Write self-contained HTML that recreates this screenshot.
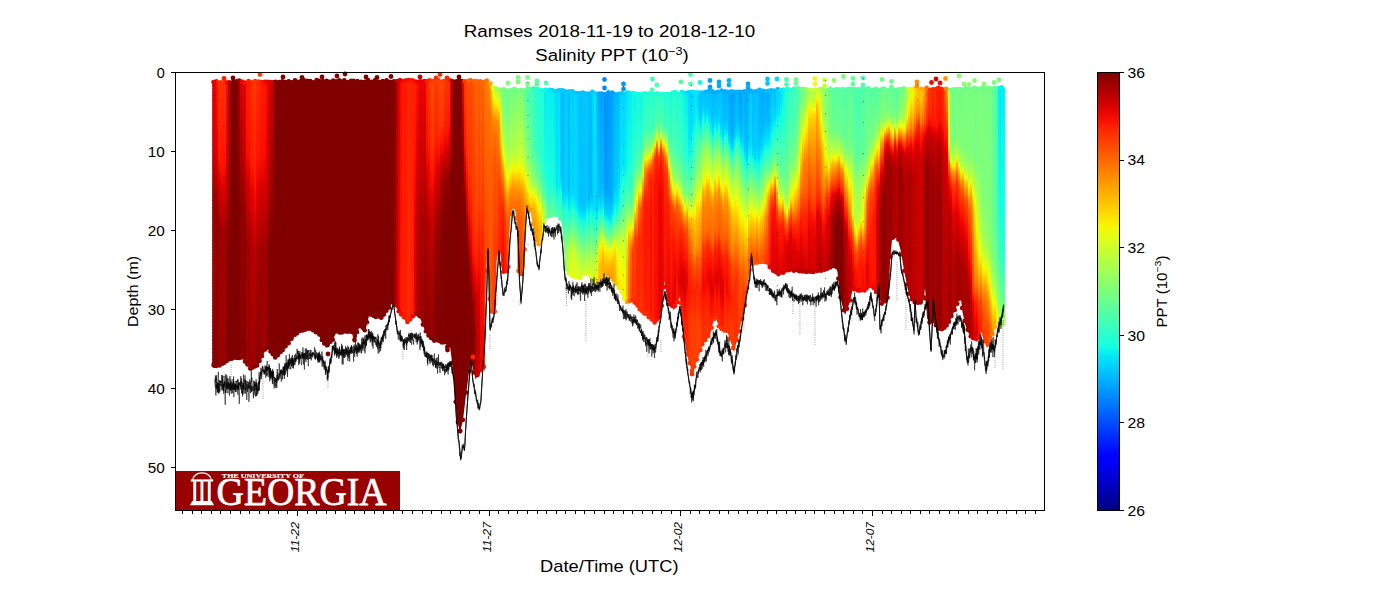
<!DOCTYPE html>
<html><head><meta charset="utf-8"><title>Ramses Salinity</title>
<style>html,body{margin:0;padding:0;background:#fff;overflow:hidden}svg{display:block}text{font-family:"Liberation Sans",sans-serif;fill:#000}</style></head>
<body>
<svg width="1400" height="600" viewBox="0 0 1400 600">
<rect width="1400" height="600" fill="#fff"/>
<defs>
<clipPath id="cp"><polygon points="212.5,81.0 300.0,80.5 400.0,80.0 486.0,80.0 490.0,82.0 494.0,88.0 500.0,89.0 530.0,88.5 560.0,90.0 580.0,91.5 600.0,92.5 660.0,93.0 700.0,91.0 760.0,90.0 800.0,88.5 900.0,88.5 1005.0,87.5 1005.0,325.0 1000.0,325.0 995.5,327.0 993.0,334.0 990.0,342.0 987.0,348.0 983.0,338.0 981.0,330.5 979.0,339.0 975.0,340.5 971.0,338.0 968.0,332.0 965.0,324.0 962.5,312.0 961.0,300.0 959.0,300.0 955.0,310.0 950.0,321.0 946.0,327.0 943.0,330.5 939.0,330.0 936.0,326.0 933.0,322.0 929.5,323.0 927.0,318.0 926.0,300.0 925.0,288.0 924.0,298.0 922.0,304.0 917.0,304.0 913.0,302.0 910.0,297.5 907.5,288.0 904.0,270.0 901.0,252.0 898.0,240.0 895.0,236.0 892.0,240.0 890.0,262.0 889.0,288.0 887.5,299.0 885.0,302.0 882.0,306.0 880.0,300.0 877.5,294.0 870.0,285.0 865.0,292.0 852.5,290.0 850.0,302.0 845.0,315.0 840.0,297.0 837.5,272.0 835.0,266.0 825.0,271.0 810.0,273.0 790.0,271.0 778.0,275.0 772.0,272.0 766.0,263.0 754.0,264.0 751.0,266.0 749.0,275.0 745.0,305.0 739.0,332.0 734.0,352.0 727.5,332.0 720.0,330.0 715.0,315.0 710.0,335.0 702.5,345.0 697.5,360.0 692.0,372.0 687.0,355.0 682.5,330.0 680.0,297.0 674.0,310.0 667.5,302.0 664.5,281.0 663.0,300.0 660.0,317.0 655.0,324.0 640.0,310.0 632.0,300.0 626.0,304.0 620.0,290.0 607.0,274.0 595.0,285.0 587.5,272.0 580.0,279.0 570.0,276.0 565.0,270.0 563.5,240.0 562.0,226.0 560.0,217.0 552.0,216.0 545.0,218.0 543.5,226.0 542.0,240.0 539.0,246.0 536.0,242.0 534.5,236.0 533.0,225.0 530.5,212.0 528.0,206.0 526.0,212.0 525.0,232.0 524.5,268.0 523.0,274.0 521.0,276.0 519.0,274.0 517.5,268.0 517.0,225.0 515.5,212.0 513.0,206.0 510.5,215.0 509.0,240.0 508.5,268.0 507.0,272.0 505.0,273.5 503.0,272.0 501.5,268.0 501.0,258.0 500.0,252.0 498.0,253.0 496.5,262.0 496.0,309.0 494.0,314.0 491.0,313.0 489.8,310.0 489.3,285.0 487.5,250.0 485.8,285.0 485.0,372.0 483.0,366.0 480.0,374.0 475.5,379.0 470.8,360.0 469.0,372.0 466.0,395.0 463.0,420.0 460.0,432.5 457.0,420.0 453.0,370.0 450.0,346.0 448.0,351.0 446.0,344.0 432.0,341.0 426.0,333.0 420.0,318.0 415.0,315.0 408.0,324.0 400.0,314.0 393.0,302.0 382.0,319.0 369.0,316.0 365.0,332.0 360.0,326.0 357.0,333.0 354.0,339.0 352.0,333.0 336.0,333.0 332.0,342.0 326.0,348.0 318.0,334.0 309.0,329.0 298.0,333.0 290.0,342.0 284.0,350.0 275.0,359.0 267.0,347.0 258.0,366.0 250.0,369.0 242.0,358.0 230.0,360.0 220.0,366.0 212.5,367.0"/></clipPath>
<clipPath id="ax"><rect x="176" y="73" width="868.5" height="437"/></clipPath>
<linearGradient id="g0" gradientUnits="userSpaceOnUse" x1="0" y1="74" x2="0" y2="440"><stop offset="0" stop-color="#d50000"/><stop offset="0.23" stop-color="#b50000"/><stop offset="0.361" stop-color="#900000"/><stop offset="0.557" stop-color="#960000"/><stop offset="0.885" stop-color="#830000"/><stop offset="0.995" stop-color="#830000"/></linearGradient>
<linearGradient id="g1" gradientUnits="userSpaceOnUse" x1="0" y1="74" x2="0" y2="440"><stop offset="0" stop-color="#f40a00"/><stop offset="0.23" stop-color="#d60000"/><stop offset="0.372" stop-color="#9b0000"/><stop offset="0.492" stop-color="#9b0000"/><stop offset="0.907" stop-color="#870000"/><stop offset="0.995" stop-color="#870000"/></linearGradient>
<linearGradient id="g2" gradientUnits="userSpaceOnUse" x1="0" y1="74" x2="0" y2="440"><stop offset="0" stop-color="#ff1600"/><stop offset="0.208" stop-color="#e50000"/><stop offset="0.383" stop-color="#890000"/><stop offset="0.601" stop-color="#8b0000"/><stop offset="0.842" stop-color="#800000"/><stop offset="0.995" stop-color="#800000"/></linearGradient>
<linearGradient id="g3" gradientUnits="userSpaceOnUse" x1="0" y1="74" x2="0" y2="440"><stop offset="0" stop-color="#ff3100"/><stop offset="0.23" stop-color="#ff1700"/><stop offset="0.284" stop-color="#e20000"/><stop offset="0.415" stop-color="#9a0000"/><stop offset="0.623" stop-color="#a00000"/><stop offset="0.863" stop-color="#8e0000"/><stop offset="0.995" stop-color="#8e0000"/></linearGradient>
<linearGradient id="g4" gradientUnits="userSpaceOnUse" x1="0" y1="74" x2="0" y2="440"><stop offset="0" stop-color="#ff3200"/><stop offset="0.24" stop-color="#ff1600"/><stop offset="0.306" stop-color="#de0000"/><stop offset="0.437" stop-color="#9b0000"/><stop offset="0.634" stop-color="#a20000"/><stop offset="0.863" stop-color="#8f0000"/><stop offset="0.995" stop-color="#8f0000"/></linearGradient>
<linearGradient id="g5" gradientUnits="userSpaceOnUse" x1="0" y1="74" x2="0" y2="440"><stop offset="0" stop-color="#ff3200"/><stop offset="0.251" stop-color="#fe1200"/><stop offset="0.317" stop-color="#dc0000"/><stop offset="0.448" stop-color="#9b0000"/><stop offset="0.656" stop-color="#a10000"/><stop offset="0.885" stop-color="#8e0000"/><stop offset="0.995" stop-color="#8e0000"/></linearGradient>
<linearGradient id="g6" gradientUnits="userSpaceOnUse" x1="0" y1="74" x2="0" y2="440"><stop offset="0" stop-color="#ff3700"/><stop offset="0.23" stop-color="#ff1500"/><stop offset="0.306" stop-color="#de0000"/><stop offset="0.426" stop-color="#a10000"/><stop offset="0.634" stop-color="#a80000"/><stop offset="0.852" stop-color="#950000"/><stop offset="0.995" stop-color="#950000"/></linearGradient>
<linearGradient id="g7" gradientUnits="userSpaceOnUse" x1="0" y1="74" x2="0" y2="440"><stop offset="0" stop-color="#f50b00"/><stop offset="0.23" stop-color="#d50000"/><stop offset="0.426" stop-color="#930000"/><stop offset="0.689" stop-color="#800000"/><stop offset="0.995" stop-color="#800000"/></linearGradient>
<linearGradient id="g8" gradientUnits="userSpaceOnUse" x1="0" y1="74" x2="0" y2="440"><stop offset="0" stop-color="#c40000"/><stop offset="0.273" stop-color="#ae0000"/><stop offset="0.525" stop-color="#800000"/><stop offset="0.995" stop-color="#800000"/></linearGradient>
<linearGradient id="g9" gradientUnits="userSpaceOnUse" x1="0" y1="74" x2="0" y2="440"><stop offset="0" stop-color="#a40000"/><stop offset="0.372" stop-color="#800000"/><stop offset="0.995" stop-color="#800000"/></linearGradient>
<linearGradient id="g10" gradientUnits="userSpaceOnUse" x1="0" y1="74" x2="0" y2="440"><stop offset="0" stop-color="#db0000"/><stop offset="0.208" stop-color="#af0000"/><stop offset="0.372" stop-color="#8b0000"/><stop offset="0.612" stop-color="#910000"/><stop offset="0.831" stop-color="#800000"/><stop offset="0.995" stop-color="#800000"/></linearGradient>
<linearGradient id="g11" gradientUnits="userSpaceOnUse" x1="0" y1="74" x2="0" y2="440"><stop offset="0" stop-color="#e40000"/><stop offset="0.23" stop-color="#b80000"/><stop offset="0.361" stop-color="#950000"/><stop offset="0.514" stop-color="#930000"/><stop offset="0.874" stop-color="#830000"/><stop offset="0.995" stop-color="#830000"/></linearGradient>
<linearGradient id="g12" gradientUnits="userSpaceOnUse" x1="0" y1="74" x2="0" y2="440"><stop offset="0" stop-color="#e70000"/><stop offset="0.208" stop-color="#cc0000"/><stop offset="0.383" stop-color="#900000"/><stop offset="0.459" stop-color="#870000"/><stop offset="0.601" stop-color="#8b0000"/><stop offset="0.929" stop-color="#810000"/><stop offset="0.995" stop-color="#810000"/></linearGradient>
<linearGradient id="g13" gradientUnits="userSpaceOnUse" x1="0" y1="74" x2="0" y2="440"><stop offset="0" stop-color="#ff1b00"/><stop offset="0.208" stop-color="#fa0f00"/><stop offset="0.273" stop-color="#df0000"/><stop offset="0.459" stop-color="#a10000"/><stop offset="0.634" stop-color="#a30000"/><stop offset="0.995" stop-color="#9b0000"/></linearGradient>
<linearGradient id="g14" gradientUnits="userSpaceOnUse" x1="0" y1="74" x2="0" y2="440"><stop offset="0" stop-color="#ff1f00"/><stop offset="0.208" stop-color="#fb1000"/><stop offset="0.284" stop-color="#dc0000"/><stop offset="0.459" stop-color="#a20000"/><stop offset="0.689" stop-color="#990000"/><stop offset="0.995" stop-color="#940000"/></linearGradient>
<linearGradient id="g15" gradientUnits="userSpaceOnUse" x1="0" y1="74" x2="0" y2="440"><stop offset="0" stop-color="#ff2e00"/><stop offset="0.24" stop-color="#ff1700"/><stop offset="0.339" stop-color="#de0000"/><stop offset="0.47" stop-color="#b20000"/><stop offset="0.885" stop-color="#9b0000"/><stop offset="0.995" stop-color="#9b0000"/></linearGradient>
<linearGradient id="g16" gradientUnits="userSpaceOnUse" x1="0" y1="74" x2="0" y2="440"><stop offset="0" stop-color="#ff3300"/><stop offset="0.24" stop-color="#ff1a00"/><stop offset="0.339" stop-color="#e40000"/><stop offset="0.481" stop-color="#b30000"/><stop offset="0.863" stop-color="#950000"/><stop offset="0.995" stop-color="#950000"/></linearGradient>
<linearGradient id="g17" gradientUnits="userSpaceOnUse" x1="0" y1="74" x2="0" y2="440"><stop offset="0" stop-color="#ff3e00"/><stop offset="0.251" stop-color="#ff2300"/><stop offset="0.328" stop-color="#f80d00"/><stop offset="0.404" stop-color="#da0000"/><stop offset="0.492" stop-color="#bd0000"/><stop offset="0.842" stop-color="#970000"/><stop offset="0.995" stop-color="#970000"/></linearGradient>
<linearGradient id="g18" gradientUnits="userSpaceOnUse" x1="0" y1="74" x2="0" y2="440"><stop offset="0" stop-color="#ff2c00"/><stop offset="0.24" stop-color="#ff1300"/><stop offset="0.339" stop-color="#dd0000"/><stop offset="0.492" stop-color="#a70000"/><stop offset="0.842" stop-color="#830000"/><stop offset="0.995" stop-color="#830000"/></linearGradient>
<linearGradient id="g19" gradientUnits="userSpaceOnUse" x1="0" y1="74" x2="0" y2="440"><stop offset="0" stop-color="#ff2a00"/><stop offset="0.23" stop-color="#ff1400"/><stop offset="0.317" stop-color="#e00000"/><stop offset="0.492" stop-color="#a80000"/><stop offset="0.863" stop-color="#8f0000"/><stop offset="0.995" stop-color="#8f0000"/></linearGradient>
<linearGradient id="g20" gradientUnits="userSpaceOnUse" x1="0" y1="74" x2="0" y2="440"><stop offset="0" stop-color="#ff1e00"/><stop offset="0.23" stop-color="#f80d00"/><stop offset="0.306" stop-color="#da0000"/><stop offset="0.503" stop-color="#9e0000"/><stop offset="0.743" stop-color="#920000"/><stop offset="0.995" stop-color="#8f0000"/></linearGradient>
<linearGradient id="g21" gradientUnits="userSpaceOnUse" x1="0" y1="74" x2="0" y2="440"><stop offset="0" stop-color="#ff1a00"/><stop offset="0.23" stop-color="#f80d00"/><stop offset="0.306" stop-color="#d90000"/><stop offset="0.492" stop-color="#9f0000"/><stop offset="0.689" stop-color="#9f0000"/><stop offset="0.995" stop-color="#980000"/></linearGradient>
<linearGradient id="g22" gradientUnits="userSpaceOnUse" x1="0" y1="74" x2="0" y2="440"><stop offset="0" stop-color="#ff1800"/><stop offset="0.219" stop-color="#f60c00"/><stop offset="0.295" stop-color="#d80000"/><stop offset="0.492" stop-color="#a00000"/><stop offset="0.689" stop-color="#a20000"/><stop offset="0.995" stop-color="#9d0000"/></linearGradient>
<linearGradient id="g23" gradientUnits="userSpaceOnUse" x1="0" y1="74" x2="0" y2="440"><stop offset="0" stop-color="#f80d00"/><stop offset="0.23" stop-color="#e10000"/><stop offset="0.503" stop-color="#960000"/><stop offset="0.995" stop-color="#900000"/></linearGradient>
<linearGradient id="g24" gradientUnits="userSpaceOnUse" x1="0" y1="74" x2="0" y2="440"><stop offset="0" stop-color="#df0000"/><stop offset="0.24" stop-color="#c00000"/><stop offset="0.503" stop-color="#800000"/><stop offset="0.995" stop-color="#800000"/></linearGradient>
<linearGradient id="g25" gradientUnits="userSpaceOnUse" x1="0" y1="74" x2="0" y2="440"><stop offset="0" stop-color="#d10000"/><stop offset="0.306" stop-color="#a30000"/><stop offset="0.47" stop-color="#800000"/><stop offset="0.995" stop-color="#800000"/></linearGradient>
<linearGradient id="g26" gradientUnits="userSpaceOnUse" x1="0" y1="74" x2="0" y2="440"><stop offset="0" stop-color="#c70000"/><stop offset="0.393" stop-color="#8b0000"/><stop offset="0.481" stop-color="#800000"/><stop offset="0.995" stop-color="#800000"/></linearGradient>
<linearGradient id="g27" gradientUnits="userSpaceOnUse" x1="0" y1="74" x2="0" y2="440"><stop offset="0" stop-color="#8d0000"/><stop offset="0.896" stop-color="#9f0000"/><stop offset="0.995" stop-color="#9f0000"/></linearGradient>
<linearGradient id="g28" gradientUnits="userSpaceOnUse" x1="0" y1="74" x2="0" y2="440"><stop offset="0" stop-color="#ae0000"/><stop offset="0.842" stop-color="#c30000"/><stop offset="0.995" stop-color="#c30000"/></linearGradient>
<linearGradient id="g29" gradientUnits="userSpaceOnUse" x1="0" y1="74" x2="0" y2="440"><stop offset="0" stop-color="#dc0000"/><stop offset="0.94" stop-color="#ee0500"/><stop offset="0.995" stop-color="#ee0500"/></linearGradient>
<linearGradient id="g30" gradientUnits="userSpaceOnUse" x1="0" y1="74" x2="0" y2="440"><stop offset="0" stop-color="#f40a00"/><stop offset="0.689" stop-color="#ff1500"/><stop offset="0.995" stop-color="#ff1500"/></linearGradient>
<linearGradient id="g31" gradientUnits="userSpaceOnUse" x1="0" y1="74" x2="0" y2="440"><stop offset="0" stop-color="#ff1900"/><stop offset="0.995" stop-color="#ff2200"/></linearGradient>
<linearGradient id="g32" gradientUnits="userSpaceOnUse" x1="0" y1="74" x2="0" y2="440"><stop offset="0" stop-color="#ff1400"/><stop offset="0.995" stop-color="#ff1d00"/></linearGradient>
<linearGradient id="g33" gradientUnits="userSpaceOnUse" x1="0" y1="74" x2="0" y2="440"><stop offset="0" stop-color="#ff1f00"/><stop offset="0.995" stop-color="#ff2800"/></linearGradient>
<linearGradient id="g34" gradientUnits="userSpaceOnUse" x1="0" y1="74" x2="0" y2="440"><stop offset="0" stop-color="#ff2600"/><stop offset="0.995" stop-color="#ff2f00"/></linearGradient>
<linearGradient id="g35" gradientUnits="userSpaceOnUse" x1="0" y1="74" x2="0" y2="440"><stop offset="0" stop-color="#ff1e00"/><stop offset="0.995" stop-color="#ff2800"/></linearGradient>
<linearGradient id="g36" gradientUnits="userSpaceOnUse" x1="0" y1="74" x2="0" y2="440"><stop offset="0" stop-color="#ff2400"/><stop offset="0.612" stop-color="#ff1900"/><stop offset="0.995" stop-color="#ff1a00"/></linearGradient>
<linearGradient id="g37" gradientUnits="userSpaceOnUse" x1="0" y1="74" x2="0" y2="440"><stop offset="0" stop-color="#ff2200"/><stop offset="0.24" stop-color="#fa0f00"/><stop offset="0.404" stop-color="#e30000"/><stop offset="0.798" stop-color="#d80000"/><stop offset="0.995" stop-color="#d80000"/></linearGradient>
<linearGradient id="g38" gradientUnits="userSpaceOnUse" x1="0" y1="74" x2="0" y2="440"><stop offset="0" stop-color="#ff1400"/><stop offset="0.262" stop-color="#df0000"/><stop offset="0.426" stop-color="#c10000"/><stop offset="0.743" stop-color="#af0000"/><stop offset="0.995" stop-color="#af0000"/></linearGradient>
<linearGradient id="g39" gradientUnits="userSpaceOnUse" x1="0" y1="74" x2="0" y2="440"><stop offset="0" stop-color="#f00600"/><stop offset="0.262" stop-color="#cc0000"/><stop offset="0.415" stop-color="#b00000"/><stop offset="0.721" stop-color="#9f0000"/><stop offset="0.995" stop-color="#9f0000"/></linearGradient>
<linearGradient id="g40" gradientUnits="userSpaceOnUse" x1="0" y1="74" x2="0" y2="440"><stop offset="0" stop-color="#ec0300"/><stop offset="0.251" stop-color="#c90000"/><stop offset="0.404" stop-color="#ad0000"/><stop offset="0.71" stop-color="#9b0000"/><stop offset="0.995" stop-color="#9b0000"/></linearGradient>
<linearGradient id="g41" gradientUnits="userSpaceOnUse" x1="0" y1="74" x2="0" y2="440"><stop offset="0" stop-color="#ef0600"/><stop offset="0.251" stop-color="#cc0000"/><stop offset="0.404" stop-color="#b00000"/><stop offset="0.721" stop-color="#9e0000"/><stop offset="0.995" stop-color="#9e0000"/></linearGradient>
<linearGradient id="g42" gradientUnits="userSpaceOnUse" x1="0" y1="74" x2="0" y2="440"><stop offset="0" stop-color="#eb0200"/><stop offset="0.23" stop-color="#c90000"/><stop offset="0.393" stop-color="#a10000"/><stop offset="0.689" stop-color="#880000"/><stop offset="0.995" stop-color="#880000"/></linearGradient>
<linearGradient id="g43" gradientUnits="userSpaceOnUse" x1="0" y1="74" x2="0" y2="440"><stop offset="0" stop-color="#ff2800"/><stop offset="0.197" stop-color="#fa0f00"/><stop offset="0.284" stop-color="#da0000"/><stop offset="0.393" stop-color="#b80000"/><stop offset="0.678" stop-color="#940000"/><stop offset="0.995" stop-color="#940000"/></linearGradient>
<linearGradient id="g44" gradientUnits="userSpaceOnUse" x1="0" y1="74" x2="0" y2="440"><stop offset="0" stop-color="#ff3600"/><stop offset="0.197" stop-color="#ff1a00"/><stop offset="0.251" stop-color="#f10700"/><stop offset="0.393" stop-color="#ba0000"/><stop offset="0.667" stop-color="#8f0000"/><stop offset="0.995" stop-color="#8f0000"/></linearGradient>
<linearGradient id="g45" gradientUnits="userSpaceOnUse" x1="0" y1="74" x2="0" y2="440"><stop offset="0" stop-color="#ff4700"/><stop offset="0.208" stop-color="#ff2b00"/><stop offset="0.295" stop-color="#f70c00"/><stop offset="0.361" stop-color="#d80000"/><stop offset="0.557" stop-color="#aa0000"/><stop offset="0.699" stop-color="#9b0000"/><stop offset="0.995" stop-color="#9b0000"/></linearGradient>
<linearGradient id="g46" gradientUnits="userSpaceOnUse" x1="0" y1="74" x2="0" y2="440"><stop offset="0" stop-color="#ff4d00"/><stop offset="0.186" stop-color="#ff3400"/><stop offset="0.295" stop-color="#f80d00"/><stop offset="0.35" stop-color="#dc0000"/><stop offset="0.492" stop-color="#b30000"/><stop offset="0.678" stop-color="#9a0000"/><stop offset="0.995" stop-color="#9a0000"/></linearGradient>
<linearGradient id="g47" gradientUnits="userSpaceOnUse" x1="0" y1="74" x2="0" y2="440"><stop offset="0" stop-color="#ff4000"/><stop offset="0.175" stop-color="#ff2500"/><stop offset="0.24" stop-color="#fa0f00"/><stop offset="0.306" stop-color="#d80000"/><stop offset="0.448" stop-color="#a00000"/><stop offset="0.656" stop-color="#810000"/><stop offset="0.995" stop-color="#810000"/></linearGradient>
<linearGradient id="g48" gradientUnits="userSpaceOnUse" x1="0" y1="74" x2="0" y2="440"><stop offset="0" stop-color="#ff3c00"/><stop offset="0.164" stop-color="#ff2000"/><stop offset="0.208" stop-color="#fa0f00"/><stop offset="0.262" stop-color="#dd0000"/><stop offset="0.415" stop-color="#960000"/><stop offset="0.59" stop-color="#800000"/><stop offset="0.995" stop-color="#800000"/></linearGradient>
<linearGradient id="g49" gradientUnits="userSpaceOnUse" x1="0" y1="74" x2="0" y2="440"><stop offset="0" stop-color="#ff4d00"/><stop offset="0.153" stop-color="#ff3200"/><stop offset="0.219" stop-color="#fb1000"/><stop offset="0.262" stop-color="#db0000"/><stop offset="0.404" stop-color="#9e0000"/><stop offset="0.689" stop-color="#820000"/><stop offset="0.995" stop-color="#810000"/></linearGradient>
<linearGradient id="g50" gradientUnits="userSpaceOnUse" x1="0" y1="74" x2="0" y2="440"><stop offset="0" stop-color="#ff4b00"/><stop offset="0.142" stop-color="#ff3200"/><stop offset="0.197" stop-color="#fb0f00"/><stop offset="0.23" stop-color="#df0000"/><stop offset="0.284" stop-color="#af0000"/><stop offset="0.437" stop-color="#860000"/><stop offset="0.995" stop-color="#800000"/></linearGradient>
<linearGradient id="g51" gradientUnits="userSpaceOnUse" x1="0" y1="74" x2="0" y2="440"><stop offset="0" stop-color="#ff4f00"/><stop offset="0.131" stop-color="#ff3600"/><stop offset="0.186" stop-color="#fe1200"/><stop offset="0.23" stop-color="#d50000"/><stop offset="0.284" stop-color="#a50000"/><stop offset="0.437" stop-color="#850000"/><stop offset="0.995" stop-color="#800000"/></linearGradient>
<linearGradient id="g52" gradientUnits="userSpaceOnUse" x1="0" y1="74" x2="0" y2="440"><stop offset="0" stop-color="#ff3800"/><stop offset="0.153" stop-color="#ff1a00"/><stop offset="0.186" stop-color="#ee0500"/><stop offset="0.295" stop-color="#8e0000"/><stop offset="0.404" stop-color="#800000"/><stop offset="0.995" stop-color="#800000"/></linearGradient>
<linearGradient id="g53" gradientUnits="userSpaceOnUse" x1="0" y1="74" x2="0" y2="440"><stop offset="0" stop-color="#ff3600"/><stop offset="0.153" stop-color="#ff1a00"/><stop offset="0.208" stop-color="#e10000"/><stop offset="0.295" stop-color="#900000"/><stop offset="0.415" stop-color="#800000"/><stop offset="0.995" stop-color="#800000"/></linearGradient>
<linearGradient id="g54" gradientUnits="userSpaceOnUse" x1="0" y1="74" x2="0" y2="440"><stop offset="0" stop-color="#ff3700"/><stop offset="0.142" stop-color="#ff1300"/><stop offset="0.186" stop-color="#e10000"/><stop offset="0.273" stop-color="#930000"/><stop offset="0.437" stop-color="#800000"/><stop offset="0.995" stop-color="#800000"/></linearGradient>
<linearGradient id="g55" gradientUnits="userSpaceOnUse" x1="0" y1="74" x2="0" y2="440"><stop offset="0" stop-color="#d90000"/><stop offset="0.131" stop-color="#bd0000"/><stop offset="0.295" stop-color="#800000"/><stop offset="0.995" stop-color="#800000"/></linearGradient>
<linearGradient id="g56" gradientUnits="userSpaceOnUse" x1="0" y1="74" x2="0" y2="440"><stop offset="0" stop-color="#910000"/><stop offset="0.131" stop-color="#800000"/><stop offset="0.995" stop-color="#800000"/></linearGradient>
<linearGradient id="g57" gradientUnits="userSpaceOnUse" x1="0" y1="74" x2="0" y2="440"><stop offset="0" stop-color="#f00600"/><stop offset="0.23" stop-color="#860000"/><stop offset="0.995" stop-color="#800000"/></linearGradient>
<linearGradient id="g58" gradientUnits="userSpaceOnUse" x1="0" y1="74" x2="0" y2="440"><stop offset="0" stop-color="#ff4000"/><stop offset="0.197" stop-color="#fc1100"/><stop offset="0.24" stop-color="#da0000"/><stop offset="0.361" stop-color="#800000"/><stop offset="0.995" stop-color="#800000"/></linearGradient>
<linearGradient id="g59" gradientUnits="userSpaceOnUse" x1="0" y1="74" x2="0" y2="440"><stop offset="0" stop-color="#ff4d00"/><stop offset="0.23" stop-color="#ff2b00"/><stop offset="0.295" stop-color="#f60b00"/><stop offset="0.35" stop-color="#d20000"/><stop offset="0.459" stop-color="#800000"/><stop offset="0.995" stop-color="#800000"/></linearGradient>
<linearGradient id="g60" gradientUnits="userSpaceOnUse" x1="0" y1="74" x2="0" y2="440"><stop offset="0" stop-color="#ff4e00"/><stop offset="0.273" stop-color="#ff3300"/><stop offset="0.372" stop-color="#fc1100"/><stop offset="0.415" stop-color="#dc0000"/><stop offset="0.536" stop-color="#830000"/><stop offset="0.995" stop-color="#800000"/></linearGradient>
<linearGradient id="g61" gradientUnits="userSpaceOnUse" x1="0" y1="74" x2="0" y2="440"><stop offset="0" stop-color="#ff4b00"/><stop offset="0.295" stop-color="#ff3200"/><stop offset="0.415" stop-color="#fa0f00"/><stop offset="0.481" stop-color="#d90000"/><stop offset="0.612" stop-color="#800000"/><stop offset="0.995" stop-color="#800000"/></linearGradient>
<linearGradient id="g62" gradientUnits="userSpaceOnUse" x1="0" y1="74" x2="0" y2="440"><stop offset="0" stop-color="#ff5600"/><stop offset="0.361" stop-color="#ff3500"/><stop offset="0.481" stop-color="#ff1400"/><stop offset="0.536" stop-color="#df0000"/><stop offset="0.634" stop-color="#900000"/><stop offset="0.699" stop-color="#800000"/><stop offset="0.798" stop-color="#860000"/><stop offset="0.874" stop-color="#950000"/><stop offset="0.995" stop-color="#950000"/></linearGradient>
<linearGradient id="g63" gradientUnits="userSpaceOnUse" x1="0" y1="74" x2="0" y2="440"><stop offset="0" stop-color="#ff5d00"/><stop offset="0.437" stop-color="#ff3500"/><stop offset="0.525" stop-color="#fc1000"/><stop offset="0.568" stop-color="#db0000"/><stop offset="0.634" stop-color="#ab0000"/><stop offset="0.721" stop-color="#8d0000"/><stop offset="0.852" stop-color="#b30000"/><stop offset="0.995" stop-color="#b30000"/></linearGradient>
<linearGradient id="g64" gradientUnits="userSpaceOnUse" x1="0" y1="74" x2="0" y2="440"><stop offset="0" stop-color="#ff6c00"/><stop offset="0.372" stop-color="#ff4800"/><stop offset="0.503" stop-color="#ff2300"/><stop offset="0.557" stop-color="#f50b00"/><stop offset="0.601" stop-color="#d70000"/><stop offset="0.721" stop-color="#ba0000"/><stop offset="0.852" stop-color="#d50000"/><stop offset="0.995" stop-color="#d50000"/></linearGradient>
<linearGradient id="g65" gradientUnits="userSpaceOnUse" x1="0" y1="74" x2="0" y2="440"><stop offset="0" stop-color="#ff5e00"/><stop offset="0.35" stop-color="#ff3b00"/><stop offset="0.525" stop-color="#f90e00"/><stop offset="0.601" stop-color="#d70000"/><stop offset="0.732" stop-color="#c20000"/><stop offset="0.885" stop-color="#d20000"/><stop offset="0.995" stop-color="#d20000"/></linearGradient>
<linearGradient id="g66" gradientUnits="userSpaceOnUse" x1="0" y1="74" x2="0" y2="440"><stop offset="0" stop-color="#ff6c00"/><stop offset="0.328" stop-color="#ff4800"/><stop offset="0.568" stop-color="#f90e00"/><stop offset="0.743" stop-color="#ee0500"/><stop offset="0.995" stop-color="#f10800"/></linearGradient>
<linearGradient id="g67" gradientUnits="userSpaceOnUse" x1="0" y1="74" x2="0" y2="440"><stop offset="0" stop-color="#ff6200"/><stop offset="0.361" stop-color="#ff3800"/><stop offset="0.546" stop-color="#fe1200"/><stop offset="0.71" stop-color="#f30900"/><stop offset="0.995" stop-color="#f30900"/></linearGradient>
<linearGradient id="g68" gradientUnits="userSpaceOnUse" x1="0" y1="74" x2="0" y2="440"><stop offset="0" stop-color="#ff7a00"/><stop offset="0.634" stop-color="#ff2e00"/><stop offset="0.995" stop-color="#ff2e00"/></linearGradient>
<linearGradient id="g69" gradientUnits="userSpaceOnUse" x1="0" y1="74" x2="0" y2="440"><stop offset="0" stop-color="#ff7f00"/><stop offset="0.426" stop-color="#ff4a00"/><stop offset="0.863" stop-color="#ff4000"/><stop offset="0.995" stop-color="#ff4000"/></linearGradient>
<linearGradient id="g70" gradientUnits="userSpaceOnUse" x1="0" y1="74" x2="0" y2="440"><stop offset="0" stop-color="#ff8d00"/><stop offset="0.12" stop-color="#ff6c00"/><stop offset="0.415" stop-color="#ff5100"/><stop offset="0.995" stop-color="#ff4b00"/></linearGradient>
<linearGradient id="g71" gradientUnits="userSpaceOnUse" x1="0" y1="74" x2="0" y2="440"><stop offset="0" stop-color="#ffd600"/><stop offset="0.0437" stop-color="#ffb500"/><stop offset="0.109" stop-color="#ff7c00"/><stop offset="0.262" stop-color="#ff6100"/><stop offset="0.831" stop-color="#ff5000"/><stop offset="0.995" stop-color="#ff5000"/></linearGradient>
<linearGradient id="g72" gradientUnits="userSpaceOnUse" x1="0" y1="74" x2="0" y2="440"><stop offset="0" stop-color="#baff3c"/><stop offset="0.0219" stop-color="#beff38"/><stop offset="0.0546" stop-color="#eeff09"/><stop offset="0.0656" stop-color="#ffec00"/><stop offset="0.12" stop-color="#ff9000"/><stop offset="0.164" stop-color="#ff7200"/><stop offset="0.24" stop-color="#ff5900"/><stop offset="0.481" stop-color="#ff4700"/><stop offset="0.995" stop-color="#ff4200"/></linearGradient>
<linearGradient id="g73" gradientUnits="userSpaceOnUse" x1="0" y1="74" x2="0" y2="440"><stop offset="0" stop-color="#8bff6b"/><stop offset="0.0219" stop-color="#9cff5b"/><stop offset="0.0656" stop-color="#e7ff0f"/><stop offset="0.0765" stop-color="#fcef00"/><stop offset="0.12" stop-color="#ff9600"/><stop offset="0.164" stop-color="#ff6f00"/><stop offset="0.23" stop-color="#ff5600"/><stop offset="0.47" stop-color="#ff3b00"/><stop offset="0.995" stop-color="#ff3700"/></linearGradient>
<linearGradient id="g74" gradientUnits="userSpaceOnUse" x1="0" y1="74" x2="0" y2="440"><stop offset="0" stop-color="#83ff74"/><stop offset="0.0546" stop-color="#c7ff30"/><stop offset="0.0765" stop-color="#f2fb05"/><stop offset="0.0874" stop-color="#ffe200"/><stop offset="0.131" stop-color="#ff8600"/><stop offset="0.24" stop-color="#ff5e00"/><stop offset="0.481" stop-color="#ff3800"/><stop offset="0.995" stop-color="#ff3700"/></linearGradient>
<linearGradient id="g75" gradientUnits="userSpaceOnUse" x1="0" y1="74" x2="0" y2="440"><stop offset="0" stop-color="#8bff6b"/><stop offset="0.0546" stop-color="#c1ff35"/><stop offset="0.0765" stop-color="#e7ff10"/><stop offset="0.0874" stop-color="#fbf000"/><stop offset="0.131" stop-color="#ff9a00"/><stop offset="0.306" stop-color="#ff3f00"/><stop offset="0.503" stop-color="#ff1d00"/><stop offset="0.995" stop-color="#ff1d00"/></linearGradient>
<linearGradient id="g76" gradientUnits="userSpaceOnUse" x1="0" y1="74" x2="0" y2="440"><stop offset="0" stop-color="#77ff7f"/><stop offset="0.0656" stop-color="#9dff5a"/><stop offset="0.131" stop-color="#e8ff0f"/><stop offset="0.142" stop-color="#f7f600"/><stop offset="0.186" stop-color="#ffd200"/><stop offset="0.24" stop-color="#ff8600"/><stop offset="0.317" stop-color="#ff4400"/><stop offset="0.372" stop-color="#ff2b00"/><stop offset="0.557" stop-color="#fd1100"/><stop offset="0.995" stop-color="#fd1100"/></linearGradient>
<linearGradient id="g77" gradientUnits="userSpaceOnUse" x1="0" y1="74" x2="0" y2="440"><stop offset="0" stop-color="#71ff86"/><stop offset="0.12" stop-color="#8eff69"/><stop offset="0.197" stop-color="#cdff2a"/><stop offset="0.219" stop-color="#f2fb05"/><stop offset="0.23" stop-color="#ffe100"/><stop offset="0.262" stop-color="#ffa100"/><stop offset="0.306" stop-color="#ff6400"/><stop offset="0.372" stop-color="#ff2300"/><stop offset="0.47" stop-color="#f90e00"/><stop offset="0.579" stop-color="#e50000"/><stop offset="0.995" stop-color="#e50000"/></linearGradient>
<linearGradient id="g78" gradientUnits="userSpaceOnUse" x1="0" y1="74" x2="0" y2="440"><stop offset="0" stop-color="#6dff8a"/><stop offset="0.0874" stop-color="#7dff7a"/><stop offset="0.164" stop-color="#9fff58"/><stop offset="0.219" stop-color="#ccff2b"/><stop offset="0.24" stop-color="#ecff0b"/><stop offset="0.251" stop-color="#feee00"/><stop offset="0.35" stop-color="#ff5b00"/><stop offset="0.404" stop-color="#ff3400"/><stop offset="0.579" stop-color="#f90e00"/><stop offset="0.995" stop-color="#f90e00"/></linearGradient>
<linearGradient id="g79" gradientUnits="userSpaceOnUse" x1="0" y1="74" x2="0" y2="440"><stop offset="0" stop-color="#5fff98"/><stop offset="0.0874" stop-color="#6dff8a"/><stop offset="0.197" stop-color="#9cff5b"/><stop offset="0.251" stop-color="#c6ff31"/><stop offset="0.284" stop-color="#eeff09"/><stop offset="0.306" stop-color="#ffda00"/><stop offset="0.35" stop-color="#ff8900"/><stop offset="0.415" stop-color="#ff5400"/><stop offset="0.579" stop-color="#ff2a00"/><stop offset="0.995" stop-color="#ff2a00"/></linearGradient>
<linearGradient id="g80" gradientUnits="userSpaceOnUse" x1="0" y1="74" x2="0" y2="440"><stop offset="0" stop-color="#62ff94"/><stop offset="0.131" stop-color="#87ff70"/><stop offset="0.23" stop-color="#b3ff44"/><stop offset="0.273" stop-color="#e6ff11"/><stop offset="0.284" stop-color="#f7f500"/><stop offset="0.328" stop-color="#ff9800"/><stop offset="0.393" stop-color="#ff5d00"/><stop offset="0.568" stop-color="#ff3400"/><stop offset="0.995" stop-color="#ff3400"/></linearGradient>
<linearGradient id="g81" gradientUnits="userSpaceOnUse" x1="0" y1="74" x2="0" y2="440"><stop offset="0" stop-color="#6cff8a"/><stop offset="0.208" stop-color="#b5ff42"/><stop offset="0.24" stop-color="#d1ff26"/><stop offset="0.262" stop-color="#eeff09"/><stop offset="0.273" stop-color="#ffec00"/><stop offset="0.317" stop-color="#ff9100"/><stop offset="0.372" stop-color="#ff5c00"/><stop offset="0.557" stop-color="#ff3c00"/><stop offset="0.995" stop-color="#ff3c00"/></linearGradient>
<linearGradient id="g82" gradientUnits="userSpaceOnUse" x1="0" y1="74" x2="0" y2="440"><stop offset="0" stop-color="#61ff96"/><stop offset="0.208" stop-color="#aeff48"/><stop offset="0.251" stop-color="#e9ff0e"/><stop offset="0.262" stop-color="#fbf000"/><stop offset="0.306" stop-color="#ff9900"/><stop offset="0.361" stop-color="#ff6d00"/><stop offset="0.612" stop-color="#ff5e00"/><stop offset="0.995" stop-color="#ff5e00"/></linearGradient>
<linearGradient id="g83" gradientUnits="userSpaceOnUse" x1="0" y1="74" x2="0" y2="440"><stop offset="0" stop-color="#66ff91"/><stop offset="0.219" stop-color="#b5ff42"/><stop offset="0.262" stop-color="#f5f701"/><stop offset="0.284" stop-color="#ffcb00"/><stop offset="0.317" stop-color="#ff9000"/><stop offset="0.361" stop-color="#ff6a00"/><stop offset="0.995" stop-color="#ff6a00"/></linearGradient>
<linearGradient id="g84" gradientUnits="userSpaceOnUse" x1="0" y1="74" x2="0" y2="440"><stop offset="0" stop-color="#67ff8f"/><stop offset="0.219" stop-color="#bbff3c"/><stop offset="0.251" stop-color="#e7ff10"/><stop offset="0.262" stop-color="#f7f500"/><stop offset="0.306" stop-color="#ffa200"/><stop offset="0.35" stop-color="#ff7200"/><stop offset="0.448" stop-color="#ff5f00"/><stop offset="0.995" stop-color="#ff5a00"/></linearGradient>
<linearGradient id="g85" gradientUnits="userSpaceOnUse" x1="0" y1="74" x2="0" y2="440"><stop offset="0" stop-color="#71ff86"/><stop offset="0.219" stop-color="#c8ff2f"/><stop offset="0.251" stop-color="#eeff09"/><stop offset="0.262" stop-color="#fdee00"/><stop offset="0.328" stop-color="#ff7f00"/><stop offset="0.383" stop-color="#ff5c00"/><stop offset="0.546" stop-color="#ff4200"/><stop offset="0.995" stop-color="#ff4200"/></linearGradient>
<linearGradient id="g86" gradientUnits="userSpaceOnUse" x1="0" y1="74" x2="0" y2="440"><stop offset="0" stop-color="#6dff8a"/><stop offset="0.12" stop-color="#99ff5e"/><stop offset="0.24" stop-color="#d7ff20"/><stop offset="0.262" stop-color="#f4f903"/><stop offset="0.284" stop-color="#ffd600"/><stop offset="0.328" stop-color="#ff8a00"/><stop offset="0.393" stop-color="#ff5e00"/><stop offset="0.514" stop-color="#ff3e00"/><stop offset="0.995" stop-color="#ff3900"/></linearGradient>
<linearGradient id="g87" gradientUnits="userSpaceOnUse" x1="0" y1="74" x2="0" y2="440"><stop offset="0" stop-color="#5cff9b"/><stop offset="0.197" stop-color="#aeff48"/><stop offset="0.24" stop-color="#d1ff26"/><stop offset="0.262" stop-color="#eeff09"/><stop offset="0.284" stop-color="#ffda00"/><stop offset="0.328" stop-color="#ff9600"/><stop offset="0.393" stop-color="#ff6d00"/><stop offset="0.546" stop-color="#ff4b00"/><stop offset="0.995" stop-color="#ff4b00"/></linearGradient>
<linearGradient id="g88" gradientUnits="userSpaceOnUse" x1="0" y1="74" x2="0" y2="440"><stop offset="0" stop-color="#50ffa7"/><stop offset="0.208" stop-color="#9eff59"/><stop offset="0.24" stop-color="#b9ff3e"/><stop offset="0.284" stop-color="#f3f903"/><stop offset="0.306" stop-color="#ffce00"/><stop offset="0.339" stop-color="#ffa000"/><stop offset="0.393" stop-color="#ff7b00"/><stop offset="0.59" stop-color="#ff6600"/><stop offset="0.995" stop-color="#ff6600"/></linearGradient>
<linearGradient id="g89" gradientUnits="userSpaceOnUse" x1="0" y1="74" x2="0" y2="440"><stop offset="0" stop-color="#45ffb2"/><stop offset="0.0656" stop-color="#52ffa5"/><stop offset="0.24" stop-color="#98ff5f"/><stop offset="0.306" stop-color="#f2fb05"/><stop offset="0.317" stop-color="#ffe400"/><stop offset="0.35" stop-color="#ffb100"/><stop offset="0.404" stop-color="#ff8700"/><stop offset="0.995" stop-color="#ff7f00"/></linearGradient>
<linearGradient id="g90" gradientUnits="userSpaceOnUse" x1="0" y1="74" x2="0" y2="440"><stop offset="0" stop-color="#3effb9"/><stop offset="0.0765" stop-color="#4cffab"/><stop offset="0.24" stop-color="#82ff75"/><stop offset="0.317" stop-color="#e6ff11"/><stop offset="0.328" stop-color="#f9f300"/><stop offset="0.361" stop-color="#ffbc00"/><stop offset="0.404" stop-color="#ff9100"/><stop offset="0.71" stop-color="#ff8a00"/><stop offset="0.995" stop-color="#ff8a00"/></linearGradient>
<linearGradient id="g91" gradientUnits="userSpaceOnUse" x1="0" y1="74" x2="0" y2="440"><stop offset="0" stop-color="#3bffbc"/><stop offset="0.23" stop-color="#6eff89"/><stop offset="0.306" stop-color="#c0ff37"/><stop offset="0.328" stop-color="#eaff0d"/><stop offset="0.339" stop-color="#ffea00"/><stop offset="0.383" stop-color="#ffa200"/><stop offset="0.437" stop-color="#ff8700"/><stop offset="0.995" stop-color="#ff8700"/></linearGradient>
<linearGradient id="g92" gradientUnits="userSpaceOnUse" x1="0" y1="74" x2="0" y2="440"><stop offset="0" stop-color="#30ffc7"/><stop offset="0.208" stop-color="#50ffa7"/><stop offset="0.295" stop-color="#9bff5c"/><stop offset="0.328" stop-color="#effe08"/><stop offset="0.339" stop-color="#ffe400"/><stop offset="0.372" stop-color="#ffab00"/><stop offset="0.426" stop-color="#ff8d00"/><stop offset="0.995" stop-color="#ff8d00"/></linearGradient>
<linearGradient id="g93" gradientUnits="userSpaceOnUse" x1="0" y1="74" x2="0" y2="440"><stop offset="0" stop-color="#26ffd1"/><stop offset="0.197" stop-color="#3bffbb"/><stop offset="0.284" stop-color="#7aff7d"/><stop offset="0.328" stop-color="#e7ff10"/><stop offset="0.339" stop-color="#fdee00"/><stop offset="0.361" stop-color="#ffc300"/><stop offset="0.415" stop-color="#ff9900"/><stop offset="0.995" stop-color="#ff9800"/></linearGradient>
<linearGradient id="g94" gradientUnits="userSpaceOnUse" x1="0" y1="74" x2="0" y2="440"><stop offset="0" stop-color="#24ffd2"/><stop offset="0.208" stop-color="#3affbc"/><stop offset="0.284" stop-color="#6eff89"/><stop offset="0.317" stop-color="#acff4b"/><stop offset="0.339" stop-color="#e1ff16"/><stop offset="0.35" stop-color="#faf200"/><stop offset="0.383" stop-color="#ffbf00"/><stop offset="0.426" stop-color="#ff9d00"/><stop offset="0.995" stop-color="#ff9d00"/></linearGradient>
<linearGradient id="g95" gradientUnits="userSpaceOnUse" x1="0" y1="74" x2="0" y2="440"><stop offset="0" stop-color="#19ffde"/><stop offset="0.23" stop-color="#2effc9"/><stop offset="0.306" stop-color="#6cff8b"/><stop offset="0.328" stop-color="#93ff64"/><stop offset="0.361" stop-color="#e7ff10"/><stop offset="0.372" stop-color="#faf200"/><stop offset="0.426" stop-color="#ffaf00"/><stop offset="0.995" stop-color="#ffad00"/></linearGradient>
<linearGradient id="g96" gradientUnits="userSpaceOnUse" x1="0" y1="74" x2="0" y2="440"><stop offset="0" stop-color="#1effd9"/><stop offset="0.23" stop-color="#31ffc6"/><stop offset="0.306" stop-color="#6cff8a"/><stop offset="0.361" stop-color="#e9ff0e"/><stop offset="0.372" stop-color="#f8f400"/><stop offset="0.415" stop-color="#ffc200"/><stop offset="0.995" stop-color="#ffbf00"/></linearGradient>
<linearGradient id="g97" gradientUnits="userSpaceOnUse" x1="0" y1="74" x2="0" y2="440"><stop offset="0" stop-color="#15ffe2"/><stop offset="0.262" stop-color="#2affcd"/><stop offset="0.339" stop-color="#62ff95"/><stop offset="0.393" stop-color="#d0ff27"/><stop offset="0.448" stop-color="#f7f500"/><stop offset="0.995" stop-color="#f8f400"/></linearGradient>
<linearGradient id="g98" gradientUnits="userSpaceOnUse" x1="0" y1="74" x2="0" y2="440"><stop offset="0" stop-color="#01e6f6"/><stop offset="0.251" stop-color="#17ffe0"/><stop offset="0.317" stop-color="#43ffb4"/><stop offset="0.35" stop-color="#7bff7c"/><stop offset="0.372" stop-color="#a4ff53"/><stop offset="0.426" stop-color="#beff39"/><stop offset="0.995" stop-color="#beff39"/></linearGradient>
<linearGradient id="g99" gradientUnits="userSpaceOnUse" x1="0" y1="74" x2="0" y2="440"><stop offset="0" stop-color="#05ebf2"/><stop offset="0.284" stop-color="#19ffde"/><stop offset="0.35" stop-color="#4affad"/><stop offset="0.393" stop-color="#96ff61"/><stop offset="0.776" stop-color="#9cff5a"/><stop offset="0.995" stop-color="#9cff5a"/></linearGradient>
<linearGradient id="g100" gradientUnits="userSpaceOnUse" x1="0" y1="74" x2="0" y2="440"><stop offset="0" stop-color="#05ecf2"/><stop offset="0.317" stop-color="#1cffdb"/><stop offset="0.383" stop-color="#53ffa4"/><stop offset="0.415" stop-color="#86ff71"/><stop offset="0.995" stop-color="#86ff71"/></linearGradient>
<linearGradient id="g101" gradientUnits="userSpaceOnUse" x1="0" y1="74" x2="0" y2="440"><stop offset="0" stop-color="#03eaf3"/><stop offset="0.295" stop-color="#16ffe1"/><stop offset="0.372" stop-color="#56ffa1"/><stop offset="0.393" stop-color="#76ff81"/><stop offset="0.995" stop-color="#7cff7b"/></linearGradient>
<linearGradient id="g102" gradientUnits="userSpaceOnUse" x1="0" y1="74" x2="0" y2="440"><stop offset="0" stop-color="#06edf1"/><stop offset="0.295" stop-color="#1bffdc"/><stop offset="0.372" stop-color="#5fff98"/><stop offset="0.393" stop-color="#75ff81"/><stop offset="0.995" stop-color="#76ff81"/></linearGradient>
<linearGradient id="g103" gradientUnits="userSpaceOnUse" x1="0" y1="74" x2="0" y2="440"><stop offset="0" stop-color="#00e0fb"/><stop offset="0.295" stop-color="#0ef7e9"/><stop offset="0.339" stop-color="#30ffc7"/><stop offset="0.404" stop-color="#63ff94"/><stop offset="0.995" stop-color="#63ff94"/></linearGradient>
<linearGradient id="g104" gradientUnits="userSpaceOnUse" x1="0" y1="74" x2="0" y2="440"><stop offset="0" stop-color="#00d7ff"/><stop offset="0.306" stop-color="#02e8f4"/><stop offset="0.339" stop-color="#1bffdc"/><stop offset="0.415" stop-color="#57ff9f"/><stop offset="0.995" stop-color="#5dff9a"/></linearGradient>
<linearGradient id="g105" gradientUnits="userSpaceOnUse" x1="0" y1="74" x2="0" y2="440"><stop offset="0" stop-color="#00e0fb"/><stop offset="0.306" stop-color="#08efef"/><stop offset="0.339" stop-color="#24ffd2"/><stop offset="0.415" stop-color="#63ff94"/><stop offset="0.459" stop-color="#6fff88"/><stop offset="0.995" stop-color="#6fff88"/></linearGradient>
<linearGradient id="g106" gradientUnits="userSpaceOnUse" x1="0" y1="74" x2="0" y2="440"><stop offset="0" stop-color="#00c7ff"/><stop offset="0.273" stop-color="#00cbff"/><stop offset="0.306" stop-color="#05ebf2"/><stop offset="0.328" stop-color="#19ffde"/><stop offset="0.415" stop-color="#65ff91"/><stop offset="0.995" stop-color="#65ff91"/></linearGradient>
<linearGradient id="g107" gradientUnits="userSpaceOnUse" x1="0" y1="74" x2="0" y2="440"><stop offset="0" stop-color="#00baff"/><stop offset="0.306" stop-color="#00bfff"/><stop offset="0.339" stop-color="#00e0fb"/><stop offset="0.372" stop-color="#1affdc"/><stop offset="0.437" stop-color="#5dff9a"/><stop offset="0.546" stop-color="#6fff88"/><stop offset="0.995" stop-color="#70ff87"/></linearGradient>
<linearGradient id="g108" gradientUnits="userSpaceOnUse" x1="0" y1="74" x2="0" y2="440"><stop offset="0" stop-color="#00caff"/><stop offset="0.317" stop-color="#00d0ff"/><stop offset="0.35" stop-color="#07eef0"/><stop offset="0.372" stop-color="#1affdc"/><stop offset="0.459" stop-color="#71ff86"/><stop offset="0.514" stop-color="#91ff65"/><stop offset="0.678" stop-color="#9bff5b"/><stop offset="0.995" stop-color="#9bff5b"/></linearGradient>
<linearGradient id="g109" gradientUnits="userSpaceOnUse" x1="0" y1="74" x2="0" y2="440"><stop offset="0" stop-color="#00ccff"/><stop offset="0.306" stop-color="#00d0ff"/><stop offset="0.328" stop-color="#00dcfe"/><stop offset="0.361" stop-color="#16ffe1"/><stop offset="0.415" stop-color="#50ffa7"/><stop offset="0.492" stop-color="#a9ff4e"/><stop offset="0.612" stop-color="#bcff3b"/><stop offset="0.995" stop-color="#bcff3b"/></linearGradient>
<linearGradient id="g110" gradientUnits="userSpaceOnUse" x1="0" y1="74" x2="0" y2="440"><stop offset="0" stop-color="#00bcff"/><stop offset="0.317" stop-color="#00bfff"/><stop offset="0.35" stop-color="#00defd"/><stop offset="0.383" stop-color="#16ffe1"/><stop offset="0.47" stop-color="#96ff61"/><stop offset="0.492" stop-color="#b4ff42"/><stop offset="0.59" stop-color="#ceff29"/><stop offset="0.995" stop-color="#ceff29"/></linearGradient>
<linearGradient id="g111" gradientUnits="userSpaceOnUse" x1="0" y1="74" x2="0" y2="440"><stop offset="0" stop-color="#00d4ff"/><stop offset="0.328" stop-color="#00d8ff"/><stop offset="0.361" stop-color="#0ff8e8"/><stop offset="0.404" stop-color="#3dffba"/><stop offset="0.459" stop-color="#95ff62"/><stop offset="0.492" stop-color="#d0ff27"/><stop offset="0.579" stop-color="#f0fd06"/><stop offset="0.995" stop-color="#f0fd06"/></linearGradient>
<linearGradient id="g112" gradientUnits="userSpaceOnUse" x1="0" y1="74" x2="0" y2="440"><stop offset="0" stop-color="#00d0ff"/><stop offset="0.306" stop-color="#00d0ff"/><stop offset="0.339" stop-color="#03e9f4"/><stop offset="0.361" stop-color="#18ffdf"/><stop offset="0.426" stop-color="#73ff84"/><stop offset="0.47" stop-color="#c3ff34"/><stop offset="0.557" stop-color="#edff0a"/><stop offset="0.995" stop-color="#edff0a"/></linearGradient>
<linearGradient id="g113" gradientUnits="userSpaceOnUse" x1="0" y1="74" x2="0" y2="440"><stop offset="0" stop-color="#00d8ff"/><stop offset="0.328" stop-color="#00daff"/><stop offset="0.361" stop-color="#09f1ed"/><stop offset="0.372" stop-color="#15ffe2"/><stop offset="0.426" stop-color="#5cff9b"/><stop offset="0.492" stop-color="#c7ff30"/><stop offset="0.568" stop-color="#f2fb05"/><stop offset="0.995" stop-color="#f3fa04"/></linearGradient>
<linearGradient id="g114" gradientUnits="userSpaceOnUse" x1="0" y1="74" x2="0" y2="440"><stop offset="0" stop-color="#00d1ff"/><stop offset="0.339" stop-color="#00d6ff"/><stop offset="0.361" stop-color="#01e7f5"/><stop offset="0.383" stop-color="#1affdd"/><stop offset="0.448" stop-color="#7aff7d"/><stop offset="0.492" stop-color="#bdff39"/><stop offset="0.568" stop-color="#edff0a"/><stop offset="0.995" stop-color="#edff0a"/></linearGradient>
<linearGradient id="g115" gradientUnits="userSpaceOnUse" x1="0" y1="74" x2="0" y2="440"><stop offset="0" stop-color="#00c3ff"/><stop offset="0.35" stop-color="#00c5ff"/><stop offset="0.372" stop-color="#00d8ff"/><stop offset="0.393" stop-color="#0ff9e7"/><stop offset="0.459" stop-color="#71ff85"/><stop offset="0.514" stop-color="#bbff3c"/><stop offset="0.568" stop-color="#e0ff17"/><stop offset="0.995" stop-color="#e1ff15"/></linearGradient>
<linearGradient id="g116" gradientUnits="userSpaceOnUse" x1="0" y1="74" x2="0" y2="440"><stop offset="0" stop-color="#00bfff"/><stop offset="0.35" stop-color="#00bfff"/><stop offset="0.383" stop-color="#00e5f7"/><stop offset="0.404" stop-color="#1affdc"/><stop offset="0.503" stop-color="#abff4c"/><stop offset="0.568" stop-color="#ddff1a"/><stop offset="0.995" stop-color="#deff18"/></linearGradient>
<linearGradient id="g117" gradientUnits="userSpaceOnUse" x1="0" y1="74" x2="0" y2="440"><stop offset="0" stop-color="#00c5ff"/><stop offset="0.361" stop-color="#00c5ff"/><stop offset="0.383" stop-color="#00dbff"/><stop offset="0.404" stop-color="#11fbe6"/><stop offset="0.514" stop-color="#acff4a"/><stop offset="0.579" stop-color="#e2ff15"/><stop offset="0.995" stop-color="#e6ff11"/></linearGradient>
<linearGradient id="g118" gradientUnits="userSpaceOnUse" x1="0" y1="74" x2="0" y2="440"><stop offset="0" stop-color="#00c7ff"/><stop offset="0.361" stop-color="#00c6ff"/><stop offset="0.383" stop-color="#00defd"/><stop offset="0.404" stop-color="#13fde3"/><stop offset="0.525" stop-color="#b8ff3f"/><stop offset="0.579" stop-color="#e3ff14"/><stop offset="0.809" stop-color="#e9ff0d"/><stop offset="0.995" stop-color="#e9ff0d"/></linearGradient>
<linearGradient id="g119" gradientUnits="userSpaceOnUse" x1="0" y1="74" x2="0" y2="440"><stop offset="0" stop-color="#00cbff"/><stop offset="0.339" stop-color="#00c7ff"/><stop offset="0.361" stop-color="#00dffc"/><stop offset="0.383" stop-color="#13fde4"/><stop offset="0.503" stop-color="#b6ff41"/><stop offset="0.557" stop-color="#e5ff12"/><stop offset="0.634" stop-color="#efff08"/><stop offset="0.995" stop-color="#efff08"/></linearGradient>
<linearGradient id="g120" gradientUnits="userSpaceOnUse" x1="0" y1="74" x2="0" y2="440"><stop offset="0" stop-color="#00c0ff"/><stop offset="0.339" stop-color="#00b6ff"/><stop offset="0.372" stop-color="#00ddfe"/><stop offset="0.393" stop-color="#11fae6"/><stop offset="0.514" stop-color="#b1ff45"/><stop offset="0.557" stop-color="#d9ff1e"/><stop offset="0.612" stop-color="#e8ff0f"/><stop offset="0.995" stop-color="#e8ff0f"/></linearGradient>
<linearGradient id="g121" gradientUnits="userSpaceOnUse" x1="0" y1="74" x2="0" y2="440"><stop offset="0" stop-color="#00c1ff"/><stop offset="0.317" stop-color="#00b6ff"/><stop offset="0.35" stop-color="#00d4ff"/><stop offset="0.372" stop-color="#0af1ed"/><stop offset="0.383" stop-color="#15ffe1"/><stop offset="0.503" stop-color="#b4ff43"/><stop offset="0.557" stop-color="#deff18"/><stop offset="0.71" stop-color="#e5ff12"/><stop offset="0.995" stop-color="#e5ff12"/></linearGradient>
<linearGradient id="g122" gradientUnits="userSpaceOnUse" x1="0" y1="74" x2="0" y2="440"><stop offset="0" stop-color="#00d9ff"/><stop offset="0.339" stop-color="#00cdff"/><stop offset="0.361" stop-color="#00dcfe"/><stop offset="0.393" stop-color="#1cffdb"/><stop offset="0.514" stop-color="#b9ff3e"/><stop offset="0.579" stop-color="#ebff0b"/><stop offset="0.995" stop-color="#eeff09"/></linearGradient>
<linearGradient id="g123" gradientUnits="userSpaceOnUse" x1="0" y1="74" x2="0" y2="440"><stop offset="0" stop-color="#03e9f4"/><stop offset="0.361" stop-color="#00dcff"/><stop offset="0.383" stop-color="#08efef"/><stop offset="0.393" stop-color="#14fee3"/><stop offset="0.459" stop-color="#65ff92"/><stop offset="0.525" stop-color="#bbff3c"/><stop offset="0.59" stop-color="#eeff09"/><stop offset="0.995" stop-color="#f0fd07"/></linearGradient>
<linearGradient id="g124" gradientUnits="userSpaceOnUse" x1="0" y1="74" x2="0" y2="440"><stop offset="0" stop-color="#00c4ff"/><stop offset="0.361" stop-color="#00cdff"/><stop offset="0.383" stop-color="#00e6f6"/><stop offset="0.404" stop-color="#19ffdd"/><stop offset="0.437" stop-color="#43ffb4"/><stop offset="0.503" stop-color="#c9ff2e"/><stop offset="0.536" stop-color="#ebff0c"/><stop offset="0.579" stop-color="#ffe800"/><stop offset="0.995" stop-color="#ffe600"/></linearGradient>
<linearGradient id="g125" gradientUnits="userSpaceOnUse" x1="0" y1="74" x2="0" y2="440"><stop offset="0" stop-color="#00a2ff"/><stop offset="0.328" stop-color="#00c0ff"/><stop offset="0.361" stop-color="#01e6f6"/><stop offset="0.383" stop-color="#1bffdc"/><stop offset="0.404" stop-color="#3bffbc"/><stop offset="0.437" stop-color="#8fff68"/><stop offset="0.47" stop-color="#ebff0c"/><stop offset="0.481" stop-color="#ffe700"/><stop offset="0.536" stop-color="#ffc300"/><stop offset="0.995" stop-color="#ffc200"/></linearGradient>
<linearGradient id="g126" gradientUnits="userSpaceOnUse" x1="0" y1="74" x2="0" y2="440"><stop offset="0" stop-color="#009cff"/><stop offset="0.317" stop-color="#00b6ff"/><stop offset="0.361" stop-color="#00defd"/><stop offset="0.383" stop-color="#16ffe1"/><stop offset="0.415" stop-color="#56ffa1"/><stop offset="0.47" stop-color="#f2fb05"/><stop offset="0.481" stop-color="#ffe500"/><stop offset="0.525" stop-color="#ffbf00"/><stop offset="0.995" stop-color="#ffbd00"/></linearGradient>
<linearGradient id="g127" gradientUnits="userSpaceOnUse" x1="0" y1="74" x2="0" y2="440"><stop offset="0" stop-color="#00a2ff"/><stop offset="0.306" stop-color="#00b8ff"/><stop offset="0.35" stop-color="#00dcff"/><stop offset="0.361" stop-color="#02e8f5"/><stop offset="0.372" stop-color="#13fde4"/><stop offset="0.415" stop-color="#6eff89"/><stop offset="0.448" stop-color="#d7ff20"/><stop offset="0.459" stop-color="#f9f300"/><stop offset="0.503" stop-color="#ffb800"/><stop offset="0.525" stop-color="#ffad00"/><stop offset="0.995" stop-color="#ffad00"/></linearGradient>
<linearGradient id="g128" gradientUnits="userSpaceOnUse" x1="0" y1="74" x2="0" y2="440"><stop offset="0" stop-color="#008eff"/><stop offset="0.306" stop-color="#0099ff"/><stop offset="0.372" stop-color="#00c9ff"/><stop offset="0.383" stop-color="#00defd"/><stop offset="0.393" stop-color="#11fae6"/><stop offset="0.437" stop-color="#72ff85"/><stop offset="0.47" stop-color="#e8ff0f"/><stop offset="0.481" stop-color="#faf200"/><stop offset="0.525" stop-color="#ffb500"/><stop offset="0.995" stop-color="#ffb400"/></linearGradient>
<linearGradient id="g129" gradientUnits="userSpaceOnUse" x1="0" y1="74" x2="0" y2="440"><stop offset="0" stop-color="#0093ff"/><stop offset="0.317" stop-color="#009fff"/><stop offset="0.383" stop-color="#00d3ff"/><stop offset="0.393" stop-color="#04eaf3"/><stop offset="0.404" stop-color="#1bffdc"/><stop offset="0.448" stop-color="#84ff73"/><stop offset="0.481" stop-color="#f4f903"/><stop offset="0.503" stop-color="#ffd300"/><stop offset="0.536" stop-color="#ffab00"/><stop offset="0.995" stop-color="#ffaa00"/></linearGradient>
<linearGradient id="g130" gradientUnits="userSpaceOnUse" x1="0" y1="74" x2="0" y2="440"><stop offset="0" stop-color="#0097ff"/><stop offset="0.328" stop-color="#00a6ff"/><stop offset="0.393" stop-color="#00e1fa"/><stop offset="0.404" stop-color="#12fce5"/><stop offset="0.448" stop-color="#7aff7c"/><stop offset="0.481" stop-color="#e9ff0e"/><stop offset="0.492" stop-color="#ffe600"/><stop offset="0.536" stop-color="#ffa600"/><stop offset="0.995" stop-color="#ffa100"/></linearGradient>
<linearGradient id="g131" gradientUnits="userSpaceOnUse" x1="0" y1="74" x2="0" y2="440"><stop offset="0" stop-color="#0098ff"/><stop offset="0.339" stop-color="#00acff"/><stop offset="0.393" stop-color="#00dffc"/><stop offset="0.404" stop-color="#0af2ed"/><stop offset="0.415" stop-color="#22ffd5"/><stop offset="0.448" stop-color="#72ff85"/><stop offset="0.481" stop-color="#e2ff15"/><stop offset="0.492" stop-color="#feed00"/><stop offset="0.536" stop-color="#ffa300"/><stop offset="0.623" stop-color="#ff9b00"/><stop offset="0.995" stop-color="#ff9b00"/></linearGradient>
<linearGradient id="g132" gradientUnits="userSpaceOnUse" x1="0" y1="74" x2="0" y2="440"><stop offset="0" stop-color="#00a3ff"/><stop offset="0.328" stop-color="#00b9ff"/><stop offset="0.372" stop-color="#00e1fa"/><stop offset="0.393" stop-color="#14ffe2"/><stop offset="0.437" stop-color="#7aff7c"/><stop offset="0.47" stop-color="#e4ff13"/><stop offset="0.481" stop-color="#feed00"/><stop offset="0.525" stop-color="#ffa800"/><stop offset="0.634" stop-color="#ff9e00"/><stop offset="0.995" stop-color="#ff9e00"/></linearGradient>
<linearGradient id="g133" gradientUnits="userSpaceOnUse" x1="0" y1="74" x2="0" y2="440"><stop offset="0" stop-color="#00b2ff"/><stop offset="0.306" stop-color="#00c8ff"/><stop offset="0.35" stop-color="#02e8f4"/><stop offset="0.372" stop-color="#14ffe3"/><stop offset="0.426" stop-color="#86ff70"/><stop offset="0.459" stop-color="#e0ff16"/><stop offset="0.47" stop-color="#f6f601"/><stop offset="0.503" stop-color="#ffc900"/><stop offset="0.546" stop-color="#ffb400"/><stop offset="0.995" stop-color="#ffb200"/></linearGradient>
<linearGradient id="g134" gradientUnits="userSpaceOnUse" x1="0" y1="74" x2="0" y2="440"><stop offset="0" stop-color="#00b6ff"/><stop offset="0.306" stop-color="#00ceff"/><stop offset="0.35" stop-color="#01e7f5"/><stop offset="0.383" stop-color="#1dffda"/><stop offset="0.481" stop-color="#e6ff10"/><stop offset="0.514" stop-color="#ffe700"/><stop offset="0.579" stop-color="#ffd000"/><stop offset="0.995" stop-color="#ffd000"/></linearGradient>
<linearGradient id="g135" gradientUnits="userSpaceOnUse" x1="0" y1="74" x2="0" y2="440"><stop offset="0" stop-color="#00baff"/><stop offset="0.284" stop-color="#00d2ff"/><stop offset="0.35" stop-color="#0cf5eb"/><stop offset="0.372" stop-color="#2affcd"/><stop offset="0.47" stop-color="#d4ff23"/><stop offset="0.525" stop-color="#f3fa04"/><stop offset="0.59" stop-color="#fdee00"/><stop offset="0.995" stop-color="#fdee00"/></linearGradient>
<linearGradient id="g136" gradientUnits="userSpaceOnUse" x1="0" y1="74" x2="0" y2="440"><stop offset="0" stop-color="#00d3ff"/><stop offset="0.262" stop-color="#03e9f4"/><stop offset="0.317" stop-color="#19ffdd"/><stop offset="0.361" stop-color="#36ffc1"/><stop offset="0.459" stop-color="#ceff28"/><stop offset="0.525" stop-color="#f3fa03"/><stop offset="0.59" stop-color="#ffeb00"/><stop offset="0.995" stop-color="#ffea00"/></linearGradient>
<linearGradient id="g137" gradientUnits="userSpaceOnUse" x1="0" y1="74" x2="0" y2="440"><stop offset="0" stop-color="#00d2ff"/><stop offset="0.24" stop-color="#01e6f6"/><stop offset="0.295" stop-color="#1dffda"/><stop offset="0.35" stop-color="#43ffb3"/><stop offset="0.459" stop-color="#d3ff24"/><stop offset="0.557" stop-color="#f6f701"/><stop offset="0.732" stop-color="#fcef00"/><stop offset="0.995" stop-color="#fcef00"/></linearGradient>
<linearGradient id="g138" gradientUnits="userSpaceOnUse" x1="0" y1="74" x2="0" y2="440"><stop offset="0" stop-color="#00d4ff"/><stop offset="0.262" stop-color="#05ecf2"/><stop offset="0.284" stop-color="#14ffe2"/><stop offset="0.372" stop-color="#5aff9d"/><stop offset="0.459" stop-color="#baff3d"/><stop offset="0.492" stop-color="#d6ff21"/><stop offset="0.59" stop-color="#f4f802"/><stop offset="0.721" stop-color="#fcf000"/><stop offset="0.995" stop-color="#fcf000"/></linearGradient>
<linearGradient id="g139" gradientUnits="userSpaceOnUse" x1="0" y1="74" x2="0" y2="440"><stop offset="0" stop-color="#00ddfe"/><stop offset="0.24" stop-color="#0df6e9"/><stop offset="0.306" stop-color="#31ffc6"/><stop offset="0.35" stop-color="#5fff98"/><stop offset="0.437" stop-color="#efff08"/><stop offset="0.47" stop-color="#ffda00"/><stop offset="0.546" stop-color="#ffbb00"/><stop offset="0.656" stop-color="#ffab00"/><stop offset="0.995" stop-color="#ffab00"/></linearGradient>
<linearGradient id="g140" gradientUnits="userSpaceOnUse" x1="0" y1="74" x2="0" y2="440"><stop offset="0" stop-color="#00e4f8"/><stop offset="0.251" stop-color="#18ffdf"/><stop offset="0.328" stop-color="#3effb8"/><stop offset="0.383" stop-color="#98ff5e"/><stop offset="0.415" stop-color="#eaff0d"/><stop offset="0.426" stop-color="#ffe500"/><stop offset="0.448" stop-color="#ffb400"/><stop offset="0.514" stop-color="#ff8100"/><stop offset="0.667" stop-color="#ff6e00"/><stop offset="0.995" stop-color="#ff6e00"/></linearGradient>
<linearGradient id="g141" gradientUnits="userSpaceOnUse" x1="0" y1="74" x2="0" y2="440"><stop offset="0" stop-color="#03e9f4"/><stop offset="0.251" stop-color="#1bffdc"/><stop offset="0.35" stop-color="#48ffaf"/><stop offset="0.393" stop-color="#94ff63"/><stop offset="0.415" stop-color="#d3ff24"/><stop offset="0.426" stop-color="#f8f400"/><stop offset="0.459" stop-color="#ff9200"/><stop offset="0.481" stop-color="#ff6800"/><stop offset="0.634" stop-color="#ff4500"/><stop offset="0.995" stop-color="#ff4400"/></linearGradient>
<linearGradient id="g142" gradientUnits="userSpaceOnUse" x1="0" y1="74" x2="0" y2="440"><stop offset="0" stop-color="#0ef7e9"/><stop offset="0.23" stop-color="#24ffd3"/><stop offset="0.317" stop-color="#56ffa0"/><stop offset="0.361" stop-color="#7fff77"/><stop offset="0.404" stop-color="#cdff29"/><stop offset="0.415" stop-color="#eeff09"/><stop offset="0.426" stop-color="#ffd400"/><stop offset="0.448" stop-color="#ff8c00"/><stop offset="0.481" stop-color="#ff3e00"/><stop offset="0.678" stop-color="#ff2500"/><stop offset="0.995" stop-color="#ff2500"/></linearGradient>
<linearGradient id="g143" gradientUnits="userSpaceOnUse" x1="0" y1="74" x2="0" y2="440"><stop offset="0" stop-color="#04ebf3"/><stop offset="0.175" stop-color="#1effd8"/><stop offset="0.24" stop-color="#3cffbb"/><stop offset="0.328" stop-color="#b9ff3e"/><stop offset="0.361" stop-color="#eeff09"/><stop offset="0.372" stop-color="#feed00"/><stop offset="0.415" stop-color="#ff7a00"/><stop offset="0.448" stop-color="#ff4200"/><stop offset="0.678" stop-color="#ff3300"/><stop offset="0.995" stop-color="#ff3300"/></linearGradient>
<linearGradient id="g144" gradientUnits="userSpaceOnUse" x1="0" y1="74" x2="0" y2="440"><stop offset="0" stop-color="#0ff8e8"/><stop offset="0.175" stop-color="#25ffd1"/><stop offset="0.262" stop-color="#54ffa3"/><stop offset="0.306" stop-color="#a4ff53"/><stop offset="0.339" stop-color="#edff09"/><stop offset="0.35" stop-color="#ffe600"/><stop offset="0.372" stop-color="#ffb700"/><stop offset="0.415" stop-color="#ff7700"/><stop offset="0.448" stop-color="#ff4300"/><stop offset="0.481" stop-color="#ff2900"/><stop offset="0.995" stop-color="#ff2900"/></linearGradient>
<linearGradient id="g145" gradientUnits="userSpaceOnUse" x1="0" y1="74" x2="0" y2="440"><stop offset="0" stop-color="#0ef6e9"/><stop offset="0.175" stop-color="#2affcd"/><stop offset="0.262" stop-color="#65ff92"/><stop offset="0.306" stop-color="#d1ff26"/><stop offset="0.317" stop-color="#f5f701"/><stop offset="0.339" stop-color="#ffb100"/><stop offset="0.361" stop-color="#ff7100"/><stop offset="0.448" stop-color="#ff2800"/><stop offset="0.59" stop-color="#ff2800"/><stop offset="0.995" stop-color="#ff2d00"/></linearGradient>
<linearGradient id="g146" gradientUnits="userSpaceOnUse" x1="0" y1="74" x2="0" y2="440"><stop offset="0" stop-color="#06ecf1"/><stop offset="0.153" stop-color="#1bffdc"/><stop offset="0.197" stop-color="#2fffc8"/><stop offset="0.251" stop-color="#62ff94"/><stop offset="0.273" stop-color="#7fff77"/><stop offset="0.317" stop-color="#f4f903"/><stop offset="0.339" stop-color="#ffaa00"/><stop offset="0.372" stop-color="#ff4d00"/><stop offset="0.459" stop-color="#ff2700"/><stop offset="0.776" stop-color="#ff3800"/><stop offset="0.995" stop-color="#ff3800"/></linearGradient>
<linearGradient id="g147" gradientUnits="userSpaceOnUse" x1="0" y1="74" x2="0" y2="440"><stop offset="0" stop-color="#0ef7e8"/><stop offset="0.153" stop-color="#29ffcd"/><stop offset="0.208" stop-color="#5eff98"/><stop offset="0.262" stop-color="#d9ff1d"/><stop offset="0.273" stop-color="#f8f400"/><stop offset="0.328" stop-color="#ff6a00"/><stop offset="0.35" stop-color="#ff3d00"/><stop offset="0.426" stop-color="#ff2000"/><stop offset="0.798" stop-color="#ff3100"/><stop offset="0.995" stop-color="#ff3100"/></linearGradient>
<linearGradient id="g148" gradientUnits="userSpaceOnUse" x1="0" y1="74" x2="0" y2="440"><stop offset="0" stop-color="#1dffd9"/><stop offset="0.142" stop-color="#3effb9"/><stop offset="0.197" stop-color="#85ff71"/><stop offset="0.23" stop-color="#f0fe07"/><stop offset="0.24" stop-color="#ffd800"/><stop offset="0.262" stop-color="#ff9400"/><stop offset="0.328" stop-color="#ff2d00"/><stop offset="0.35" stop-color="#ff1c00"/><stop offset="0.448" stop-color="#ff1400"/><stop offset="0.765" stop-color="#ff2200"/><stop offset="0.995" stop-color="#ff2200"/></linearGradient>
<linearGradient id="g149" gradientUnits="userSpaceOnUse" x1="0" y1="74" x2="0" y2="440"><stop offset="0" stop-color="#1dffda"/><stop offset="0.153" stop-color="#3dffba"/><stop offset="0.208" stop-color="#8cff6b"/><stop offset="0.23" stop-color="#e8ff0f"/><stop offset="0.24" stop-color="#ffcf00"/><stop offset="0.262" stop-color="#ff7900"/><stop offset="0.273" stop-color="#ff5800"/><stop offset="0.35" stop-color="#ff1c00"/><stop offset="0.448" stop-color="#ff1700"/><stop offset="0.787" stop-color="#ff2500"/><stop offset="0.995" stop-color="#ff2500"/></linearGradient>
<linearGradient id="g150" gradientUnits="userSpaceOnUse" x1="0" y1="74" x2="0" y2="440"><stop offset="0" stop-color="#19ffde"/><stop offset="0.153" stop-color="#3bffbc"/><stop offset="0.197" stop-color="#81ff76"/><stop offset="0.208" stop-color="#9bff5c"/><stop offset="0.219" stop-color="#ccff2b"/><stop offset="0.23" stop-color="#ffed00"/><stop offset="0.251" stop-color="#ff8000"/><stop offset="0.273" stop-color="#ff3e00"/><stop offset="0.295" stop-color="#ff2c00"/><stop offset="0.393" stop-color="#ff1800"/><stop offset="0.809" stop-color="#ff2700"/><stop offset="0.995" stop-color="#ff2700"/></linearGradient>
<linearGradient id="g151" gradientUnits="userSpaceOnUse" x1="0" y1="74" x2="0" y2="440"><stop offset="0" stop-color="#23ffd3"/><stop offset="0.153" stop-color="#46ffb1"/><stop offset="0.175" stop-color="#65ff91"/><stop offset="0.197" stop-color="#94ff63"/><stop offset="0.208" stop-color="#b8ff3f"/><stop offset="0.219" stop-color="#ecff0b"/><stop offset="0.23" stop-color="#ffc600"/><stop offset="0.251" stop-color="#ff6300"/><stop offset="0.273" stop-color="#ff3100"/><stop offset="0.295" stop-color="#ff1c00"/><stop offset="0.404" stop-color="#f70c00"/><stop offset="0.995" stop-color="#ff1600"/></linearGradient>
<linearGradient id="g152" gradientUnits="userSpaceOnUse" x1="0" y1="74" x2="0" y2="440"><stop offset="0" stop-color="#13fde4"/><stop offset="0.153" stop-color="#3effb9"/><stop offset="0.186" stop-color="#8aff6d"/><stop offset="0.197" stop-color="#b1ff46"/><stop offset="0.208" stop-color="#effe07"/><stop offset="0.219" stop-color="#ffbb00"/><stop offset="0.24" stop-color="#ff5d00"/><stop offset="0.273" stop-color="#ff3200"/><stop offset="0.339" stop-color="#ff2100"/><stop offset="0.995" stop-color="#ff2400"/></linearGradient>
<linearGradient id="g153" gradientUnits="userSpaceOnUse" x1="0" y1="74" x2="0" y2="440"><stop offset="0" stop-color="#20ffd7"/><stop offset="0.142" stop-color="#48ffaf"/><stop offset="0.164" stop-color="#77ff80"/><stop offset="0.186" stop-color="#bbff3c"/><stop offset="0.197" stop-color="#ffe600"/><stop offset="0.208" stop-color="#ff9600"/><stop offset="0.23" stop-color="#ff3300"/><stop offset="0.306" stop-color="#fb0f00"/><stop offset="0.995" stop-color="#fb0f00"/></linearGradient>
<linearGradient id="g154" gradientUnits="userSpaceOnUse" x1="0" y1="74" x2="0" y2="440"><stop offset="0" stop-color="#1dffd9"/><stop offset="0.12" stop-color="#45ffb2"/><stop offset="0.142" stop-color="#6fff88"/><stop offset="0.164" stop-color="#bfff38"/><stop offset="0.175" stop-color="#eeff08"/><stop offset="0.186" stop-color="#ffb400"/><stop offset="0.197" stop-color="#ff6f00"/><stop offset="0.219" stop-color="#ff2d00"/><stop offset="0.284" stop-color="#fc1000"/><stop offset="0.995" stop-color="#f30900"/></linearGradient>
<linearGradient id="g155" gradientUnits="userSpaceOnUse" x1="0" y1="74" x2="0" y2="440"><stop offset="0" stop-color="#20ffd7"/><stop offset="0.0656" stop-color="#2fffc8"/><stop offset="0.153" stop-color="#50ffa7"/><stop offset="0.175" stop-color="#91ff66"/><stop offset="0.186" stop-color="#bcff3b"/><stop offset="0.197" stop-color="#f8f400"/><stop offset="0.23" stop-color="#ff3600"/><stop offset="0.262" stop-color="#ff1600"/><stop offset="0.328" stop-color="#ef0600"/><stop offset="0.896" stop-color="#de0000"/><stop offset="0.995" stop-color="#de0000"/></linearGradient>
<linearGradient id="g156" gradientUnits="userSpaceOnUse" x1="0" y1="74" x2="0" y2="440"><stop offset="0" stop-color="#21ffd6"/><stop offset="0.131" stop-color="#56ffa1"/><stop offset="0.153" stop-color="#99ff5e"/><stop offset="0.164" stop-color="#c9ff2e"/><stop offset="0.175" stop-color="#ffe200"/><stop offset="0.197" stop-color="#ff6000"/><stop offset="0.208" stop-color="#ff3000"/><stop offset="0.251" stop-color="#fb1000"/><stop offset="0.339" stop-color="#ea0200"/><stop offset="0.809" stop-color="#d70000"/><stop offset="0.995" stop-color="#d70000"/></linearGradient>
<linearGradient id="g157" gradientUnits="userSpaceOnUse" x1="0" y1="74" x2="0" y2="440"><stop offset="0" stop-color="#17ffdf"/><stop offset="0.142" stop-color="#48ffaf"/><stop offset="0.153" stop-color="#59ff9d"/><stop offset="0.175" stop-color="#a9ff4e"/><stop offset="0.186" stop-color="#e1ff16"/><stop offset="0.197" stop-color="#ffca00"/><stop offset="0.208" stop-color="#ff8900"/><stop offset="0.219" stop-color="#ff5700"/><stop offset="0.23" stop-color="#ff3700"/><stop offset="0.306" stop-color="#fa0f00"/><stop offset="0.787" stop-color="#e40000"/><stop offset="0.995" stop-color="#e40000"/></linearGradient>
<linearGradient id="g158" gradientUnits="userSpaceOnUse" x1="0" y1="74" x2="0" y2="440"><stop offset="0" stop-color="#0cf4eb"/><stop offset="0.0656" stop-color="#20ffd7"/><stop offset="0.142" stop-color="#3affbd"/><stop offset="0.164" stop-color="#73ff84"/><stop offset="0.186" stop-color="#d0ff27"/><stop offset="0.197" stop-color="#ffe600"/><stop offset="0.219" stop-color="#ff8500"/><stop offset="0.24" stop-color="#ff5700"/><stop offset="0.273" stop-color="#ff3000"/><stop offset="0.393" stop-color="#ff1a00"/><stop offset="0.809" stop-color="#f40a00"/><stop offset="0.995" stop-color="#f40a00"/></linearGradient>
<linearGradient id="g159" gradientUnits="userSpaceOnUse" x1="0" y1="74" x2="0" y2="440"><stop offset="0" stop-color="#11fae6"/><stop offset="0.142" stop-color="#3dffba"/><stop offset="0.164" stop-color="#64ff93"/><stop offset="0.208" stop-color="#e9ff0e"/><stop offset="0.219" stop-color="#ffd300"/><stop offset="0.24" stop-color="#ff7d00"/><stop offset="0.262" stop-color="#ff4100"/><stop offset="0.361" stop-color="#ff1d00"/><stop offset="0.601" stop-color="#f30900"/><stop offset="0.995" stop-color="#ee0500"/></linearGradient>
<linearGradient id="g160" gradientUnits="userSpaceOnUse" x1="0" y1="74" x2="0" y2="440"><stop offset="0" stop-color="#1bffdc"/><stop offset="0.175" stop-color="#44ffb2"/><stop offset="0.208" stop-color="#74ff83"/><stop offset="0.23" stop-color="#a1ff55"/><stop offset="0.251" stop-color="#f0fd06"/><stop offset="0.262" stop-color="#ffd000"/><stop offset="0.284" stop-color="#ff7f00"/><stop offset="0.361" stop-color="#ff2300"/><stop offset="0.525" stop-color="#f10700"/><stop offset="0.732" stop-color="#df0000"/><stop offset="0.995" stop-color="#df0000"/></linearGradient>
<linearGradient id="g161" gradientUnits="userSpaceOnUse" x1="0" y1="74" x2="0" y2="440"><stop offset="0" stop-color="#0df6e9"/><stop offset="0.164" stop-color="#36ffc1"/><stop offset="0.197" stop-color="#4bffac"/><stop offset="0.24" stop-color="#8bff6c"/><stop offset="0.273" stop-color="#cfff28"/><stop offset="0.284" stop-color="#eeff09"/><stop offset="0.295" stop-color="#ffe200"/><stop offset="0.35" stop-color="#ff5500"/><stop offset="0.372" stop-color="#ff4000"/><stop offset="0.459" stop-color="#ff2000"/><stop offset="0.623" stop-color="#f70c00"/><stop offset="0.995" stop-color="#f20800"/></linearGradient>
<linearGradient id="g162" gradientUnits="userSpaceOnUse" x1="0" y1="74" x2="0" y2="440"><stop offset="0" stop-color="#1affdc"/><stop offset="0.0984" stop-color="#2dffca"/><stop offset="0.208" stop-color="#52ffa5"/><stop offset="0.273" stop-color="#95ff61"/><stop offset="0.295" stop-color="#c3ff34"/><stop offset="0.306" stop-color="#dfff18"/><stop offset="0.317" stop-color="#feee00"/><stop offset="0.361" stop-color="#ff5a00"/><stop offset="0.383" stop-color="#ff3d00"/><stop offset="0.459" stop-color="#ff1700"/><stop offset="0.645" stop-color="#e80000"/><stop offset="0.995" stop-color="#eb0300"/></linearGradient>
<linearGradient id="g163" gradientUnits="userSpaceOnUse" x1="0" y1="74" x2="0" y2="440"><stop offset="0" stop-color="#1fffd8"/><stop offset="0.131" stop-color="#37ffc0"/><stop offset="0.219" stop-color="#54ffa3"/><stop offset="0.284" stop-color="#93ff64"/><stop offset="0.317" stop-color="#d9ff1e"/><stop offset="0.328" stop-color="#fcf000"/><stop offset="0.361" stop-color="#ff7700"/><stop offset="0.383" stop-color="#ff4400"/><stop offset="0.47" stop-color="#ff1500"/><stop offset="0.59" stop-color="#e10000"/><stop offset="0.732" stop-color="#f80d00"/><stop offset="0.995" stop-color="#fc1000"/></linearGradient>
<linearGradient id="g164" gradientUnits="userSpaceOnUse" x1="0" y1="74" x2="0" y2="440"><stop offset="0" stop-color="#0ff8e8"/><stop offset="0.208" stop-color="#41ffb6"/><stop offset="0.273" stop-color="#82ff74"/><stop offset="0.284" stop-color="#94ff63"/><stop offset="0.306" stop-color="#d8ff1e"/><stop offset="0.317" stop-color="#ffec00"/><stop offset="0.35" stop-color="#ff7800"/><stop offset="0.361" stop-color="#ff5d00"/><stop offset="0.47" stop-color="#ff2400"/><stop offset="0.546" stop-color="#f70c00"/><stop offset="0.623" stop-color="#ff2100"/><stop offset="0.71" stop-color="#ff3100"/><stop offset="0.995" stop-color="#ff3600"/></linearGradient>
<linearGradient id="g165" gradientUnits="userSpaceOnUse" x1="0" y1="74" x2="0" y2="440"><stop offset="0" stop-color="#15ffe2"/><stop offset="0.208" stop-color="#3dffba"/><stop offset="0.284" stop-color="#7fff78"/><stop offset="0.306" stop-color="#b5ff41"/><stop offset="0.317" stop-color="#d8ff1f"/><stop offset="0.328" stop-color="#feed00"/><stop offset="0.361" stop-color="#ff7500"/><stop offset="0.383" stop-color="#ff5500"/><stop offset="0.448" stop-color="#ff2500"/><stop offset="0.514" stop-color="#f60c00"/><stop offset="0.568" stop-color="#e30000"/><stop offset="0.623" stop-color="#ff1700"/><stop offset="0.678" stop-color="#ff2b00"/><stop offset="0.995" stop-color="#ff3300"/></linearGradient>
<linearGradient id="g166" gradientUnits="userSpaceOnUse" x1="0" y1="74" x2="0" y2="440"><stop offset="0" stop-color="#14ffe3"/><stop offset="0.219" stop-color="#41ffb6"/><stop offset="0.284" stop-color="#75ff81"/><stop offset="0.317" stop-color="#b4ff43"/><stop offset="0.328" stop-color="#d7ff1f"/><stop offset="0.339" stop-color="#fdef00"/><stop offset="0.361" stop-color="#ff9b00"/><stop offset="0.383" stop-color="#ff6800"/><stop offset="0.426" stop-color="#ff2a00"/><stop offset="0.492" stop-color="#f60b00"/><stop offset="0.557" stop-color="#d40000"/><stop offset="0.612" stop-color="#f10800"/><stop offset="0.645" stop-color="#ff1900"/><stop offset="0.732" stop-color="#ff2600"/><stop offset="0.995" stop-color="#ff2b00"/></linearGradient>
<linearGradient id="g167" gradientUnits="userSpaceOnUse" x1="0" y1="74" x2="0" y2="440"><stop offset="0" stop-color="#09f1ed"/><stop offset="0.153" stop-color="#21ffd6"/><stop offset="0.219" stop-color="#30ffc7"/><stop offset="0.306" stop-color="#74ff83"/><stop offset="0.328" stop-color="#98ff5f"/><stop offset="0.35" stop-color="#e4ff13"/><stop offset="0.361" stop-color="#ffde00"/><stop offset="0.383" stop-color="#ff9300"/><stop offset="0.415" stop-color="#ff4a00"/><stop offset="0.437" stop-color="#ff2a00"/><stop offset="0.503" stop-color="#f60c00"/><stop offset="0.546" stop-color="#dd0000"/><stop offset="0.568" stop-color="#d40000"/><stop offset="0.612" stop-color="#f00700"/><stop offset="0.645" stop-color="#ff1900"/><stop offset="0.699" stop-color="#ff2700"/><stop offset="0.995" stop-color="#ff2e00"/></linearGradient>
<linearGradient id="g168" gradientUnits="userSpaceOnUse" x1="0" y1="74" x2="0" y2="440"><stop offset="0" stop-color="#07eef0"/><stop offset="0.186" stop-color="#20ffd6"/><stop offset="0.23" stop-color="#2cffcb"/><stop offset="0.328" stop-color="#72ff85"/><stop offset="0.339" stop-color="#88ff6e"/><stop offset="0.372" stop-color="#f6f600"/><stop offset="0.404" stop-color="#ff8400"/><stop offset="0.437" stop-color="#ff3d00"/><stop offset="0.514" stop-color="#f80d00"/><stop offset="0.557" stop-color="#dc0000"/><stop offset="0.59" stop-color="#d80000"/><stop offset="0.634" stop-color="#f40a00"/><stop offset="0.678" stop-color="#ff1f00"/><stop offset="0.995" stop-color="#ff2900"/></linearGradient>
<linearGradient id="g169" gradientUnits="userSpaceOnUse" x1="0" y1="74" x2="0" y2="440"><stop offset="0" stop-color="#00e1fb"/><stop offset="0.208" stop-color="#1fffd8"/><stop offset="0.306" stop-color="#6bff8c"/><stop offset="0.328" stop-color="#97ff60"/><stop offset="0.35" stop-color="#d9ff1d"/><stop offset="0.361" stop-color="#faf100"/><stop offset="0.393" stop-color="#ff8600"/><stop offset="0.426" stop-color="#ff5200"/><stop offset="0.525" stop-color="#f90e00"/><stop offset="0.568" stop-color="#ea0200"/><stop offset="0.634" stop-color="#ff1d00"/><stop offset="0.831" stop-color="#ff2f00"/><stop offset="0.995" stop-color="#ff2f00"/></linearGradient>
<linearGradient id="g170" gradientUnits="userSpaceOnUse" x1="0" y1="74" x2="0" y2="440"><stop offset="0" stop-color="#00d0ff"/><stop offset="0.175" stop-color="#04eaf3"/><stop offset="0.219" stop-color="#0ef7e8"/><stop offset="0.262" stop-color="#33ffc4"/><stop offset="0.328" stop-color="#6dff8a"/><stop offset="0.35" stop-color="#9bff5c"/><stop offset="0.383" stop-color="#f5f702"/><stop offset="0.404" stop-color="#ffaa00"/><stop offset="0.448" stop-color="#ff6900"/><stop offset="0.536" stop-color="#ff2500"/><stop offset="0.601" stop-color="#ff1400"/><stop offset="0.678" stop-color="#ff3000"/><stop offset="0.995" stop-color="#ff3800"/></linearGradient>
<linearGradient id="g171" gradientUnits="userSpaceOnUse" x1="0" y1="74" x2="0" y2="440"><stop offset="0" stop-color="#00c5ff"/><stop offset="0.164" stop-color="#00e3f9"/><stop offset="0.219" stop-color="#13fde4"/><stop offset="0.328" stop-color="#76ff81"/><stop offset="0.372" stop-color="#d7ff1f"/><stop offset="0.383" stop-color="#f6f701"/><stop offset="0.404" stop-color="#ffb500"/><stop offset="0.47" stop-color="#ff6f00"/><stop offset="0.536" stop-color="#ff3800"/><stop offset="0.59" stop-color="#ff1f00"/><stop offset="0.678" stop-color="#ff3c00"/><stop offset="0.995" stop-color="#ff4400"/></linearGradient>
<linearGradient id="g172" gradientUnits="userSpaceOnUse" x1="0" y1="74" x2="0" y2="440"><stop offset="0" stop-color="#00cfff"/><stop offset="0.131" stop-color="#00e6f7"/><stop offset="0.186" stop-color="#1affdd"/><stop offset="0.273" stop-color="#5aff9d"/><stop offset="0.339" stop-color="#a4ff53"/><stop offset="0.372" stop-color="#e7ff10"/><stop offset="0.383" stop-color="#fdee00"/><stop offset="0.404" stop-color="#ffbd00"/><stop offset="0.481" stop-color="#ff7e00"/><stop offset="0.525" stop-color="#ff4800"/><stop offset="0.59" stop-color="#ff1f00"/><stop offset="0.678" stop-color="#ff3c00"/><stop offset="0.995" stop-color="#ff4400"/></linearGradient>
<linearGradient id="g173" gradientUnits="userSpaceOnUse" x1="0" y1="74" x2="0" y2="440"><stop offset="0" stop-color="#00d9ff"/><stop offset="0.131" stop-color="#08efef"/><stop offset="0.164" stop-color="#1dffda"/><stop offset="0.284" stop-color="#77ff80"/><stop offset="0.35" stop-color="#c7ff2f"/><stop offset="0.372" stop-color="#edff0a"/><stop offset="0.383" stop-color="#feed00"/><stop offset="0.415" stop-color="#ffbf00"/><stop offset="0.492" stop-color="#ff8d00"/><stop offset="0.525" stop-color="#ff5700"/><stop offset="0.601" stop-color="#ff2000"/><stop offset="0.689" stop-color="#ff3c00"/><stop offset="0.995" stop-color="#ff4400"/></linearGradient>
<linearGradient id="g174" gradientUnits="userSpaceOnUse" x1="0" y1="74" x2="0" y2="440"><stop offset="0" stop-color="#00d2ff"/><stop offset="0.0984" stop-color="#01e7f5"/><stop offset="0.142" stop-color="#21ffd6"/><stop offset="0.273" stop-color="#92ff64"/><stop offset="0.339" stop-color="#ebff0c"/><stop offset="0.361" stop-color="#ffe000"/><stop offset="0.415" stop-color="#ffb400"/><stop offset="0.47" stop-color="#ff9700"/><stop offset="0.503" stop-color="#ff5d00"/><stop offset="0.579" stop-color="#ff2200"/><stop offset="0.667" stop-color="#ff4000"/><stop offset="0.995" stop-color="#ff4800"/></linearGradient>
<linearGradient id="g175" gradientUnits="userSpaceOnUse" x1="0" y1="74" x2="0" y2="440"><stop offset="0" stop-color="#00c0ff"/><stop offset="0.0984" stop-color="#00cfff"/><stop offset="0.131" stop-color="#06edf1"/><stop offset="0.153" stop-color="#1fffd8"/><stop offset="0.23" stop-color="#71ff86"/><stop offset="0.284" stop-color="#a1ff56"/><stop offset="0.339" stop-color="#f1fc06"/><stop offset="0.35" stop-color="#ffeb00"/><stop offset="0.393" stop-color="#ffb900"/><stop offset="0.47" stop-color="#ff8900"/><stop offset="0.536" stop-color="#ff4600"/><stop offset="0.59" stop-color="#ff2400"/><stop offset="0.689" stop-color="#ff4200"/><stop offset="0.995" stop-color="#ff4b00"/></linearGradient>
<linearGradient id="g176" gradientUnits="userSpaceOnUse" x1="0" y1="74" x2="0" y2="440"><stop offset="0" stop-color="#00b8ff"/><stop offset="0.109" stop-color="#00c2ff"/><stop offset="0.131" stop-color="#00daff"/><stop offset="0.153" stop-color="#12fbe5"/><stop offset="0.23" stop-color="#80ff77"/><stop offset="0.284" stop-color="#a8ff4f"/><stop offset="0.328" stop-color="#e8ff0e"/><stop offset="0.339" stop-color="#feed00"/><stop offset="0.383" stop-color="#ffaa00"/><stop offset="0.47" stop-color="#ff7c00"/><stop offset="0.514" stop-color="#ff4c00"/><stop offset="0.601" stop-color="#ff1900"/><stop offset="0.699" stop-color="#ff3b00"/><stop offset="0.995" stop-color="#ff4400"/></linearGradient>
<linearGradient id="g177" gradientUnits="userSpaceOnUse" x1="0" y1="74" x2="0" y2="440"><stop offset="0" stop-color="#00c1ff"/><stop offset="0.0874" stop-color="#00cfff"/><stop offset="0.0984" stop-color="#00dbff"/><stop offset="0.12" stop-color="#14ffe2"/><stop offset="0.208" stop-color="#9aff5c"/><stop offset="0.262" stop-color="#c8ff2e"/><stop offset="0.284" stop-color="#e8ff0f"/><stop offset="0.295" stop-color="#faf200"/><stop offset="0.328" stop-color="#ffa900"/><stop offset="0.361" stop-color="#ff8400"/><stop offset="0.437" stop-color="#ff6700"/><stop offset="0.481" stop-color="#ff2f00"/><stop offset="0.546" stop-color="#f90e00"/><stop offset="0.579" stop-color="#ef0600"/><stop offset="0.623" stop-color="#ff1a00"/><stop offset="0.689" stop-color="#ff2b00"/><stop offset="0.995" stop-color="#ff3200"/></linearGradient>
<linearGradient id="g178" gradientUnits="userSpaceOnUse" x1="0" y1="74" x2="0" y2="440"><stop offset="0" stop-color="#00b6ff"/><stop offset="0.0984" stop-color="#00cbff"/><stop offset="0.12" stop-color="#03eaf3"/><stop offset="0.142" stop-color="#21ffd6"/><stop offset="0.219" stop-color="#99ff5e"/><stop offset="0.273" stop-color="#d1ff26"/><stop offset="0.295" stop-color="#f2fb05"/><stop offset="0.306" stop-color="#ffde00"/><stop offset="0.339" stop-color="#ff9e00"/><stop offset="0.372" stop-color="#ff8600"/><stop offset="0.437" stop-color="#ff7000"/><stop offset="0.481" stop-color="#ff3200"/><stop offset="0.546" stop-color="#fd1100"/><stop offset="0.579" stop-color="#f30900"/><stop offset="0.623" stop-color="#ff1e00"/><stop offset="0.689" stop-color="#ff3000"/><stop offset="0.995" stop-color="#ff3800"/></linearGradient>
<linearGradient id="g179" gradientUnits="userSpaceOnUse" x1="0" y1="74" x2="0" y2="440"><stop offset="0" stop-color="#00b2ff"/><stop offset="0.0874" stop-color="#00caff"/><stop offset="0.109" stop-color="#00e4f8"/><stop offset="0.131" stop-color="#1cffdb"/><stop offset="0.208" stop-color="#9aff5d"/><stop offset="0.251" stop-color="#c7ff30"/><stop offset="0.273" stop-color="#e9ff0e"/><stop offset="0.284" stop-color="#feed00"/><stop offset="0.317" stop-color="#ffa300"/><stop offset="0.35" stop-color="#ff8700"/><stop offset="0.426" stop-color="#ff6b00"/><stop offset="0.47" stop-color="#ff2d00"/><stop offset="0.525" stop-color="#fc1100"/><stop offset="0.557" stop-color="#f00600"/><stop offset="0.612" stop-color="#ff1f00"/><stop offset="0.678" stop-color="#ff3000"/><stop offset="0.995" stop-color="#ff3700"/></linearGradient>
<linearGradient id="g180" gradientUnits="userSpaceOnUse" x1="0" y1="74" x2="0" y2="440"><stop offset="0" stop-color="#00b0ff"/><stop offset="0.0984" stop-color="#00caff"/><stop offset="0.12" stop-color="#00e2fa"/><stop offset="0.142" stop-color="#1dffda"/><stop offset="0.208" stop-color="#92ff65"/><stop offset="0.262" stop-color="#d2ff25"/><stop offset="0.284" stop-color="#f5f701"/><stop offset="0.306" stop-color="#ffba00"/><stop offset="0.339" stop-color="#ff8a00"/><stop offset="0.426" stop-color="#ff6e00"/><stop offset="0.47" stop-color="#ff2b00"/><stop offset="0.525" stop-color="#f70c00"/><stop offset="0.557" stop-color="#e70000"/><stop offset="0.612" stop-color="#ff1800"/><stop offset="0.678" stop-color="#ff2c00"/><stop offset="0.995" stop-color="#ff3300"/></linearGradient>
<linearGradient id="g181" gradientUnits="userSpaceOnUse" x1="0" y1="74" x2="0" y2="440"><stop offset="0" stop-color="#00b6ff"/><stop offset="0.12" stop-color="#00ceff"/><stop offset="0.153" stop-color="#09f0ee"/><stop offset="0.164" stop-color="#1cffdb"/><stop offset="0.24" stop-color="#a5ff52"/><stop offset="0.284" stop-color="#d8ff1e"/><stop offset="0.295" stop-color="#eaff0c"/><stop offset="0.306" stop-color="#fdef00"/><stop offset="0.339" stop-color="#ff9a00"/><stop offset="0.372" stop-color="#ff7c00"/><stop offset="0.448" stop-color="#ff6500"/><stop offset="0.492" stop-color="#ff2100"/><stop offset="0.525" stop-color="#f90e00"/><stop offset="0.579" stop-color="#db0000"/><stop offset="0.623" stop-color="#f50a00"/><stop offset="0.678" stop-color="#ff2300"/><stop offset="0.995" stop-color="#ff2c00"/></linearGradient>
<linearGradient id="g182" gradientUnits="userSpaceOnUse" x1="0" y1="74" x2="0" y2="440"><stop offset="0" stop-color="#00b0ff"/><stop offset="0.12" stop-color="#00c2ff"/><stop offset="0.153" stop-color="#00dbff"/><stop offset="0.164" stop-color="#03e9f4"/><stop offset="0.175" stop-color="#15ffe2"/><stop offset="0.251" stop-color="#a1ff56"/><stop offset="0.295" stop-color="#d5ff21"/><stop offset="0.306" stop-color="#e8ff0e"/><stop offset="0.317" stop-color="#fbf100"/><stop offset="0.35" stop-color="#ff9b00"/><stop offset="0.383" stop-color="#ff7f00"/><stop offset="0.459" stop-color="#ff6800"/><stop offset="0.503" stop-color="#ff2200"/><stop offset="0.546" stop-color="#f70c00"/><stop offset="0.59" stop-color="#e20000"/><stop offset="0.645" stop-color="#ff1600"/><stop offset="0.71" stop-color="#ff2a00"/><stop offset="0.995" stop-color="#ff3100"/></linearGradient>
<linearGradient id="g183" gradientUnits="userSpaceOnUse" x1="0" y1="74" x2="0" y2="440"><stop offset="0" stop-color="#00aeff"/><stop offset="0.109" stop-color="#00c8ff"/><stop offset="0.131" stop-color="#00dffc"/><stop offset="0.153" stop-color="#1effd9"/><stop offset="0.219" stop-color="#98ff5f"/><stop offset="0.262" stop-color="#cdff2a"/><stop offset="0.284" stop-color="#f4f903"/><stop offset="0.306" stop-color="#ffbd00"/><stop offset="0.328" stop-color="#ff9300"/><stop offset="0.372" stop-color="#ff7a00"/><stop offset="0.426" stop-color="#ff6900"/><stop offset="0.47" stop-color="#ff2700"/><stop offset="0.514" stop-color="#fa0f00"/><stop offset="0.557" stop-color="#e50000"/><stop offset="0.612" stop-color="#ff1700"/><stop offset="0.678" stop-color="#ff2c00"/><stop offset="0.995" stop-color="#ff3400"/></linearGradient>
<linearGradient id="g184" gradientUnits="userSpaceOnUse" x1="0" y1="74" x2="0" y2="440"><stop offset="0" stop-color="#00b2ff"/><stop offset="0.12" stop-color="#00caff"/><stop offset="0.142" stop-color="#00e1fb"/><stop offset="0.164" stop-color="#1dffda"/><stop offset="0.23" stop-color="#9aff5d"/><stop offset="0.273" stop-color="#d0ff27"/><stop offset="0.295" stop-color="#f8f500"/><stop offset="0.328" stop-color="#ff9f00"/><stop offset="0.361" stop-color="#ff7b00"/><stop offset="0.437" stop-color="#ff6300"/><stop offset="0.481" stop-color="#ff2000"/><stop offset="0.525" stop-color="#f40a00"/><stop offset="0.568" stop-color="#df0000"/><stop offset="0.634" stop-color="#ff1800"/><stop offset="0.699" stop-color="#ff2800"/><stop offset="0.995" stop-color="#ff2f00"/></linearGradient>
<linearGradient id="g185" gradientUnits="userSpaceOnUse" x1="0" y1="74" x2="0" y2="440"><stop offset="0" stop-color="#00b2ff"/><stop offset="0.109" stop-color="#00ccff"/><stop offset="0.131" stop-color="#00e4f8"/><stop offset="0.142" stop-color="#0ff8e8"/><stop offset="0.219" stop-color="#a1ff55"/><stop offset="0.262" stop-color="#daff1d"/><stop offset="0.273" stop-color="#effe08"/><stop offset="0.284" stop-color="#ffe400"/><stop offset="0.317" stop-color="#ff9300"/><stop offset="0.35" stop-color="#ff7800"/><stop offset="0.426" stop-color="#ff5b00"/><stop offset="0.459" stop-color="#ff2400"/><stop offset="0.514" stop-color="#f00700"/><stop offset="0.557" stop-color="#e40000"/><stop offset="0.612" stop-color="#ff1700"/><stop offset="0.678" stop-color="#ff2900"/><stop offset="0.995" stop-color="#ff3000"/></linearGradient>
<linearGradient id="g186" gradientUnits="userSpaceOnUse" x1="0" y1="74" x2="0" y2="440"><stop offset="0" stop-color="#00b9ff"/><stop offset="0.131" stop-color="#00cdff"/><stop offset="0.164" stop-color="#07efef"/><stop offset="0.175" stop-color="#1dffda"/><stop offset="0.24" stop-color="#9fff58"/><stop offset="0.295" stop-color="#eaff0d"/><stop offset="0.306" stop-color="#ffec00"/><stop offset="0.339" stop-color="#ff9700"/><stop offset="0.361" stop-color="#ff7900"/><stop offset="0.448" stop-color="#ff5a00"/><stop offset="0.492" stop-color="#ff1800"/><stop offset="0.557" stop-color="#e00000"/><stop offset="0.59" stop-color="#df0000"/><stop offset="0.656" stop-color="#ff1900"/><stop offset="0.918" stop-color="#ff2900"/><stop offset="0.995" stop-color="#ff2900"/></linearGradient>
<linearGradient id="g187" gradientUnits="userSpaceOnUse" x1="0" y1="74" x2="0" y2="440"><stop offset="0" stop-color="#00b7ff"/><stop offset="0.142" stop-color="#00c9ff"/><stop offset="0.175" stop-color="#00e5f7"/><stop offset="0.186" stop-color="#10fae7"/><stop offset="0.262" stop-color="#a4ff52"/><stop offset="0.306" stop-color="#e0ff17"/><stop offset="0.317" stop-color="#f4f903"/><stop offset="0.339" stop-color="#ffc400"/><stop offset="0.361" stop-color="#ff9600"/><stop offset="0.393" stop-color="#ff7700"/><stop offset="0.47" stop-color="#ff5400"/><stop offset="0.514" stop-color="#ff1a00"/><stop offset="0.579" stop-color="#e30000"/><stop offset="0.623" stop-color="#ec0300"/><stop offset="0.667" stop-color="#ff1a00"/><stop offset="0.852" stop-color="#ff2b00"/><stop offset="0.995" stop-color="#ff2b00"/></linearGradient>
<linearGradient id="g188" gradientUnits="userSpaceOnUse" x1="0" y1="74" x2="0" y2="440"><stop offset="0" stop-color="#00a4ff"/><stop offset="0.12" stop-color="#00baff"/><stop offset="0.153" stop-color="#00dcff"/><stop offset="0.175" stop-color="#1fffd7"/><stop offset="0.24" stop-color="#9eff59"/><stop offset="0.284" stop-color="#dbff1c"/><stop offset="0.295" stop-color="#f0fd07"/><stop offset="0.306" stop-color="#ffe400"/><stop offset="0.339" stop-color="#ffa200"/><stop offset="0.372" stop-color="#ff8900"/><stop offset="0.437" stop-color="#ff6b00"/><stop offset="0.492" stop-color="#ff2900"/><stop offset="0.568" stop-color="#f90e00"/><stop offset="0.667" stop-color="#ff3400"/><stop offset="0.995" stop-color="#ff3c00"/></linearGradient>
<linearGradient id="g189" gradientUnits="userSpaceOnUse" x1="0" y1="74" x2="0" y2="440"><stop offset="0" stop-color="#00adff"/><stop offset="0.131" stop-color="#00c6ff"/><stop offset="0.153" stop-color="#00dcfe"/><stop offset="0.164" stop-color="#07eef0"/><stop offset="0.175" stop-color="#1bffdc"/><stop offset="0.24" stop-color="#a0ff56"/><stop offset="0.295" stop-color="#eeff08"/><stop offset="0.306" stop-color="#ffe800"/><stop offset="0.35" stop-color="#ff9400"/><stop offset="0.448" stop-color="#ff5d00"/><stop offset="0.503" stop-color="#ff1d00"/><stop offset="0.59" stop-color="#f20800"/><stop offset="0.623" stop-color="#ff1a00"/><stop offset="0.678" stop-color="#ff2c00"/><stop offset="0.995" stop-color="#ff3400"/></linearGradient>
<linearGradient id="g190" gradientUnits="userSpaceOnUse" x1="0" y1="74" x2="0" y2="440"><stop offset="0" stop-color="#00a2ff"/><stop offset="0.153" stop-color="#00bbff"/><stop offset="0.186" stop-color="#01e6f6"/><stop offset="0.197" stop-color="#1affdc"/><stop offset="0.251" stop-color="#8fff67"/><stop offset="0.306" stop-color="#d9ff1e"/><stop offset="0.317" stop-color="#ecff0b"/><stop offset="0.328" stop-color="#ffec00"/><stop offset="0.372" stop-color="#ff9a00"/><stop offset="0.47" stop-color="#ff6400"/><stop offset="0.514" stop-color="#ff2b00"/><stop offset="0.601" stop-color="#fb1000"/><stop offset="0.678" stop-color="#ff3500"/><stop offset="0.995" stop-color="#ff3e00"/></linearGradient>
<linearGradient id="g191" gradientUnits="userSpaceOnUse" x1="0" y1="74" x2="0" y2="440"><stop offset="0" stop-color="#009aff"/><stop offset="0.164" stop-color="#00b1ff"/><stop offset="0.197" stop-color="#00d7ff"/><stop offset="0.208" stop-color="#0df5ea"/><stop offset="0.23" stop-color="#3fffb8"/><stop offset="0.273" stop-color="#8fff68"/><stop offset="0.339" stop-color="#ebff0c"/><stop offset="0.35" stop-color="#feed00"/><stop offset="0.383" stop-color="#ffb300"/><stop offset="0.481" stop-color="#ff7600"/><stop offset="0.525" stop-color="#ff3e00"/><stop offset="0.612" stop-color="#ff1c00"/><stop offset="0.699" stop-color="#ff3d00"/><stop offset="0.995" stop-color="#ff4600"/></linearGradient>
<linearGradient id="g192" gradientUnits="userSpaceOnUse" x1="0" y1="74" x2="0" y2="440"><stop offset="0" stop-color="#009aff"/><stop offset="0.164" stop-color="#00b0ff"/><stop offset="0.197" stop-color="#00d0ff"/><stop offset="0.208" stop-color="#01e7f5"/><stop offset="0.219" stop-color="#19ffdd"/><stop offset="0.273" stop-color="#7fff78"/><stop offset="0.35" stop-color="#e4ff13"/><stop offset="0.361" stop-color="#f5f701"/><stop offset="0.383" stop-color="#ffd400"/><stop offset="0.492" stop-color="#ff7b00"/><stop offset="0.536" stop-color="#ff4c00"/><stop offset="0.612" stop-color="#ff2800"/><stop offset="0.732" stop-color="#ff3f00"/><stop offset="0.995" stop-color="#ff4600"/></linearGradient>
<linearGradient id="g193" gradientUnits="userSpaceOnUse" x1="0" y1="74" x2="0" y2="440"><stop offset="0" stop-color="#00a8ff"/><stop offset="0.142" stop-color="#00beff"/><stop offset="0.175" stop-color="#00defd"/><stop offset="0.186" stop-color="#0cf5ea"/><stop offset="0.208" stop-color="#3affbc"/><stop offset="0.262" stop-color="#8fff68"/><stop offset="0.339" stop-color="#edff0a"/><stop offset="0.361" stop-color="#ffe100"/><stop offset="0.525" stop-color="#ff4800"/><stop offset="0.579" stop-color="#ff2800"/><stop offset="0.951" stop-color="#ff3900"/><stop offset="0.995" stop-color="#ff3900"/></linearGradient>
<linearGradient id="g194" gradientUnits="userSpaceOnUse" x1="0" y1="74" x2="0" y2="440"><stop offset="0" stop-color="#00adff"/><stop offset="0.131" stop-color="#00c4ff"/><stop offset="0.164" stop-color="#00e1fa"/><stop offset="0.186" stop-color="#23ffd4"/><stop offset="0.23" stop-color="#6bff8b"/><stop offset="0.339" stop-color="#e8ff0f"/><stop offset="0.361" stop-color="#ffeb00"/><stop offset="0.426" stop-color="#ffa300"/><stop offset="0.557" stop-color="#ff2f00"/><stop offset="0.995" stop-color="#ff3400"/></linearGradient>
<linearGradient id="g195" gradientUnits="userSpaceOnUse" x1="0" y1="74" x2="0" y2="440"><stop offset="0" stop-color="#00a0ff"/><stop offset="0.131" stop-color="#00baff"/><stop offset="0.164" stop-color="#00d8ff"/><stop offset="0.175" stop-color="#06ecf1"/><stop offset="0.186" stop-color="#19ffde"/><stop offset="0.262" stop-color="#80ff77"/><stop offset="0.361" stop-color="#ecff0b"/><stop offset="0.383" stop-color="#ffe500"/><stop offset="0.546" stop-color="#ff4700"/><stop offset="0.689" stop-color="#ff3a00"/><stop offset="0.995" stop-color="#ff4100"/></linearGradient>
<linearGradient id="g196" gradientUnits="userSpaceOnUse" x1="0" y1="74" x2="0" y2="440"><stop offset="0" stop-color="#0094ff"/><stop offset="0.142" stop-color="#00afff"/><stop offset="0.175" stop-color="#00c9ff"/><stop offset="0.186" stop-color="#00dbff"/><stop offset="0.208" stop-color="#16ffe0"/><stop offset="0.383" stop-color="#ebff0c"/><stop offset="0.404" stop-color="#ffe800"/><stop offset="0.546" stop-color="#ff5d00"/><stop offset="0.634" stop-color="#ff4400"/><stop offset="0.995" stop-color="#ff4b00"/></linearGradient>
<linearGradient id="g197" gradientUnits="userSpaceOnUse" x1="0" y1="74" x2="0" y2="440"><stop offset="0" stop-color="#00a9ff"/><stop offset="0.153" stop-color="#00c3ff"/><stop offset="0.186" stop-color="#00d9ff"/><stop offset="0.208" stop-color="#0df5ea"/><stop offset="0.23" stop-color="#29ffce"/><stop offset="0.383" stop-color="#edff0a"/><stop offset="0.404" stop-color="#ffe600"/><stop offset="0.525" stop-color="#ff6800"/><stop offset="0.59" stop-color="#ff3c00"/><stop offset="0.689" stop-color="#ff3000"/><stop offset="0.995" stop-color="#ff3800"/></linearGradient>
<linearGradient id="g198" gradientUnits="userSpaceOnUse" x1="0" y1="74" x2="0" y2="440"><stop offset="0" stop-color="#00a2ff"/><stop offset="0.175" stop-color="#00beff"/><stop offset="0.208" stop-color="#00d2ff"/><stop offset="0.23" stop-color="#0bf4eb"/><stop offset="0.251" stop-color="#27ffd0"/><stop offset="0.393" stop-color="#e6ff11"/><stop offset="0.415" stop-color="#fdef00"/><stop offset="0.514" stop-color="#ff8100"/><stop offset="0.601" stop-color="#ff4300"/><stop offset="0.689" stop-color="#ff3700"/><stop offset="0.995" stop-color="#ff3e00"/></linearGradient>
<linearGradient id="g199" gradientUnits="userSpaceOnUse" x1="0" y1="74" x2="0" y2="440"><stop offset="0" stop-color="#00a3ff"/><stop offset="0.197" stop-color="#00bdff"/><stop offset="0.219" stop-color="#00c7ff"/><stop offset="0.24" stop-color="#00e6f7"/><stop offset="0.262" stop-color="#1cffdb"/><stop offset="0.404" stop-color="#e4ff13"/><stop offset="0.415" stop-color="#f0fe07"/><stop offset="0.437" stop-color="#ffe300"/><stop offset="0.514" stop-color="#ff8700"/><stop offset="0.612" stop-color="#ff4600"/><stop offset="0.699" stop-color="#ff3a00"/><stop offset="0.995" stop-color="#ff4100"/></linearGradient>
<linearGradient id="g200" gradientUnits="userSpaceOnUse" x1="0" y1="74" x2="0" y2="440"><stop offset="0" stop-color="#00b8ff"/><stop offset="0.186" stop-color="#00d2ff"/><stop offset="0.219" stop-color="#09f1ed"/><stop offset="0.23" stop-color="#16ffe1"/><stop offset="0.372" stop-color="#e6ff11"/><stop offset="0.383" stop-color="#f5f802"/><stop offset="0.404" stop-color="#ffd800"/><stop offset="0.503" stop-color="#ff6300"/><stop offset="0.59" stop-color="#ff3700"/><stop offset="0.699" stop-color="#ff2f00"/><stop offset="0.995" stop-color="#ff3300"/></linearGradient>
<linearGradient id="g201" gradientUnits="userSpaceOnUse" x1="0" y1="74" x2="0" y2="440"><stop offset="0" stop-color="#00c4ff"/><stop offset="0.186" stop-color="#00dbff"/><stop offset="0.219" stop-color="#0ff8e8"/><stop offset="0.295" stop-color="#7bff7c"/><stop offset="0.372" stop-color="#f2fb05"/><stop offset="0.383" stop-color="#ffe700"/><stop offset="0.481" stop-color="#ff6400"/><stop offset="0.525" stop-color="#ff4600"/><stop offset="0.634" stop-color="#ff2a00"/><stop offset="0.995" stop-color="#ff2e00"/></linearGradient>
<linearGradient id="g202" gradientUnits="userSpaceOnUse" x1="0" y1="74" x2="0" y2="440"><stop offset="0" stop-color="#00b4ff"/><stop offset="0.186" stop-color="#00c7ff"/><stop offset="0.219" stop-color="#00e1fb"/><stop offset="0.24" stop-color="#19ffde"/><stop offset="0.35" stop-color="#c0ff37"/><stop offset="0.372" stop-color="#e7ff0f"/><stop offset="0.383" stop-color="#fbf100"/><stop offset="0.426" stop-color="#ffb000"/><stop offset="0.492" stop-color="#ff5c00"/><stop offset="0.612" stop-color="#ff4200"/><stop offset="0.995" stop-color="#ff4200"/></linearGradient>
<linearGradient id="g203" gradientUnits="userSpaceOnUse" x1="0" y1="74" x2="0" y2="440"><stop offset="0" stop-color="#00bbff"/><stop offset="0.208" stop-color="#00cfff"/><stop offset="0.23" stop-color="#00ddfe"/><stop offset="0.251" stop-color="#15ffe2"/><stop offset="0.35" stop-color="#abff4c"/><stop offset="0.383" stop-color="#e9ff0e"/><stop offset="0.393" stop-color="#ffec00"/><stop offset="0.426" stop-color="#ffb400"/><stop offset="0.514" stop-color="#ff4800"/><stop offset="0.973" stop-color="#ff4100"/><stop offset="0.995" stop-color="#ff4100"/></linearGradient>
<linearGradient id="g204" gradientUnits="userSpaceOnUse" x1="0" y1="74" x2="0" y2="440"><stop offset="0" stop-color="#00bdff"/><stop offset="0.197" stop-color="#00d0ff"/><stop offset="0.23" stop-color="#01e6f6"/><stop offset="0.24" stop-color="#10f9e7"/><stop offset="0.339" stop-color="#a2ff55"/><stop offset="0.372" stop-color="#e0ff17"/><stop offset="0.383" stop-color="#f7f500"/><stop offset="0.404" stop-color="#ffc200"/><stop offset="0.503" stop-color="#ff4300"/><stop offset="0.995" stop-color="#ff4000"/></linearGradient>
<linearGradient id="g205" gradientUnits="userSpaceOnUse" x1="0" y1="74" x2="0" y2="440"><stop offset="0" stop-color="#00acff"/><stop offset="0.186" stop-color="#00c0ff"/><stop offset="0.23" stop-color="#00daff"/><stop offset="0.251" stop-color="#11fbe5"/><stop offset="0.35" stop-color="#a0ff57"/><stop offset="0.393" stop-color="#f5f702"/><stop offset="0.415" stop-color="#ffc800"/><stop offset="0.514" stop-color="#ff5200"/><stop offset="0.645" stop-color="#ff4a00"/><stop offset="0.995" stop-color="#ff4a00"/></linearGradient>
<linearGradient id="g206" gradientUnits="userSpaceOnUse" x1="0" y1="74" x2="0" y2="440"><stop offset="0" stop-color="#00a7ff"/><stop offset="0.164" stop-color="#00beff"/><stop offset="0.208" stop-color="#00d9ff"/><stop offset="0.219" stop-color="#01e7f6"/><stop offset="0.24" stop-color="#1dffda"/><stop offset="0.328" stop-color="#96ff61"/><stop offset="0.372" stop-color="#e6ff10"/><stop offset="0.383" stop-color="#ffec00"/><stop offset="0.404" stop-color="#ffc100"/><stop offset="0.492" stop-color="#ff5b00"/><stop offset="0.546" stop-color="#ff4b00"/><stop offset="0.995" stop-color="#ff4b00"/></linearGradient>
<linearGradient id="g207" gradientUnits="userSpaceOnUse" x1="0" y1="74" x2="0" y2="440"><stop offset="0" stop-color="#00a2ff"/><stop offset="0.142" stop-color="#00b6ff"/><stop offset="0.197" stop-color="#00daff"/><stop offset="0.219" stop-color="#10fae7"/><stop offset="0.317" stop-color="#91ff66"/><stop offset="0.361" stop-color="#ddff1a"/><stop offset="0.372" stop-color="#f7f500"/><stop offset="0.393" stop-color="#ffc600"/><stop offset="0.448" stop-color="#ff8200"/><stop offset="0.514" stop-color="#ff4e00"/><stop offset="0.995" stop-color="#ff4c00"/></linearGradient>
<linearGradient id="g208" gradientUnits="userSpaceOnUse" x1="0" y1="74" x2="0" y2="440"><stop offset="0" stop-color="#00a9ff"/><stop offset="0.131" stop-color="#00beff"/><stop offset="0.186" stop-color="#00e5f7"/><stop offset="0.208" stop-color="#18ffdf"/><stop offset="0.273" stop-color="#74ff82"/><stop offset="0.35" stop-color="#f3fa04"/><stop offset="0.372" stop-color="#ffc500"/><stop offset="0.393" stop-color="#ffa000"/><stop offset="0.448" stop-color="#ff6700"/><stop offset="0.514" stop-color="#ff3a00"/><stop offset="0.995" stop-color="#ff3a00"/></linearGradient>
<linearGradient id="g209" gradientUnits="userSpaceOnUse" x1="0" y1="74" x2="0" y2="440"><stop offset="0" stop-color="#00a2ff"/><stop offset="0.131" stop-color="#00bbff"/><stop offset="0.186" stop-color="#02e8f5"/><stop offset="0.208" stop-color="#18ffdf"/><stop offset="0.262" stop-color="#6dff8a"/><stop offset="0.317" stop-color="#f4f903"/><stop offset="0.339" stop-color="#ffce00"/><stop offset="0.393" stop-color="#ff7a00"/><stop offset="0.492" stop-color="#ff3b00"/><stop offset="0.546" stop-color="#ff2d00"/><stop offset="0.995" stop-color="#ff2d00"/></linearGradient>
<linearGradient id="g210" gradientUnits="userSpaceOnUse" x1="0" y1="74" x2="0" y2="440"><stop offset="0" stop-color="#00a7ff"/><stop offset="0.131" stop-color="#00b9ff"/><stop offset="0.175" stop-color="#00ddfe"/><stop offset="0.208" stop-color="#17ffe0"/><stop offset="0.251" stop-color="#4fffa8"/><stop offset="0.284" stop-color="#95ff62"/><stop offset="0.306" stop-color="#ecff0b"/><stop offset="0.317" stop-color="#ffda00"/><stop offset="0.35" stop-color="#ff8200"/><stop offset="0.393" stop-color="#ff4c00"/><stop offset="0.546" stop-color="#ff1400"/><stop offset="0.995" stop-color="#ff1400"/></linearGradient>
<linearGradient id="g211" gradientUnits="userSpaceOnUse" x1="0" y1="74" x2="0" y2="440"><stop offset="0" stop-color="#00b7ff"/><stop offset="0.131" stop-color="#00d1ff"/><stop offset="0.164" stop-color="#09f1ee"/><stop offset="0.197" stop-color="#26ffd0"/><stop offset="0.24" stop-color="#5aff9c"/><stop offset="0.273" stop-color="#a4ff53"/><stop offset="0.284" stop-color="#c7ff30"/><stop offset="0.295" stop-color="#f8f400"/><stop offset="0.306" stop-color="#ffbe00"/><stop offset="0.339" stop-color="#ff5500"/><stop offset="0.372" stop-color="#ff2600"/><stop offset="0.426" stop-color="#fe1200"/><stop offset="0.557" stop-color="#df0000"/><stop offset="0.995" stop-color="#df0000"/></linearGradient>
<linearGradient id="g212" gradientUnits="userSpaceOnUse" x1="0" y1="74" x2="0" y2="440"><stop offset="0" stop-color="#00beff"/><stop offset="0.131" stop-color="#00ddfd"/><stop offset="0.164" stop-color="#14fee3"/><stop offset="0.24" stop-color="#61ff96"/><stop offset="0.273" stop-color="#a9ff4e"/><stop offset="0.295" stop-color="#f5f701"/><stop offset="0.317" stop-color="#ff9500"/><stop offset="0.339" stop-color="#ff5000"/><stop offset="0.372" stop-color="#ff1a00"/><stop offset="0.415" stop-color="#f00700"/><stop offset="0.59" stop-color="#d00000"/><stop offset="0.995" stop-color="#d00000"/></linearGradient>
<linearGradient id="g213" gradientUnits="userSpaceOnUse" x1="0" y1="74" x2="0" y2="440"><stop offset="0" stop-color="#00aeff"/><stop offset="0.109" stop-color="#00d1ff"/><stop offset="0.142" stop-color="#0df6ea"/><stop offset="0.175" stop-color="#2bffcc"/><stop offset="0.219" stop-color="#58ff9f"/><stop offset="0.262" stop-color="#c0ff36"/><stop offset="0.273" stop-color="#f1fc05"/><stop offset="0.284" stop-color="#ffc600"/><stop offset="0.306" stop-color="#ff7700"/><stop offset="0.328" stop-color="#ff3d00"/><stop offset="0.361" stop-color="#ff1400"/><stop offset="0.525" stop-color="#df0000"/><stop offset="0.995" stop-color="#dd0000"/></linearGradient>
<linearGradient id="g214" gradientUnits="userSpaceOnUse" x1="0" y1="74" x2="0" y2="440"><stop offset="0" stop-color="#00c4ff"/><stop offset="0.109" stop-color="#00e5f7"/><stop offset="0.142" stop-color="#17ffdf"/><stop offset="0.23" stop-color="#5eff99"/><stop offset="0.273" stop-color="#a8ff4f"/><stop offset="0.295" stop-color="#e9ff0e"/><stop offset="0.306" stop-color="#ffe600"/><stop offset="0.372" stop-color="#ff4900"/><stop offset="0.404" stop-color="#ff1a00"/><stop offset="0.437" stop-color="#ee0500"/><stop offset="0.579" stop-color="#d00000"/><stop offset="0.995" stop-color="#d00000"/></linearGradient>
<linearGradient id="g215" gradientUnits="userSpaceOnUse" x1="0" y1="74" x2="0" y2="440"><stop offset="0" stop-color="#00c8ff"/><stop offset="0.0984" stop-color="#00e5f7"/><stop offset="0.142" stop-color="#1affdd"/><stop offset="0.251" stop-color="#62ff95"/><stop offset="0.284" stop-color="#89ff6e"/><stop offset="0.328" stop-color="#ccff2b"/><stop offset="0.339" stop-color="#e5ff11"/><stop offset="0.35" stop-color="#ffe300"/><stop offset="0.393" stop-color="#ff4c00"/><stop offset="0.426" stop-color="#ff1600"/><stop offset="0.546" stop-color="#dc0000"/><stop offset="0.995" stop-color="#d90000"/></linearGradient>
<linearGradient id="g216" gradientUnits="userSpaceOnUse" x1="0" y1="74" x2="0" y2="440"><stop offset="0" stop-color="#00d1ff"/><stop offset="0.0874" stop-color="#05ecf2"/><stop offset="0.131" stop-color="#1cffda"/><stop offset="0.273" stop-color="#68ff8f"/><stop offset="0.317" stop-color="#98ff5e"/><stop offset="0.328" stop-color="#afff47"/><stop offset="0.339" stop-color="#d6ff21"/><stop offset="0.35" stop-color="#ffed00"/><stop offset="0.383" stop-color="#ff6700"/><stop offset="0.415" stop-color="#ff2200"/><stop offset="0.492" stop-color="#f20800"/><stop offset="0.568" stop-color="#de0000"/><stop offset="0.995" stop-color="#de0000"/></linearGradient>
<linearGradient id="g217" gradientUnits="userSpaceOnUse" x1="0" y1="74" x2="0" y2="440"><stop offset="0" stop-color="#00e1fb"/><stop offset="0.12" stop-color="#21ffd6"/><stop offset="0.262" stop-color="#64ff93"/><stop offset="0.317" stop-color="#a2ff55"/><stop offset="0.328" stop-color="#bbff3c"/><stop offset="0.339" stop-color="#e6ff10"/><stop offset="0.35" stop-color="#ffd700"/><stop offset="0.383" stop-color="#ff5900"/><stop offset="0.415" stop-color="#ff1a00"/><stop offset="0.525" stop-color="#df0000"/><stop offset="0.995" stop-color="#d90000"/></linearGradient>
<linearGradient id="g218" gradientUnits="userSpaceOnUse" x1="0" y1="74" x2="0" y2="440"><stop offset="0" stop-color="#0ef7e9"/><stop offset="0.153" stop-color="#33ffc4"/><stop offset="0.284" stop-color="#6aff8d"/><stop offset="0.35" stop-color="#b7ff40"/><stop offset="0.361" stop-color="#dbff1c"/><stop offset="0.372" stop-color="#ffe000"/><stop offset="0.404" stop-color="#ff5e00"/><stop offset="0.437" stop-color="#ff1800"/><stop offset="0.459" stop-color="#ec0300"/><stop offset="0.59" stop-color="#c90000"/><stop offset="0.995" stop-color="#c90000"/></linearGradient>
<linearGradient id="g219" gradientUnits="userSpaceOnUse" x1="0" y1="74" x2="0" y2="440"><stop offset="0" stop-color="#1bffdc"/><stop offset="0.142" stop-color="#34ffc3"/><stop offset="0.295" stop-color="#6aff8d"/><stop offset="0.361" stop-color="#b5ff42"/><stop offset="0.372" stop-color="#cdff2a"/><stop offset="0.383" stop-color="#ffec00"/><stop offset="0.404" stop-color="#ff8d00"/><stop offset="0.426" stop-color="#ff4400"/><stop offset="0.448" stop-color="#ff1b00"/><stop offset="0.47" stop-color="#e40000"/><stop offset="0.612" stop-color="#c20000"/><stop offset="0.995" stop-color="#c20000"/></linearGradient>
<linearGradient id="g220" gradientUnits="userSpaceOnUse" x1="0" y1="74" x2="0" y2="440"><stop offset="0" stop-color="#29ffce"/><stop offset="0.186" stop-color="#54ffa3"/><stop offset="0.273" stop-color="#7aff7d"/><stop offset="0.35" stop-color="#d5ff21"/><stop offset="0.361" stop-color="#f7f500"/><stop offset="0.383" stop-color="#ff9200"/><stop offset="0.404" stop-color="#ff4a00"/><stop offset="0.437" stop-color="#f60b00"/><stop offset="0.459" stop-color="#d90000"/><stop offset="0.59" stop-color="#b80000"/><stop offset="0.995" stop-color="#b80000"/></linearGradient>
<linearGradient id="g221" gradientUnits="userSpaceOnUse" x1="0" y1="74" x2="0" y2="440"><stop offset="0" stop-color="#29ffce"/><stop offset="0.153" stop-color="#50ffa6"/><stop offset="0.23" stop-color="#76ff81"/><stop offset="0.295" stop-color="#c3ff34"/><stop offset="0.328" stop-color="#f0fe07"/><stop offset="0.339" stop-color="#ffec00"/><stop offset="0.372" stop-color="#ff7200"/><stop offset="0.393" stop-color="#ff3800"/><stop offset="0.415" stop-color="#ff1900"/><stop offset="0.437" stop-color="#e40000"/><stop offset="0.568" stop-color="#c10000"/><stop offset="0.995" stop-color="#c10000"/></linearGradient>
<linearGradient id="g222" gradientUnits="userSpaceOnUse" x1="0" y1="74" x2="0" y2="440"><stop offset="0" stop-color="#2bffcc"/><stop offset="0.142" stop-color="#46ffb1"/><stop offset="0.24" stop-color="#77ff80"/><stop offset="0.317" stop-color="#e8ff0f"/><stop offset="0.328" stop-color="#f7f500"/><stop offset="0.361" stop-color="#ffbe00"/><stop offset="0.393" stop-color="#ff5d00"/><stop offset="0.415" stop-color="#ff3000"/><stop offset="0.448" stop-color="#f60c00"/><stop offset="0.47" stop-color="#e60000"/><stop offset="0.59" stop-color="#c70000"/><stop offset="0.995" stop-color="#c70000"/></linearGradient>
<linearGradient id="g223" gradientUnits="userSpaceOnUse" x1="0" y1="74" x2="0" y2="440"><stop offset="0" stop-color="#3bffbc"/><stop offset="0.131" stop-color="#4fffa8"/><stop offset="0.251" stop-color="#8cff6b"/><stop offset="0.306" stop-color="#edff0a"/><stop offset="0.317" stop-color="#ffe900"/><stop offset="0.383" stop-color="#ff7200"/><stop offset="0.415" stop-color="#ff2c00"/><stop offset="0.437" stop-color="#ff1400"/><stop offset="0.47" stop-color="#df0000"/><stop offset="0.601" stop-color="#b90000"/><stop offset="0.995" stop-color="#b90000"/></linearGradient>
<linearGradient id="g224" gradientUnits="userSpaceOnUse" x1="0" y1="74" x2="0" y2="440"><stop offset="0" stop-color="#3dffba"/><stop offset="0.0984" stop-color="#4bffab"/><stop offset="0.186" stop-color="#74ff83"/><stop offset="0.262" stop-color="#b1ff46"/><stop offset="0.295" stop-color="#ecff0a"/><stop offset="0.306" stop-color="#ffeb00"/><stop offset="0.404" stop-color="#ff4000"/><stop offset="0.437" stop-color="#ff1900"/><stop offset="0.492" stop-color="#e20000"/><stop offset="0.601" stop-color="#c40000"/><stop offset="0.995" stop-color="#c40000"/></linearGradient>
<linearGradient id="g225" gradientUnits="userSpaceOnUse" x1="0" y1="74" x2="0" y2="440"><stop offset="0" stop-color="#4cffab"/><stop offset="0.0765" stop-color="#58ff9f"/><stop offset="0.175" stop-color="#96ff61"/><stop offset="0.262" stop-color="#eeff09"/><stop offset="0.273" stop-color="#fdef00"/><stop offset="0.415" stop-color="#ff2200"/><stop offset="0.448" stop-color="#f80e00"/><stop offset="0.492" stop-color="#e00000"/><stop offset="0.59" stop-color="#c20000"/><stop offset="0.995" stop-color="#c20000"/></linearGradient>
<linearGradient id="g226" gradientUnits="userSpaceOnUse" x1="0" y1="74" x2="0" y2="440"><stop offset="0" stop-color="#5bff9c"/><stop offset="0.0656" stop-color="#6dff8a"/><stop offset="0.164" stop-color="#c9ff2e"/><stop offset="0.197" stop-color="#efff08"/><stop offset="0.219" stop-color="#ffe300"/><stop offset="0.393" stop-color="#ff1e00"/><stop offset="0.426" stop-color="#f70c00"/><stop offset="0.47" stop-color="#e00000"/><stop offset="0.557" stop-color="#c00000"/><stop offset="0.995" stop-color="#c00000"/></linearGradient>
<linearGradient id="g227" gradientUnits="userSpaceOnUse" x1="0" y1="74" x2="0" y2="440"><stop offset="0" stop-color="#60ff97"/><stop offset="0.0656" stop-color="#76ff80"/><stop offset="0.164" stop-color="#ebff0c"/><stop offset="0.175" stop-color="#fcef00"/><stop offset="0.24" stop-color="#ff9400"/><stop offset="0.317" stop-color="#ff6700"/><stop offset="0.372" stop-color="#ff3000"/><stop offset="0.437" stop-color="#fc1000"/><stop offset="0.503" stop-color="#dc0000"/><stop offset="0.557" stop-color="#cc0000"/><stop offset="0.995" stop-color="#cc0000"/></linearGradient>
<linearGradient id="g228" gradientUnits="userSpaceOnUse" x1="0" y1="74" x2="0" y2="440"><stop offset="0" stop-color="#6dff8a"/><stop offset="0.0546" stop-color="#7cff7b"/><stop offset="0.0874" stop-color="#97ff60"/><stop offset="0.153" stop-color="#edff0a"/><stop offset="0.175" stop-color="#ffdc00"/><stop offset="0.24" stop-color="#ff7e00"/><stop offset="0.317" stop-color="#ff6200"/><stop offset="0.383" stop-color="#ff2900"/><stop offset="0.448" stop-color="#f90e00"/><stop offset="0.525" stop-color="#d60000"/><stop offset="0.612" stop-color="#ce0000"/><stop offset="0.995" stop-color="#ce0000"/></linearGradient>
<linearGradient id="g229" gradientUnits="userSpaceOnUse" x1="0" y1="74" x2="0" y2="440"><stop offset="0" stop-color="#76ff81"/><stop offset="0.0656" stop-color="#98ff5e"/><stop offset="0.109" stop-color="#dbff1c"/><stop offset="0.131" stop-color="#f2fb04"/><stop offset="0.153" stop-color="#ffde00"/><stop offset="0.23" stop-color="#ff8400"/><stop offset="0.306" stop-color="#ff6300"/><stop offset="0.393" stop-color="#ff1e00"/><stop offset="0.448" stop-color="#f70c00"/><stop offset="0.536" stop-color="#d80000"/><stop offset="0.995" stop-color="#d80000"/></linearGradient>
<linearGradient id="g230" gradientUnits="userSpaceOnUse" x1="0" y1="74" x2="0" y2="440"><stop offset="0" stop-color="#94ff63"/><stop offset="0.0546" stop-color="#aeff49"/><stop offset="0.0765" stop-color="#cfff28"/><stop offset="0.0984" stop-color="#f8f400"/><stop offset="0.175" stop-color="#ffa300"/><stop offset="0.24" stop-color="#ff6e00"/><stop offset="0.317" stop-color="#ff4700"/><stop offset="0.383" stop-color="#f80d00"/><stop offset="0.437" stop-color="#e00000"/><stop offset="0.546" stop-color="#c40000"/><stop offset="0.995" stop-color="#c40000"/></linearGradient>
<linearGradient id="g231" gradientUnits="userSpaceOnUse" x1="0" y1="74" x2="0" y2="440"><stop offset="0" stop-color="#9aff5d"/><stop offset="0.0546" stop-color="#b2ff45"/><stop offset="0.0765" stop-color="#d0ff27"/><stop offset="0.0874" stop-color="#eaff0c"/><stop offset="0.0984" stop-color="#ffe900"/><stop offset="0.164" stop-color="#ffad00"/><stop offset="0.35" stop-color="#ff3a00"/><stop offset="0.393" stop-color="#f90e00"/><stop offset="0.481" stop-color="#df0000"/><stop offset="0.59" stop-color="#d30000"/><stop offset="0.995" stop-color="#d30000"/></linearGradient>
<linearGradient id="g232" gradientUnits="userSpaceOnUse" x1="0" y1="74" x2="0" y2="440"><stop offset="0" stop-color="#a4ff53"/><stop offset="0.0437" stop-color="#afff48"/><stop offset="0.0765" stop-color="#c4ff32"/><stop offset="0.0984" stop-color="#f5f802"/><stop offset="0.109" stop-color="#ffda00"/><stop offset="0.153" stop-color="#ffb200"/><stop offset="0.35" stop-color="#ff4500"/><stop offset="0.393" stop-color="#ff1600"/><stop offset="0.426" stop-color="#ec0300"/><stop offset="0.579" stop-color="#d30000"/><stop offset="0.995" stop-color="#d30000"/></linearGradient>
<linearGradient id="g233" gradientUnits="userSpaceOnUse" x1="0" y1="74" x2="0" y2="440"><stop offset="0" stop-color="#a9ff4e"/><stop offset="0.0437" stop-color="#b1ff46"/><stop offset="0.0765" stop-color="#c4ff33"/><stop offset="0.0984" stop-color="#edff0a"/><stop offset="0.109" stop-color="#ffe000"/><stop offset="0.131" stop-color="#ffc200"/><stop offset="0.361" stop-color="#ff3f00"/><stop offset="0.404" stop-color="#fa0f00"/><stop offset="0.459" stop-color="#e50000"/><stop offset="0.579" stop-color="#d20000"/><stop offset="0.995" stop-color="#d20000"/></linearGradient>
<linearGradient id="g234" gradientUnits="userSpaceOnUse" x1="0" y1="74" x2="0" y2="440"><stop offset="0" stop-color="#bcff3b"/><stop offset="0.0546" stop-color="#dcff1b"/><stop offset="0.0656" stop-color="#f0fd07"/><stop offset="0.0765" stop-color="#ffdd00"/><stop offset="0.0874" stop-color="#ffc000"/><stop offset="0.131" stop-color="#ffa000"/><stop offset="0.339" stop-color="#ff2a00"/><stop offset="0.361" stop-color="#fd1100"/><stop offset="0.383" stop-color="#e00000"/><stop offset="0.546" stop-color="#be0000"/><stop offset="0.995" stop-color="#be0000"/></linearGradient>
<linearGradient id="g235" gradientUnits="userSpaceOnUse" x1="0" y1="74" x2="0" y2="440"><stop offset="0" stop-color="#b5ff42"/><stop offset="0.0437" stop-color="#caff2c"/><stop offset="0.0656" stop-color="#ebff0b"/><stop offset="0.0765" stop-color="#ffec00"/><stop offset="0.208" stop-color="#ff8400"/><stop offset="0.317" stop-color="#ff4000"/><stop offset="0.361" stop-color="#fa0f00"/><stop offset="0.383" stop-color="#df0000"/><stop offset="0.536" stop-color="#b70000"/><stop offset="0.995" stop-color="#b70000"/></linearGradient>
<linearGradient id="g236" gradientUnits="userSpaceOnUse" x1="0" y1="74" x2="0" y2="440"><stop offset="0" stop-color="#acff4a"/><stop offset="0.0656" stop-color="#c2ff34"/><stop offset="0.12" stop-color="#ecff0b"/><stop offset="0.142" stop-color="#ffea00"/><stop offset="0.208" stop-color="#ff9c00"/><stop offset="0.317" stop-color="#ff5600"/><stop offset="0.383" stop-color="#f90e00"/><stop offset="0.404" stop-color="#dc0000"/><stop offset="0.546" stop-color="#ab0000"/><stop offset="0.995" stop-color="#ab0000"/></linearGradient>
<linearGradient id="g237" gradientUnits="userSpaceOnUse" x1="0" y1="74" x2="0" y2="440"><stop offset="0" stop-color="#8fff68"/><stop offset="0.12" stop-color="#aeff49"/><stop offset="0.175" stop-color="#f3f903"/><stop offset="0.197" stop-color="#ffd700"/><stop offset="0.219" stop-color="#ffc100"/><stop offset="0.306" stop-color="#ff8800"/><stop offset="0.383" stop-color="#ff3100"/><stop offset="0.404" stop-color="#ff1400"/><stop offset="0.448" stop-color="#e50000"/><stop offset="0.546" stop-color="#c10000"/><stop offset="0.995" stop-color="#c10000"/></linearGradient>
<linearGradient id="g238" gradientUnits="userSpaceOnUse" x1="0" y1="74" x2="0" y2="440"><stop offset="0" stop-color="#7cff7b"/><stop offset="0.12" stop-color="#98ff5e"/><stop offset="0.208" stop-color="#f0fd07"/><stop offset="0.24" stop-color="#ffdc00"/><stop offset="0.383" stop-color="#ff2000"/><stop offset="0.437" stop-color="#eb0200"/><stop offset="0.536" stop-color="#c70000"/><stop offset="0.995" stop-color="#c70000"/></linearGradient>
<linearGradient id="g239" gradientUnits="userSpaceOnUse" x1="0" y1="74" x2="0" y2="440"><stop offset="0" stop-color="#79ff7e"/><stop offset="0.131" stop-color="#92ff65"/><stop offset="0.219" stop-color="#ddff19"/><stop offset="0.23" stop-color="#effe08"/><stop offset="0.24" stop-color="#ffe700"/><stop offset="0.328" stop-color="#ff3e00"/><stop offset="0.361" stop-color="#ff1500"/><stop offset="0.404" stop-color="#e30000"/><stop offset="0.536" stop-color="#b60000"/><stop offset="0.995" stop-color="#b60000"/></linearGradient>
<linearGradient id="g240" gradientUnits="userSpaceOnUse" x1="0" y1="74" x2="0" y2="440"><stop offset="0" stop-color="#6aff8d"/><stop offset="0.153" stop-color="#7cff7b"/><stop offset="0.23" stop-color="#c6ff31"/><stop offset="0.251" stop-color="#f2fb05"/><stop offset="0.262" stop-color="#ffe000"/><stop offset="0.339" stop-color="#ff3600"/><stop offset="0.372" stop-color="#f70c00"/><stop offset="0.393" stop-color="#e00000"/><stop offset="0.546" stop-color="#b00000"/><stop offset="0.995" stop-color="#af0000"/></linearGradient>
<linearGradient id="g241" gradientUnits="userSpaceOnUse" x1="0" y1="74" x2="0" y2="440"><stop offset="0" stop-color="#63ff94"/><stop offset="0.142" stop-color="#77ff7f"/><stop offset="0.208" stop-color="#c4ff33"/><stop offset="0.23" stop-color="#f6f701"/><stop offset="0.262" stop-color="#ffa400"/><stop offset="0.306" stop-color="#ff4600"/><stop offset="0.328" stop-color="#ff1500"/><stop offset="0.35" stop-color="#e10000"/><stop offset="0.393" stop-color="#b60000"/><stop offset="0.568" stop-color="#970000"/><stop offset="0.995" stop-color="#960000"/></linearGradient>
<linearGradient id="g242" gradientUnits="userSpaceOnUse" x1="0" y1="74" x2="0" y2="440"><stop offset="0" stop-color="#4effa8"/><stop offset="0.153" stop-color="#6bff8b"/><stop offset="0.208" stop-color="#bbff3c"/><stop offset="0.219" stop-color="#d9ff1e"/><stop offset="0.23" stop-color="#fcf000"/><stop offset="0.251" stop-color="#ffad00"/><stop offset="0.306" stop-color="#ff3a00"/><stop offset="0.317" stop-color="#ff1c00"/><stop offset="0.328" stop-color="#ee0500"/><stop offset="0.393" stop-color="#a50000"/><stop offset="0.645" stop-color="#910000"/><stop offset="0.995" stop-color="#910000"/></linearGradient>
<linearGradient id="g243" gradientUnits="userSpaceOnUse" x1="0" y1="74" x2="0" y2="440"><stop offset="0" stop-color="#51ffa6"/><stop offset="0.153" stop-color="#68ff8e"/><stop offset="0.197" stop-color="#a0ff57"/><stop offset="0.219" stop-color="#c9ff2d"/><stop offset="0.23" stop-color="#edff0a"/><stop offset="0.24" stop-color="#ffd300"/><stop offset="0.262" stop-color="#ff8c00"/><stop offset="0.317" stop-color="#ff1b00"/><stop offset="0.328" stop-color="#e40000"/><stop offset="0.35" stop-color="#bc0000"/><stop offset="0.404" stop-color="#880000"/><stop offset="0.842" stop-color="#800000"/><stop offset="0.995" stop-color="#800000"/></linearGradient>
<linearGradient id="g244" gradientUnits="userSpaceOnUse" x1="0" y1="74" x2="0" y2="440"><stop offset="0" stop-color="#55ffa2"/><stop offset="0.153" stop-color="#6dff8a"/><stop offset="0.197" stop-color="#a6ff51"/><stop offset="0.219" stop-color="#d1ff26"/><stop offset="0.23" stop-color="#f8f500"/><stop offset="0.251" stop-color="#ff9c00"/><stop offset="0.284" stop-color="#ff5400"/><stop offset="0.317" stop-color="#fa0f00"/><stop offset="0.328" stop-color="#d50000"/><stop offset="0.35" stop-color="#b00000"/><stop offset="0.404" stop-color="#800000"/><stop offset="0.995" stop-color="#800000"/></linearGradient>
<linearGradient id="g245" gradientUnits="userSpaceOnUse" x1="0" y1="74" x2="0" y2="440"><stop offset="0" stop-color="#4effa9"/><stop offset="0.153" stop-color="#6eff89"/><stop offset="0.197" stop-color="#aeff48"/><stop offset="0.208" stop-color="#c7ff30"/><stop offset="0.219" stop-color="#eeff09"/><stop offset="0.23" stop-color="#ffce00"/><stop offset="0.251" stop-color="#ff8300"/><stop offset="0.306" stop-color="#ff1600"/><stop offset="0.317" stop-color="#dd0000"/><stop offset="0.328" stop-color="#c30000"/><stop offset="0.393" stop-color="#860000"/><stop offset="0.995" stop-color="#800000"/></linearGradient>
<linearGradient id="g246" gradientUnits="userSpaceOnUse" x1="0" y1="74" x2="0" y2="440"><stop offset="0" stop-color="#53ffa4"/><stop offset="0.164" stop-color="#6bff8c"/><stop offset="0.208" stop-color="#a5ff51"/><stop offset="0.23" stop-color="#d3ff23"/><stop offset="0.24" stop-color="#ffec00"/><stop offset="0.262" stop-color="#ff8f00"/><stop offset="0.284" stop-color="#ff5d00"/><stop offset="0.317" stop-color="#ff2100"/><stop offset="0.328" stop-color="#ee0500"/><stop offset="0.339" stop-color="#c90000"/><stop offset="0.361" stop-color="#a80000"/><stop offset="0.415" stop-color="#800000"/><stop offset="0.995" stop-color="#800000"/></linearGradient>
<linearGradient id="g247" gradientUnits="userSpaceOnUse" x1="0" y1="74" x2="0" y2="440"><stop offset="0" stop-color="#52ffa5"/><stop offset="0.164" stop-color="#6aff8d"/><stop offset="0.208" stop-color="#a0ff56"/><stop offset="0.23" stop-color="#cfff28"/><stop offset="0.24" stop-color="#f8f400"/><stop offset="0.262" stop-color="#ff9f00"/><stop offset="0.328" stop-color="#ff1b00"/><stop offset="0.339" stop-color="#e50000"/><stop offset="0.383" stop-color="#ac0000"/><stop offset="0.426" stop-color="#8a0000"/><stop offset="0.667" stop-color="#800000"/><stop offset="0.995" stop-color="#800000"/></linearGradient>
<linearGradient id="g248" gradientUnits="userSpaceOnUse" x1="0" y1="74" x2="0" y2="440"><stop offset="0" stop-color="#47ffb0"/><stop offset="0.175" stop-color="#5eff99"/><stop offset="0.208" stop-color="#7bff7c"/><stop offset="0.23" stop-color="#9cff5b"/><stop offset="0.262" stop-color="#f4f802"/><stop offset="0.284" stop-color="#ffc400"/><stop offset="0.339" stop-color="#ff5b00"/><stop offset="0.361" stop-color="#ff3000"/><stop offset="0.383" stop-color="#fd1100"/><stop offset="0.404" stop-color="#dd0000"/><stop offset="0.448" stop-color="#b20000"/><stop offset="0.71" stop-color="#9b0000"/><stop offset="0.995" stop-color="#9b0000"/></linearGradient>
<linearGradient id="g249" gradientUnits="userSpaceOnUse" x1="0" y1="74" x2="0" y2="440"><stop offset="0" stop-color="#4fffa8"/><stop offset="0.186" stop-color="#6bff8c"/><stop offset="0.219" stop-color="#91ff66"/><stop offset="0.262" stop-color="#e5ff12"/><stop offset="0.273" stop-color="#f7f500"/><stop offset="0.317" stop-color="#ffa200"/><stop offset="0.393" stop-color="#ff1700"/><stop offset="0.415" stop-color="#e30000"/><stop offset="0.437" stop-color="#c40000"/><stop offset="0.667" stop-color="#a30000"/><stop offset="0.995" stop-color="#a30000"/></linearGradient>
<linearGradient id="g250" gradientUnits="userSpaceOnUse" x1="0" y1="74" x2="0" y2="440"><stop offset="0" stop-color="#56ffa1"/><stop offset="0.208" stop-color="#73ff84"/><stop offset="0.295" stop-color="#ecff0b"/><stop offset="0.306" stop-color="#fdee00"/><stop offset="0.404" stop-color="#ff4f00"/><stop offset="0.437" stop-color="#ff1a00"/><stop offset="0.459" stop-color="#ea0100"/><stop offset="0.536" stop-color="#c00000"/><stop offset="0.667" stop-color="#ab0000"/><stop offset="0.995" stop-color="#ab0000"/></linearGradient>
<linearGradient id="g251" gradientUnits="userSpaceOnUse" x1="0" y1="74" x2="0" y2="440"><stop offset="0" stop-color="#57ffa0"/><stop offset="0.186" stop-color="#71ff86"/><stop offset="0.273" stop-color="#d0ff27"/><stop offset="0.295" stop-color="#ecff0b"/><stop offset="0.317" stop-color="#ffe700"/><stop offset="0.383" stop-color="#ffa300"/><stop offset="0.437" stop-color="#ff3700"/><stop offset="0.459" stop-color="#ff1600"/><stop offset="0.492" stop-color="#e30000"/><stop offset="0.536" stop-color="#c90000"/><stop offset="0.645" stop-color="#b90000"/><stop offset="0.995" stop-color="#b90000"/></linearGradient>
<linearGradient id="g252" gradientUnits="userSpaceOnUse" x1="0" y1="74" x2="0" y2="440"><stop offset="0" stop-color="#4cffab"/><stop offset="0.197" stop-color="#64ff92"/><stop offset="0.306" stop-color="#c9ff2e"/><stop offset="0.372" stop-color="#deff19"/><stop offset="0.383" stop-color="#f2fb04"/><stop offset="0.393" stop-color="#ffdd00"/><stop offset="0.448" stop-color="#ff4f00"/><stop offset="0.47" stop-color="#ff2e00"/><stop offset="0.503" stop-color="#f70d00"/><stop offset="0.546" stop-color="#e30000"/><stop offset="0.634" stop-color="#d80000"/><stop offset="0.995" stop-color="#d80000"/></linearGradient>
<linearGradient id="g253" gradientUnits="userSpaceOnUse" x1="0" y1="74" x2="0" y2="440"><stop offset="0" stop-color="#48ffae"/><stop offset="0.23" stop-color="#60ff97"/><stop offset="0.328" stop-color="#aeff49"/><stop offset="0.393" stop-color="#b1ff45"/><stop offset="0.415" stop-color="#e0ff17"/><stop offset="0.426" stop-color="#fcef00"/><stop offset="0.481" stop-color="#ff4f00"/><stop offset="0.536" stop-color="#fc1100"/><stop offset="0.623" stop-color="#e70000"/><stop offset="0.995" stop-color="#e70000"/></linearGradient>
<linearGradient id="g254" gradientUnits="userSpaceOnUse" x1="0" y1="74" x2="0" y2="440"><stop offset="0" stop-color="#49ffae"/><stop offset="0.23" stop-color="#5bff9c"/><stop offset="0.35" stop-color="#afff47"/><stop offset="0.404" stop-color="#b8ff3f"/><stop offset="0.426" stop-color="#e1ff16"/><stop offset="0.437" stop-color="#fdee00"/><stop offset="0.492" stop-color="#ff4c00"/><stop offset="0.546" stop-color="#fe1200"/><stop offset="0.645" stop-color="#ec0400"/><stop offset="0.995" stop-color="#ec0400"/></linearGradient>
<linearGradient id="g255" gradientUnits="userSpaceOnUse" x1="0" y1="74" x2="0" y2="440"><stop offset="0" stop-color="#46ffb1"/><stop offset="0.208" stop-color="#57ff9f"/><stop offset="0.328" stop-color="#acff4b"/><stop offset="0.383" stop-color="#b8ff3e"/><stop offset="0.404" stop-color="#daff1d"/><stop offset="0.415" stop-color="#f6f600"/><stop offset="0.448" stop-color="#ff8f00"/><stop offset="0.47" stop-color="#ff5000"/><stop offset="0.525" stop-color="#ff1800"/><stop offset="0.656" stop-color="#f60c00"/><stop offset="0.995" stop-color="#f60c00"/></linearGradient>
<linearGradient id="g256" gradientUnits="userSpaceOnUse" x1="0" y1="74" x2="0" y2="440"><stop offset="0" stop-color="#49ffae"/><stop offset="0.197" stop-color="#5cff9b"/><stop offset="0.328" stop-color="#b3ff44"/><stop offset="0.372" stop-color="#c0ff37"/><stop offset="0.393" stop-color="#e0ff16"/><stop offset="0.404" stop-color="#fdee00"/><stop offset="0.448" stop-color="#ff6100"/><stop offset="0.47" stop-color="#ff3f00"/><stop offset="0.514" stop-color="#ff1700"/><stop offset="0.678" stop-color="#f80d00"/><stop offset="0.995" stop-color="#f80d00"/></linearGradient>
<linearGradient id="g257" gradientUnits="userSpaceOnUse" x1="0" y1="74" x2="0" y2="440"><stop offset="0" stop-color="#4fffa8"/><stop offset="0.219" stop-color="#65ff92"/><stop offset="0.295" stop-color="#a3ff53"/><stop offset="0.35" stop-color="#daff1c"/><stop offset="0.404" stop-color="#f1fc06"/><stop offset="0.415" stop-color="#ffe800"/><stop offset="0.47" stop-color="#ff5100"/><stop offset="0.492" stop-color="#ff3200"/><stop offset="0.536" stop-color="#fb0f00"/><stop offset="0.732" stop-color="#f20800"/><stop offset="0.995" stop-color="#f20800"/></linearGradient>
<linearGradient id="g258" gradientUnits="userSpaceOnUse" x1="0" y1="74" x2="0" y2="440"><stop offset="0" stop-color="#4affad"/><stop offset="0.219" stop-color="#67ff90"/><stop offset="0.284" stop-color="#a8ff4e"/><stop offset="0.317" stop-color="#ecff0b"/><stop offset="0.328" stop-color="#fdee00"/><stop offset="0.361" stop-color="#ffc900"/><stop offset="0.404" stop-color="#ffb300"/><stop offset="0.481" stop-color="#ff3200"/><stop offset="0.536" stop-color="#fe1200"/><stop offset="0.995" stop-color="#f90e00"/></linearGradient>
<linearGradient id="g259" gradientUnits="userSpaceOnUse" x1="0" y1="74" x2="0" y2="440"><stop offset="0" stop-color="#59ff9e"/><stop offset="0.208" stop-color="#77ff80"/><stop offset="0.273" stop-color="#bcff3a"/><stop offset="0.295" stop-color="#f8f400"/><stop offset="0.317" stop-color="#ffae00"/><stop offset="0.35" stop-color="#ff6f00"/><stop offset="0.426" stop-color="#ff4000"/><stop offset="0.481" stop-color="#fd1100"/><stop offset="0.525" stop-color="#e60000"/><stop offset="0.995" stop-color="#e40000"/></linearGradient>
<linearGradient id="g260" gradientUnits="userSpaceOnUse" x1="0" y1="74" x2="0" y2="440"><stop offset="0" stop-color="#4effa9"/><stop offset="0.197" stop-color="#79ff7e"/><stop offset="0.251" stop-color="#c4ff33"/><stop offset="0.262" stop-color="#d4ff22"/><stop offset="0.273" stop-color="#f1fc06"/><stop offset="0.284" stop-color="#ffd400"/><stop offset="0.306" stop-color="#ff8d00"/><stop offset="0.328" stop-color="#ff5c00"/><stop offset="0.361" stop-color="#ff4100"/><stop offset="0.481" stop-color="#fc1000"/><stop offset="0.579" stop-color="#f30900"/><stop offset="0.995" stop-color="#f30900"/></linearGradient>
<linearGradient id="g261" gradientUnits="userSpaceOnUse" x1="0" y1="74" x2="0" y2="440"><stop offset="0" stop-color="#47ffb0"/><stop offset="0.164" stop-color="#72ff85"/><stop offset="0.208" stop-color="#a5ff51"/><stop offset="0.24" stop-color="#ecff0a"/><stop offset="0.251" stop-color="#ffe800"/><stop offset="0.295" stop-color="#ff7600"/><stop offset="0.328" stop-color="#ff4500"/><stop offset="0.426" stop-color="#ff2100"/><stop offset="0.536" stop-color="#ff1300"/><stop offset="0.995" stop-color="#ff1300"/></linearGradient>
<linearGradient id="g262" gradientUnits="userSpaceOnUse" x1="0" y1="74" x2="0" y2="440"><stop offset="0" stop-color="#47ffb0"/><stop offset="0.175" stop-color="#78ff7e"/><stop offset="0.219" stop-color="#b9ff3e"/><stop offset="0.24" stop-color="#f0fe07"/><stop offset="0.251" stop-color="#ffd900"/><stop offset="0.284" stop-color="#ff8800"/><stop offset="0.328" stop-color="#ff4200"/><stop offset="0.404" stop-color="#ff1a00"/><stop offset="0.798" stop-color="#fe1200"/><stop offset="0.995" stop-color="#fe1200"/></linearGradient>
<linearGradient id="g263" gradientUnits="userSpaceOnUse" x1="0" y1="74" x2="0" y2="440"><stop offset="0" stop-color="#41ffb6"/><stop offset="0.131" stop-color="#6eff89"/><stop offset="0.164" stop-color="#89ff6d"/><stop offset="0.208" stop-color="#deff19"/><stop offset="0.219" stop-color="#fbf100"/><stop offset="0.251" stop-color="#ff8400"/><stop offset="0.306" stop-color="#ff3800"/><stop offset="0.383" stop-color="#ff1300"/><stop offset="0.995" stop-color="#ff1400"/></linearGradient>
<linearGradient id="g264" gradientUnits="userSpaceOnUse" x1="0" y1="74" x2="0" y2="440"><stop offset="0" stop-color="#4bffac"/><stop offset="0.109" stop-color="#69ff8e"/><stop offset="0.164" stop-color="#a6ff51"/><stop offset="0.197" stop-color="#efff08"/><stop offset="0.208" stop-color="#ffe500"/><stop offset="0.251" stop-color="#ff6700"/><stop offset="0.284" stop-color="#ff2d00"/><stop offset="0.328" stop-color="#f30900"/><stop offset="0.393" stop-color="#da0000"/><stop offset="0.995" stop-color="#df0000"/></linearGradient>
<linearGradient id="g265" gradientUnits="userSpaceOnUse" x1="0" y1="74" x2="0" y2="440"><stop offset="0" stop-color="#55ffa2"/><stop offset="0.131" stop-color="#71ff86"/><stop offset="0.175" stop-color="#b2ff45"/><stop offset="0.197" stop-color="#e2ff14"/><stop offset="0.208" stop-color="#ffe900"/><stop offset="0.273" stop-color="#ff3b00"/><stop offset="0.295" stop-color="#ff1400"/><stop offset="0.306" stop-color="#eb0300"/><stop offset="0.361" stop-color="#c20000"/><stop offset="0.415" stop-color="#b60000"/><stop offset="0.995" stop-color="#bf0000"/></linearGradient>
<linearGradient id="g266" gradientUnits="userSpaceOnUse" x1="0" y1="74" x2="0" y2="440"><stop offset="0" stop-color="#5dff9a"/><stop offset="0.109" stop-color="#7cff7b"/><stop offset="0.131" stop-color="#a2ff55"/><stop offset="0.164" stop-color="#f6f600"/><stop offset="0.197" stop-color="#ff9400"/><stop offset="0.251" stop-color="#ff1800"/><stop offset="0.273" stop-color="#de0000"/><stop offset="0.295" stop-color="#ba0000"/><stop offset="0.372" stop-color="#9d0000"/><stop offset="0.995" stop-color="#a60000"/></linearGradient>
<linearGradient id="g267" gradientUnits="userSpaceOnUse" x1="0" y1="74" x2="0" y2="440"><stop offset="0" stop-color="#62ff95"/><stop offset="0.0765" stop-color="#71ff86"/><stop offset="0.12" stop-color="#7fff77"/><stop offset="0.142" stop-color="#a7ff50"/><stop offset="0.164" stop-color="#f9f300"/><stop offset="0.186" stop-color="#ff9900"/><stop offset="0.208" stop-color="#ff5c00"/><stop offset="0.24" stop-color="#ff1c00"/><stop offset="0.262" stop-color="#e40000"/><stop offset="0.317" stop-color="#a50000"/><stop offset="0.415" stop-color="#930000"/><stop offset="0.995" stop-color="#980000"/></linearGradient>
<linearGradient id="g268" gradientUnits="userSpaceOnUse" x1="0" y1="74" x2="0" y2="440"><stop offset="0" stop-color="#65ff92"/><stop offset="0.0656" stop-color="#74ff83"/><stop offset="0.12" stop-color="#8aff6d"/><stop offset="0.142" stop-color="#c7ff30"/><stop offset="0.153" stop-color="#f7f600"/><stop offset="0.175" stop-color="#ff6a00"/><stop offset="0.186" stop-color="#ff3600"/><stop offset="0.197" stop-color="#ff1300"/><stop offset="0.208" stop-color="#e90100"/><stop offset="0.251" stop-color="#aa0000"/><stop offset="0.339" stop-color="#8d0000"/><stop offset="0.995" stop-color="#8b0000"/></linearGradient>
<linearGradient id="g269" gradientUnits="userSpaceOnUse" x1="0" y1="74" x2="0" y2="440"><stop offset="0" stop-color="#53ffa4"/><stop offset="0.0874" stop-color="#6fff87"/><stop offset="0.109" stop-color="#79ff7e"/><stop offset="0.12" stop-color="#8fff68"/><stop offset="0.131" stop-color="#b3ff44"/><stop offset="0.142" stop-color="#e3ff13"/><stop offset="0.153" stop-color="#ffc000"/><stop offset="0.175" stop-color="#ff4100"/><stop offset="0.186" stop-color="#ff1700"/><stop offset="0.197" stop-color="#e80000"/><stop offset="0.23" stop-color="#b10000"/><stop offset="0.273" stop-color="#a20000"/><stop offset="0.995" stop-color="#a20000"/></linearGradient>
<linearGradient id="g270" gradientUnits="userSpaceOnUse" x1="0" y1="74" x2="0" y2="440"><stop offset="0" stop-color="#56ffa1"/><stop offset="0.0984" stop-color="#7bff7c"/><stop offset="0.109" stop-color="#8bff6c"/><stop offset="0.12" stop-color="#a8ff4f"/><stop offset="0.131" stop-color="#d3ff24"/><stop offset="0.142" stop-color="#ffe000"/><stop offset="0.164" stop-color="#ff6e00"/><stop offset="0.175" stop-color="#ff4000"/><stop offset="0.186" stop-color="#ff1f00"/><stop offset="0.197" stop-color="#ec0300"/><stop offset="0.219" stop-color="#b60000"/><stop offset="0.262" stop-color="#9d0000"/><stop offset="0.995" stop-color="#9d0000"/></linearGradient>
<linearGradient id="g271" gradientUnits="userSpaceOnUse" x1="0" y1="74" x2="0" y2="440"><stop offset="0" stop-color="#5aff9d"/><stop offset="0.109" stop-color="#7fff77"/><stop offset="0.12" stop-color="#8bff6c"/><stop offset="0.131" stop-color="#a6ff51"/><stop offset="0.142" stop-color="#cfff28"/><stop offset="0.153" stop-color="#faf200"/><stop offset="0.186" stop-color="#ff5a00"/><stop offset="0.208" stop-color="#f30900"/><stop offset="0.219" stop-color="#c90000"/><stop offset="0.24" stop-color="#aa0000"/><stop offset="0.262" stop-color="#970000"/><stop offset="0.995" stop-color="#970000"/></linearGradient>
<linearGradient id="g272" gradientUnits="userSpaceOnUse" x1="0" y1="74" x2="0" y2="440"><stop offset="0" stop-color="#4cffab"/><stop offset="0.12" stop-color="#73ff84"/><stop offset="0.131" stop-color="#85ff71"/><stop offset="0.153" stop-color="#cfff28"/><stop offset="0.164" stop-color="#f8f400"/><stop offset="0.197" stop-color="#ff5300"/><stop offset="0.208" stop-color="#ff2700"/><stop offset="0.219" stop-color="#e90100"/><stop offset="0.24" stop-color="#c40000"/><stop offset="0.262" stop-color="#ad0000"/><stop offset="0.995" stop-color="#ad0000"/></linearGradient>
<linearGradient id="g273" gradientUnits="userSpaceOnUse" x1="0" y1="74" x2="0" y2="440"><stop offset="0" stop-color="#4dffaa"/><stop offset="0.0984" stop-color="#71ff86"/><stop offset="0.109" stop-color="#7dff79"/><stop offset="0.131" stop-color="#c4ff33"/><stop offset="0.142" stop-color="#f1fd06"/><stop offset="0.153" stop-color="#ffc400"/><stop offset="0.186" stop-color="#ff2400"/><stop offset="0.197" stop-color="#ed0400"/><stop offset="0.219" stop-color="#c70000"/><stop offset="0.251" stop-color="#ac0000"/><stop offset="0.995" stop-color="#b10000"/></linearGradient>
<linearGradient id="g274" gradientUnits="userSpaceOnUse" x1="0" y1="74" x2="0" y2="440"><stop offset="0" stop-color="#45ffb2"/><stop offset="0.12" stop-color="#6cff8b"/><stop offset="0.131" stop-color="#80ff77"/><stop offset="0.153" stop-color="#d0ff27"/><stop offset="0.164" stop-color="#ffe300"/><stop offset="0.197" stop-color="#ff3300"/><stop offset="0.208" stop-color="#f60c00"/><stop offset="0.23" stop-color="#d50000"/><stop offset="0.262" stop-color="#b60000"/><stop offset="0.995" stop-color="#be0000"/></linearGradient>
<linearGradient id="g275" gradientUnits="userSpaceOnUse" x1="0" y1="74" x2="0" y2="440"><stop offset="0" stop-color="#5bff9c"/><stop offset="0.109" stop-color="#87ff6f"/><stop offset="0.12" stop-color="#9cff5b"/><stop offset="0.142" stop-color="#ecff0b"/><stop offset="0.153" stop-color="#ffc300"/><stop offset="0.186" stop-color="#ff1800"/><stop offset="0.197" stop-color="#d40000"/><stop offset="0.219" stop-color="#ba0000"/><stop offset="0.262" stop-color="#9d0000"/><stop offset="0.995" stop-color="#a70000"/></linearGradient>
<linearGradient id="g276" gradientUnits="userSpaceOnUse" x1="0" y1="74" x2="0" y2="440"><stop offset="0" stop-color="#68ff8f"/><stop offset="0.0984" stop-color="#90ff66"/><stop offset="0.12" stop-color="#aaff4d"/><stop offset="0.142" stop-color="#efff08"/><stop offset="0.153" stop-color="#ffca00"/><stop offset="0.175" stop-color="#ff5900"/><stop offset="0.186" stop-color="#ff2900"/><stop offset="0.197" stop-color="#e10000"/><stop offset="0.208" stop-color="#bd0000"/><stop offset="0.273" stop-color="#980000"/><stop offset="0.995" stop-color="#a10000"/></linearGradient>
<linearGradient id="g277" gradientUnits="userSpaceOnUse" x1="0" y1="74" x2="0" y2="440"><stop offset="0" stop-color="#66ff91"/><stop offset="0.0656" stop-color="#7bff7c"/><stop offset="0.12" stop-color="#a3ff53"/><stop offset="0.142" stop-color="#dfff18"/><stop offset="0.153" stop-color="#ffe400"/><stop offset="0.186" stop-color="#ff4900"/><stop offset="0.197" stop-color="#ff2100"/><stop offset="0.208" stop-color="#e10000"/><stop offset="0.219" stop-color="#c60000"/><stop offset="0.306" stop-color="#a40000"/><stop offset="0.995" stop-color="#af0000"/></linearGradient>
<linearGradient id="g278" gradientUnits="userSpaceOnUse" x1="0" y1="74" x2="0" y2="440"><stop offset="0" stop-color="#72ff85"/><stop offset="0.0437" stop-color="#7cff7a"/><stop offset="0.12" stop-color="#b4ff43"/><stop offset="0.142" stop-color="#eaff0c"/><stop offset="0.153" stop-color="#ffe100"/><stop offset="0.186" stop-color="#ff4f00"/><stop offset="0.208" stop-color="#f90e00"/><stop offset="0.219" stop-color="#d20000"/><stop offset="0.306" stop-color="#af0000"/><stop offset="0.995" stop-color="#ba0000"/></linearGradient>
<linearGradient id="g279" gradientUnits="userSpaceOnUse" x1="0" y1="74" x2="0" y2="440"><stop offset="0" stop-color="#8fff68"/><stop offset="0.0328" stop-color="#9cff5b"/><stop offset="0.109" stop-color="#e4ff13"/><stop offset="0.12" stop-color="#f8f400"/><stop offset="0.153" stop-color="#ff9400"/><stop offset="0.175" stop-color="#ff3f00"/><stop offset="0.197" stop-color="#f40a00"/><stop offset="0.208" stop-color="#db0000"/><stop offset="0.273" stop-color="#b60000"/><stop offset="0.995" stop-color="#bd0000"/></linearGradient>
<linearGradient id="g280" gradientUnits="userSpaceOnUse" x1="0" y1="74" x2="0" y2="440"><stop offset="0" stop-color="#b7ff40"/><stop offset="0.0437" stop-color="#c1ff36"/><stop offset="0.0874" stop-color="#f4f903"/><stop offset="0.109" stop-color="#ffdc00"/><stop offset="0.142" stop-color="#ffa500"/><stop offset="0.175" stop-color="#ff4e00"/><stop offset="0.197" stop-color="#f60c00"/><stop offset="0.219" stop-color="#d20000"/><stop offset="0.284" stop-color="#a80000"/><stop offset="0.995" stop-color="#b10000"/></linearGradient>
<linearGradient id="g281" gradientUnits="userSpaceOnUse" x1="0" y1="74" x2="0" y2="440"><stop offset="0" stop-color="#ceff29"/><stop offset="0.0328" stop-color="#d1ff26"/><stop offset="0.0656" stop-color="#f5f702"/><stop offset="0.0874" stop-color="#ffd900"/><stop offset="0.142" stop-color="#ff8600"/><stop offset="0.186" stop-color="#ff1700"/><stop offset="0.197" stop-color="#e70000"/><stop offset="0.273" stop-color="#af0000"/><stop offset="0.995" stop-color="#b50000"/></linearGradient>
<linearGradient id="g282" gradientUnits="userSpaceOnUse" x1="0" y1="74" x2="0" y2="440"><stop offset="0" stop-color="#d8ff1f"/><stop offset="0.0437" stop-color="#dfff17"/><stop offset="0.0656" stop-color="#f5f702"/><stop offset="0.0874" stop-color="#ffdf00"/><stop offset="0.142" stop-color="#ff9400"/><stop offset="0.175" stop-color="#ff4700"/><stop offset="0.197" stop-color="#fe1200"/><stop offset="0.219" stop-color="#e50000"/><stop offset="0.284" stop-color="#be0000"/><stop offset="0.995" stop-color="#c10000"/></linearGradient>
<linearGradient id="g283" gradientUnits="userSpaceOnUse" x1="0" y1="74" x2="0" y2="440"><stop offset="0" stop-color="#f2fb05"/><stop offset="0.0328" stop-color="#fdee00"/><stop offset="0.109" stop-color="#ff9f00"/><stop offset="0.142" stop-color="#ff6500"/><stop offset="0.175" stop-color="#ff1300"/><stop offset="0.197" stop-color="#e30000"/><stop offset="0.251" stop-color="#be0000"/><stop offset="0.995" stop-color="#b80000"/></linearGradient>
<linearGradient id="g284" gradientUnits="userSpaceOnUse" x1="0" y1="74" x2="0" y2="440"><stop offset="0" stop-color="#ffea00"/><stop offset="0.0656" stop-color="#ffbc00"/><stop offset="0.109" stop-color="#ff8700"/><stop offset="0.153" stop-color="#ff1f00"/><stop offset="0.186" stop-color="#ea0100"/><stop offset="0.23" stop-color="#cb0000"/><stop offset="0.995" stop-color="#c10000"/></linearGradient>
<linearGradient id="g285" gradientUnits="userSpaceOnUse" x1="0" y1="74" x2="0" y2="440"><stop offset="0" stop-color="#ffde00"/><stop offset="0.0656" stop-color="#ffb400"/><stop offset="0.0984" stop-color="#ff9100"/><stop offset="0.142" stop-color="#ff2900"/><stop offset="0.175" stop-color="#f30900"/><stop offset="0.219" stop-color="#d00000"/><stop offset="0.94" stop-color="#c40000"/><stop offset="0.995" stop-color="#c40000"/></linearGradient>
<linearGradient id="g286" gradientUnits="userSpaceOnUse" x1="0" y1="74" x2="0" y2="440"><stop offset="0" stop-color="#ffdd00"/><stop offset="0.0656" stop-color="#ffc500"/><stop offset="0.131" stop-color="#ff7c00"/><stop offset="0.164" stop-color="#ff2c00"/><stop offset="0.186" stop-color="#fc1000"/><stop offset="0.219" stop-color="#e00000"/><stop offset="0.251" stop-color="#ce0000"/><stop offset="0.995" stop-color="#c30000"/></linearGradient>
<linearGradient id="g287" gradientUnits="userSpaceOnUse" x1="0" y1="74" x2="0" y2="440"><stop offset="0" stop-color="#ffcd00"/><stop offset="0.0546" stop-color="#ffba00"/><stop offset="0.0984" stop-color="#ff9200"/><stop offset="0.131" stop-color="#ff6500"/><stop offset="0.164" stop-color="#ff1600"/><stop offset="0.186" stop-color="#e80000"/><stop offset="0.24" stop-color="#c00000"/><stop offset="0.995" stop-color="#b40000"/></linearGradient>
<linearGradient id="g288" gradientUnits="userSpaceOnUse" x1="0" y1="74" x2="0" y2="440"><stop offset="0" stop-color="#ff9d00"/><stop offset="0.0656" stop-color="#ff8a00"/><stop offset="0.131" stop-color="#ff4c00"/><stop offset="0.153" stop-color="#ff2000"/><stop offset="0.164" stop-color="#f20800"/><stop offset="0.175" stop-color="#d80000"/><stop offset="0.251" stop-color="#a10000"/><stop offset="0.995" stop-color="#960000"/></linearGradient>
<linearGradient id="g289" gradientUnits="userSpaceOnUse" x1="0" y1="74" x2="0" y2="440"><stop offset="0" stop-color="#ff6600"/><stop offset="0.0765" stop-color="#ff5000"/><stop offset="0.131" stop-color="#ff2500"/><stop offset="0.142" stop-color="#fd1200"/><stop offset="0.153" stop-color="#e60000"/><stop offset="0.175" stop-color="#bf0000"/><stop offset="0.251" stop-color="#920000"/><stop offset="0.995" stop-color="#890000"/></linearGradient>
<linearGradient id="g290" gradientUnits="userSpaceOnUse" x1="0" y1="74" x2="0" y2="440"><stop offset="0" stop-color="#ff4600"/><stop offset="0.109" stop-color="#ff2500"/><stop offset="0.131" stop-color="#f50b00"/><stop offset="0.153" stop-color="#d30000"/><stop offset="0.208" stop-color="#ac0000"/><stop offset="0.262" stop-color="#9b0000"/><stop offset="0.995" stop-color="#990000"/></linearGradient>
<linearGradient id="g291" gradientUnits="userSpaceOnUse" x1="0" y1="74" x2="0" y2="440"><stop offset="0" stop-color="#ff3900"/><stop offset="0.109" stop-color="#ff2700"/><stop offset="0.131" stop-color="#fe1200"/><stop offset="0.164" stop-color="#d20000"/><stop offset="0.262" stop-color="#a60000"/><stop offset="0.995" stop-color="#a60000"/></linearGradient>
<linearGradient id="g292" gradientUnits="userSpaceOnUse" x1="0" y1="74" x2="0" y2="440"><stop offset="0" stop-color="#ff2b00"/><stop offset="0.131" stop-color="#ff1500"/><stop offset="0.153" stop-color="#e40000"/><stop offset="0.186" stop-color="#bc0000"/><stop offset="0.284" stop-color="#9b0000"/><stop offset="0.995" stop-color="#9a0000"/></linearGradient>
<linearGradient id="g293" gradientUnits="userSpaceOnUse" x1="0" y1="74" x2="0" y2="440"><stop offset="0" stop-color="#ff3400"/><stop offset="0.12" stop-color="#ff2600"/><stop offset="0.142" stop-color="#fd1100"/><stop offset="0.164" stop-color="#df0000"/><stop offset="0.197" stop-color="#c50000"/><stop offset="0.295" stop-color="#ab0000"/><stop offset="0.995" stop-color="#ab0000"/></linearGradient>
<linearGradient id="g294" gradientUnits="userSpaceOnUse" x1="0" y1="74" x2="0" y2="440"><stop offset="0" stop-color="#ff2100"/><stop offset="0.142" stop-color="#ff1300"/><stop offset="0.164" stop-color="#e50000"/><stop offset="0.197" stop-color="#bb0000"/><stop offset="0.317" stop-color="#9a0000"/><stop offset="0.995" stop-color="#9a0000"/></linearGradient>
<linearGradient id="g295" gradientUnits="userSpaceOnUse" x1="0" y1="74" x2="0" y2="440"><stop offset="0" stop-color="#ff1e00"/><stop offset="0.12" stop-color="#ff1300"/><stop offset="0.142" stop-color="#e80000"/><stop offset="0.186" stop-color="#b60000"/><stop offset="0.317" stop-color="#9a0000"/><stop offset="0.995" stop-color="#980000"/></linearGradient>
<linearGradient id="g296" gradientUnits="userSpaceOnUse" x1="0" y1="74" x2="0" y2="440"><stop offset="0" stop-color="#ff1d00"/><stop offset="0.131" stop-color="#fb0f00"/><stop offset="0.164" stop-color="#db0000"/><stop offset="0.219" stop-color="#ae0000"/><stop offset="0.372" stop-color="#9c0000"/><stop offset="0.995" stop-color="#970000"/></linearGradient>
<linearGradient id="g297" gradientUnits="userSpaceOnUse" x1="0" y1="74" x2="0" y2="440"><stop offset="0" stop-color="#ff3200"/><stop offset="0.131" stop-color="#ff1d00"/><stop offset="0.164" stop-color="#ee0500"/><stop offset="0.219" stop-color="#c70000"/><stop offset="0.459" stop-color="#b70000"/><stop offset="0.995" stop-color="#b10000"/></linearGradient>
<linearGradient id="g298" gradientUnits="userSpaceOnUse" x1="0" y1="74" x2="0" y2="440"><stop offset="0" stop-color="#ff6000"/><stop offset="0.0656" stop-color="#ff5200"/><stop offset="0.153" stop-color="#ff2400"/><stop offset="0.175" stop-color="#ff1300"/><stop offset="0.208" stop-color="#e10000"/><stop offset="0.262" stop-color="#c80000"/><stop offset="0.557" stop-color="#b30000"/><stop offset="0.995" stop-color="#ac0000"/></linearGradient>
<linearGradient id="g299" gradientUnits="userSpaceOnUse" x1="0" y1="74" x2="0" y2="440"><stop offset="0" stop-color="#ffc200"/><stop offset="0.0874" stop-color="#ff7200"/><stop offset="0.164" stop-color="#ff2200"/><stop offset="0.186" stop-color="#fc1000"/><stop offset="0.219" stop-color="#dc0000"/><stop offset="0.383" stop-color="#be0000"/><stop offset="0.82" stop-color="#aa0000"/><stop offset="0.995" stop-color="#aa0000"/></linearGradient>
<linearGradient id="g300" gradientUnits="userSpaceOnUse" x1="0" y1="74" x2="0" y2="440"><stop offset="0" stop-color="#b1ff46"/><stop offset="0.12" stop-color="#d5ff22"/><stop offset="0.186" stop-color="#f1fc05"/><stop offset="0.197" stop-color="#ffeb00"/><stop offset="0.23" stop-color="#ffae00"/><stop offset="0.251" stop-color="#ff5800"/><stop offset="0.284" stop-color="#ff1300"/><stop offset="0.306" stop-color="#e40000"/><stop offset="0.383" stop-color="#b90000"/><stop offset="0.634" stop-color="#9f0000"/><stop offset="0.995" stop-color="#9c0000"/></linearGradient>
<linearGradient id="g301" gradientUnits="userSpaceOnUse" x1="0" y1="74" x2="0" y2="440"><stop offset="0" stop-color="#76ff80"/><stop offset="0.186" stop-color="#85ff72"/><stop offset="0.208" stop-color="#9eff59"/><stop offset="0.24" stop-color="#e0ff17"/><stop offset="0.251" stop-color="#ffd600"/><stop offset="0.262" stop-color="#ff9b00"/><stop offset="0.284" stop-color="#ff5000"/><stop offset="0.306" stop-color="#ff1d00"/><stop offset="0.339" stop-color="#e80000"/><stop offset="0.393" stop-color="#be0000"/><stop offset="0.546" stop-color="#a00000"/><stop offset="0.995" stop-color="#980000"/></linearGradient>
<linearGradient id="g302" gradientUnits="userSpaceOnUse" x1="0" y1="74" x2="0" y2="440"><stop offset="0" stop-color="#66ff90"/><stop offset="0.186" stop-color="#74ff82"/><stop offset="0.219" stop-color="#a1ff55"/><stop offset="0.24" stop-color="#cfff28"/><stop offset="0.251" stop-color="#fcef00"/><stop offset="0.262" stop-color="#ffb800"/><stop offset="0.284" stop-color="#ff6c00"/><stop offset="0.306" stop-color="#ff3a00"/><stop offset="0.35" stop-color="#fe1200"/><stop offset="0.393" stop-color="#df0000"/><stop offset="0.525" stop-color="#b80000"/><stop offset="0.951" stop-color="#af0000"/><stop offset="0.995" stop-color="#af0000"/></linearGradient>
<linearGradient id="g303" gradientUnits="userSpaceOnUse" x1="0" y1="74" x2="0" y2="440"><stop offset="0" stop-color="#6bff8c"/><stop offset="0.186" stop-color="#7bff7c"/><stop offset="0.23" stop-color="#baff3c"/><stop offset="0.24" stop-color="#d7ff20"/><stop offset="0.251" stop-color="#ffe800"/><stop offset="0.273" stop-color="#ff8b00"/><stop offset="0.306" stop-color="#ff3a00"/><stop offset="0.35" stop-color="#ff1300"/><stop offset="0.383" stop-color="#e50000"/><stop offset="0.514" stop-color="#b20000"/><stop offset="0.896" stop-color="#a80000"/><stop offset="0.995" stop-color="#a80000"/></linearGradient>
<linearGradient id="g304" gradientUnits="userSpaceOnUse" x1="0" y1="74" x2="0" y2="440"><stop offset="0" stop-color="#73ff84"/><stop offset="0.164" stop-color="#7eff79"/><stop offset="0.219" stop-color="#c4ff33"/><stop offset="0.23" stop-color="#e3ff13"/><stop offset="0.24" stop-color="#ffd400"/><stop offset="0.262" stop-color="#ff7e00"/><stop offset="0.295" stop-color="#ff3100"/><stop offset="0.339" stop-color="#f90e00"/><stop offset="0.372" stop-color="#e20000"/><stop offset="0.492" stop-color="#a80000"/><stop offset="0.82" stop-color="#9d0000"/><stop offset="0.995" stop-color="#9d0000"/></linearGradient>
<linearGradient id="g305" gradientUnits="userSpaceOnUse" x1="0" y1="74" x2="0" y2="440"><stop offset="0" stop-color="#75ff82"/><stop offset="0.186" stop-color="#80ff77"/><stop offset="0.24" stop-color="#beff38"/><stop offset="0.251" stop-color="#e8ff0f"/><stop offset="0.262" stop-color="#ffd100"/><stop offset="0.284" stop-color="#ff8300"/><stop offset="0.306" stop-color="#ff4800"/><stop offset="0.361" stop-color="#fe1200"/><stop offset="0.404" stop-color="#e00000"/><stop offset="0.503" stop-color="#a90000"/><stop offset="0.765" stop-color="#9c0000"/><stop offset="0.995" stop-color="#9c0000"/></linearGradient>
<linearGradient id="g306" gradientUnits="userSpaceOnUse" x1="0" y1="74" x2="0" y2="440"><stop offset="0" stop-color="#76ff81"/><stop offset="0.197" stop-color="#7eff78"/><stop offset="0.251" stop-color="#b6ff40"/><stop offset="0.262" stop-color="#d9ff1d"/><stop offset="0.273" stop-color="#ffe600"/><stop offset="0.295" stop-color="#ff9600"/><stop offset="0.317" stop-color="#ff5a00"/><stop offset="0.361" stop-color="#ff2300"/><stop offset="0.393" stop-color="#f60b00"/><stop offset="0.437" stop-color="#da0000"/><stop offset="0.525" stop-color="#aa0000"/><stop offset="0.787" stop-color="#9d0000"/><stop offset="0.995" stop-color="#9d0000"/></linearGradient>
<linearGradient id="g307" gradientUnits="userSpaceOnUse" x1="0" y1="74" x2="0" y2="440"><stop offset="0" stop-color="#75ff81"/><stop offset="0.186" stop-color="#7aff7c"/><stop offset="0.24" stop-color="#aaff4d"/><stop offset="0.251" stop-color="#c2ff35"/><stop offset="0.262" stop-color="#e7ff0f"/><stop offset="0.273" stop-color="#ffda00"/><stop offset="0.295" stop-color="#ff8e00"/><stop offset="0.339" stop-color="#ff3a00"/><stop offset="0.393" stop-color="#f90e00"/><stop offset="0.437" stop-color="#dd0000"/><stop offset="0.525" stop-color="#ab0000"/><stop offset="0.852" stop-color="#a00000"/><stop offset="0.995" stop-color="#a00000"/></linearGradient>
<linearGradient id="g308" gradientUnits="userSpaceOnUse" x1="0" y1="74" x2="0" y2="440"><stop offset="0" stop-color="#78ff7f"/><stop offset="0.208" stop-color="#7cff7b"/><stop offset="0.262" stop-color="#acff4b"/><stop offset="0.284" stop-color="#efff08"/><stop offset="0.295" stop-color="#ffd200"/><stop offset="0.317" stop-color="#ff8d00"/><stop offset="0.35" stop-color="#ff4800"/><stop offset="0.415" stop-color="#f90e00"/><stop offset="0.459" stop-color="#db0000"/><stop offset="0.546" stop-color="#ab0000"/><stop offset="0.852" stop-color="#a00000"/><stop offset="0.995" stop-color="#a00000"/></linearGradient>
<linearGradient id="g309" gradientUnits="userSpaceOnUse" x1="0" y1="74" x2="0" y2="440"><stop offset="0" stop-color="#7aff7d"/><stop offset="0.208" stop-color="#7eff78"/><stop offset="0.251" stop-color="#a1ff56"/><stop offset="0.273" stop-color="#d2ff24"/><stop offset="0.284" stop-color="#f5f802"/><stop offset="0.306" stop-color="#ffae00"/><stop offset="0.35" stop-color="#ff4e00"/><stop offset="0.426" stop-color="#fc1100"/><stop offset="0.47" stop-color="#de0000"/><stop offset="0.557" stop-color="#af0000"/><stop offset="0.732" stop-color="#9f0000"/><stop offset="0.995" stop-color="#9f0000"/></linearGradient>
<linearGradient id="g310" gradientUnits="userSpaceOnUse" x1="0" y1="74" x2="0" y2="440"><stop offset="0" stop-color="#7bff7c"/><stop offset="0.23" stop-color="#7eff79"/><stop offset="0.284" stop-color="#b3ff44"/><stop offset="0.306" stop-color="#e3ff14"/><stop offset="0.317" stop-color="#ffe700"/><stop offset="0.35" stop-color="#ff8c00"/><stop offset="0.372" stop-color="#ff5e00"/><stop offset="0.481" stop-color="#ff1300"/><stop offset="0.525" stop-color="#e10000"/><stop offset="0.601" stop-color="#a80000"/><stop offset="0.951" stop-color="#9e0000"/><stop offset="0.995" stop-color="#9e0000"/></linearGradient>
<linearGradient id="g311" gradientUnits="userSpaceOnUse" x1="0" y1="74" x2="0" y2="440"><stop offset="0" stop-color="#77ff80"/><stop offset="0.208" stop-color="#7cff7b"/><stop offset="0.262" stop-color="#aaff4c"/><stop offset="0.295" stop-color="#f2fb04"/><stop offset="0.306" stop-color="#ffda00"/><stop offset="0.339" stop-color="#ff8e00"/><stop offset="0.372" stop-color="#ff7000"/><stop offset="0.536" stop-color="#fb1000"/><stop offset="0.568" stop-color="#dc0000"/><stop offset="0.623" stop-color="#bd0000"/><stop offset="0.765" stop-color="#ab0000"/><stop offset="0.995" stop-color="#ab0000"/></linearGradient>
<linearGradient id="g312" gradientUnits="userSpaceOnUse" x1="0" y1="74" x2="0" y2="440"><stop offset="0" stop-color="#7eff79"/><stop offset="0.23" stop-color="#80ff76"/><stop offset="0.295" stop-color="#bbff3c"/><stop offset="0.328" stop-color="#f1fc05"/><stop offset="0.339" stop-color="#ffe500"/><stop offset="0.372" stop-color="#ffa600"/><stop offset="0.579" stop-color="#ff3f00"/><stop offset="0.612" stop-color="#ff1300"/><stop offset="0.623" stop-color="#ea0200"/><stop offset="0.678" stop-color="#cc0000"/><stop offset="0.754" stop-color="#b30000"/><stop offset="0.995" stop-color="#b30000"/></linearGradient>
<linearGradient id="g313" gradientUnits="userSpaceOnUse" x1="0" y1="74" x2="0" y2="440"><stop offset="0" stop-color="#71ff86"/><stop offset="0.23" stop-color="#74ff83"/><stop offset="0.306" stop-color="#aeff49"/><stop offset="0.35" stop-color="#ecff0b"/><stop offset="0.372" stop-color="#ffea00"/><stop offset="0.568" stop-color="#ff7e00"/><stop offset="0.59" stop-color="#ff5f00"/><stop offset="0.623" stop-color="#ff2400"/><stop offset="0.667" stop-color="#f50b00"/><stop offset="0.721" stop-color="#d90000"/><stop offset="0.995" stop-color="#d40000"/></linearGradient>
<linearGradient id="g314" gradientUnits="userSpaceOnUse" x1="0" y1="74" x2="0" y2="440"><stop offset="0" stop-color="#79ff7d"/><stop offset="0.23" stop-color="#7cff7b"/><stop offset="0.328" stop-color="#b7ff40"/><stop offset="0.426" stop-color="#f4f903"/><stop offset="0.47" stop-color="#ffd600"/><stop offset="0.568" stop-color="#ff7d00"/><stop offset="0.623" stop-color="#ff2600"/><stop offset="0.656" stop-color="#f80d00"/><stop offset="0.699" stop-color="#e00000"/><stop offset="0.776" stop-color="#d30000"/><stop offset="0.995" stop-color="#d30000"/></linearGradient>
<linearGradient id="g315" gradientUnits="userSpaceOnUse" x1="0" y1="74" x2="0" y2="440"><stop offset="0" stop-color="#76ff81"/><stop offset="0.262" stop-color="#7aff7d"/><stop offset="0.437" stop-color="#c9ff2e"/><stop offset="0.492" stop-color="#f4f903"/><stop offset="0.514" stop-color="#ffde00"/><stop offset="0.59" stop-color="#ff8500"/><stop offset="0.634" stop-color="#ff4000"/><stop offset="0.699" stop-color="#fe1200"/><stop offset="0.776" stop-color="#ea0200"/><stop offset="0.995" stop-color="#ea0200"/></linearGradient>
<linearGradient id="g316" gradientUnits="userSpaceOnUse" x1="0" y1="74" x2="0" y2="440"><stop offset="0" stop-color="#7eff79"/><stop offset="0.273" stop-color="#85ff72"/><stop offset="0.437" stop-color="#c2ff34"/><stop offset="0.492" stop-color="#f1fd06"/><stop offset="0.514" stop-color="#ffdd00"/><stop offset="0.623" stop-color="#ff4200"/><stop offset="0.71" stop-color="#ff1600"/><stop offset="0.787" stop-color="#f60c00"/><stop offset="0.995" stop-color="#f60c00"/></linearGradient>
<linearGradient id="g317" gradientUnits="userSpaceOnUse" x1="0" y1="74" x2="0" y2="440"><stop offset="0" stop-color="#77ff80"/><stop offset="0.317" stop-color="#7cff7b"/><stop offset="0.448" stop-color="#9fff58"/><stop offset="0.525" stop-color="#e4ff13"/><stop offset="0.536" stop-color="#f4f903"/><stop offset="0.557" stop-color="#ffd400"/><stop offset="0.612" stop-color="#ff7800"/><stop offset="0.656" stop-color="#ff5000"/><stop offset="0.776" stop-color="#ff2700"/><stop offset="0.995" stop-color="#ff2700"/></linearGradient>
<linearGradient id="g318" gradientUnits="userSpaceOnUse" x1="0" y1="74" x2="0" y2="440"><stop offset="0" stop-color="#77ff80"/><stop offset="0.328" stop-color="#7dff7a"/><stop offset="0.437" stop-color="#97ff60"/><stop offset="0.503" stop-color="#ccff2b"/><stop offset="0.525" stop-color="#ecff0b"/><stop offset="0.536" stop-color="#fcf000"/><stop offset="0.579" stop-color="#ff9e00"/><stop offset="0.623" stop-color="#ff6b00"/><stop offset="0.743" stop-color="#ff3400"/><stop offset="0.995" stop-color="#ff3400"/></linearGradient>
<linearGradient id="g319" gradientUnits="userSpaceOnUse" x1="0" y1="74" x2="0" y2="440"><stop offset="0" stop-color="#77ff80"/><stop offset="0.339" stop-color="#7eff79"/><stop offset="0.437" stop-color="#95ff61"/><stop offset="0.481" stop-color="#b0ff47"/><stop offset="0.525" stop-color="#e7ff10"/><stop offset="0.536" stop-color="#f8f500"/><stop offset="0.612" stop-color="#ff8500"/><stop offset="0.699" stop-color="#ff4700"/><stop offset="0.798" stop-color="#ff3e00"/><stop offset="0.995" stop-color="#ff3e00"/></linearGradient>
<linearGradient id="g320" gradientUnits="userSpaceOnUse" x1="0" y1="74" x2="0" y2="440"><stop offset="0" stop-color="#76ff81"/><stop offset="0.372" stop-color="#7dff7a"/><stop offset="0.47" stop-color="#90ff66"/><stop offset="0.546" stop-color="#e2ff15"/><stop offset="0.557" stop-color="#f0fd07"/><stop offset="0.568" stop-color="#feee00"/><stop offset="0.623" stop-color="#ff9a00"/><stop offset="0.689" stop-color="#ff5a00"/><stop offset="0.732" stop-color="#ff4800"/><stop offset="0.995" stop-color="#ff4800"/></linearGradient>
<linearGradient id="g321" gradientUnits="userSpaceOnUse" x1="0" y1="74" x2="0" y2="440"><stop offset="0" stop-color="#78ff7f"/><stop offset="0.415" stop-color="#80ff77"/><stop offset="0.492" stop-color="#8bff6b"/><stop offset="0.568" stop-color="#ceff29"/><stop offset="0.601" stop-color="#f6f601"/><stop offset="0.634" stop-color="#ffbe00"/><stop offset="0.699" stop-color="#ff6b00"/><stop offset="0.743" stop-color="#ff5400"/><stop offset="0.995" stop-color="#ff5400"/></linearGradient>
<linearGradient id="g322" gradientUnits="userSpaceOnUse" x1="0" y1="74" x2="0" y2="440"><stop offset="0" stop-color="#5dff9a"/><stop offset="0.415" stop-color="#66ff91"/><stop offset="0.503" stop-color="#7aff7c"/><stop offset="0.568" stop-color="#a9ff4e"/><stop offset="0.623" stop-color="#edff0a"/><stop offset="0.645" stop-color="#ffde00"/><stop offset="0.699" stop-color="#ff9300"/><stop offset="0.765" stop-color="#ff8700"/><stop offset="0.995" stop-color="#ff8700"/></linearGradient>
<linearGradient id="g323" gradientUnits="userSpaceOnUse" x1="0" y1="74" x2="0" y2="440"><stop offset="0" stop-color="#5cff9a"/><stop offset="0.426" stop-color="#6bff8c"/><stop offset="0.536" stop-color="#8bff6c"/><stop offset="0.601" stop-color="#caff2c"/><stop offset="0.623" stop-color="#edff0a"/><stop offset="0.634" stop-color="#fdee00"/><stop offset="0.689" stop-color="#ff9d00"/><stop offset="0.995" stop-color="#ff9a00"/></linearGradient>
<linearGradient id="g324" gradientUnits="userSpaceOnUse" x1="0" y1="74" x2="0" y2="440"><stop offset="0" stop-color="#33ffc4"/><stop offset="0.404" stop-color="#46ffb1"/><stop offset="0.536" stop-color="#68ff8f"/><stop offset="0.601" stop-color="#9aff5d"/><stop offset="0.656" stop-color="#e7ff10"/><stop offset="0.667" stop-color="#f6f701"/><stop offset="0.689" stop-color="#ffe100"/><stop offset="0.995" stop-color="#ffe100"/></linearGradient>
<linearGradient id="g325" gradientUnits="userSpaceOnUse" x1="0" y1="74" x2="0" y2="440"><stop offset="0" stop-color="#03e9f4"/><stop offset="0.35" stop-color="#18ffdf"/><stop offset="0.514" stop-color="#46ffb0"/><stop offset="0.612" stop-color="#7fff78"/><stop offset="0.678" stop-color="#c1ff36"/><stop offset="0.995" stop-color="#c1ff36"/></linearGradient>
<linearGradient id="g326" gradientUnits="userSpaceOnUse" x1="0" y1="74" x2="0" y2="440"><stop offset="0" stop-color="#00e1fa"/><stop offset="0.35" stop-color="#12fce5"/><stop offset="0.503" stop-color="#38ffbf"/><stop offset="0.612" stop-color="#76ff81"/><stop offset="0.667" stop-color="#aeff49"/><stop offset="0.995" stop-color="#b0ff47"/></linearGradient>
<linearGradient id="g327" gradientUnits="userSpaceOnUse" x1="0" y1="74" x2="0" y2="440"><stop offset="0" stop-color="#00d9ff"/><stop offset="0.35" stop-color="#08f0ef"/><stop offset="0.459" stop-color="#1dffda"/><stop offset="0.546" stop-color="#3affbd"/><stop offset="0.623" stop-color="#62ff95"/><stop offset="0.689" stop-color="#a1ff56"/><stop offset="0.995" stop-color="#a1ff56"/></linearGradient>
<linearGradient id="g328" gradientUnits="userSpaceOnUse" x1="0" y1="74" x2="0" y2="440"><stop offset="0" stop-color="#00dcff"/><stop offset="0.372" stop-color="#0af2ed"/><stop offset="0.492" stop-color="#1effd9"/><stop offset="0.568" stop-color="#36ffc0"/><stop offset="0.656" stop-color="#67ff90"/><stop offset="0.71" stop-color="#98ff5e"/><stop offset="0.995" stop-color="#98ff5e"/></linearGradient>
<linearGradient id="cb" x1="0" y1="0" x2="0" y2="1"><stop offset="0.000" stop-color="#800000"/><stop offset="0.025" stop-color="#9c0000"/><stop offset="0.050" stop-color="#b90000"/><stop offset="0.075" stop-color="#d60000"/><stop offset="0.100" stop-color="#f30900"/><stop offset="0.125" stop-color="#ff2100"/><stop offset="0.150" stop-color="#ff3900"/><stop offset="0.175" stop-color="#ff5000"/><stop offset="0.200" stop-color="#ff6800"/><stop offset="0.225" stop-color="#ff8000"/><stop offset="0.250" stop-color="#ff9700"/><stop offset="0.275" stop-color="#ffaf00"/><stop offset="0.300" stop-color="#ffc600"/><stop offset="0.325" stop-color="#ffde00"/><stop offset="0.350" stop-color="#f7f600"/><stop offset="0.375" stop-color="#e2ff15"/><stop offset="0.400" stop-color="#ceff29"/><stop offset="0.425" stop-color="#b9ff3e"/><stop offset="0.450" stop-color="#a5ff52"/><stop offset="0.475" stop-color="#90ff67"/><stop offset="0.500" stop-color="#7bff7b"/><stop offset="0.525" stop-color="#67ff90"/><stop offset="0.550" stop-color="#52ffa5"/><stop offset="0.575" stop-color="#3effb9"/><stop offset="0.600" stop-color="#29ffce"/><stop offset="0.625" stop-color="#15ffe2"/><stop offset="0.650" stop-color="#00e5f7"/><stop offset="0.675" stop-color="#00ccff"/><stop offset="0.700" stop-color="#00b3ff"/><stop offset="0.725" stop-color="#0099ff"/><stop offset="0.750" stop-color="#0080ff"/><stop offset="0.775" stop-color="#0066ff"/><stop offset="0.800" stop-color="#004cff"/><stop offset="0.825" stop-color="#0033ff"/><stop offset="0.850" stop-color="#001aff"/><stop offset="0.875" stop-color="#0000ff"/><stop offset="0.900" stop-color="#0000f3"/><stop offset="0.925" stop-color="#0000d6"/><stop offset="0.950" stop-color="#0000b9"/><stop offset="0.975" stop-color="#00009c"/><stop offset="1.000" stop-color="#000080"/></linearGradient>
</defs>
<g clip-path="url(#cp)" shape-rendering="crispEdges">
<rect x="212" y="73" width="2" height="300" fill="url(#g0)"/><rect x="214" y="73" width="2" height="300" fill="url(#g1)"/><rect x="216" y="73" width="2" height="300" fill="url(#g2)"/><rect x="218" y="73" width="2" height="299" fill="url(#g3)"/><rect x="220" y="73" width="2" height="299" fill="url(#g4)"/><rect x="222" y="73" width="2" height="298" fill="url(#g5)"/><rect x="224" y="73" width="2" height="297" fill="url(#g6)"/><rect x="226" y="73" width="2" height="296" fill="url(#g7)"/><rect x="228" y="73" width="2" height="295" fill="url(#g8)"/><rect x="230" y="73" width="2" height="294" fill="#800000"/><rect x="232" y="73" width="2" height="293" fill="#800000"/><rect x="234" y="73" width="2" height="293" fill="#800000"/><rect x="236" y="73" width="2" height="292" fill="#800000"/><rect x="238" y="73" width="2" height="292" fill="url(#g9)"/><rect x="240" y="73" width="2" height="293" fill="url(#g10)"/><rect x="242" y="73" width="2" height="295" fill="url(#g11)"/><rect x="244" y="73" width="2" height="298" fill="url(#g12)"/><rect x="246" y="73" width="2" height="301" fill="url(#g13)"/><rect x="248" y="73" width="2" height="302" fill="url(#g14)"/><rect x="250" y="73" width="2" height="302" fill="url(#g15)"/><rect x="252" y="73" width="2" height="302" fill="url(#g16)"/><rect x="254" y="73" width="2" height="301" fill="url(#g17)"/><rect x="256" y="73" width="2" height="300" fill="url(#g18)"/><rect x="258" y="73" width="2" height="300" fill="url(#g19)"/><rect x="260" y="73" width="2" height="297" fill="url(#g20)"/><rect x="262" y="73" width="2" height="293" fill="url(#g21)"/><rect x="264" y="73" width="2" height="289" fill="url(#g22)"/><rect x="266" y="73" width="2" height="285" fill="url(#g23)"/><rect x="268" y="73" width="2" height="286" fill="url(#g24)"/><rect x="270" y="73" width="2" height="289" fill="url(#g25)"/><rect x="272" y="73" width="2" height="292" fill="url(#g26)"/><rect x="274" y="73" width="2" height="292" fill="#800000"/><rect x="276" y="73" width="2" height="292" fill="#800000"/><rect x="278" y="73" width="2" height="290" fill="#800000"/><rect x="280" y="73" width="2" height="288" fill="#800000"/><rect x="282" y="73" width="2" height="286" fill="#800000"/><rect x="284" y="73" width="2" height="284" fill="#800000"/><rect x="286" y="73" width="2" height="282" fill="#800000"/><rect x="288" y="73" width="2" height="279" fill="#800000"/><rect x="290" y="73" width="2" height="277" fill="#800000"/><rect x="292" y="73" width="2" height="274" fill="#800000"/><rect x="294" y="73" width="2" height="272" fill="#800000"/><rect x="296" y="73" width="2" height="270" fill="#800000"/><rect x="298" y="73" width="2" height="268" fill="#800000"/><rect x="300" y="72" width="2" height="266" fill="#800000"/><rect x="302" y="72" width="2" height="265" fill="#800000"/><rect x="304" y="72" width="2" height="265" fill="#800000"/><rect x="306" y="72" width="2" height="264" fill="#800000"/><rect x="308" y="72" width="2" height="264" fill="#800000"/><rect x="310" y="72" width="2" height="265" fill="#800000"/><rect x="312" y="72" width="2" height="266" fill="#800000"/><rect x="314" y="72" width="2" height="267" fill="#800000"/><rect x="316" y="72" width="2" height="269" fill="#800000"/><rect x="318" y="72" width="2" height="273" fill="#800000"/><rect x="320" y="72" width="2" height="276" fill="#800000"/><rect x="322" y="72" width="2" height="280" fill="#800000"/><rect x="324" y="72" width="2" height="281" fill="#800000"/><rect x="326" y="72" width="2" height="281" fill="#800000"/><rect x="328" y="72" width="2" height="281" fill="#800000"/><rect x="330" y="72" width="2" height="279" fill="#800000"/><rect x="332" y="72" width="2" height="277" fill="#800000"/><rect x="334" y="72" width="2" height="273" fill="#800000"/><rect x="336" y="72" width="2" height="269" fill="#800000"/><rect x="338" y="72" width="2" height="267" fill="#800000"/><rect x="340" y="72" width="2" height="267" fill="#800000"/><rect x="342" y="72" width="2" height="267" fill="#800000"/><rect x="344" y="72" width="2" height="267" fill="#800000"/><rect x="346" y="72" width="2" height="267" fill="#800000"/><rect x="348" y="72" width="2" height="267" fill="#800000"/><rect x="350" y="72" width="2" height="270" fill="#800000"/><rect x="352" y="72" width="2" height="271" fill="#800000"/><rect x="354" y="72" width="2" height="271" fill="#800000"/><rect x="356" y="72" width="2" height="271" fill="#800000"/><rect x="358" y="72" width="2" height="267" fill="#800000"/><rect x="360" y="72" width="2" height="263" fill="#800000"/><rect x="362" y="72" width="2" height="266" fill="#800000"/><rect x="364" y="72" width="2" height="266" fill="#800000"/><rect x="366" y="72" width="2" height="266" fill="#800000"/><rect x="368" y="72" width="2" height="258" fill="#800000"/><rect x="370" y="72" width="2" height="251" fill="#800000"/><rect x="372" y="72" width="2" height="251" fill="#800000"/><rect x="374" y="72" width="2" height="252" fill="#800000"/><rect x="376" y="72" width="2" height="252" fill="#800000"/><rect x="378" y="72" width="2" height="253" fill="#800000"/><rect x="380" y="72" width="2" height="253" fill="#800000"/><rect x="382" y="72" width="2" height="253" fill="#800000"/><rect x="384" y="72" width="2" height="251" fill="#800000"/><rect x="386" y="72" width="2" height="248" fill="#800000"/><rect x="388" y="72" width="2" height="245" fill="#800000"/><rect x="390" y="72" width="2" height="242" fill="#800000"/><rect x="392" y="72" width="2" height="239" fill="#800000"/><rect x="394" y="72" width="2" height="243" fill="url(#g27)"/><rect x="396" y="72" width="2" height="246" fill="url(#g28)"/><rect x="398" y="72" width="2" height="249" fill="url(#g29)"/><rect x="400" y="72" width="2" height="252" fill="url(#g30)"/><rect x="402" y="72" width="2" height="254" fill="url(#g31)"/><rect x="404" y="72" width="2" height="257" fill="url(#g32)"/><rect x="406" y="72" width="2" height="257" fill="url(#g33)"/><rect x="408" y="72" width="2" height="257" fill="url(#g34)"/><rect x="410" y="72" width="2" height="257" fill="url(#g35)"/><rect x="412" y="72" width="2" height="254" fill="url(#g36)"/><rect x="414" y="72" width="2" height="252" fill="url(#g37)"/><rect x="416" y="72" width="2" height="251" fill="url(#g38)"/><rect x="418" y="72" width="2" height="254" fill="url(#g39)"/><rect x="420" y="72" width="2" height="260" fill="url(#g40)"/><rect x="422" y="72" width="2" height="264" fill="url(#g41)"/><rect x="424" y="72" width="2" height="268" fill="url(#g42)"/><rect x="426" y="72" width="2" height="271" fill="url(#g43)"/><rect x="428" y="72" width="2" height="274" fill="url(#g44)"/><rect x="430" y="72" width="2" height="275" fill="url(#g45)"/><rect x="432" y="72" width="2" height="276" fill="url(#g46)"/><rect x="434" y="72" width="2" height="276" fill="url(#g47)"/><rect x="436" y="72" width="2" height="276" fill="url(#g48)"/><rect x="438" y="72" width="2" height="277" fill="url(#g49)"/><rect x="440" y="72" width="2" height="277" fill="url(#g50)"/><rect x="442" y="72" width="2" height="278" fill="url(#g51)"/><rect x="444" y="72" width="2" height="282" fill="url(#g52)"/><rect x="446" y="72" width="2" height="282" fill="url(#g53)"/><rect x="448" y="72" width="2" height="288" fill="url(#g54)"/><rect x="450" y="72" width="2" height="304" fill="url(#g55)"/><rect x="452" y="72" width="2" height="329" fill="url(#g56)"/><rect x="454" y="72" width="2" height="354" fill="#800000"/><rect x="456" y="72" width="2" height="362" fill="#800000"/><rect x="458" y="72" width="2" height="362" fill="#800000"/><rect x="460" y="72" width="2" height="362" fill="#800000"/><rect x="462" y="72" width="2" height="362" fill="url(#g57)"/><rect x="464" y="72" width="2" height="354" fill="url(#g58)"/><rect x="466" y="72" width="2" height="337" fill="url(#g59)"/><rect x="468" y="72" width="2" height="321" fill="url(#g60)"/><rect x="470" y="72" width="2" height="306" fill="url(#g61)"/><rect x="472" y="72" width="2" height="311" fill="url(#g62)"/><rect x="474" y="72" width="2" height="311" fill="url(#g63)"/><rect x="476" y="72" width="2" height="311" fill="url(#g64)"/><rect x="478" y="72" width="2" height="311" fill="url(#g65)"/><rect x="480" y="72" width="2" height="309" fill="url(#g66)"/><rect x="482" y="72" width="2" height="306" fill="url(#g67)"/><rect x="484" y="72" width="2" height="306" fill="url(#g68)"/><rect x="486" y="72" width="2" height="306" fill="url(#g69)"/><rect x="488" y="74" width="2" height="246" fill="url(#g70)"/><rect x="490" y="76" width="2" height="244" fill="url(#g71)"/><rect x="492" y="78" width="2" height="241" fill="url(#g72)"/><rect x="494" y="80" width="2" height="240" fill="url(#g73)"/><rect x="496" y="80" width="2" height="237" fill="url(#g74)"/><rect x="498" y="81" width="2" height="184" fill="url(#g75)"/><rect x="500" y="81" width="2" height="197" fill="url(#g76)"/><rect x="502" y="81" width="2" height="199" fill="url(#g77)"/><rect x="504" y="81" width="2" height="199" fill="url(#g78)"/><rect x="506" y="81" width="2" height="199" fill="url(#g79)"/><rect x="508" y="81" width="2" height="197" fill="url(#g80)"/><rect x="510" y="81" width="2" height="165" fill="url(#g81)"/><rect x="512" y="81" width="2" height="138" fill="url(#g82)"/><rect x="514" y="81" width="2" height="150" fill="url(#g83)"/><rect x="516" y="81" width="2" height="199" fill="url(#g84)"/><rect x="518" y="81" width="2" height="201" fill="url(#g85)"/><rect x="520" y="81" width="2" height="201" fill="url(#g86)"/><rect x="522" y="81" width="2" height="201" fill="url(#g87)"/><rect x="524" y="81" width="2" height="199" fill="url(#g88)"/><rect x="526" y="81" width="2" height="157" fill="url(#g89)"/><rect x="528" y="81" width="2" height="140" fill="url(#g90)"/><rect x="530" y="81" width="2" height="150" fill="url(#g91)"/><rect x="532" y="81" width="2" height="163" fill="url(#g92)"/><rect x="534" y="81" width="2" height="169" fill="url(#g93)"/><rect x="536" y="81" width="2" height="171" fill="url(#g94)"/><rect x="538" y="81" width="2" height="171" fill="url(#g95)"/><rect x="540" y="81" width="2" height="171" fill="url(#g96)"/><rect x="542" y="81" width="2" height="167" fill="url(#g97)"/><rect x="544" y="81" width="2" height="155" fill="url(#g98)"/><rect x="546" y="81" width="2" height="143" fill="url(#g99)"/><rect x="548" y="81" width="2" height="142" fill="url(#g100)"/><rect x="550" y="82" width="2" height="141" fill="url(#g101)"/><rect x="552" y="82" width="2" height="141" fill="url(#g102)"/><rect x="554" y="82" width="2" height="141" fill="url(#g103)"/><rect x="556" y="82" width="2" height="141" fill="url(#g104)"/><rect x="558" y="82" width="2" height="146" fill="url(#g105)"/><rect x="560" y="82" width="2" height="159" fill="url(#g106)"/><rect x="562" y="82" width="2" height="194" fill="url(#g107)"/><rect x="564" y="82" width="2" height="196" fill="url(#g108)"/><rect x="566" y="83" width="2" height="198" fill="url(#g109)"/><rect x="568" y="83" width="2" height="200" fill="url(#g110)"/><rect x="570" y="83" width="2" height="200" fill="url(#g111)"/><rect x="572" y="83" width="2" height="201" fill="url(#g112)"/><rect x="574" y="83" width="2" height="201" fill="url(#g113)"/><rect x="576" y="83" width="2" height="201" fill="url(#g114)"/><rect x="578" y="83" width="2" height="201" fill="url(#g115)"/><rect x="580" y="84" width="2" height="201" fill="url(#g116)"/><rect x="582" y="84" width="2" height="200" fill="url(#g117)"/><rect x="584" y="84" width="2" height="198" fill="url(#g118)"/><rect x="586" y="84" width="2" height="197" fill="url(#g119)"/><rect x="588" y="84" width="2" height="200" fill="url(#g120)"/><rect x="590" y="84" width="2" height="203" fill="url(#g121)"/><rect x="592" y="84" width="2" height="207" fill="url(#g122)"/><rect x="594" y="84" width="2" height="207" fill="url(#g123)"/><rect x="596" y="84" width="2" height="207" fill="url(#g124)"/><rect x="598" y="84" width="2" height="205" fill="url(#g125)"/><rect x="600" y="85" width="2" height="203" fill="url(#g126)"/><rect x="602" y="85" width="2" height="201" fill="url(#g127)"/><rect x="604" y="85" width="2" height="199" fill="url(#g128)"/><rect x="606" y="85" width="2" height="198" fill="url(#g129)"/><rect x="608" y="85" width="2" height="200" fill="url(#g130)"/><rect x="610" y="85" width="2" height="203" fill="url(#g131)"/><rect x="612" y="85" width="2" height="205" fill="url(#g132)"/><rect x="614" y="85" width="2" height="208" fill="url(#g133)"/><rect x="616" y="85" width="2" height="210" fill="url(#g134)"/><rect x="618" y="85" width="2" height="214" fill="url(#g135)"/><rect x="620" y="85" width="2" height="218" fill="url(#g136)"/><rect x="622" y="85" width="2" height="223" fill="url(#g137)"/><rect x="624" y="85" width="2" height="225" fill="url(#g138)"/><rect x="626" y="85" width="2" height="225" fill="url(#g139)"/><rect x="628" y="85" width="2" height="225" fill="url(#g140)"/><rect x="630" y="85" width="2" height="223" fill="url(#g141)"/><rect x="632" y="85" width="2" height="225" fill="url(#g142)"/><rect x="634" y="85" width="2" height="227" fill="url(#g143)"/><rect x="636" y="85" width="2" height="230" fill="url(#g144)"/><rect x="638" y="85" width="2" height="232" fill="url(#g145)"/><rect x="640" y="85" width="2" height="234" fill="url(#g146)"/><rect x="642" y="85" width="2" height="236" fill="url(#g147)"/><rect x="644" y="85" width="2" height="238" fill="url(#g148)"/><rect x="646" y="85" width="2" height="240" fill="url(#g149)"/><rect x="648" y="85" width="2" height="241" fill="url(#g150)"/><rect x="650" y="85" width="2" height="243" fill="url(#g151)"/><rect x="652" y="85" width="2" height="245" fill="url(#g152)"/><rect x="654" y="85" width="2" height="245" fill="url(#g153)"/><rect x="656" y="85" width="2" height="245" fill="url(#g154)"/><rect x="658" y="85" width="2" height="242" fill="url(#g155)"/><rect x="660" y="85" width="2" height="239" fill="url(#g156)"/><rect x="662" y="85" width="2" height="232" fill="url(#g157)"/><rect x="664" y="85" width="2" height="221" fill="url(#g158)"/><rect x="666" y="85" width="2" height="225" fill="url(#g159)"/><rect x="668" y="85" width="2" height="228" fill="url(#g160)"/><rect x="670" y="84" width="2" height="230" fill="url(#g161)"/><rect x="672" y="84" width="2" height="230" fill="url(#g162)"/><rect x="674" y="84" width="2" height="231" fill="url(#g163)"/><rect x="676" y="84" width="2" height="230" fill="url(#g164)"/><rect x="678" y="84" width="2" height="232" fill="url(#g165)"/><rect x="680" y="84" width="2" height="255" fill="url(#g166)"/><rect x="682" y="84" width="2" height="266" fill="url(#g167)"/><rect x="684" y="84" width="2" height="277" fill="url(#g168)"/><rect x="686" y="84" width="2" height="284" fill="url(#g169)"/><rect x="688" y="84" width="2" height="291" fill="url(#g170)"/><rect x="690" y="83" width="2" height="292" fill="url(#g171)"/><rect x="692" y="83" width="2" height="292" fill="url(#g172)"/><rect x="694" y="83" width="2" height="293" fill="url(#g173)"/><rect x="696" y="83" width="2" height="288" fill="url(#g174)"/><rect x="698" y="83" width="2" height="284" fill="url(#g175)"/><rect x="700" y="83" width="2" height="279" fill="url(#g176)"/><rect x="702" y="83" width="2" height="273" fill="url(#g177)"/><rect x="704" y="83" width="2" height="267" fill="url(#g178)"/><rect x="706" y="83" width="2" height="265" fill="url(#g179)"/><rect x="708" y="83" width="2" height="262" fill="url(#g180)"/><rect x="710" y="83" width="2" height="260" fill="url(#g181)"/><rect x="712" y="83" width="2" height="254" fill="url(#g182)"/><rect x="714" y="83" width="2" height="246" fill="url(#g183)"/><rect x="716" y="83" width="2" height="250" fill="url(#g184)"/><rect x="718" y="83" width="2" height="254" fill="url(#g185)"/><rect x="720" y="83" width="2" height="254" fill="url(#g186)"/><rect x="722" y="83" width="2" height="255" fill="url(#g187)"/><rect x="724" y="83" width="2" height="255" fill="url(#g188)"/><rect x="726" y="83" width="2" height="260" fill="url(#g189)"/><rect x="728" y="83" width="2" height="266" fill="url(#g190)"/><rect x="730" y="82" width="2" height="272" fill="url(#g191)"/><rect x="732" y="82" width="2" height="272" fill="url(#g192)"/><rect x="734" y="82" width="2" height="273" fill="url(#g193)"/><rect x="736" y="82" width="2" height="272" fill="url(#g194)"/><rect x="738" y="82" width="2" height="264" fill="url(#g195)"/><rect x="740" y="82" width="2" height="256" fill="url(#g196)"/><rect x="742" y="82" width="2" height="247" fill="url(#g197)"/><rect x="744" y="82" width="2" height="238" fill="url(#g198)"/><rect x="746" y="82" width="2" height="229" fill="url(#g199)"/><rect x="748" y="82" width="2" height="214" fill="url(#g200)"/><rect x="750" y="82" width="2" height="199" fill="url(#g201)"/><rect x="752" y="82" width="2" height="190" fill="url(#g202)"/><rect x="754" y="82" width="2" height="189" fill="url(#g203)"/><rect x="756" y="82" width="2" height="188" fill="url(#g204)"/><rect x="758" y="82" width="2" height="188" fill="url(#g205)"/><rect x="760" y="82" width="2" height="188" fill="url(#g206)"/><rect x="762" y="82" width="2" height="188" fill="url(#g207)"/><rect x="764" y="82" width="2" height="189" fill="url(#g208)"/><rect x="766" y="82" width="2" height="192" fill="url(#g209)"/><rect x="768" y="82" width="2" height="195" fill="url(#g210)"/><rect x="770" y="82" width="2" height="197" fill="url(#g211)"/><rect x="772" y="82" width="2" height="198" fill="url(#g212)"/><rect x="774" y="81" width="2" height="199" fill="url(#g213)"/><rect x="776" y="81" width="2" height="199" fill="url(#g214)"/><rect x="778" y="81" width="2" height="199" fill="url(#g215)"/><rect x="780" y="81" width="2" height="199" fill="url(#g216)"/><rect x="782" y="81" width="2" height="199" fill="url(#g217)"/><rect x="784" y="81" width="2" height="198" fill="url(#g218)"/><rect x="786" y="81" width="2" height="198" fill="url(#g219)"/><rect x="788" y="81" width="2" height="197" fill="url(#g220)"/><rect x="790" y="81" width="2" height="196" fill="url(#g221)"/><rect x="792" y="81" width="2" height="197" fill="url(#g222)"/><rect x="794" y="81" width="2" height="197" fill="url(#g223)"/><rect x="796" y="81" width="2" height="197" fill="url(#g224)"/><rect x="798" y="81" width="2" height="198" fill="url(#g225)"/><rect x="800" y="80" width="2" height="198" fill="url(#g226)"/><rect x="802" y="80" width="2" height="198" fill="url(#g227)"/><rect x="804" y="80" width="2" height="198" fill="url(#g228)"/><rect x="806" y="80" width="2" height="198" fill="url(#g229)"/><rect x="808" y="80" width="2" height="198" fill="url(#g230)"/><rect x="810" y="80" width="2" height="198" fill="url(#g231)"/><rect x="812" y="80" width="2" height="198" fill="url(#g232)"/><rect x="814" y="80" width="2" height="198" fill="url(#g233)"/><rect x="816" y="80" width="2" height="198" fill="url(#g234)"/><rect x="818" y="80" width="2" height="198" fill="url(#g235)"/><rect x="820" y="80" width="2" height="197" fill="url(#g236)"/><rect x="822" y="80" width="2" height="197" fill="url(#g237)"/><rect x="824" y="80" width="2" height="197" fill="url(#g238)"/><rect x="826" y="80" width="2" height="196" fill="url(#g239)"/><rect x="828" y="80" width="2" height="196" fill="url(#g240)"/><rect x="830" y="80" width="2" height="194" fill="url(#g241)"/><rect x="832" y="80" width="2" height="194" fill="url(#g242)"/><rect x="834" y="80" width="2" height="196" fill="url(#g243)"/><rect x="836" y="80" width="2" height="212" fill="url(#g244)"/><rect x="838" y="80" width="2" height="226" fill="url(#g245)"/><rect x="840" y="80" width="2" height="233" fill="url(#g246)"/><rect x="842" y="80" width="2" height="240" fill="url(#g247)"/><rect x="844" y="80" width="2" height="240" fill="url(#g248)"/><rect x="846" y="80" width="2" height="240" fill="url(#g249)"/><rect x="848" y="80" width="2" height="235" fill="url(#g250)"/><rect x="850" y="80" width="2" height="230" fill="url(#g251)"/><rect x="852" y="80" width="2" height="223" fill="url(#g252)"/><rect x="854" y="80" width="2" height="216" fill="url(#g253)"/><rect x="856" y="80" width="2" height="217" fill="url(#g254)"/><rect x="858" y="80" width="2" height="217" fill="url(#g255)"/><rect x="860" y="80" width="2" height="217" fill="url(#g256)"/><rect x="862" y="80" width="2" height="218" fill="url(#g257)"/><rect x="864" y="80" width="2" height="218" fill="url(#g258)"/><rect x="866" y="80" width="2" height="218" fill="url(#g259)"/><rect x="868" y="80" width="2" height="215" fill="url(#g260)"/><rect x="870" y="80" width="2" height="214" fill="url(#g261)"/><rect x="872" y="80" width="2" height="216" fill="url(#g262)"/><rect x="874" y="80" width="2" height="219" fill="url(#g263)"/><rect x="876" y="80" width="2" height="223" fill="url(#g264)"/><rect x="878" y="80" width="2" height="228" fill="url(#g265)"/><rect x="880" y="80" width="2" height="230" fill="url(#g266)"/><rect x="882" y="80" width="2" height="230" fill="url(#g267)"/><rect x="884" y="80" width="2" height="230" fill="url(#g268)"/><rect x="886" y="80" width="2" height="228" fill="url(#g269)"/><rect x="888" y="80" width="2" height="225" fill="url(#g270)"/><rect x="890" y="80" width="2" height="214" fill="url(#g271)"/><rect x="892" y="80" width="2" height="176" fill="url(#g272)"/><rect x="894" y="80" width="2" height="164" fill="url(#g273)"/><rect x="896" y="80" width="2" height="170" fill="url(#g274)"/><rect x="898" y="80" width="2" height="178" fill="url(#g275)"/><rect x="900" y="80" width="2" height="190" fill="url(#g276)"/><rect x="902" y="80" width="2" height="201" fill="url(#g277)"/><rect x="904" y="80" width="2" height="211" fill="url(#g278)"/><rect x="906" y="80" width="2" height="219" fill="url(#g279)"/><rect x="908" y="80" width="2" height="225" fill="url(#g280)"/><rect x="910" y="80" width="2" height="228" fill="url(#g281)"/><rect x="912" y="80" width="2" height="229" fill="url(#g282)"/><rect x="914" y="80" width="2" height="230" fill="url(#g283)"/><rect x="916" y="80" width="2" height="230" fill="url(#g284)"/><rect x="918" y="80" width="2" height="230" fill="url(#g285)"/><rect x="920" y="80" width="2" height="230" fill="url(#g286)"/><rect x="922" y="80" width="2" height="230" fill="url(#g287)"/><rect x="924" y="80" width="2" height="244" fill="url(#g288)"/><rect x="926" y="80" width="2" height="248" fill="url(#g289)"/><rect x="928" y="80" width="2" height="248" fill="url(#g290)"/><rect x="930" y="80" width="2" height="248" fill="url(#g291)"/><rect x="932" y="80" width="2" height="250" fill="url(#g292)"/><rect x="934" y="80" width="2" height="253" fill="url(#g293)"/><rect x="936" y="80" width="2" height="256" fill="url(#g294)"/><rect x="938" y="80" width="2" height="256" fill="url(#g295)"/><rect x="940" y="80" width="2" height="256" fill="url(#g296)"/><rect x="942" y="80" width="2" height="256" fill="url(#g297)"/><rect x="944" y="80" width="2" height="256" fill="url(#g298)"/><rect x="946" y="80" width="2" height="254" fill="url(#g299)"/><rect x="948" y="80" width="2" height="251" fill="url(#g300)"/><rect x="950" y="80" width="2" height="248" fill="url(#g301)"/><rect x="952" y="80" width="2" height="245" fill="url(#g302)"/><rect x="954" y="80" width="2" height="240" fill="url(#g303)"/><rect x="956" y="80" width="2" height="236" fill="url(#g304)"/><rect x="958" y="80" width="2" height="231" fill="url(#g305)"/><rect x="960" y="80" width="2" height="240" fill="url(#g306)"/><rect x="962" y="80" width="2" height="250" fill="url(#g307)"/><rect x="964" y="80" width="2" height="255" fill="url(#g308)"/><rect x="966" y="80" width="2" height="260" fill="url(#g309)"/><rect x="968" y="80" width="2" height="264" fill="url(#g310)"/><rect x="970" y="80" width="2" height="265" fill="url(#g311)"/><rect x="972" y="80" width="2" height="267" fill="url(#g312)"/><rect x="974" y="80" width="2" height="267" fill="url(#g313)"/><rect x="976" y="80" width="2" height="267" fill="url(#g314)"/><rect x="978" y="80" width="2" height="266" fill="url(#g315)"/><rect x="980" y="80" width="2" height="265" fill="url(#g316)"/><rect x="982" y="80" width="2" height="269" fill="url(#g317)"/><rect x="984" y="80" width="2" height="274" fill="url(#g318)"/><rect x="986" y="80" width="2" height="274" fill="url(#g319)"/><rect x="988" y="80" width="2" height="274" fill="url(#g320)"/><rect x="990" y="80" width="2" height="270" fill="url(#g321)"/><rect x="992" y="80" width="2" height="266" fill="url(#g322)"/><rect x="994" y="80" width="2" height="260" fill="url(#g323)"/><rect x="996" y="80" width="2" height="255" fill="url(#g324)"/><rect x="998" y="80" width="2" height="253" fill="url(#g325)"/><rect x="1000" y="80" width="2" height="252" fill="url(#g326)"/><rect x="1002" y="80" width="2" height="251" fill="url(#g327)"/><rect x="1004" y="80" width="2" height="252" fill="url(#g328)"/>
</g>
<g>
<circle cx="213.5" cy="82.1" r="2.3" fill="#e20000"/><circle cx="216.5" cy="81.2" r="2.3" fill="#ff1d00"/><circle cx="220.3" cy="82.2" r="2.3" fill="#ff2e00"/><circle cx="224.3" cy="81.2" r="2.3" fill="#ff2e00"/><circle cx="226.8" cy="82.6" r="2.3" fill="#f60b00"/><circle cx="229.2" cy="82.2" r="2.3" fill="#bd0000"/><circle cx="233.1" cy="82.1" r="2.3" fill="#800000"/><circle cx="236.3" cy="81.3" r="2.3" fill="#800000"/><circle cx="239.1" cy="80.6" r="2.3" fill="#9d0000"/><circle cx="241.9" cy="81.5" r="2.3" fill="#ea0200"/><circle cx="244.6" cy="82.5" r="2.3" fill="#f70d00"/><circle cx="248.6" cy="81.0" r="2.3" fill="#ff1c00"/><circle cx="251.9" cy="82.3" r="2.3" fill="#ff2800"/><circle cx="255.1" cy="81.1" r="2.3" fill="#ff3400"/><circle cx="258.8" cy="81.5" r="2.3" fill="#ff2700"/><circle cx="262.1" cy="82.0" r="2.3" fill="#ff1400"/><circle cx="264.9" cy="81.8" r="2.3" fill="#ef0600"/><circle cx="267.5" cy="81.7" r="2.3" fill="#e50000"/><circle cx="270.2" cy="82.0" r="2.3" fill="#da0000"/><circle cx="273.0" cy="82.4" r="2.3" fill="#ce0000"/><circle cx="275.5" cy="81.8" r="2.3" fill="#800000"/><circle cx="279.3" cy="82.1" r="2.3" fill="#800000"/><circle cx="282.4" cy="81.4" r="2.3" fill="#800000"/><circle cx="285.2" cy="82.1" r="2.3" fill="#800000"/><circle cx="288.7" cy="81.3" r="2.3" fill="#800000"/><circle cx="291.8" cy="82.2" r="2.3" fill="#800000"/><circle cx="295.0" cy="80.3" r="2.3" fill="#800000"/><circle cx="297.4" cy="81.8" r="2.3" fill="#800000"/><circle cx="300.6" cy="81.3" r="2.3" fill="#800000"/><circle cx="303.6" cy="80.1" r="2.3" fill="#800000"/><circle cx="307.2" cy="80.9" r="2.3" fill="#800000"/><circle cx="310.2" cy="81.0" r="2.3" fill="#800000"/><circle cx="312.7" cy="82.2" r="2.3" fill="#800000"/><circle cx="316.6" cy="80.0" r="2.3" fill="#800000"/><circle cx="318.9" cy="80.9" r="2.3" fill="#800000"/><circle cx="322.9" cy="81.0" r="2.3" fill="#800000"/><circle cx="326.7" cy="80.7" r="2.3" fill="#800000"/><circle cx="329.8" cy="81.8" r="2.3" fill="#800000"/><circle cx="333.2" cy="80.6" r="2.3" fill="#800000"/><circle cx="336.2" cy="81.3" r="2.3" fill="#800000"/><circle cx="339.2" cy="80.3" r="2.3" fill="#800000"/><circle cx="341.8" cy="81.5" r="2.3" fill="#800000"/><circle cx="344.3" cy="80.3" r="2.3" fill="#800000"/><circle cx="347.1" cy="82.0" r="2.3" fill="#800000"/><circle cx="351.0" cy="80.9" r="2.3" fill="#800000"/><circle cx="353.6" cy="80.8" r="2.3" fill="#800000"/><circle cx="357.4" cy="81.1" r="2.3" fill="#800000"/><circle cx="361.2" cy="81.7" r="2.3" fill="#800000"/><circle cx="364.9" cy="81.7" r="2.3" fill="#800000"/><circle cx="368.0" cy="80.1" r="2.3" fill="#800000"/><circle cx="371.6" cy="81.9" r="2.3" fill="#800000"/><circle cx="375.0" cy="80.3" r="2.3" fill="#800000"/><circle cx="378.9" cy="81.7" r="2.3" fill="#800000"/><circle cx="382.8" cy="81.1" r="2.3" fill="#800000"/><circle cx="386.6" cy="80.2" r="2.3" fill="#800000"/><circle cx="389.9" cy="81.8" r="2.3" fill="#800000"/><circle cx="393.9" cy="81.4" r="2.3" fill="#820000"/><circle cx="397.1" cy="81.0" r="2.3" fill="#c50000"/><circle cx="400.0" cy="80.1" r="2.3" fill="#e10000"/><circle cx="403.9" cy="80.9" r="2.3" fill="#f60b00"/><circle cx="406.7" cy="80.3" r="2.3" fill="#f90e00"/><circle cx="409.2" cy="80.0" r="2.3" fill="#fc1000"/><circle cx="412.6" cy="80.2" r="2.3" fill="#fd1100"/><circle cx="415.4" cy="81.5" r="2.3" fill="#f40a00"/><circle cx="417.7" cy="81.7" r="2.3" fill="#ed0500"/><circle cx="420.7" cy="81.4" r="2.3" fill="#e50000"/><circle cx="424.4" cy="81.1" r="2.3" fill="#e20000"/><circle cx="426.7" cy="81.0" r="2.3" fill="#ff1b00"/><circle cx="429.7" cy="80.3" r="2.3" fill="#ff3200"/><circle cx="432.8" cy="81.1" r="2.3" fill="#ff3900"/><circle cx="435.7" cy="80.5" r="2.3" fill="#ff4000"/><circle cx="438.3" cy="80.0" r="2.3" fill="#ff4100"/><circle cx="441.6" cy="81.7" r="2.3" fill="#ff4100"/><circle cx="444.0" cy="81.0" r="2.3" fill="#ff3b00"/><circle cx="447.3" cy="81.2" r="2.3" fill="#ff3200"/><circle cx="450.1" cy="80.2" r="2.3" fill="#fb1000"/><circle cx="452.8" cy="81.4" r="2.3" fill="#9d0000"/><circle cx="456.5" cy="81.4" r="2.3" fill="#800000"/><circle cx="459.2" cy="80.4" r="2.3" fill="#800000"/><circle cx="461.9" cy="81.1" r="2.3" fill="#9a0000"/><circle cx="464.5" cy="81.2" r="2.3" fill="#ff3600"/><circle cx="468.2" cy="80.8" r="2.3" fill="#ff5e00"/><circle cx="470.7" cy="80.2" r="2.3" fill="#ff5e00"/><circle cx="473.9" cy="81.2" r="2.3" fill="#ff5e00"/><circle cx="476.5" cy="81.0" r="2.3" fill="#ff6100"/><circle cx="480.3" cy="81.2" r="2.3" fill="#ff6500"/><circle cx="484.1" cy="81.7" r="2.3" fill="#ff6e00"/><circle cx="486.8" cy="80.5" r="2.3" fill="#ff7600"/><circle cx="490.6" cy="83.4" r="2.3" fill="#ffad00"/><circle cx="493.0" cy="87.5" r="2.3" fill="#dbff1c"/><circle cx="496.1" cy="88.4" r="2.3" fill="#acff4a"/><circle cx="499.9" cy="89.6" r="2.3" fill="#8eff69"/><circle cx="503.9" cy="89.2" r="2.3" fill="#71ff86"/><circle cx="506.2" cy="90.5" r="2.3" fill="#71ff86"/><circle cx="508.9" cy="90.5" r="2.3" fill="#71ff86"/><circle cx="512.0" cy="89.9" r="2.3" fill="#72ff85"/><circle cx="514.4" cy="88.9" r="2.3" fill="#73ff84"/><circle cx="517.9" cy="90.4" r="2.3" fill="#73ff84"/><circle cx="521.5" cy="90.2" r="2.3" fill="#73ff84"/><circle cx="525.1" cy="90.3" r="2.3" fill="#6aff8d"/><circle cx="527.7" cy="88.4" r="2.3" fill="#63ff94"/><circle cx="530.4" cy="89.4" r="2.3" fill="#4effa9"/><circle cx="533.3" cy="88.3" r="2.3" fill="#36ffc0"/><circle cx="535.7" cy="89.0" r="2.3" fill="#2bffcb"/><circle cx="538.5" cy="89.2" r="2.3" fill="#23ffd3"/><circle cx="541.7" cy="90.1" r="2.3" fill="#19ffde"/><circle cx="545.4" cy="89.7" r="2.3" fill="#0bf4eb"/><circle cx="549.3" cy="89.9" r="2.3" fill="#00e5f7"/><circle cx="552.3" cy="90.1" r="2.3" fill="#00ddfd"/><circle cx="555.8" cy="91.0" r="2.3" fill="#00d4ff"/><circle cx="558.8" cy="90.3" r="2.3" fill="#00ceff"/><circle cx="561.2" cy="90.2" r="2.3" fill="#00c9ff"/><circle cx="563.5" cy="90.6" r="2.3" fill="#00c8ff"/><circle cx="566.0" cy="91.5" r="2.3" fill="#00c9ff"/><circle cx="569.6" cy="91.4" r="2.3" fill="#00ccff"/><circle cx="572.6" cy="91.3" r="2.3" fill="#00c9ff"/><circle cx="576.6" cy="93.0" r="2.3" fill="#00c5ff"/><circle cx="579.9" cy="93.0" r="2.3" fill="#00c2ff"/><circle cx="582.8" cy="92.5" r="2.3" fill="#00c1ff"/><circle cx="585.7" cy="93.5" r="2.3" fill="#00c0ff"/><circle cx="589.0" cy="93.5" r="2.3" fill="#00bfff"/><circle cx="592.3" cy="91.9" r="2.3" fill="#00c8ff"/><circle cx="595.0" cy="93.2" r="2.3" fill="#00d4ff"/><circle cx="598.9" cy="93.5" r="2.3" fill="#00a6ff"/><circle cx="601.7" cy="93.6" r="2.3" fill="#00a0ff"/><circle cx="605.1" cy="94.3" r="2.3" fill="#009aff"/><circle cx="608.3" cy="92.2" r="2.3" fill="#009bff"/><circle cx="612.3" cy="92.5" r="2.3" fill="#009dff"/><circle cx="615.2" cy="94.3" r="2.3" fill="#00acff"/><circle cx="618.6" cy="93.8" r="2.3" fill="#00beff"/><circle cx="621.6" cy="93.2" r="2.3" fill="#00c8ff"/><circle cx="624.3" cy="94.0" r="2.3" fill="#00ceff"/><circle cx="627.2" cy="92.6" r="2.3" fill="#00dcfe"/><circle cx="629.7" cy="92.7" r="2.3" fill="#05ecf2"/><circle cx="633.5" cy="93.0" r="2.3" fill="#11fae6"/><circle cx="636.2" cy="93.8" r="2.3" fill="#12fce5"/><circle cx="638.9" cy="94.2" r="2.3" fill="#14fee3"/><circle cx="642.3" cy="93.7" r="2.3" fill="#17ffdf"/><circle cx="645.4" cy="93.3" r="2.3" fill="#1bffdb"/><circle cx="648.4" cy="94.1" r="2.3" fill="#1fffd8"/><circle cx="650.7" cy="93.0" r="2.3" fill="#20ffd7"/><circle cx="654.2" cy="94.1" r="2.3" fill="#21ffd6"/><circle cx="657.4" cy="93.2" r="2.3" fill="#23ffd3"/><circle cx="660.0" cy="93.8" r="2.3" fill="#26ffd1"/><circle cx="662.7" cy="94.1" r="2.3" fill="#24ffd2"/><circle cx="666.2" cy="93.9" r="2.3" fill="#22ffd5"/><circle cx="669.6" cy="94.1" r="2.3" fill="#21ffd6"/><circle cx="672.8" cy="92.6" r="2.3" fill="#21ffd6"/><circle cx="675.4" cy="92.1" r="2.3" fill="#1fffd8"/><circle cx="678.7" cy="93.3" r="2.3" fill="#1affdd"/><circle cx="682.0" cy="91.8" r="2.3" fill="#0cf4eb"/><circle cx="685.5" cy="93.0" r="2.3" fill="#00e3f8"/><circle cx="688.3" cy="92.4" r="2.3" fill="#00d9ff"/><circle cx="690.7" cy="92.4" r="2.3" fill="#00d6ff"/><circle cx="692.9" cy="91.7" r="2.3" fill="#00e2fa"/><circle cx="696.6" cy="92.2" r="2.3" fill="#06edf0"/><circle cx="699.4" cy="92.6" r="2.3" fill="#00d6ff"/><circle cx="702.8" cy="92.6" r="2.3" fill="#00c0ff"/><circle cx="705.9" cy="91.9" r="2.3" fill="#00baff"/><circle cx="709.2" cy="90.6" r="2.3" fill="#00b3ff"/><circle cx="711.7" cy="90.7" r="2.3" fill="#00b1ff"/><circle cx="714.2" cy="92.5" r="2.3" fill="#00b0ff"/><circle cx="717.6" cy="91.9" r="2.3" fill="#00b0ff"/><circle cx="721.5" cy="90.6" r="2.3" fill="#00afff"/><circle cx="725.1" cy="91.3" r="2.3" fill="#00afff"/><circle cx="727.9" cy="91.8" r="2.3" fill="#00afff"/><circle cx="731.6" cy="91.4" r="2.3" fill="#00aeff"/><circle cx="735.0" cy="91.9" r="2.3" fill="#00aeff"/><circle cx="737.9" cy="91.8" r="2.3" fill="#00aeff"/><circle cx="740.9" cy="91.9" r="2.3" fill="#00aeff"/><circle cx="744.4" cy="91.2" r="2.3" fill="#00adff"/><circle cx="748.4" cy="90.9" r="2.3" fill="#00afff"/><circle cx="751.0" cy="90.9" r="2.3" fill="#00b1ff"/><circle cx="753.8" cy="91.8" r="2.3" fill="#00b3ff"/><circle cx="756.4" cy="91.0" r="2.3" fill="#00b5ff"/><circle cx="759.6" cy="89.9" r="2.3" fill="#00b6ff"/><circle cx="763.0" cy="90.8" r="2.3" fill="#00b7ff"/><circle cx="766.0" cy="91.5" r="2.3" fill="#00bbff"/><circle cx="768.4" cy="90.7" r="2.3" fill="#00beff"/><circle cx="771.1" cy="90.3" r="2.3" fill="#00c1ff"/><circle cx="774.0" cy="90.6" r="2.3" fill="#00c1ff"/><circle cx="777.8" cy="89.1" r="2.3" fill="#00d3ff"/><circle cx="780.9" cy="90.4" r="2.3" fill="#00e5f7"/><circle cx="783.6" cy="89.5" r="2.3" fill="#0af2ec"/><circle cx="787.5" cy="88.8" r="2.3" fill="#1affdd"/><circle cx="790.7" cy="90.0" r="2.3" fill="#2affcd"/><circle cx="794.1" cy="88.5" r="2.3" fill="#3bffbc"/><circle cx="798.0" cy="88.2" r="2.3" fill="#54ffa2"/><circle cx="800.3" cy="89.3" r="2.3" fill="#66ff91"/><circle cx="802.6" cy="88.8" r="2.3" fill="#78ff7f"/><circle cx="806.3" cy="89.3" r="2.3" fill="#94ff63"/><circle cx="809.5" cy="90.1" r="2.3" fill="#aeff49"/><circle cx="811.9" cy="90.3" r="2.3" fill="#c1ff36"/><circle cx="815.3" cy="89.6" r="2.3" fill="#c9ff2e"/><circle cx="817.5" cy="90.0" r="2.3" fill="#c9ff2e"/><circle cx="820.4" cy="89.0" r="2.3" fill="#afff47"/><circle cx="823.7" cy="89.0" r="2.3" fill="#93ff64"/><circle cx="827.6" cy="90.1" r="2.3" fill="#76ff81"/><circle cx="830.5" cy="88.6" r="2.3" fill="#66ff91"/><circle cx="833.4" cy="90.3" r="2.3" fill="#57ffa0"/><circle cx="836.2" cy="89.2" r="2.3" fill="#54ffa3"/><circle cx="838.7" cy="89.2" r="2.3" fill="#54ffa3"/><circle cx="842.7" cy="89.0" r="2.3" fill="#54ffa3"/><circle cx="844.9" cy="89.5" r="2.3" fill="#53ffa3"/><circle cx="848.5" cy="88.9" r="2.3" fill="#53ffa4"/><circle cx="850.9" cy="88.9" r="2.3" fill="#52ffa5"/><circle cx="854.5" cy="89.1" r="2.3" fill="#51ffa6"/><circle cx="856.7" cy="89.6" r="2.3" fill="#51ffa6"/><circle cx="859.4" cy="89.3" r="2.3" fill="#51ffa6"/><circle cx="862.4" cy="88.5" r="2.3" fill="#51ffa6"/><circle cx="865.3" cy="88.7" r="2.3" fill="#52ffa4"/><circle cx="868.5" cy="88.4" r="2.3" fill="#54ffa3"/><circle cx="872.5" cy="89.9" r="2.3" fill="#57ffa0"/><circle cx="876.0" cy="88.7" r="2.3" fill="#5aff9d"/><circle cx="879.9" cy="90.2" r="2.3" fill="#5dff99"/><circle cx="882.3" cy="88.7" r="2.3" fill="#60ff97"/><circle cx="884.7" cy="88.7" r="2.3" fill="#63ff94"/><circle cx="888.4" cy="90.3" r="2.3" fill="#63ff94"/><circle cx="891.5" cy="89.0" r="2.3" fill="#62ff94"/><circle cx="895.0" cy="90.0" r="2.3" fill="#62ff95"/><circle cx="898.2" cy="89.2" r="2.3" fill="#63ff94"/><circle cx="901.1" cy="89.1" r="2.3" fill="#6dff8a"/><circle cx="904.1" cy="88.3" r="2.3" fill="#79ff7e"/><circle cx="908.0" cy="89.2" r="2.3" fill="#c5ff31"/><circle cx="911.4" cy="89.0" r="2.3" fill="#f8f400"/><circle cx="915.0" cy="88.4" r="2.3" fill="#ffd500"/><circle cx="918.7" cy="90.0" r="2.3" fill="#ffb900"/><circle cx="921.2" cy="88.9" r="2.3" fill="#ffb100"/><circle cx="923.4" cy="89.6" r="2.3" fill="#ffaa00"/><circle cx="926.6" cy="87.9" r="2.3" fill="#ff7400"/><circle cx="930.4" cy="89.8" r="2.3" fill="#ff2e00"/><circle cx="933.1" cy="89.4" r="2.3" fill="#ff2800"/><circle cx="935.5" cy="89.2" r="2.3" fill="#ff2400"/><circle cx="938.2" cy="87.8" r="2.3" fill="#ff1f00"/><circle cx="941.0" cy="88.9" r="2.3" fill="#ff2400"/><circle cx="943.2" cy="89.6" r="2.3" fill="#ff2900"/><circle cx="946.2" cy="88.8" r="2.3" fill="#ff8900"/><circle cx="950.1" cy="89.7" r="2.3" fill="#72ff85"/><circle cx="953.6" cy="89.2" r="2.3" fill="#71ff85"/><circle cx="957.3" cy="89.0" r="2.3" fill="#71ff86"/><circle cx="960.6" cy="89.4" r="2.3" fill="#70ff87"/><circle cx="963.0" cy="89.7" r="2.3" fill="#70ff87"/><circle cx="965.7" cy="88.0" r="2.3" fill="#6fff88"/><circle cx="969.0" cy="88.7" r="2.3" fill="#6fff88"/><circle cx="972.2" cy="89.3" r="2.3" fill="#6fff88"/><circle cx="974.4" cy="87.7" r="2.3" fill="#6fff88"/><circle cx="977.0" cy="88.6" r="2.3" fill="#6fff88"/><circle cx="979.8" cy="88.8" r="2.3" fill="#6fff88"/><circle cx="982.8" cy="87.4" r="2.3" fill="#6fff88"/><circle cx="986.4" cy="88.4" r="2.3" fill="#6fff88"/><circle cx="989.3" cy="87.9" r="2.3" fill="#6fff88"/><circle cx="993.1" cy="88.6" r="2.3" fill="#63ff94"/><circle cx="995.4" cy="88.1" r="2.3" fill="#59ff9e"/><circle cx="999.4" cy="87.7" r="2.3" fill="#0df6e9"/><circle cx="1001.8" cy="87.3" r="2.3" fill="#0af2ec"/><circle cx="213.5" cy="364.9" r="2.3" fill="#8b0000"/><circle cx="216.2" cy="366.0" r="2.3" fill="#8b0000"/><circle cx="219.6" cy="365.5" r="2.3" fill="#8b0000"/><circle cx="222.2" cy="363.8" r="2.3" fill="#8b0000"/><circle cx="224.3" cy="362.7" r="2.3" fill="#8b0000"/><circle cx="226.7" cy="361.0" r="2.3" fill="#800000"/><circle cx="229.1" cy="359.3" r="2.3" fill="#800000"/><circle cx="231.8" cy="358.7" r="2.3" fill="#800000"/><circle cx="234.3" cy="357.6" r="2.3" fill="#800000"/><circle cx="237.2" cy="358.0" r="2.3" fill="#800000"/><circle cx="239.7" cy="357.9" r="2.3" fill="#800000"/><circle cx="242.4" cy="357.2" r="2.3" fill="#8e0000"/><circle cx="245.0" cy="361.6" r="2.3" fill="#940000"/><circle cx="247.4" cy="364.5" r="2.3" fill="#950000"/><circle cx="250.2" cy="368.5" r="2.3" fill="#920000"/><circle cx="252.3" cy="367.7" r="2.3" fill="#8f0000"/><circle cx="254.8" cy="366.5" r="2.3" fill="#8c0000"/><circle cx="257.1" cy="365.5" r="2.3" fill="#8b0000"/><circle cx="259.6" cy="360.9" r="2.3" fill="#8b0000"/><circle cx="261.9" cy="356.1" r="2.3" fill="#8c0000"/><circle cx="265.2" cy="349.4" r="2.3" fill="#870000"/><circle cx="267.7" cy="347.4" r="2.3" fill="#800000"/><circle cx="270.5" cy="351.4" r="2.3" fill="#800000"/><circle cx="272.9" cy="354.2" r="2.3" fill="#800000"/><circle cx="275.2" cy="357.4" r="2.3" fill="#800000"/><circle cx="277.8" cy="355.3" r="2.3" fill="#800000"/><circle cx="280.4" cy="352.3" r="2.3" fill="#800000"/><circle cx="282.7" cy="350.0" r="2.3" fill="#800000"/><circle cx="285.5" cy="346.2" r="2.3" fill="#800000"/><circle cx="288.6" cy="343.3" r="2.3" fill="#800000"/><circle cx="291.5" cy="338.8" r="2.3" fill="#800000"/><circle cx="294.9" cy="334.7" r="2.3" fill="#800000"/><circle cx="297.2" cy="333.1" r="2.3" fill="#800000"/><circle cx="300.4" cy="330.7" r="2.3" fill="#800000"/><circle cx="302.6" cy="330.4" r="2.3" fill="#800000"/><circle cx="305.1" cy="329.8" r="2.3" fill="#800000"/><circle cx="307.2" cy="328.5" r="2.3" fill="#800000"/><circle cx="309.4" cy="328.8" r="2.3" fill="#800000"/><circle cx="312.9" cy="330.1" r="2.3" fill="#800000"/><circle cx="315.9" cy="332.3" r="2.3" fill="#800000"/><circle cx="319.3" cy="334.4" r="2.3" fill="#800000"/><circle cx="321.8" cy="339.9" r="2.3" fill="#800000"/><circle cx="324.2" cy="343.5" r="2.3" fill="#800000"/><circle cx="327.7" cy="345.1" r="2.3" fill="#800000"/><circle cx="330.5" cy="341.8" r="2.3" fill="#800000"/><circle cx="332.8" cy="339.7" r="2.3" fill="#800000"/><circle cx="335.9" cy="331.4" r="2.3" fill="#800000"/><circle cx="339.3" cy="332.4" r="2.3" fill="#800000"/><circle cx="341.8" cy="332.4" r="2.3" fill="#800000"/><circle cx="344.0" cy="331.4" r="2.3" fill="#800000"/><circle cx="347.3" cy="331.8" r="2.3" fill="#800000"/><circle cx="349.9" cy="331.5" r="2.3" fill="#800000"/><circle cx="352.3" cy="332.1" r="2.3" fill="#800000"/><circle cx="354.9" cy="335.9" r="2.3" fill="#800000"/><circle cx="357.1" cy="332.0" r="2.3" fill="#800000"/><circle cx="359.2" cy="326.1" r="2.3" fill="#800000"/><circle cx="362.5" cy="327.6" r="2.3" fill="#800000"/><circle cx="364.7" cy="330.3" r="2.3" fill="#800000"/><circle cx="367.0" cy="322.2" r="2.3" fill="#800000"/><circle cx="370.5" cy="314.5" r="2.3" fill="#800000"/><circle cx="373.6" cy="315.8" r="2.3" fill="#800000"/><circle cx="375.9" cy="317.0" r="2.3" fill="#800000"/><circle cx="378.7" cy="316.3" r="2.3" fill="#800000"/><circle cx="381.3" cy="317.8" r="2.3" fill="#800000"/><circle cx="383.9" cy="314.5" r="2.3" fill="#800000"/><circle cx="386.4" cy="310.7" r="2.3" fill="#800000"/><circle cx="389.1" cy="307.6" r="2.3" fill="#800000"/><circle cx="392.5" cy="301.6" r="2.3" fill="#800000"/><circle cx="395.8" cy="305.1" r="2.3" fill="#cb0000"/><circle cx="398.8" cy="311.2" r="2.3" fill="#e60000"/><circle cx="401.2" cy="314.4" r="2.3" fill="#f90e00"/><circle cx="404.0" cy="317.1" r="2.3" fill="#ff1500"/><circle cx="407.4" cy="321.9" r="2.3" fill="#ff1800"/><circle cx="410.3" cy="319.1" r="2.3" fill="#ff1b00"/><circle cx="413.0" cy="316.2" r="2.3" fill="#ef0600"/><circle cx="416.4" cy="313.9" r="2.3" fill="#a10000"/><circle cx="419.7" cy="316.1" r="2.3" fill="#980000"/><circle cx="422.9" cy="324.6" r="2.3" fill="#8e0000"/><circle cx="425.9" cy="331.2" r="2.3" fill="#8b0000"/><circle cx="428.5" cy="335.5" r="2.3" fill="#8a0000"/><circle cx="431.1" cy="337.9" r="2.3" fill="#870000"/><circle cx="434.2" cy="340.6" r="2.3" fill="#820000"/><circle cx="436.6" cy="340.3" r="2.3" fill="#800000"/><circle cx="439.9" cy="341.3" r="2.3" fill="#800000"/><circle cx="442.0" cy="342.5" r="2.3" fill="#800000"/><circle cx="444.4" cy="342.3" r="2.3" fill="#800000"/><circle cx="447.2" cy="347.1" r="2.3" fill="#800000"/><circle cx="449.6" cy="345.4" r="2.3" fill="#800000"/><circle cx="452.3" cy="362.9" r="2.3" fill="#800000"/><circle cx="455.7" cy="401.9" r="2.3" fill="#800000"/><circle cx="457.9" cy="422.1" r="2.3" fill="#800000"/><circle cx="460.2" cy="431.1" r="2.3" fill="#800000"/><circle cx="462.8" cy="419.9" r="2.3" fill="#800000"/><circle cx="466.1" cy="392.5" r="2.3" fill="#800000"/><circle cx="469.0" cy="371.3" r="2.3" fill="#800000"/><circle cx="471.4" cy="361.7" r="2.3" fill="#800000"/><circle cx="474.2" cy="372.4" r="2.3" fill="#a40000"/><circle cx="477.6" cy="374.9" r="2.3" fill="#ca0000"/><circle cx="481.0" cy="369.6" r="2.3" fill="#e90100"/><circle cx="483.9" cy="366.8" r="2.3" fill="#ff1b00"/><circle cx="486.4" cy="270.6" r="2.3" fill="#ff3800"/><circle cx="489.6" cy="298.9" r="2.3" fill="#ff4b00"/><circle cx="491.8" cy="311.4" r="2.3" fill="#ff4c00"/><circle cx="494.8" cy="311.6" r="2.3" fill="#ff4600"/><circle cx="498.3" cy="252.3" r="2.3" fill="#ff2e00"/><circle cx="501.3" cy="263.8" r="2.3" fill="#ff1900"/><circle cx="503.4" cy="271.8" r="2.3" fill="#f70c00"/><circle cx="506.2" cy="271.3" r="2.3" fill="#ff1c00"/><circle cx="508.3" cy="266.9" r="2.3" fill="#ff2c00"/><circle cx="510.8" cy="213.6" r="2.3" fill="#ff6200"/><circle cx="513.7" cy="206.9" r="2.3" fill="#ff7400"/><circle cx="516.3" cy="218.1" r="2.3" fill="#ff6800"/><circle cx="518.6" cy="270.9" r="2.3" fill="#ff5100"/><circle cx="521.4" cy="273.9" r="2.3" fill="#ff3e00"/><circle cx="524.7" cy="249.4" r="2.3" fill="#ff5a00"/><circle cx="527.5" cy="207.1" r="2.3" fill="#ff8900"/><circle cx="530.0" cy="209.8" r="2.3" fill="#ff9b00"/><circle cx="533.0" cy="224.0" r="2.3" fill="#ff9500"/><circle cx="535.4" cy="238.6" r="2.3" fill="#ff9500"/><circle cx="538.6" cy="244.2" r="2.3" fill="#ffa400"/><circle cx="541.7" cy="239.1" r="2.3" fill="#ffd500"/><circle cx="544.2" cy="221.5" r="2.3" fill="#c1ff36"/><circle cx="546.3" cy="217.1" r="2.3" fill="#90ff67"/><circle cx="548.4" cy="216.3" r="2.3" fill="#71ff85"/><circle cx="551.0" cy="215.4" r="2.3" fill="#63ff94"/><circle cx="553.3" cy="214.5" r="2.3" fill="#59ff9e"/><circle cx="555.5" cy="214.4" r="2.3" fill="#51ffa6"/><circle cx="558.0" cy="214.8" r="2.3" fill="#4affad"/><circle cx="560.5" cy="218.5" r="2.3" fill="#48ffaf"/><circle cx="563.5" cy="238.8" r="2.3" fill="#6fff87"/><circle cx="565.5" cy="268.7" r="2.3" fill="#9eff59"/><circle cx="569.0" cy="273.5" r="2.3" fill="#d3ff23"/><circle cx="571.9" cy="275.8" r="2.3" fill="#e2ff15"/><circle cx="574.8" cy="276.7" r="2.3" fill="#e1ff15"/><circle cx="577.7" cy="277.1" r="2.3" fill="#e0ff17"/><circle cx="580.4" cy="278.1" r="2.3" fill="#deff18"/><circle cx="583.8" cy="274.0" r="2.3" fill="#daff1d"/><circle cx="586.1" cy="272.7" r="2.3" fill="#d5ff21"/><circle cx="588.6" cy="273.0" r="2.3" fill="#d6ff20"/><circle cx="590.9" cy="276.9" r="2.3" fill="#dbff1c"/><circle cx="593.4" cy="280.3" r="2.3" fill="#dfff18"/><circle cx="595.4" cy="283.1" r="2.3" fill="#e0ff17"/><circle cx="598.1" cy="280.8" r="2.3" fill="#ffc600"/><circle cx="600.8" cy="278.5" r="2.3" fill="#ffbb00"/><circle cx="603.0" cy="276.7" r="2.3" fill="#ffb200"/><circle cx="606.1" cy="273.5" r="2.3" fill="#ffa700"/><circle cx="608.8" cy="274.5" r="2.3" fill="#ffa000"/><circle cx="610.9" cy="277.2" r="2.3" fill="#ff9a00"/><circle cx="613.5" cy="280.2" r="2.3" fill="#ffaa00"/><circle cx="616.1" cy="283.9" r="2.3" fill="#ffc800"/><circle cx="618.9" cy="287.8" r="2.3" fill="#ffea00"/><circle cx="621.7" cy="292.2" r="2.3" fill="#f3fa04"/><circle cx="624.1" cy="298.3" r="2.3" fill="#f3fa04"/><circle cx="626.9" cy="302.0" r="2.3" fill="#ffb300"/><circle cx="629.5" cy="301.1" r="2.3" fill="#ff6200"/><circle cx="632.5" cy="300.2" r="2.3" fill="#ff2700"/><circle cx="634.8" cy="302.6" r="2.3" fill="#ff2800"/><circle cx="637.5" cy="305.4" r="2.3" fill="#ff2b00"/><circle cx="639.6" cy="308.9" r="2.3" fill="#ff2e00"/><circle cx="641.6" cy="310.8" r="2.3" fill="#ff2e00"/><circle cx="644.2" cy="313.2" r="2.3" fill="#ff2f00"/><circle cx="646.2" cy="313.9" r="2.3" fill="#ff2f00"/><circle cx="648.8" cy="317.2" r="2.3" fill="#ff2d00"/><circle cx="651.8" cy="319.5" r="2.3" fill="#ff2500"/><circle cx="654.7" cy="322.4" r="2.3" fill="#ff1d00"/><circle cx="657.0" cy="319.4" r="2.3" fill="#fd1100"/><circle cx="659.4" cy="317.3" r="2.3" fill="#ee0500"/><circle cx="661.8" cy="305.8" r="2.3" fill="#eb0200"/><circle cx="664.0" cy="287.0" r="2.3" fill="#ed0500"/><circle cx="667.3" cy="299.1" r="2.3" fill="#ed0400"/><circle cx="669.7" cy="304.1" r="2.3" fill="#ec0300"/><circle cx="672.1" cy="305.8" r="2.3" fill="#eb0200"/><circle cx="675.0" cy="306.1" r="2.3" fill="#fe1200"/><circle cx="677.1" cy="302.3" r="2.3" fill="#ff1800"/><circle cx="680.6" cy="302.8" r="2.3" fill="#ff1b00"/><circle cx="683.9" cy="336.5" r="2.3" fill="#ff3200"/><circle cx="687.1" cy="354.0" r="2.3" fill="#ff3500"/><circle cx="689.7" cy="363.0" r="2.3" fill="#ff3600"/><circle cx="692.0" cy="370.5" r="2.3" fill="#ff3800"/><circle cx="694.2" cy="366.6" r="2.3" fill="#ff3700"/><circle cx="696.9" cy="359.5" r="2.3" fill="#ff3600"/><circle cx="700.3" cy="350.0" r="2.3" fill="#ff3500"/><circle cx="702.3" cy="344.3" r="2.3" fill="#ff3400"/><circle cx="705.3" cy="340.1" r="2.3" fill="#ff3300"/><circle cx="708.3" cy="335.9" r="2.3" fill="#ff3200"/><circle cx="711.6" cy="327.7" r="2.3" fill="#ff3100"/><circle cx="713.9" cy="319.0" r="2.3" fill="#ff2f00"/><circle cx="716.0" cy="316.5" r="2.3" fill="#ff2e00"/><circle cx="718.9" cy="326.3" r="2.3" fill="#ff3100"/><circle cx="721.4" cy="328.7" r="2.3" fill="#ff3100"/><circle cx="724.4" cy="330.5" r="2.3" fill="#ff3100"/><circle cx="726.9" cy="330.7" r="2.3" fill="#ff3100"/><circle cx="730.0" cy="338.5" r="2.3" fill="#ff3300"/><circle cx="733.3" cy="348.1" r="2.3" fill="#ff3400"/><circle cx="736.6" cy="339.9" r="2.3" fill="#ff3300"/><circle cx="739.0" cy="331.2" r="2.3" fill="#ff3100"/><circle cx="741.8" cy="318.7" r="2.3" fill="#ff3000"/><circle cx="744.8" cy="305.3" r="2.3" fill="#ff3700"/><circle cx="747.1" cy="287.8" r="2.3" fill="#ff4b00"/><circle cx="749.8" cy="269.7" r="2.3" fill="#ff6300"/><circle cx="752.5" cy="264.0" r="2.3" fill="#ff5d00"/><circle cx="755.9" cy="262.7" r="2.3" fill="#ff5000"/><circle cx="758.1" cy="262.3" r="2.3" fill="#ff5200"/><circle cx="760.5" cy="261.9" r="2.3" fill="#ff5300"/><circle cx="763.2" cy="261.7" r="2.3" fill="#ff5500"/><circle cx="766.4" cy="262.3" r="2.3" fill="#ff3300"/><circle cx="769.7" cy="267.0" r="2.3" fill="#ea0200"/><circle cx="773.2" cy="270.8" r="2.3" fill="#da0000"/><circle cx="776.1" cy="272.3" r="2.3" fill="#d60000"/><circle cx="778.4" cy="274.1" r="2.3" fill="#d80000"/><circle cx="781.3" cy="272.5" r="2.3" fill="#db0000"/><circle cx="783.4" cy="272.6" r="2.3" fill="#db0000"/><circle cx="786.3" cy="270.3" r="2.3" fill="#db0000"/><circle cx="788.9" cy="270.2" r="2.3" fill="#d80000"/><circle cx="791.0" cy="269.2" r="2.3" fill="#d20000"/><circle cx="793.9" cy="270.8" r="2.3" fill="#c80000"/><circle cx="796.4" cy="269.7" r="2.3" fill="#c10000"/><circle cx="799.2" cy="271.2" r="2.3" fill="#bf0000"/><circle cx="802.3" cy="271.5" r="2.3" fill="#bc0000"/><circle cx="805.5" cy="271.7" r="2.3" fill="#bb0000"/><circle cx="807.6" cy="271.8" r="2.3" fill="#bc0000"/><circle cx="811.0" cy="271.7" r="2.3" fill="#bf0000"/><circle cx="813.4" cy="271.9" r="2.3" fill="#c00000"/><circle cx="816.6" cy="271.0" r="2.3" fill="#c00000"/><circle cx="818.6" cy="270.5" r="2.3" fill="#c00000"/><circle cx="821.2" cy="270.7" r="2.3" fill="#c10000"/><circle cx="824.6" cy="269.8" r="2.3" fill="#c00000"/><circle cx="827.3" cy="268.8" r="2.3" fill="#be0000"/><circle cx="830.2" cy="267.5" r="2.3" fill="#a90000"/><circle cx="832.5" cy="265.9" r="2.3" fill="#930000"/><circle cx="835.7" cy="266.6" r="2.3" fill="#820000"/><circle cx="838.3" cy="278.6" r="2.3" fill="#800000"/><circle cx="840.6" cy="297.3" r="2.3" fill="#800000"/><circle cx="844.0" cy="310.2" r="2.3" fill="#870000"/><circle cx="847.1" cy="308.8" r="2.3" fill="#a50000"/><circle cx="850.0" cy="300.3" r="2.3" fill="#bd0000"/><circle cx="852.6" cy="288.5" r="2.3" fill="#d50000"/><circle cx="854.6" cy="289.2" r="2.3" fill="#e00000"/><circle cx="858.0" cy="290.4" r="2.3" fill="#e90100"/><circle cx="860.2" cy="290.5" r="2.3" fill="#ef0600"/><circle cx="862.2" cy="289.8" r="2.3" fill="#f40a00"/><circle cx="864.4" cy="290.4" r="2.3" fill="#f40a00"/><circle cx="866.5" cy="288.3" r="2.3" fill="#f40a00"/><circle cx="868.6" cy="286.1" r="2.3" fill="#f30900"/><circle cx="871.9" cy="286.1" r="2.3" fill="#f30900"/><circle cx="874.0" cy="288.2" r="2.3" fill="#f30900"/><circle cx="876.1" cy="291.9" r="2.3" fill="#dc0000"/><circle cx="878.9" cy="295.6" r="2.3" fill="#be0000"/><circle cx="881.7" cy="303.6" r="2.3" fill="#ac0000"/><circle cx="884.6" cy="301.2" r="2.3" fill="#a10000"/><circle cx="887.6" cy="297.8" r="2.3" fill="#9c0000"/><circle cx="890.3" cy="256.8" r="2.3" fill="#9c0000"/><circle cx="893.0" cy="237.6" r="2.3" fill="#9e0000"/><circle cx="895.3" cy="235.8" r="2.3" fill="#a10000"/><circle cx="898.3" cy="239.5" r="2.3" fill="#a60000"/><circle cx="901.5" cy="254.2" r="2.3" fill="#ab0000"/><circle cx="904.4" cy="270.8" r="2.3" fill="#b00000"/><circle cx="907.1" cy="284.2" r="2.3" fill="#b20000"/><circle cx="909.2" cy="293.7" r="2.3" fill="#b30000"/><circle cx="911.8" cy="299.1" r="2.3" fill="#b10000"/><circle cx="914.8" cy="302.3" r="2.3" fill="#ad0000"/><circle cx="917.8" cy="302.7" r="2.3" fill="#a80000"/><circle cx="920.6" cy="302.4" r="2.3" fill="#a30000"/><circle cx="923.9" cy="297.4" r="2.3" fill="#9d0000"/><circle cx="926.0" cy="298.8" r="2.3" fill="#9d0000"/><circle cx="929.5" cy="322.4" r="2.3" fill="#9c0000"/><circle cx="932.5" cy="321.2" r="2.3" fill="#9c0000"/><circle cx="936.0" cy="325.2" r="2.3" fill="#9c0000"/><circle cx="938.5" cy="328.7" r="2.3" fill="#9e0000"/><circle cx="941.9" cy="329.1" r="2.3" fill="#a80000"/><circle cx="944.5" cy="327.6" r="2.3" fill="#ae0000"/><circle cx="946.7" cy="325.3" r="2.3" fill="#af0000"/><circle cx="949.0" cy="321.7" r="2.3" fill="#a70000"/><circle cx="951.5" cy="316.0" r="2.3" fill="#a30000"/><circle cx="954.8" cy="310.0" r="2.3" fill="#a30000"/><circle cx="957.3" cy="303.7" r="2.3" fill="#a40000"/><circle cx="959.6" cy="298.6" r="2.3" fill="#a80000"/><circle cx="962.1" cy="308.1" r="2.3" fill="#aa0000"/><circle cx="964.7" cy="320.8" r="2.3" fill="#ac0000"/><circle cx="967.6" cy="329.8" r="2.3" fill="#af0000"/><circle cx="970.7" cy="336.3" r="2.3" fill="#b60000"/><circle cx="973.3" cy="338.2" r="2.3" fill="#cf0000"/><circle cx="976.5" cy="339.1" r="2.3" fill="#e60000"/><circle cx="979.0" cy="337.6" r="2.3" fill="#fd1100"/><circle cx="981.1" cy="330.3" r="2.3" fill="#ff2d00"/><circle cx="984.5" cy="341.1" r="2.3" fill="#ff4100"/><circle cx="987.9" cy="344.5" r="2.3" fill="#ff4c00"/><circle cx="990.4" cy="339.1" r="2.3" fill="#ff5f00"/><circle cx="992.5" cy="334.0" r="2.3" fill="#ff8100"/><circle cx="995.3" cy="326.8" r="2.3" fill="#ffb500"/><circle cx="998.6" cy="324.0" r="2.3" fill="#cfff28"/><circle cx="1001.9" cy="324.4" r="2.3" fill="#b0ff47"/><circle cx="214.2" cy="82.0" r="2.2" fill="#e90100"/><circle cx="214.2" cy="85.3" r="2.2" fill="#e80000"/><circle cx="214.2" cy="88.6" r="2.2" fill="#e70000"/><circle cx="214.2" cy="91.9" r="2.2" fill="#e60000"/><circle cx="214.2" cy="95.2" r="2.2" fill="#e50000"/><circle cx="214.2" cy="98.5" r="2.2" fill="#e40000"/><circle cx="214.2" cy="101.8" r="2.2" fill="#e30000"/><circle cx="214.2" cy="105.1" r="2.2" fill="#e20000"/><circle cx="214.2" cy="108.4" r="2.2" fill="#e10000"/><circle cx="214.2" cy="111.7" r="2.2" fill="#e00000"/><circle cx="214.2" cy="115.0" r="2.2" fill="#df0000"/><circle cx="214.2" cy="118.3" r="2.2" fill="#dd0000"/><circle cx="214.2" cy="121.6" r="2.2" fill="#dc0000"/><circle cx="214.2" cy="124.9" r="2.2" fill="#db0000"/><circle cx="214.2" cy="128.2" r="2.2" fill="#da0000"/><circle cx="214.2" cy="131.5" r="2.2" fill="#d90000"/><circle cx="214.2" cy="134.8" r="2.2" fill="#d80000"/><circle cx="214.2" cy="138.1" r="2.2" fill="#d70000"/><circle cx="214.2" cy="141.4" r="2.2" fill="#d60000"/><circle cx="214.2" cy="144.7" r="2.2" fill="#d50000"/><circle cx="214.2" cy="148.0" r="2.2" fill="#d40000"/><circle cx="214.2" cy="151.3" r="2.2" fill="#d20000"/><circle cx="214.2" cy="154.6" r="2.2" fill="#ce0000"/><circle cx="214.2" cy="157.9" r="2.2" fill="#ca0000"/><circle cx="214.2" cy="161.2" r="2.2" fill="#c70000"/><circle cx="214.2" cy="164.5" r="2.2" fill="#c30000"/><circle cx="214.2" cy="167.8" r="2.2" fill="#c00000"/><circle cx="214.2" cy="171.1" r="2.2" fill="#bc0000"/><circle cx="214.2" cy="174.4" r="2.2" fill="#b80000"/><circle cx="214.2" cy="177.7" r="2.2" fill="#b50000"/><circle cx="214.2" cy="181.0" r="2.2" fill="#b10000"/><circle cx="214.2" cy="184.3" r="2.2" fill="#ae0000"/><circle cx="214.2" cy="187.6" r="2.2" fill="#aa0000"/><circle cx="214.2" cy="190.9" r="2.2" fill="#a60000"/><circle cx="214.2" cy="194.2" r="2.2" fill="#a30000"/><circle cx="214.2" cy="197.5" r="2.2" fill="#9f0000"/><circle cx="214.2" cy="200.8" r="2.2" fill="#9d0000"/><circle cx="214.2" cy="204.1" r="2.2" fill="#9c0000"/><circle cx="214.2" cy="207.4" r="2.2" fill="#9c0000"/><circle cx="214.2" cy="210.7" r="2.2" fill="#9b0000"/><circle cx="214.2" cy="214.0" r="2.2" fill="#9b0000"/><circle cx="214.2" cy="217.3" r="2.2" fill="#9a0000"/><circle cx="214.2" cy="220.6" r="2.2" fill="#9a0000"/><circle cx="214.2" cy="223.9" r="2.2" fill="#9b0000"/><circle cx="214.2" cy="227.2" r="2.2" fill="#9b0000"/><circle cx="214.2" cy="230.5" r="2.2" fill="#9c0000"/><circle cx="214.2" cy="233.8" r="2.2" fill="#9c0000"/><circle cx="214.2" cy="237.1" r="2.2" fill="#9d0000"/><circle cx="214.2" cy="240.4" r="2.2" fill="#9e0000"/><circle cx="214.2" cy="243.7" r="2.2" fill="#9e0000"/><circle cx="214.2" cy="247.0" r="2.2" fill="#9f0000"/><circle cx="214.2" cy="250.3" r="2.2" fill="#a00000"/><circle cx="214.2" cy="253.6" r="2.2" fill="#a00000"/><circle cx="214.2" cy="256.9" r="2.2" fill="#a10000"/><circle cx="214.2" cy="260.2" r="2.2" fill="#a10000"/><circle cx="214.2" cy="263.5" r="2.2" fill="#a10000"/><circle cx="214.2" cy="266.8" r="2.2" fill="#a10000"/><circle cx="214.2" cy="270.1" r="2.2" fill="#a00000"/><circle cx="214.2" cy="273.4" r="2.2" fill="#a00000"/><circle cx="214.2" cy="276.7" r="2.2" fill="#9f0000"/><circle cx="214.2" cy="280.0" r="2.2" fill="#9e0000"/><circle cx="214.2" cy="283.3" r="2.2" fill="#9e0000"/><circle cx="214.2" cy="286.6" r="2.2" fill="#9d0000"/><circle cx="214.2" cy="289.9" r="2.2" fill="#9c0000"/><circle cx="214.2" cy="293.2" r="2.2" fill="#9b0000"/><circle cx="214.2" cy="296.5" r="2.2" fill="#9b0000"/><circle cx="214.2" cy="299.8" r="2.2" fill="#9a0000"/><circle cx="214.2" cy="303.1" r="2.2" fill="#990000"/><circle cx="214.2" cy="306.4" r="2.2" fill="#980000"/><circle cx="214.2" cy="309.7" r="2.2" fill="#970000"/><circle cx="214.2" cy="313.0" r="2.2" fill="#970000"/><circle cx="214.2" cy="316.3" r="2.2" fill="#960000"/><circle cx="214.2" cy="319.6" r="2.2" fill="#950000"/><circle cx="214.2" cy="322.9" r="2.2" fill="#940000"/><circle cx="214.2" cy="326.2" r="2.2" fill="#930000"/><circle cx="214.2" cy="329.5" r="2.2" fill="#930000"/><circle cx="214.2" cy="332.8" r="2.2" fill="#920000"/><circle cx="214.2" cy="336.1" r="2.2" fill="#910000"/><circle cx="214.2" cy="339.4" r="2.2" fill="#900000"/><circle cx="214.2" cy="342.7" r="2.2" fill="#8f0000"/><circle cx="214.2" cy="346.0" r="2.2" fill="#8e0000"/><circle cx="214.2" cy="349.3" r="2.2" fill="#8e0000"/><circle cx="214.2" cy="352.6" r="2.2" fill="#8d0000"/><circle cx="214.2" cy="355.9" r="2.2" fill="#8c0000"/><circle cx="214.2" cy="359.2" r="2.2" fill="#8b0000"/><circle cx="214.2" cy="362.5" r="2.2" fill="#8b0000"/><circle cx="214.2" cy="365.8" r="2.2" fill="#8b0000"/><circle cx="1003.2" cy="90.0" r="2.3" fill="#08efef"/><circle cx="1003.2" cy="93.3" r="2.3" fill="#08f0ee"/><circle cx="1003.2" cy="96.6" r="2.3" fill="#09f0ee"/><circle cx="1003.2" cy="99.9" r="2.3" fill="#09f1ee"/><circle cx="1003.2" cy="103.2" r="2.3" fill="#0af1ed"/><circle cx="1003.2" cy="106.5" r="2.3" fill="#0af2ed"/><circle cx="1003.2" cy="109.8" r="2.3" fill="#0bf3ec"/><circle cx="1003.2" cy="113.1" r="2.3" fill="#0bf3ec"/><circle cx="1003.2" cy="116.4" r="2.3" fill="#0bf4eb"/><circle cx="1003.2" cy="119.7" r="2.3" fill="#0cf4eb"/><circle cx="1003.2" cy="123.0" r="2.3" fill="#0cf5ea"/><circle cx="1003.2" cy="126.3" r="2.3" fill="#0df5ea"/><circle cx="1003.2" cy="129.6" r="2.3" fill="#0df6ea"/><circle cx="1003.2" cy="132.9" r="2.3" fill="#0ef7e9"/><circle cx="1003.2" cy="136.2" r="2.3" fill="#0ef7e9"/><circle cx="1003.2" cy="139.5" r="2.3" fill="#0ff8e8"/><circle cx="1003.2" cy="142.8" r="2.3" fill="#0ff8e8"/><circle cx="1003.2" cy="146.1" r="2.3" fill="#10f9e7"/><circle cx="1003.2" cy="149.4" r="2.3" fill="#10f9e7"/><circle cx="1003.2" cy="152.7" r="2.3" fill="#10fae6"/><circle cx="1003.2" cy="156.0" r="2.3" fill="#11fae6"/><circle cx="1003.2" cy="159.3" r="2.3" fill="#11fbe5"/><circle cx="1003.2" cy="162.6" r="2.3" fill="#12fce5"/><circle cx="1003.2" cy="165.9" r="2.3" fill="#12fce5"/><circle cx="1003.2" cy="169.2" r="2.3" fill="#13fde4"/><circle cx="1003.2" cy="172.5" r="2.3" fill="#13fde4"/><circle cx="1003.2" cy="175.8" r="2.3" fill="#14fee3"/><circle cx="1003.2" cy="179.1" r="2.3" fill="#14fee3"/><circle cx="1003.2" cy="182.4" r="2.3" fill="#15ffe2"/><circle cx="1003.2" cy="185.7" r="2.3" fill="#15ffe2"/><circle cx="1003.2" cy="189.0" r="2.3" fill="#15ffe1"/><circle cx="1003.2" cy="192.3" r="2.3" fill="#16ffe1"/><circle cx="1003.2" cy="195.6" r="2.3" fill="#16ffe0"/><circle cx="1003.2" cy="198.9" r="2.3" fill="#17ffe0"/><circle cx="1003.2" cy="202.2" r="2.3" fill="#18ffdf"/><circle cx="1003.2" cy="205.5" r="2.3" fill="#1affdd"/><circle cx="1003.2" cy="208.8" r="2.3" fill="#1bffdc"/><circle cx="1003.2" cy="212.1" r="2.3" fill="#1dffda"/><circle cx="1003.2" cy="215.4" r="2.3" fill="#1effd8"/><circle cx="1003.2" cy="218.7" r="2.3" fill="#20ffd7"/><circle cx="1003.2" cy="222.0" r="2.3" fill="#22ffd5"/><circle cx="1003.2" cy="225.3" r="2.3" fill="#23ffd3"/><circle cx="1003.2" cy="228.6" r="2.3" fill="#25ffd2"/><circle cx="1003.2" cy="231.9" r="2.3" fill="#27ffd0"/><circle cx="1003.2" cy="235.2" r="2.3" fill="#28ffcf"/><circle cx="1003.2" cy="238.5" r="2.3" fill="#2affcd"/><circle cx="1003.2" cy="241.8" r="2.3" fill="#2bffcb"/><circle cx="1003.2" cy="245.1" r="2.3" fill="#2dffca"/><circle cx="1003.2" cy="248.4" r="2.3" fill="#2fffc8"/><circle cx="1003.2" cy="251.7" r="2.3" fill="#30ffc7"/><circle cx="1003.2" cy="255.0" r="2.3" fill="#32ffc5"/><circle cx="1003.2" cy="258.3" r="2.3" fill="#34ffc3"/><circle cx="1003.2" cy="261.6" r="2.3" fill="#37ffc0"/><circle cx="1003.2" cy="264.9" r="2.3" fill="#3bffbc"/><circle cx="1003.2" cy="268.2" r="2.3" fill="#3fffb8"/><circle cx="1003.2" cy="271.5" r="2.3" fill="#43ffb4"/><circle cx="1003.2" cy="274.8" r="2.3" fill="#47ffaf"/><circle cx="1003.2" cy="278.1" r="2.3" fill="#4cffab"/><circle cx="1003.2" cy="281.4" r="2.3" fill="#50ffa7"/><circle cx="1003.2" cy="284.7" r="2.3" fill="#54ffa3"/><circle cx="1003.2" cy="288.0" r="2.3" fill="#58ff9e"/><circle cx="1003.2" cy="291.3" r="2.3" fill="#5dff9a"/><circle cx="1003.2" cy="294.6" r="2.3" fill="#61ff96"/><circle cx="1003.2" cy="297.9" r="2.3" fill="#65ff91"/><circle cx="1003.2" cy="301.2" r="2.3" fill="#6bff8b"/><circle cx="1003.2" cy="304.5" r="2.3" fill="#73ff84"/><circle cx="1003.2" cy="307.8" r="2.3" fill="#7cff7b"/><circle cx="1003.2" cy="311.1" r="2.3" fill="#84ff73"/><circle cx="1003.2" cy="314.4" r="2.3" fill="#8cff6b"/><circle cx="1003.2" cy="317.7" r="2.3" fill="#96ff61"/><circle cx="1003.2" cy="321.0" r="2.3" fill="#a0ff57"/><circle cx="260.0" cy="74.5" r="2.4" fill="#ff4200"/><circle cx="233.0" cy="78.0" r="2.4" fill="#800000"/><circle cx="345.0" cy="74.0" r="2.4" fill="#800000"/><circle cx="337.0" cy="76.0" r="2.4" fill="#800000"/><circle cx="283.0" cy="77.0" r="2.4" fill="#800000"/><circle cx="391.0" cy="76.5" r="2.4" fill="#800000"/><circle cx="420.0" cy="77.0" r="2.4" fill="#c50000"/><circle cx="440.0" cy="74.5" r="2.4" fill="#ff2f00"/><circle cx="436.0" cy="78.0" r="2.4" fill="#ff2f00"/><circle cx="447.0" cy="78.0" r="2.4" fill="#ff2600"/><circle cx="322.0" cy="77.0" r="2.4" fill="#800000"/><circle cx="366.0" cy="77.0" r="2.4" fill="#800000"/><circle cx="459.0" cy="77.0" r="2.4" fill="#800000"/><circle cx="224.0" cy="78.5" r="2.4" fill="#ff1c00"/><circle cx="377.0" cy="77.5" r="2.4" fill="#800000"/><circle cx="302.0" cy="77.5" r="2.4" fill="#800000"/><circle cx="508.0" cy="83.0" r="2.4" fill="#7bff7b"/><circle cx="518.0" cy="77.5" r="2.4" fill="#7bff7b"/><circle cx="518.0" cy="82.0" r="2.4" fill="#7bff7b"/><circle cx="527.5" cy="77.5" r="2.4" fill="#7bff7b"/><circle cx="527.5" cy="84.0" r="2.4" fill="#7bff7b"/><circle cx="537.0" cy="81.0" r="2.4" fill="#5aff9c"/><circle cx="537.0" cy="84.5" r="2.4" fill="#5aff9c"/><circle cx="546.0" cy="83.0" r="2.4" fill="#4affad"/><circle cx="604.5" cy="79.5" r="2.4" fill="#008aff"/><circle cx="604.5" cy="88.0" r="2.4" fill="#008aff"/><circle cx="623.5" cy="84.0" r="2.4" fill="#0094ff"/><circle cx="623.5" cy="89.0" r="2.4" fill="#0094ff"/><circle cx="652.5" cy="79.0" r="2.4" fill="#42ffb5"/><circle cx="657.0" cy="85.0" r="2.4" fill="#4affad"/><circle cx="652.0" cy="90.0" r="2.4" fill="#52ffa5"/><circle cx="681.0" cy="82.0" r="2.4" fill="#52ffa5"/><circle cx="690.5" cy="74.5" r="2.4" fill="#4affad"/><circle cx="690.5" cy="84.0" r="2.4" fill="#4affad"/><circle cx="700.0" cy="82.5" r="2.4" fill="#10fae6"/><circle cx="710.0" cy="80.5" r="2.4" fill="#009eff"/><circle cx="710.0" cy="87.0" r="2.4" fill="#009eff"/><circle cx="719.0" cy="82.0" r="2.4" fill="#00a8ff"/><circle cx="719.0" cy="86.0" r="2.4" fill="#00a8ff"/><circle cx="729.0" cy="80.5" r="2.4" fill="#00b2ff"/><circle cx="729.0" cy="85.0" r="2.4" fill="#00b2ff"/><circle cx="748.0" cy="84.0" r="2.4" fill="#00a8ff"/><circle cx="748.0" cy="88.0" r="2.4" fill="#00a8ff"/><circle cx="767.5" cy="79.0" r="2.4" fill="#00c7ff"/><circle cx="767.5" cy="83.5" r="2.4" fill="#00c7ff"/><circle cx="777.0" cy="79.0" r="2.4" fill="#00dbff"/><circle cx="786.5" cy="79.5" r="2.4" fill="#4affad"/><circle cx="786.5" cy="84.5" r="2.4" fill="#4affad"/><circle cx="796.0" cy="79.5" r="2.4" fill="#6bff8c"/><circle cx="796.0" cy="83.5" r="2.4" fill="#6bff8c"/><circle cx="815.0" cy="78.5" r="2.4" fill="#efff08"/><circle cx="815.0" cy="84.0" r="2.4" fill="#efff08"/><circle cx="824.5" cy="80.0" r="2.4" fill="#ceff29"/><circle cx="824.5" cy="86.0" r="2.4" fill="#ceff29"/><circle cx="834.0" cy="80.5" r="2.4" fill="#8cff6b"/><circle cx="843.5" cy="76.5" r="2.4" fill="#7bff7b"/><circle cx="853.0" cy="78.5" r="2.4" fill="#63ff94"/><circle cx="853.0" cy="84.0" r="2.4" fill="#63ff94"/><circle cx="863.0" cy="78.0" r="2.4" fill="#4affad"/><circle cx="863.0" cy="85.0" r="2.4" fill="#4affad"/><circle cx="882.0" cy="79.5" r="2.4" fill="#6bff8c"/><circle cx="891.5" cy="81.5" r="2.4" fill="#6bff8c"/><circle cx="891.5" cy="87.0" r="2.4" fill="#6bff8c"/><circle cx="917.0" cy="82.0" r="2.4" fill="#ff8e00"/><circle cx="917.0" cy="86.0" r="2.4" fill="#ff8e00"/><circle cx="936.0" cy="79.0" r="2.4" fill="#dc0000"/><circle cx="931.5" cy="82.5" r="2.4" fill="#f30900"/><circle cx="940.0" cy="83.0" r="2.4" fill="#f30900"/><circle cx="945.5" cy="78.5" r="2.4" fill="#ff9700"/><circle cx="959.0" cy="76.0" r="2.4" fill="#8cff6b"/><circle cx="974.5" cy="80.5" r="2.4" fill="#8cff6b"/><circle cx="964.0" cy="84.0" r="2.4" fill="#8cff6b"/><circle cx="984.0" cy="84.0" r="2.4" fill="#8cff6b"/><circle cx="994.0" cy="82.5" r="2.4" fill="#7bff7b"/><circle cx="999.0" cy="80.0" r="2.4" fill="#7bff7b"/><circle cx="969.0" cy="84.5" r="2.4" fill="#8cff6b"/><circle cx="354.5" cy="340.0" r="2.4" fill="#800000"/><circle cx="328.0" cy="354.0" r="2.4" fill="#800000"/><circle cx="447.5" cy="350.0" r="2.4" fill="#800000"/><circle cx="460.0" cy="431.0" r="2.4" fill="#800000"/><circle cx="473.0" cy="357.0" r="2.4" fill="#ff2600"/><circle cx="692.0" cy="374.0" r="2.4" fill="#ff2f00"/>
</g>
<g fill="#000" opacity="0.75">
<rect x="223.6" y="100.0" width="0.8" height="0.8"/><rect x="223.6" y="125.8" width="0.8" height="0.8"/><rect x="223.6" y="153.8" width="0.8" height="0.8"/><rect x="223.6" y="176.1" width="0.8" height="0.8"/><rect x="223.6" y="193.0" width="0.8" height="0.8"/><rect x="223.6" y="210.9" width="0.8" height="0.8"/><rect x="223.6" y="234.2" width="0.8" height="0.8"/><rect x="223.6" y="258.6" width="0.8" height="0.8"/><rect x="223.6" y="279.2" width="0.8" height="0.8"/><rect x="223.6" y="298.6" width="0.8" height="0.8"/><rect x="223.6" y="324.2" width="0.8" height="0.8"/><rect x="223.6" y="348.9" width="0.8" height="0.8"/><rect x="223.6" y="375.8" width="0.8" height="0.8"/><rect x="268.6" y="100.0" width="0.8" height="0.8"/><rect x="268.6" y="115.4" width="0.8" height="0.8"/><rect x="268.6" y="129.3" width="0.8" height="0.8"/><rect x="268.6" y="142.4" width="0.8" height="0.8"/><rect x="268.6" y="157.4" width="0.8" height="0.8"/><rect x="268.6" y="172.2" width="0.8" height="0.8"/><rect x="268.6" y="183.9" width="0.8" height="0.8"/><rect x="268.6" y="196.7" width="0.8" height="0.8"/><rect x="268.6" y="207.3" width="0.8" height="0.8"/><rect x="268.6" y="222.7" width="0.8" height="0.8"/><rect x="268.6" y="233.7" width="0.8" height="0.8"/><rect x="268.6" y="247.7" width="0.8" height="0.8"/><rect x="268.6" y="265.7" width="0.8" height="0.8"/><rect x="268.6" y="283.1" width="0.8" height="0.8"/><rect x="268.6" y="299.1" width="0.8" height="0.8"/><rect x="268.6" y="315.8" width="0.8" height="0.8"/><rect x="268.6" y="331.4" width="0.8" height="0.8"/><rect x="268.6" y="349.4" width="0.8" height="0.8"/><rect x="268.6" y="360.7" width="0.8" height="0.8"/><rect x="383.6" y="86.0" width="0.8" height="0.8"/><rect x="383.6" y="107.6" width="0.8" height="0.8"/><rect x="383.6" y="128.8" width="0.8" height="0.8"/><rect x="383.6" y="158.2" width="0.8" height="0.8"/><rect x="383.6" y="185.7" width="0.8" height="0.8"/><rect x="383.6" y="205.9" width="0.8" height="0.8"/><rect x="383.6" y="229.6" width="0.8" height="0.8"/><rect x="383.6" y="255.3" width="0.8" height="0.8"/><rect x="383.6" y="279.2" width="0.8" height="0.8"/><rect x="383.6" y="300.5" width="0.8" height="0.8"/><rect x="383.6" y="317.6" width="0.8" height="0.8"/><rect x="527.6" y="82.0" width="0.8" height="0.8"/><rect x="527.6" y="100.2" width="0.8" height="0.8"/><rect x="527.6" y="115.1" width="0.8" height="0.8"/><rect x="527.6" y="126.9" width="0.8" height="0.8"/><rect x="527.6" y="138.7" width="0.8" height="0.8"/><rect x="527.6" y="156.7" width="0.8" height="0.8"/><rect x="527.6" y="174.9" width="0.8" height="0.8"/><rect x="527.6" y="194.6" width="0.8" height="0.8"/><rect x="527.6" y="209.4" width="0.8" height="0.8"/><rect x="527.6" y="226.3" width="0.8" height="0.8"/><rect x="527.6" y="243.9" width="0.8" height="0.8"/><rect x="596.0" y="196.0" width="0.8" height="0.8"/><rect x="596.0" y="208.7" width="0.8" height="0.8"/><rect x="596.0" y="217.9" width="0.8" height="0.8"/><rect x="596.0" y="228.6" width="0.8" height="0.8"/><rect x="596.0" y="240.8" width="0.8" height="0.8"/><rect x="596.0" y="253.1" width="0.8" height="0.8"/><rect x="596.0" y="261.2" width="0.8" height="0.8"/><rect x="596.0" y="269.7" width="0.8" height="0.8"/><rect x="596.0" y="278.9" width="0.8" height="0.8"/><rect x="596.0" y="287.5" width="0.8" height="0.8"/><rect x="623.2" y="86.0" width="0.8" height="0.8"/><rect x="623.2" y="107.2" width="0.8" height="0.8"/><rect x="623.2" y="125.2" width="0.8" height="0.8"/><rect x="623.2" y="145.1" width="0.8" height="0.8"/><rect x="623.2" y="162.6" width="0.8" height="0.8"/><rect x="623.2" y="175.0" width="0.8" height="0.8"/><rect x="623.2" y="191.5" width="0.8" height="0.8"/><rect x="623.2" y="205.6" width="0.8" height="0.8"/><rect x="623.2" y="220.3" width="0.8" height="0.8"/><rect x="623.2" y="240.3" width="0.8" height="0.8"/><rect x="623.2" y="256.7" width="0.8" height="0.8"/><rect x="623.2" y="274.7" width="0.8" height="0.8"/><rect x="623.2" y="289.1" width="0.8" height="0.8"/><rect x="691.2" y="85.0" width="0.8" height="0.8"/><rect x="691.2" y="95.9" width="0.8" height="0.8"/><rect x="691.2" y="105.8" width="0.8" height="0.8"/><rect x="691.2" y="122.1" width="0.8" height="0.8"/><rect x="691.2" y="138.4" width="0.8" height="0.8"/><rect x="691.2" y="151.4" width="0.8" height="0.8"/><rect x="691.2" y="167.2" width="0.8" height="0.8"/><rect x="691.2" y="178.5" width="0.8" height="0.8"/><rect x="691.2" y="194.2" width="0.8" height="0.8"/><rect x="691.2" y="205.3" width="0.8" height="0.8"/><rect x="691.2" y="218.7" width="0.8" height="0.8"/><rect x="691.2" y="230.3" width="0.8" height="0.8"/><rect x="691.2" y="241.7" width="0.8" height="0.8"/><rect x="691.2" y="255.5" width="0.8" height="0.8"/><rect x="691.2" y="266.7" width="0.8" height="0.8"/><rect x="691.2" y="281.2" width="0.8" height="0.8"/><rect x="691.2" y="298.0" width="0.8" height="0.8"/><rect x="748.0" y="82.0" width="0.8" height="0.8"/><rect x="748.0" y="99.1" width="0.8" height="0.8"/><rect x="748.0" y="114.7" width="0.8" height="0.8"/><rect x="748.0" y="136.9" width="0.8" height="0.8"/><rect x="748.0" y="164.0" width="0.8" height="0.8"/><rect x="748.0" y="188.7" width="0.8" height="0.8"/><rect x="748.0" y="215.5" width="0.8" height="0.8"/><rect x="748.0" y="239.5" width="0.8" height="0.8"/><rect x="748.0" y="260.1" width="0.8" height="0.8"/><rect x="748.0" y="280.0" width="0.8" height="0.8"/><rect x="777.0" y="88.0" width="0.8" height="0.8"/><rect x="777.0" y="106.6" width="0.8" height="0.8"/><rect x="777.0" y="125.7" width="0.8" height="0.8"/><rect x="777.0" y="138.8" width="0.8" height="0.8"/><rect x="777.0" y="153.0" width="0.8" height="0.8"/><rect x="777.0" y="164.4" width="0.8" height="0.8"/><rect x="777.0" y="177.6" width="0.8" height="0.8"/><rect x="777.0" y="192.9" width="0.8" height="0.8"/><rect x="777.0" y="211.8" width="0.8" height="0.8"/><rect x="777.0" y="231.9" width="0.8" height="0.8"/><rect x="777.0" y="250.8" width="0.8" height="0.8"/><rect x="777.0" y="268.1" width="0.8" height="0.8"/><rect x="777.0" y="284.8" width="0.8" height="0.8"/><rect x="777.0" y="297.7" width="0.8" height="0.8"/><rect x="825.2" y="80.0" width="0.8" height="0.8"/><rect x="825.2" y="95.0" width="0.8" height="0.8"/><rect x="825.2" y="113.6" width="0.8" height="0.8"/><rect x="825.2" y="131.1" width="0.8" height="0.8"/><rect x="825.2" y="148.0" width="0.8" height="0.8"/><rect x="825.2" y="167.2" width="0.8" height="0.8"/><rect x="825.2" y="180.5" width="0.8" height="0.8"/><rect x="825.2" y="197.3" width="0.8" height="0.8"/><rect x="825.2" y="210.3" width="0.8" height="0.8"/><rect x="825.2" y="226.3" width="0.8" height="0.8"/><rect x="825.2" y="243.4" width="0.8" height="0.8"/><rect x="825.2" y="263.7" width="0.8" height="0.8"/><rect x="825.2" y="278.1" width="0.8" height="0.8"/><rect x="825.2" y="296.7" width="0.8" height="0.8"/><rect x="863.0" y="78.0" width="0.8" height="0.8"/><rect x="863.0" y="101.1" width="0.8" height="0.8"/><rect x="863.0" y="121.9" width="0.8" height="0.8"/><rect x="863.0" y="153.0" width="0.8" height="0.8"/><rect x="863.0" y="175.2" width="0.8" height="0.8"/><rect x="863.0" y="197.1" width="0.8" height="0.8"/><rect x="863.0" y="221.5" width="0.8" height="0.8"/><rect x="863.0" y="251.6" width="0.8" height="0.8"/><rect x="863.0" y="279.6" width="0.8" height="0.8"/><rect x="917.2" y="84.0" width="0.8" height="0.8"/><rect x="917.2" y="100.0" width="0.8" height="0.8"/><rect x="917.2" y="125.2" width="0.8" height="0.8"/><rect x="917.2" y="144.8" width="0.8" height="0.8"/><rect x="917.2" y="163.0" width="0.8" height="0.8"/><rect x="917.2" y="185.9" width="0.8" height="0.8"/><rect x="917.2" y="207.2" width="0.8" height="0.8"/><rect x="917.2" y="223.7" width="0.8" height="0.8"/><rect x="917.2" y="241.9" width="0.8" height="0.8"/><rect x="917.2" y="269.5" width="0.8" height="0.8"/><rect x="917.2" y="295.3" width="0.8" height="0.8"/><rect x="945.6" y="250.0" width="0.8" height="0.8"/><rect x="945.6" y="266.4" width="0.8" height="0.8"/><rect x="945.6" y="282.8" width="0.8" height="0.8"/><rect x="945.6" y="301.9" width="0.8" height="0.8"/><rect x="945.6" y="325.2" width="0.8" height="0.8"/><rect x="230.7" y="365.0" width="0.7" height="0.7"/><rect x="230.7" y="367.2" width="0.7" height="0.7"/><rect x="230.7" y="369.4" width="0.7" height="0.7"/><rect x="230.7" y="371.6" width="0.7" height="0.7"/><rect x="230.7" y="373.8" width="0.7" height="0.7"/><rect x="230.7" y="376.0" width="0.7" height="0.7"/><rect x="230.7" y="378.2" width="0.7" height="0.7"/><rect x="230.7" y="380.4" width="0.7" height="0.7"/><rect x="230.7" y="382.6" width="0.7" height="0.7"/><rect x="230.7" y="384.8" width="0.7" height="0.7"/><rect x="262.6" y="372.0" width="0.7" height="0.7"/><rect x="262.6" y="374.2" width="0.7" height="0.7"/><rect x="262.6" y="376.4" width="0.7" height="0.7"/><rect x="262.6" y="378.6" width="0.7" height="0.7"/><rect x="262.6" y="380.8" width="0.7" height="0.7"/><rect x="262.6" y="383.0" width="0.7" height="0.7"/><rect x="262.6" y="385.2" width="0.7" height="0.7"/><rect x="262.6" y="387.4" width="0.7" height="0.7"/><rect x="262.6" y="389.6" width="0.7" height="0.7"/><rect x="262.6" y="391.8" width="0.7" height="0.7"/><rect x="262.6" y="394.0" width="0.7" height="0.7"/><rect x="262.6" y="396.2" width="0.7" height="0.7"/><rect x="262.6" y="398.4" width="0.7" height="0.7"/><rect x="327.6" y="376.0" width="0.7" height="0.7"/><rect x="327.6" y="378.2" width="0.7" height="0.7"/><rect x="327.6" y="380.4" width="0.7" height="0.7"/><rect x="327.6" y="382.6" width="0.7" height="0.7"/><rect x="327.6" y="384.8" width="0.7" height="0.7"/><rect x="327.6" y="387.0" width="0.7" height="0.7"/><rect x="402.6" y="345.0" width="0.7" height="0.7"/><rect x="402.6" y="347.2" width="0.7" height="0.7"/><rect x="402.6" y="349.4" width="0.7" height="0.7"/><rect x="402.6" y="351.6" width="0.7" height="0.7"/><rect x="402.6" y="353.8" width="0.7" height="0.7"/><rect x="402.6" y="356.0" width="0.7" height="0.7"/><rect x="402.6" y="358.2" width="0.7" height="0.7"/><rect x="565.6" y="288.0" width="0.7" height="0.7"/><rect x="565.6" y="290.2" width="0.7" height="0.7"/><rect x="565.6" y="292.4" width="0.7" height="0.7"/><rect x="565.6" y="294.6" width="0.7" height="0.7"/><rect x="565.6" y="296.8" width="0.7" height="0.7"/><rect x="585.6" y="300.0" width="0.7" height="0.7"/><rect x="585.6" y="302.2" width="0.7" height="0.7"/><rect x="585.6" y="304.4" width="0.7" height="0.7"/><rect x="585.6" y="306.6" width="0.7" height="0.7"/><rect x="585.6" y="308.8" width="0.7" height="0.7"/><rect x="585.6" y="311.0" width="0.7" height="0.7"/><rect x="585.6" y="313.2" width="0.7" height="0.7"/><rect x="585.6" y="315.4" width="0.7" height="0.7"/><rect x="585.6" y="317.6" width="0.7" height="0.7"/><rect x="585.6" y="319.8" width="0.7" height="0.7"/><rect x="585.6" y="322.0" width="0.7" height="0.7"/><rect x="585.6" y="324.2" width="0.7" height="0.7"/><rect x="585.6" y="326.4" width="0.7" height="0.7"/><rect x="585.6" y="328.6" width="0.7" height="0.7"/><rect x="585.6" y="330.8" width="0.7" height="0.7"/><rect x="585.6" y="333.0" width="0.7" height="0.7"/><rect x="585.6" y="335.2" width="0.7" height="0.7"/><rect x="585.6" y="337.4" width="0.7" height="0.7"/><rect x="585.6" y="339.6" width="0.7" height="0.7"/><rect x="566.1" y="290.0" width="0.7" height="0.7"/><rect x="566.1" y="292.2" width="0.7" height="0.7"/><rect x="566.1" y="294.4" width="0.7" height="0.7"/><rect x="566.1" y="296.6" width="0.7" height="0.7"/><rect x="566.1" y="298.8" width="0.7" height="0.7"/><rect x="566.1" y="301.0" width="0.7" height="0.7"/><rect x="566.1" y="303.2" width="0.7" height="0.7"/><rect x="566.1" y="305.4" width="0.7" height="0.7"/><rect x="814.6" y="300.0" width="0.7" height="0.7"/><rect x="814.6" y="302.2" width="0.7" height="0.7"/><rect x="814.6" y="304.4" width="0.7" height="0.7"/><rect x="814.6" y="306.6" width="0.7" height="0.7"/><rect x="814.6" y="308.8" width="0.7" height="0.7"/><rect x="814.6" y="311.0" width="0.7" height="0.7"/><rect x="814.6" y="313.2" width="0.7" height="0.7"/><rect x="814.6" y="315.4" width="0.7" height="0.7"/><rect x="814.6" y="317.6" width="0.7" height="0.7"/><rect x="814.6" y="319.8" width="0.7" height="0.7"/><rect x="814.6" y="322.0" width="0.7" height="0.7"/><rect x="814.6" y="324.2" width="0.7" height="0.7"/><rect x="814.6" y="326.4" width="0.7" height="0.7"/><rect x="814.6" y="328.6" width="0.7" height="0.7"/><rect x="814.6" y="330.8" width="0.7" height="0.7"/><rect x="814.6" y="333.0" width="0.7" height="0.7"/><rect x="814.6" y="335.2" width="0.7" height="0.7"/><rect x="814.6" y="337.4" width="0.7" height="0.7"/><rect x="814.6" y="339.6" width="0.7" height="0.7"/><rect x="814.6" y="341.8" width="0.7" height="0.7"/><rect x="814.6" y="344.0" width="0.7" height="0.7"/><rect x="647.6" y="345.0" width="0.7" height="0.7"/><rect x="647.6" y="347.2" width="0.7" height="0.7"/><rect x="647.6" y="349.4" width="0.7" height="0.7"/><rect x="647.6" y="351.6" width="0.7" height="0.7"/><rect x="647.6" y="353.8" width="0.7" height="0.7"/><rect x="647.6" y="356.0" width="0.7" height="0.7"/><rect x="660.6" y="340.0" width="0.7" height="0.7"/><rect x="660.6" y="342.2" width="0.7" height="0.7"/><rect x="660.6" y="344.4" width="0.7" height="0.7"/><rect x="660.6" y="346.6" width="0.7" height="0.7"/><rect x="660.6" y="348.8" width="0.7" height="0.7"/><rect x="660.6" y="351.0" width="0.7" height="0.7"/><rect x="799.6" y="300.0" width="0.7" height="0.7"/><rect x="799.6" y="302.2" width="0.7" height="0.7"/><rect x="799.6" y="304.4" width="0.7" height="0.7"/><rect x="799.6" y="306.6" width="0.7" height="0.7"/><rect x="799.6" y="308.8" width="0.7" height="0.7"/><rect x="799.6" y="311.0" width="0.7" height="0.7"/><rect x="799.6" y="313.2" width="0.7" height="0.7"/><rect x="799.6" y="315.4" width="0.7" height="0.7"/><rect x="799.6" y="317.6" width="0.7" height="0.7"/><rect x="799.6" y="319.8" width="0.7" height="0.7"/><rect x="799.6" y="322.0" width="0.7" height="0.7"/><rect x="799.6" y="324.2" width="0.7" height="0.7"/><rect x="799.6" y="326.4" width="0.7" height="0.7"/><rect x="799.6" y="328.6" width="0.7" height="0.7"/><rect x="799.6" y="330.8" width="0.7" height="0.7"/><rect x="799.6" y="333.0" width="0.7" height="0.7"/><rect x="896.6" y="262.0" width="0.7" height="0.7"/><rect x="896.6" y="264.2" width="0.7" height="0.7"/><rect x="896.6" y="266.4" width="0.7" height="0.7"/><rect x="896.6" y="268.6" width="0.7" height="0.7"/><rect x="896.6" y="270.8" width="0.7" height="0.7"/><rect x="896.6" y="273.0" width="0.7" height="0.7"/><rect x="896.6" y="275.2" width="0.7" height="0.7"/><rect x="896.6" y="277.4" width="0.7" height="0.7"/><rect x="896.6" y="279.6" width="0.7" height="0.7"/><rect x="896.6" y="281.8" width="0.7" height="0.7"/><rect x="896.6" y="284.0" width="0.7" height="0.7"/><rect x="896.6" y="286.2" width="0.7" height="0.7"/><rect x="896.6" y="288.4" width="0.7" height="0.7"/><rect x="896.6" y="290.6" width="0.7" height="0.7"/><rect x="896.6" y="292.8" width="0.7" height="0.7"/><rect x="896.6" y="295.0" width="0.7" height="0.7"/><rect x="896.6" y="297.2" width="0.7" height="0.7"/><rect x="896.6" y="299.4" width="0.7" height="0.7"/><rect x="905.6" y="285.0" width="0.7" height="0.7"/><rect x="905.6" y="287.2" width="0.7" height="0.7"/><rect x="905.6" y="289.4" width="0.7" height="0.7"/><rect x="905.6" y="291.6" width="0.7" height="0.7"/><rect x="905.6" y="293.8" width="0.7" height="0.7"/><rect x="905.6" y="296.0" width="0.7" height="0.7"/><rect x="905.6" y="298.2" width="0.7" height="0.7"/><rect x="905.6" y="300.4" width="0.7" height="0.7"/><rect x="905.6" y="302.6" width="0.7" height="0.7"/><rect x="905.6" y="304.8" width="0.7" height="0.7"/><rect x="905.6" y="307.0" width="0.7" height="0.7"/><rect x="905.6" y="309.2" width="0.7" height="0.7"/><rect x="905.6" y="311.4" width="0.7" height="0.7"/><rect x="905.6" y="313.6" width="0.7" height="0.7"/><rect x="905.6" y="315.8" width="0.7" height="0.7"/><rect x="905.6" y="318.0" width="0.7" height="0.7"/><rect x="905.6" y="320.2" width="0.7" height="0.7"/><rect x="905.6" y="322.4" width="0.7" height="0.7"/><rect x="905.6" y="324.6" width="0.7" height="0.7"/><rect x="905.6" y="326.8" width="0.7" height="0.7"/><rect x="905.6" y="329.0" width="0.7" height="0.7"/><rect x="994.6" y="345.0" width="0.7" height="0.7"/><rect x="994.6" y="347.2" width="0.7" height="0.7"/><rect x="994.6" y="349.4" width="0.7" height="0.7"/><rect x="994.6" y="351.6" width="0.7" height="0.7"/><rect x="994.6" y="353.8" width="0.7" height="0.7"/><rect x="994.6" y="356.0" width="0.7" height="0.7"/><rect x="994.6" y="358.2" width="0.7" height="0.7"/><rect x="994.6" y="360.4" width="0.7" height="0.7"/><rect x="994.6" y="362.6" width="0.7" height="0.7"/><rect x="994.6" y="364.8" width="0.7" height="0.7"/><rect x="994.6" y="367.0" width="0.7" height="0.7"/><rect x="1002.6" y="320.0" width="0.7" height="0.7"/><rect x="1002.6" y="322.2" width="0.7" height="0.7"/><rect x="1002.6" y="324.4" width="0.7" height="0.7"/><rect x="1002.6" y="326.6" width="0.7" height="0.7"/><rect x="1002.6" y="328.8" width="0.7" height="0.7"/><rect x="1002.6" y="331.0" width="0.7" height="0.7"/><rect x="1002.6" y="333.2" width="0.7" height="0.7"/><rect x="1002.6" y="335.4" width="0.7" height="0.7"/><rect x="1002.6" y="337.6" width="0.7" height="0.7"/><rect x="1002.6" y="339.8" width="0.7" height="0.7"/><rect x="1002.6" y="342.0" width="0.7" height="0.7"/><rect x="1002.6" y="344.2" width="0.7" height="0.7"/><rect x="1002.6" y="346.4" width="0.7" height="0.7"/><rect x="1002.6" y="348.6" width="0.7" height="0.7"/><rect x="1002.6" y="350.8" width="0.7" height="0.7"/><rect x="1002.6" y="353.0" width="0.7" height="0.7"/><rect x="1002.6" y="355.2" width="0.7" height="0.7"/><rect x="1002.6" y="357.4" width="0.7" height="0.7"/><rect x="1002.6" y="359.6" width="0.7" height="0.7"/><rect x="1002.6" y="361.8" width="0.7" height="0.7"/><rect x="1002.6" y="364.0" width="0.7" height="0.7"/><rect x="1002.6" y="366.2" width="0.7" height="0.7"/><rect x="1002.6" y="368.4" width="0.7" height="0.7"/><rect x="489.6" y="335.0" width="0.7" height="0.7"/><rect x="489.6" y="337.2" width="0.7" height="0.7"/><rect x="489.6" y="339.4" width="0.7" height="0.7"/><rect x="489.6" y="341.6" width="0.7" height="0.7"/><rect x="489.6" y="343.8" width="0.7" height="0.7"/><rect x="489.6" y="346.0" width="0.7" height="0.7"/><rect x="489.6" y="348.2" width="0.7" height="0.7"/><rect x="496.6" y="295.0" width="0.7" height="0.7"/><rect x="496.6" y="297.2" width="0.7" height="0.7"/><rect x="496.6" y="299.4" width="0.7" height="0.7"/><rect x="496.6" y="301.6" width="0.7" height="0.7"/><rect x="496.6" y="303.8" width="0.7" height="0.7"/><rect x="519.6" y="300.0" width="0.7" height="0.7"/><rect x="519.6" y="302.2" width="0.7" height="0.7"/><rect x="519.6" y="304.4" width="0.7" height="0.7"/><rect x="743.6" y="310.0" width="0.7" height="0.7"/><rect x="743.6" y="312.2" width="0.7" height="0.7"/><rect x="743.6" y="314.4" width="0.7" height="0.7"/><rect x="743.6" y="316.6" width="0.7" height="0.7"/><rect x="743.6" y="318.8" width="0.7" height="0.7"/><rect x="743.6" y="321.0" width="0.7" height="0.7"/><rect x="743.6" y="323.2" width="0.7" height="0.7"/><rect x="743.6" y="325.4" width="0.7" height="0.7"/><rect x="743.6" y="327.6" width="0.7" height="0.7"/><rect x="743.6" y="329.8" width="0.7" height="0.7"/><rect x="851.6" y="300.0" width="0.7" height="0.7"/><rect x="851.6" y="302.2" width="0.7" height="0.7"/><rect x="851.6" y="304.4" width="0.7" height="0.7"/><rect x="851.6" y="306.6" width="0.7" height="0.7"/><rect x="851.6" y="308.8" width="0.7" height="0.7"/><rect x="851.6" y="311.0" width="0.7" height="0.7"/><rect x="851.6" y="313.2" width="0.7" height="0.7"/><rect x="851.6" y="315.4" width="0.7" height="0.7"/><rect x="851.6" y="317.6" width="0.7" height="0.7"/><rect x="851.6" y="319.8" width="0.7" height="0.7"/><rect x="792.6" y="300.0" width="0.7" height="0.7"/><rect x="792.6" y="302.2" width="0.7" height="0.7"/><rect x="792.6" y="304.4" width="0.7" height="0.7"/><rect x="792.6" y="306.6" width="0.7" height="0.7"/><rect x="792.6" y="308.8" width="0.7" height="0.7"/><rect x="792.6" y="311.0" width="0.7" height="0.7"/><rect x="792.6" y="313.2" width="0.7" height="0.7"/>
</g>
<polyline fill="none" stroke="#000" stroke-width="0.55" stroke-linejoin="bevel" points="215.0,384.2 215.3,379.3 215.6,392.7 215.9,395.5 216.2,389.4 216.5,375.3 216.8,381.5 217.1,386.2 217.4,383.7 217.7,392.2 218.0,378.7 218.3,371.7 218.6,383.0 218.9,393.8 219.2,385.5 219.5,390.2 219.8,391.7 220.1,391.0 220.4,386.3 220.7,380.7 221.0,383.0 221.3,380.5 221.6,375.0 221.9,385.2 222.2,390.6 222.5,375.3 222.8,386.0 223.1,387.9 223.4,383.7 223.7,393.9 224.0,375.9 224.3,380.1 224.6,387.0 224.9,387.5 225.2,404.8 225.5,376.9 225.8,374.0 226.1,382.8 226.4,387.2 226.7,389.6 227.0,377.8 227.3,381.1 227.6,384.2 227.9,393.3 228.2,378.6 228.5,388.5 228.8,383.3 229.1,388.7 229.4,395.7 229.7,389.0 230.0,383.0 230.3,382.6 230.6,388.1 230.9,379.4 231.2,386.2 231.5,389.0 231.8,385.0 232.1,386.8 232.4,383.6 232.7,393.3 233.0,379.0 233.3,383.5 233.6,376.4 233.9,397.1 234.2,384.1 234.5,383.2 234.8,383.6 235.1,389.4 235.4,391.9 235.7,390.1 236.0,380.8 236.3,386.8 236.6,381.6 236.9,380.7 237.2,382.0 237.5,379.4 237.8,394.7 238.1,379.4 238.4,382.7 238.7,390.2 239.0,396.8 239.3,403.8 239.6,391.5 239.9,386.4 240.2,384.6 240.5,385.4 240.8,376.1 241.1,387.1 241.4,378.3 241.7,383.2 242.0,381.5 242.3,388.8 242.6,396.5 242.9,390.4 243.2,382.9 243.5,374.6 243.8,391.4 244.1,393.5 244.4,384.8 244.7,383.3 245.0,375.3 245.3,380.7 245.6,380.4 245.9,386.1 246.2,381.5 246.5,391.6 246.8,399.9 247.1,387.7 247.4,389.5 247.7,381.0 248.0,382.7 248.3,390.3 248.6,396.4 248.9,401.9 249.2,398.6 249.5,381.9 249.8,379.2 250.1,384.3 250.4,383.1 250.7,383.6 251.0,390.3 251.3,369.8 251.6,382.4 251.9,377.6 252.2,385.2 252.5,386.4 252.8,386.9 253.1,385.8 253.4,383.4 253.7,380.7 254.0,395.1 254.3,393.7 254.6,388.1 254.9,383.2 255.2,385.7 255.5,385.5 255.8,390.1 256.1,379.2 256.4,396.1 256.7,382.6 257.0,395.4 257.3,392.9 257.6,387.9 257.9,393.7 258.2,383.7 258.5,389.3 258.8,391.1 259.1,372.2 259.4,390.3 259.7,376.8 260.0,377.7 260.3,373.1 260.6,373.1 260.9,367.8 261.2,375.9 261.5,374.9 261.8,374.2 262.1,367.9 262.4,365.7 262.7,368.9 263.0,369.0 263.3,371.3 263.6,370.3 263.9,371.7 264.2,371.6 264.5,374.2 264.8,365.9 265.1,365.4 265.4,372.9 265.7,377.7 266.0,369.4 266.3,366.3 266.6,375.8 266.9,365.3 267.2,361.0 267.5,375.1 267.8,373.3 268.1,377.1 268.4,373.3 268.7,367.0 269.0,373.2 269.3,365.6 269.6,367.6 269.9,369.2 270.2,378.0 270.5,368.1 270.8,379.3 271.1,378.3 271.4,378.4 271.7,370.9 272.0,374.4 272.3,379.2 272.6,378.6 272.9,384.2 273.2,372.2 273.5,371.5 273.8,375.6 274.1,388.5 274.4,381.3 274.7,380.5 275.0,386.4 275.3,378.3 275.6,381.6 275.9,380.1 276.2,381.6 276.5,379.3 276.8,388.1 277.1,380.5 277.4,378.2 277.7,377.8 278.0,373.1 278.3,375.6 278.6,379.1 278.9,374.4 279.2,363.4 279.5,370.5 279.8,375.2 280.1,378.5 280.4,374.6 280.7,370.1 281.0,372.7 281.3,381.7 281.6,376.8 281.9,370.7 282.2,372.5 282.5,379.3 282.8,367.3 283.1,368.6 283.4,368.0 283.7,373.5 284.0,366.1 284.3,378.9 284.6,363.4 284.9,370.3 285.2,375.0 285.5,368.9 285.8,373.3 286.1,355.3 286.4,363.2 286.7,368.7 287.0,369.8 287.3,366.3 287.6,366.3 287.9,366.6 288.2,368.2 288.5,359.5 288.8,361.2 289.1,365.9 289.4,354.0 289.7,360.9 290.0,361.8 290.3,368.4 290.6,367.8 290.9,369.2 291.2,359.5 291.5,366.4 291.8,356.6 292.1,359.7 292.4,354.8 292.7,368.0 293.0,366.6 293.3,365.9 293.6,360.2 293.9,364.8 294.2,365.3 294.5,355.0 294.8,359.9 295.1,358.1 295.4,361.2 295.7,362.1 296.0,357.8 296.3,358.7 296.6,358.6 296.9,355.5 297.2,354.8 297.5,359.0 297.8,356.6 298.1,355.7 298.4,351.0 298.7,365.0 299.0,358.5 299.3,355.9 299.6,355.9 299.9,351.0 300.2,357.9 300.5,356.1 300.8,359.2 301.1,354.3 301.4,352.9 301.7,353.2 302.0,352.1 302.3,356.9 302.6,358.8 302.9,347.3 303.2,351.9 303.5,364.4 303.8,353.7 304.1,353.4 304.4,369.5 304.7,353.5 305.0,355.0 305.3,348.6 305.6,353.0 305.9,362.2 306.2,356.9 306.5,355.3 306.8,358.8 307.1,351.2 307.4,353.2 307.7,350.7 308.0,355.3 308.3,366.3 308.6,358.3 308.9,354.4 309.2,352.9 309.5,355.0 309.8,356.1 310.1,349.8 310.4,354.4 310.7,353.5 311.0,350.0 311.3,353.0 311.6,354.5 311.9,355.2 312.2,353.1 312.5,357.5 312.8,351.8 313.1,354.5 313.4,354.8 313.7,354.2 314.0,354.7 314.3,351.4 314.6,347.2 314.9,359.2 315.2,359.4 315.5,354.7 315.8,358.6 316.1,356.3 316.4,352.2 316.7,352.4 317.0,353.9 317.3,358.7 317.6,355.9 317.9,362.6 318.2,354.2 318.5,361.8 318.8,353.1 319.1,361.7 319.4,351.6 319.7,362.8 320.0,356.8 320.3,356.5 320.6,354.2 320.9,357.8 321.2,360.0 321.5,357.5 321.8,360.8 322.1,366.4 322.4,359.8 322.7,356.0 323.0,366.8 323.3,367.2 323.6,362.9 323.9,361.9 324.2,369.9 324.5,365.3 324.8,368.1 325.1,360.7 325.4,375.0 325.7,366.9 326.0,368.4 326.3,367.1 326.6,366.3 326.9,367.0 327.2,379.6 327.5,370.3 327.8,380.6 328.1,372.9 328.4,366.1 328.7,371.2 329.0,368.3 329.3,372.5 329.6,363.6 329.9,360.6 330.2,358.0 330.5,363.7 330.8,364.3 331.1,357.2 331.4,353.5 331.7,351.6 332.0,350.1 332.3,345.6 332.6,348.6 332.9,346.4 333.2,348.1 333.5,345.1 333.8,346.5 334.1,346.4 334.4,346.3 334.7,342.4 335.0,353.6 335.3,341.2 335.6,347.3 335.9,342.4 336.2,348.9 336.5,351.2 336.8,357.9 337.1,351.7 337.4,347.7 337.7,354.2 338.0,352.9 338.3,350.6 338.6,349.4 338.9,358.9 339.2,350.0 339.5,346.5 339.8,354.4 340.1,351.7 340.4,354.8 340.7,349.8 341.0,349.6 341.3,356.1 341.6,343.8 341.9,350.1 342.2,364.2 342.5,345.7 342.8,353.3 343.1,364.6 343.4,349.7 343.7,356.0 344.0,351.4 344.3,352.4 344.6,357.9 344.9,352.3 345.2,353.2 345.5,346.3 345.8,348.1 346.1,354.3 346.4,347.6 346.7,350.1 347.0,351.0 347.3,356.7 347.6,351.5 347.9,361.0 348.2,351.3 348.5,354.1 348.8,358.2 349.1,349.4 349.4,349.4 349.7,361.5 350.0,349.7 350.3,347.1 350.6,347.8 350.9,353.8 351.2,346.7 351.5,348.4 351.8,351.7 352.1,346.6 352.4,348.3 352.7,349.0 353.0,349.1 353.3,351.4 353.6,361.7 353.9,348.9 354.2,344.5 354.5,356.8 354.8,355.5 355.1,350.7 355.4,342.0 355.7,350.3 356.0,346.1 356.3,344.6 356.6,354.2 356.9,348.6 357.2,356.8 357.5,351.4 357.8,342.4 358.1,353.3 358.4,342.6 358.7,344.7 359.0,349.3 359.3,348.1 359.6,345.4 359.9,350.4 360.2,349.4 360.5,349.4 360.8,346.2 361.1,348.0 361.4,344.1 361.7,338.8 362.0,350.7 362.3,337.3 362.6,339.8 362.9,349.0 363.2,347.5 363.5,342.7 363.8,337.8 364.1,351.2 364.4,340.5 364.7,340.1 365.0,353.4 365.3,341.9 365.6,347.6 365.9,339.4 366.2,334.8 366.5,345.9 366.8,339.5 367.1,334.2 367.4,338.1 367.7,335.5 368.0,340.3 368.3,329.1 368.6,335.6 368.9,329.1 369.2,338.8 369.5,331.2 369.8,334.9 370.1,341.6 370.4,331.9 370.7,337.8 371.0,333.8 371.3,330.9 371.6,338.3 371.9,332.5 372.2,345.8 372.5,334.4 372.8,345.1 373.1,348.6 373.4,339.4 373.7,337.0 374.0,338.4 374.3,337.1 374.6,341.2 374.9,342.1 375.2,341.0 375.5,341.1 375.8,344.9 376.1,341.8 376.4,347.0 376.7,342.7 377.0,343.1 377.3,340.2 377.6,349.1 377.9,334.2 378.2,353.7 378.5,340.8 378.8,345.4 379.1,345.7 379.4,352.4 379.7,345.2 380.0,344.5 380.3,340.8 380.6,351.1 380.9,342.8 381.2,337.7 381.5,340.6 381.8,344.7 382.1,342.3 382.4,341.8 382.7,338.4 383.0,333.9 383.3,342.1 383.6,330.7 383.9,333.5 384.2,331.9 384.5,333.1 384.8,335.8 385.1,331.3 385.4,328.9 385.7,339.0 386.0,328.6 386.3,328.0 386.6,329.7 386.9,325.4 387.2,324.0 387.5,325.1 387.8,330.3 388.1,324.6 388.4,324.8 388.7,315.7 389.0,316.5 389.3,321.4 389.6,318.8 389.9,316.5 390.2,317.2 390.5,312.8 390.8,312.2 391.1,310.6 391.4,307.9 391.7,310.2 392.0,310.5 392.3,308.8 392.6,304.8 392.9,303.3 393.2,303.8 393.5,304.3 393.8,305.9 394.1,308.1 394.4,309.5 394.7,314.2 395.0,314.7 395.3,316.4 395.6,318.5 395.9,324.5 396.2,320.8 396.5,326.1 396.8,326.5 397.1,328.8 397.4,329.6 397.7,329.4 398.0,334.1 398.3,339.5 398.6,333.7 398.9,333.0 399.2,334.3 399.5,336.2 399.8,340.4 400.1,337.0 400.4,329.9 400.7,341.5 401.0,339.0 401.3,341.6 401.6,335.8 401.9,336.4 402.2,337.9 402.5,338.7 402.8,339.4 403.1,343.6 403.4,348.7 403.7,341.3 404.0,340.3 404.3,350.1 404.6,344.4 404.9,338.6 405.2,338.5 405.5,339.6 405.8,340.6 406.1,337.0 406.4,346.5 406.7,350.0 407.0,338.0 407.3,337.9 407.6,338.9 407.9,338.9 408.2,340.2 408.5,334.5 408.8,336.0 409.1,332.8 409.4,341.6 409.7,340.8 410.0,334.9 410.3,338.5 410.6,335.7 410.9,340.1 411.2,336.8 411.5,344.7 411.8,344.0 412.1,340.2 412.4,333.5 412.7,339.3 413.0,340.6 413.3,339.9 413.6,344.6 413.9,338.2 414.2,337.9 414.5,333.8 414.8,338.1 415.1,335.1 415.4,333.6 415.7,339.4 416.0,341.0 416.3,342.1 416.6,338.5 416.9,334.5 417.2,344.5 417.5,337.7 417.8,334.8 418.1,335.0 418.4,339.7 418.7,333.7 419.0,336.0 419.3,340.6 419.6,340.2 419.9,350.0 420.2,332.5 420.5,340.2 420.8,347.1 421.1,336.2 421.4,342.8 421.7,339.9 422.0,344.7 422.3,339.7 422.6,342.9 422.9,345.7 423.2,347.8 423.5,341.1 423.8,351.1 424.1,350.3 424.4,348.0 424.7,353.4 425.0,354.4 425.3,352.9 425.6,352.8 425.9,354.9 426.2,356.5 426.5,352.4 426.8,351.6 427.1,355.2 427.4,353.2 427.7,365.4 428.0,361.2 428.3,353.0 428.6,355.9 428.9,358.5 429.2,358.9 429.5,356.5 429.8,360.7 430.1,363.9 430.4,355.6 430.7,360.4 431.0,358.8 431.3,362.4 431.6,354.7 431.9,360.6 432.2,358.3 432.5,358.7 432.8,360.5 433.1,361.2 433.4,361.1 433.7,360.7 434.0,357.2 434.3,353.5 434.6,359.7 434.9,358.5 435.2,362.3 435.5,366.9 435.8,367.9 436.1,361.6 436.4,357.8 436.7,368.6 437.0,363.9 437.3,364.9 437.6,373.5 437.9,357.4 438.2,361.8 438.5,354.4 438.8,364.7 439.1,368.0 439.4,366.9 439.7,368.2 440.0,373.0 440.3,364.7 440.6,362.5 440.9,361.8 441.2,363.2 441.5,362.8 441.8,361.8 442.1,369.0 442.4,367.8 442.7,364.1 443.0,365.2 443.3,363.7 443.6,364.5 443.9,370.4 444.2,366.0 444.5,375.2 444.8,372.4 445.1,370.5 445.4,369.4 445.7,373.2 446.0,364.6 446.3,364.5 446.6,368.1 446.9,371.0 447.2,365.3 447.5,363.5 447.8,368.1 448.1,374.5 448.4,364.1 448.7,362.5 449.0,369.5 449.3,363.1 449.6,361.2 449.9,366.5 450.2,363.2 450.5,367.0 450.8,365.8 451.1,361.7 451.4,365.9 451.7,368.9 452.0,373.4 452.3,367.1 452.6,373.9 452.9,372.3 453.2,373.5 453.5,378.8 453.8,377.9 454.1,382.6 454.4,387.1 454.7,392.5 455.0,395.1 455.3,400.4 455.6,404.2 455.9,408.6 456.2,414.0 456.5,422.2 456.8,422.1 457.1,424.5 457.4,425.5 457.7,433.3 458.0,432.9 458.3,438.8 458.6,439.3 458.9,442.8 459.2,448.1 459.5,449.9 459.8,455.9 460.1,452.3 460.4,456.0 460.7,457.9 461.0,456.8 461.3,454.8 461.6,452.3 461.9,450.0 462.2,445.2 462.5,447.7 462.8,448.0 463.1,445.8 463.4,447.7 463.7,447.7 464.0,449.8 464.3,450.5 464.6,446.4 464.9,445.1 465.2,440.6 465.5,430.3 465.8,426.7 466.1,425.1 466.4,417.1 466.7,414.5 467.0,409.9 467.3,405.9 467.6,401.8 467.9,396.1 468.2,393.5 468.5,388.2 468.8,385.3 469.1,378.9 469.4,379.4 469.7,372.9 470.0,368.5 470.3,367.4 470.6,365.3 470.9,361.9 471.2,365.0 471.5,365.7 471.8,369.0 472.1,371.9 472.4,375.6 472.7,379.8 473.0,380.0 473.3,383.8 473.6,383.4 473.9,384.8 474.2,383.9 474.5,393.9 474.8,389.8 475.1,394.0 475.4,394.5 475.7,391.6 476.0,396.4 476.3,401.3 476.6,400.3 476.9,401.0 477.2,403.8 477.5,400.6 477.8,399.6 478.1,408.7 478.4,403.0 478.7,408.1 479.0,407.0 479.3,409.3 479.6,409.5 479.9,406.5 480.2,403.6 480.5,404.4 480.8,404.0 481.1,401.2 481.4,389.8 481.7,385.1 482.0,382.7 482.3,379.1 482.6,371.5 482.9,364.3 483.2,363.6 483.5,358.1 483.8,353.3 484.1,350.6 484.4,349.0 484.7,343.4 485.0,336.9 485.3,328.9 485.6,319.8 485.9,313.9 486.2,305.1 486.5,301.7 486.8,288.3 487.1,279.1 487.4,268.7 487.7,261.0 488.0,248.4 488.3,258.0 488.6,269.0 488.9,278.5 489.2,291.5 489.5,306.0 489.8,320.1 490.1,328.6 490.4,328.4 490.7,328.2 491.0,324.8 491.3,327.2 491.6,325.4 491.9,321.0 492.2,318.4 492.5,321.1 492.8,322.1 493.1,317.5 493.4,319.4 493.7,318.4 494.0,314.9 494.3,313.9 494.6,309.6 494.9,302.5 495.2,300.1 495.5,292.5 495.8,291.1 496.1,288.9 496.4,286.7 496.7,281.5 497.0,276.8 497.3,273.0 497.6,266.9 497.9,266.2 498.2,261.8 498.5,258.3 498.8,255.2 499.1,251.1 499.4,254.3 499.7,261.7 500.0,264.7 500.3,268.1 500.6,269.9 500.9,273.1 501.2,279.0 501.5,277.2 501.8,283.9 502.1,286.0 502.4,286.5 502.7,288.9 503.0,294.2 503.3,292.2 503.6,292.3 503.9,291.7 504.2,291.1 504.5,287.7 504.8,292.1 505.1,290.9 505.4,290.4 505.7,290.8 506.0,286.1 506.3,287.8 506.6,282.0 506.9,281.3 507.2,284.7 507.5,278.6 507.8,280.8 508.1,272.4 508.4,267.6 508.7,261.4 509.0,256.6 509.3,252.1 509.6,245.9 509.9,242.2 510.2,237.9 510.5,235.6 510.8,233.0 511.1,229.6 511.4,223.4 511.7,224.4 512.0,220.3 512.3,214.5 512.6,212.4 512.9,211.5 513.2,213.9 513.5,211.8 513.8,210.7 514.1,214.6 514.4,217.6 514.7,217.8 515.0,223.9 515.3,221.7 515.6,222.6 515.9,223.2 516.2,222.7 516.5,224.8 516.8,228.0 517.1,228.1 517.4,227.7 517.7,236.6 518.0,230.5 518.3,242.2 518.6,248.6 518.9,262.9 519.2,275.0 519.5,281.4 519.8,283.7 520.1,288.5 520.4,291.6 520.7,299.6 521.0,299.6 521.3,297.0 521.6,295.2 521.9,293.4 522.2,292.9 522.5,283.7 522.8,282.8 523.1,273.2 523.4,271.3 523.7,267.2 524.0,256.8 524.3,250.2 524.6,245.8 524.9,241.3 525.2,236.6 525.5,226.0 525.8,223.7 526.1,219.9 526.4,215.2 526.7,210.7 527.0,205.7 527.3,212.5 527.6,211.2 527.9,211.6 528.2,212.0 528.5,216.7 528.8,211.3 529.1,218.0 529.4,216.9 529.7,224.4 530.0,225.7 530.3,223.4 530.6,226.6 530.9,224.2 531.2,228.5 531.5,226.9 531.8,229.8 532.1,229.1 532.4,235.0 532.7,234.0 533.0,232.7 533.3,228.3 533.6,240.3 533.9,231.6 534.2,240.1 534.5,239.4 534.8,240.9 535.1,245.2 535.4,248.8 535.7,251.6 536.0,255.1 536.3,256.8 536.6,256.4 536.9,264.6 537.2,262.4 537.5,266.5 537.8,265.0 538.1,265.2 538.4,266.2 538.7,265.2 539.0,270.4 539.3,264.0 539.6,262.1 539.9,259.7 540.2,256.6 540.5,254.8 540.8,249.7 541.1,253.2 541.4,247.6 541.7,240.9 542.0,240.1 542.3,238.2 542.6,240.0 542.9,236.0 543.2,236.3 543.5,231.6 543.8,224.9 544.1,228.2 544.4,226.4 544.7,231.4 545.0,231.1 545.3,230.2 545.6,232.4 545.9,226.2 546.2,231.1 546.5,226.2 546.8,226.2 547.1,225.0 547.4,227.8 547.7,233.4 548.0,228.3 548.3,229.7 548.6,236.6 548.9,226.2 549.2,230.6 549.5,230.5 549.8,233.5 550.1,232.6 550.4,233.9 550.7,233.4 551.0,231.8 551.3,230.4 551.6,237.2 551.9,230.8 552.2,232.9 552.5,227.1 552.8,236.4 553.1,237.1 553.4,233.4 553.7,228.8 554.0,239.5 554.3,227.5 554.6,232.4 554.9,227.7 555.2,228.9 555.5,236.6 555.8,229.9 556.1,229.6 556.4,225.9 556.7,225.4 557.0,228.7 557.3,229.0 557.6,234.4 557.9,223.6 558.2,224.5 558.5,223.9 558.8,225.0 559.1,223.7 559.4,225.0 559.7,226.9 560.0,226.6 560.3,232.7 560.6,226.4 560.9,226.5 561.2,233.1 561.5,234.1 561.8,238.0 562.1,242.4 562.4,241.9 562.7,245.7 563.0,250.2 563.3,254.3 563.6,262.8 563.9,265.2 564.2,270.6 564.5,272.4 564.8,275.6 565.1,277.4 565.4,279.8 565.7,277.2 566.0,278.7 566.3,289.5 566.6,283.0 566.9,286.4 567.2,287.6 567.5,289.3 567.8,287.3 568.1,289.4 568.4,293.7 568.7,289.1 569.0,281.0 569.3,289.4 569.6,286.4 569.9,283.8 570.2,287.8 570.5,285.7 570.8,290.4 571.1,298.4 571.4,294.3 571.7,300.1 572.0,287.3 572.3,293.6 572.6,286.1 572.9,281.8 573.2,295.4 573.5,287.5 573.8,290.7 574.1,294.2 574.4,296.3 574.7,294.6 575.0,288.7 575.3,290.7 575.6,285.7 575.9,293.0 576.2,284.1 576.5,286.0 576.8,284.9 577.1,282.3 577.4,289.3 577.7,294.7 578.0,286.7 578.3,292.2 578.6,293.1 578.9,294.0 579.2,290.7 579.5,290.5 579.8,286.7 580.1,286.6 580.4,293.6 580.7,286.5 581.0,286.2 581.3,286.4 581.6,288.8 581.9,282.3 582.2,287.3 582.5,293.7 582.8,288.1 583.1,294.6 583.4,285.7 583.7,287.2 584.0,285.8 584.3,287.8 584.6,301.0 584.9,288.0 585.2,292.7 585.5,283.8 585.8,294.9 586.1,291.6 586.4,293.2 586.7,285.9 587.0,294.4 587.3,289.0 587.6,292.2 587.9,297.8 588.2,285.7 588.5,290.7 588.8,290.8 589.1,289.3 589.4,286.3 589.7,287.0 590.0,285.5 590.3,292.5 590.6,285.6 590.9,278.6 591.2,292.3 591.5,295.9 591.8,289.8 592.1,291.7 592.4,288.1 592.7,284.9 593.0,278.9 593.3,282.2 593.6,284.6 593.9,283.5 594.2,277.0 594.5,291.5 594.8,289.8 595.1,283.3 595.4,292.0 595.7,292.1 596.0,285.6 596.3,287.0 596.6,285.1 596.9,288.2 597.2,281.7 597.5,286.5 597.8,289.8 598.1,291.6 598.4,284.6 598.7,282.1 599.0,283.9 599.3,283.5 599.6,289.0 599.9,291.8 600.2,286.8 600.5,284.0 600.8,279.3 601.1,283.6 601.4,286.0 601.7,286.4 602.0,281.3 602.3,283.4 602.6,286.8 602.9,280.5 603.2,280.6 603.5,281.7 603.8,278.0 604.1,273.4 604.4,283.1 604.7,278.9 605.0,278.8 605.3,278.9 605.6,286.0 605.9,276.9 606.2,286.0 606.5,286.2 606.8,277.2 607.1,290.6 607.4,282.4 607.7,285.6 608.0,277.9 608.3,281.3 608.6,278.9 608.9,284.6 609.2,277.2 609.5,283.9 609.8,288.0 610.1,284.5 610.4,283.4 610.7,283.4 611.0,286.1 611.3,290.7 611.6,285.1 611.9,287.6 612.2,290.8 612.5,288.3 612.8,295.9 613.1,293.2 613.4,290.6 613.7,290.5 614.0,283.6 614.3,299.2 614.6,290.0 614.9,298.7 615.2,294.3 615.5,300.8 615.8,293.6 616.1,293.2 616.4,293.6 616.7,297.5 617.0,299.7 617.3,302.1 617.6,303.8 617.9,294.5 618.2,301.8 618.5,301.4 618.8,300.3 619.1,304.0 619.4,305.7 619.7,307.3 620.0,305.7 620.3,307.3 620.6,309.5 620.9,306.9 621.2,309.5 621.5,310.8 621.8,310.4 622.1,310.8 622.4,308.1 622.7,312.8 623.0,305.5 623.3,319.2 623.6,316.6 623.9,310.0 624.2,310.5 624.5,312.7 624.8,311.6 625.1,318.8 625.4,316.6 625.7,312.1 626.0,309.2 626.3,318.2 626.6,318.3 626.9,314.6 627.2,314.5 627.5,315.8 627.8,318.5 628.1,318.3 628.4,315.2 628.7,317.8 629.0,319.4 629.3,318.8 629.6,315.7 629.9,318.0 630.2,318.6 630.5,317.4 630.8,321.9 631.1,320.1 631.4,320.5 631.7,316.2 632.0,316.3 632.3,317.7 632.6,318.1 632.9,324.9 633.2,319.4 633.5,322.1 633.8,314.5 634.1,322.6 634.4,320.3 634.7,316.8 635.0,320.8 635.3,320.4 635.6,322.1 635.9,324.0 636.2,323.0 636.5,325.2 636.8,319.1 637.1,319.7 637.4,322.9 637.7,328.4 638.0,328.2 638.3,323.2 638.6,324.5 638.9,322.8 639.2,330.8 639.5,323.8 639.8,325.7 640.1,327.8 640.4,328.3 640.7,324.4 641.0,327.5 641.3,330.6 641.6,335.7 641.9,331.6 642.2,331.7 642.5,340.0 642.8,332.9 643.1,330.9 643.4,341.8 643.7,338.0 644.0,333.4 644.3,339.0 644.6,337.2 644.9,341.7 645.2,340.5 645.5,343.4 645.8,346.2 646.1,337.0 646.4,341.8 646.7,351.8 647.0,346.9 647.3,340.6 647.6,338.9 647.9,345.2 648.2,340.6 648.5,339.3 648.8,348.8 649.1,353.4 649.4,339.7 649.7,340.9 650.0,338.4 650.3,349.0 650.6,346.8 650.9,345.4 651.2,343.9 651.5,346.9 651.8,356.7 652.1,344.7 652.4,345.9 652.7,346.2 653.0,350.2 653.3,348.9 653.6,346.7 653.9,344.8 654.2,347.3 654.5,357.9 654.8,348.1 655.1,343.9 655.4,345.8 655.7,348.3 656.0,344.4 656.3,341.2 656.6,343.7 656.9,340.4 657.2,341.9 657.5,339.3 657.8,336.3 658.1,341.4 658.4,329.8 658.7,332.9 659.0,326.0 659.3,327.3 659.6,326.7 659.9,323.2 660.2,319.6 660.5,317.4 660.8,316.9 661.1,315.4 661.4,315.8 661.7,311.8 662.0,303.5 662.3,305.7 662.6,300.7 662.9,301.9 663.2,299.8 663.5,297.9 663.8,296.0 664.1,296.7 664.4,295.1 664.7,293.0 665.0,294.5 665.3,298.9 665.6,294.0 665.9,296.4 666.2,294.7 666.5,297.6 666.8,304.1 667.1,303.1 667.4,303.0 667.7,303.9 668.0,307.7 668.3,310.3 668.6,308.3 668.9,309.9 669.2,320.2 669.5,313.5 669.8,314.0 670.1,316.6 670.4,311.7 670.7,316.7 671.0,322.8 671.3,324.0 671.6,328.9 671.9,325.2 672.2,328.3 672.5,333.3 672.8,331.3 673.1,337.7 673.4,329.8 673.7,336.4 674.0,341.3 674.3,331.2 674.6,331.6 674.9,334.5 675.2,337.6 675.5,330.7 675.8,333.5 676.1,329.9 676.4,326.3 676.7,326.0 677.0,322.2 677.3,326.3 677.6,317.3 677.9,319.1 678.2,312.9 678.5,319.1 678.8,310.6 679.1,309.8 679.4,307.8 679.7,309.4 680.0,305.9 680.3,311.9 680.6,308.8 680.9,315.7 681.2,312.4 681.5,323.3 681.8,320.9 682.1,325.4 682.4,322.5 682.7,331.1 683.0,327.8 683.3,331.4 683.6,341.2 683.9,337.8 684.2,341.0 684.5,348.4 684.8,347.7 685.1,348.1 685.4,352.8 685.7,355.3 686.0,358.3 686.3,365.1 686.6,359.0 686.9,365.7 687.2,368.0 687.5,371.3 687.8,368.5 688.1,374.1 688.4,376.7 688.7,381.6 689.0,381.7 689.3,383.3 689.6,381.6 689.9,382.8 690.2,394.0 690.5,392.4 690.8,387.9 691.1,397.8 691.4,394.5 691.7,402.5 692.0,395.3 692.3,394.1 692.6,391.5 692.9,398.5 693.2,392.5 693.5,400.9 693.8,390.7 694.1,395.1 694.4,384.7 694.7,390.2 695.0,385.8 695.3,385.2 695.6,388.4 695.9,378.8 696.2,378.0 696.5,371.8 696.8,373.5 697.1,377.8 697.4,375.6 697.7,376.1 698.0,377.7 698.3,376.4 698.6,369.5 698.9,371.2 699.2,369.4 699.5,366.5 699.8,364.2 700.1,368.9 700.4,372.4 700.7,363.4 701.0,367.1 701.3,368.2 701.6,370.2 701.9,362.5 702.2,368.9 702.5,363.5 702.8,360.7 703.1,357.0 703.4,361.8 703.7,366.8 704.0,358.4 704.3,357.1 704.6,359.6 704.9,362.5 705.2,354.9 705.5,355.4 705.8,350.1 706.1,356.9 706.4,361.4 706.7,355.9 707.0,350.0 707.3,350.4 707.6,350.3 707.9,356.2 708.2,352.0 708.5,353.4 708.8,346.7 709.1,351.3 709.4,348.0 709.7,347.5 710.0,346.3 710.3,344.8 710.6,346.3 710.9,342.0 711.2,338.4 711.5,344.4 711.8,343.2 712.1,344.5 712.4,337.1 712.7,339.1 713.0,340.9 713.3,331.3 713.6,343.2 713.9,336.3 714.2,333.8 714.5,333.0 714.8,338.7 715.1,335.0 715.4,338.5 715.7,332.1 716.0,335.4 716.3,331.9 716.6,330.4 716.9,329.4 717.2,340.4 717.5,339.6 717.8,339.2 718.1,343.4 718.4,343.9 718.7,352.3 719.0,342.7 719.3,353.1 719.6,341.7 719.9,351.8 720.2,356.0 720.5,352.4 720.8,351.4 721.1,356.1 721.4,357.0 721.7,355.3 722.0,349.5 722.3,354.6 722.6,351.0 722.9,351.8 723.2,352.6 723.5,351.9 723.8,354.4 724.1,348.2 724.4,347.8 724.7,346.8 725.0,340.1 725.3,347.2 725.6,352.5 725.9,349.3 726.2,346.7 726.5,335.1 726.8,341.3 727.1,339.4 727.4,347.4 727.7,343.7 728.0,351.7 728.3,349.0 728.6,354.8 728.9,340.0 729.2,347.8 729.5,349.2 729.8,350.2 730.1,352.9 730.4,348.8 730.7,353.7 731.0,357.8 731.3,361.4 731.6,359.7 731.9,364.3 732.2,359.6 732.5,359.6 732.8,364.0 733.1,370.5 733.4,366.4 733.7,366.5 734.0,374.6 734.3,370.4 734.6,367.1 734.9,366.1 735.2,361.5 735.5,364.2 735.8,355.4 736.1,358.2 736.4,359.7 736.7,355.5 737.0,356.6 737.3,351.2 737.6,345.1 737.9,346.8 738.2,354.6 738.5,351.2 738.8,339.8 739.1,347.4 739.4,340.4 739.7,341.1 740.0,340.4 740.3,339.0 740.6,335.5 740.9,333.3 741.2,330.6 741.5,331.2 741.8,326.2 742.1,325.6 742.4,324.6 742.7,318.9 743.0,318.3 743.3,313.5 743.6,315.8 743.9,313.1 744.2,307.5 744.5,309.7 744.8,304.7 745.1,303.3 745.4,307.4 745.7,304.2 746.0,304.3 746.3,292.8 746.6,290.9 746.9,291.4 747.2,292.5 747.5,289.2 747.8,287.7 748.1,289.5 748.4,287.1 748.7,281.6 749.0,279.8 749.3,279.5 749.6,277.2 749.9,274.4 750.2,271.1 750.5,267.8 750.8,263.6 751.1,256.5 751.4,253.3 751.7,257.9 752.0,258.7 752.3,262.1 752.6,265.2 752.9,267.4 753.2,272.6 753.5,272.9 753.8,279.3 754.1,276.5 754.4,283.8 754.7,278.0 755.0,281.0 755.3,287.5 755.6,281.1 755.9,280.7 756.2,278.6 756.5,279.8 756.8,284.2 757.1,288.1 757.4,280.1 757.7,280.9 758.0,281.4 758.3,279.7 758.6,282.7 758.9,287.0 759.2,291.3 759.5,283.2 759.8,280.1 760.1,281.5 760.4,281.5 760.7,279.1 761.0,285.0 761.3,281.1 761.6,285.3 761.9,281.9 762.2,283.2 762.5,285.4 762.8,283.9 763.1,283.2 763.4,284.7 763.7,280.9 764.0,280.9 764.3,279.2 764.6,280.5 764.9,283.0 765.2,285.0 765.5,290.5 765.8,290.2 766.1,287.0 766.4,287.0 766.7,291.0 767.0,285.1 767.3,285.3 767.6,287.9 767.9,285.4 768.2,287.3 768.5,286.4 768.8,288.6 769.1,292.6 769.4,295.0 769.7,288.0 770.0,291.4 770.3,294.3 770.6,288.6 770.9,288.5 771.2,292.7 771.5,291.4 771.8,296.3 772.1,295.3 772.4,291.7 772.7,291.4 773.0,297.2 773.3,297.5 773.6,294.2 773.9,292.6 774.2,298.5 774.5,290.7 774.8,293.1 775.1,295.9 775.4,299.0 775.7,299.2 776.0,301.4 776.3,297.6 776.6,297.1 776.9,305.2 777.2,289.1 777.5,294.7 777.8,296.0 778.1,292.1 778.4,295.8 778.7,291.2 779.0,294.4 779.3,288.8 779.6,294.1 779.9,291.7 780.2,293.7 780.5,293.8 780.8,297.1 781.1,297.3 781.4,290.2 781.7,291.8 782.0,297.6 782.3,291.0 782.6,289.4 782.9,287.5 783.2,290.4 783.5,294.4 783.8,289.3 784.1,287.8 784.4,287.6 784.7,285.3 785.0,286.9 785.3,284.6 785.6,283.1 785.9,287.8 786.2,286.8 786.5,290.7 786.8,286.8 787.1,292.0 787.4,284.6 787.7,293.3 788.0,289.8 788.3,293.0 788.6,290.8 788.9,297.1 789.2,289.6 789.5,289.4 789.8,298.1 790.1,297.0 790.4,298.1 790.7,291.1 791.0,297.6 791.3,293.2 791.6,291.8 791.9,295.9 792.2,286.7 792.5,300.9 792.8,294.6 793.1,293.9 793.4,292.7 793.7,295.0 794.0,301.7 794.3,295.3 794.6,294.0 794.9,298.3 795.2,293.8 795.5,297.5 795.8,295.5 796.1,300.4 796.4,298.7 796.7,300.7 797.0,298.0 797.3,297.1 797.6,298.9 797.9,299.3 798.2,295.7 798.5,304.0 798.8,298.5 799.1,303.1 799.4,297.9 799.7,301.0 800.0,294.6 800.3,299.1 800.6,299.3 800.9,295.0 801.2,297.5 801.5,293.3 801.8,294.8 802.1,296.0 802.4,295.7 802.7,305.3 803.0,302.3 803.3,297.4 803.6,297.5 803.9,300.8 804.2,295.0 804.5,296.7 804.8,299.8 805.1,296.7 805.4,297.2 805.7,296.7 806.0,294.7 806.3,297.2 806.6,300.5 806.9,294.3 807.2,296.1 807.5,304.4 807.8,298.6 808.1,295.6 808.4,298.7 808.7,296.5 809.0,295.4 809.3,300.6 809.6,300.8 809.9,297.2 810.2,295.4 810.5,297.3 810.8,305.6 811.1,301.6 811.4,299.1 811.7,297.2 812.0,297.8 812.3,301.3 812.6,293.7 812.9,298.8 813.2,305.2 813.5,299.6 813.8,301.6 814.1,298.7 814.4,302.3 814.7,303.4 815.0,298.7 815.3,296.8 815.6,297.7 815.9,303.8 816.2,306.7 816.5,296.5 816.8,301.7 817.1,295.4 817.4,298.5 817.7,294.9 818.0,300.0 818.3,292.4 818.6,305.2 818.9,295.6 819.2,297.6 819.5,302.0 819.8,301.9 820.1,297.5 820.4,300.6 820.7,293.7 821.0,287.7 821.3,298.5 821.6,296.8 821.9,299.7 822.2,297.3 822.5,292.2 822.8,297.8 823.1,292.8 823.4,292.2 823.7,290.0 824.0,291.8 824.3,295.0 824.6,287.4 824.9,301.6 825.2,295.1 825.5,294.6 825.8,295.4 826.1,300.9 826.4,292.8 826.7,291.3 827.0,292.6 827.3,294.0 827.6,292.3 827.9,295.0 828.2,293.2 828.5,296.0 828.8,291.6 829.1,292.5 829.4,287.6 829.7,288.9 830.0,295.5 830.3,286.1 830.6,286.6 830.9,292.0 831.2,297.2 831.5,295.3 831.8,287.7 832.1,286.4 832.4,283.8 832.7,290.5 833.0,285.4 833.3,289.0 833.6,282.4 833.9,287.3 834.2,290.9 834.5,286.2 834.8,288.9 835.1,281.3 835.4,285.3 835.7,282.4 836.0,286.1 836.3,281.7 836.6,282.6 836.9,286.1 837.2,281.5 837.5,280.9 837.8,286.2 838.1,287.6 838.4,285.7 838.7,292.6 839.0,286.1 839.3,293.8 839.6,291.9 839.9,299.1 840.2,296.9 840.5,301.7 840.8,305.0 841.1,309.4 841.4,312.9 841.7,316.5 842.0,316.2 842.3,317.7 842.6,322.1 842.9,329.2 843.2,327.2 843.5,328.5 843.8,329.0 844.1,335.4 844.4,336.1 844.7,341.5 845.0,334.8 845.3,340.7 845.6,337.2 845.9,338.7 846.2,343.2 846.5,339.5 846.8,336.7 847.1,333.6 847.4,331.1 847.7,332.2 848.0,327.2 848.3,332.0 848.6,326.1 848.9,320.4 849.2,324.3 849.5,321.3 849.8,314.7 850.1,319.8 850.4,315.6 850.7,316.2 851.0,309.4 851.3,314.8 851.6,315.1 851.9,306.9 852.2,306.3 852.5,310.1 852.8,299.3 853.1,301.5 853.4,299.9 853.7,299.7 854.0,301.3 854.3,300.4 854.6,292.5 854.9,299.8 855.2,304.8 855.5,301.5 855.8,300.6 856.1,302.6 856.4,307.8 856.7,302.3 857.0,314.7 857.3,307.8 857.6,307.0 857.9,310.0 858.2,312.4 858.5,311.8 858.8,313.0 859.1,315.6 859.4,317.0 859.7,315.4 860.0,318.0 860.3,320.8 860.6,309.1 860.9,318.4 861.2,312.8 861.5,313.8 861.8,320.1 862.1,314.5 862.4,320.0 862.7,308.4 863.0,313.3 863.3,312.0 863.6,313.7 863.9,316.5 864.2,311.8 864.5,312.6 864.8,311.5 865.1,316.1 865.4,310.3 865.7,313.7 866.0,315.1 866.3,309.8 866.6,310.2 866.9,310.5 867.2,306.5 867.5,308.8 867.8,304.2 868.1,304.5 868.4,303.5 868.7,301.9 869.0,308.0 869.3,304.5 869.6,302.2 869.9,305.6 870.2,302.4 870.5,297.3 870.8,300.0 871.1,292.4 871.4,301.7 871.7,298.6 872.0,298.8 872.3,302.5 872.6,302.9 872.9,306.9 873.2,305.6 873.5,308.6 873.8,309.9 874.1,314.3 874.4,319.5 874.7,320.9 875.0,314.9 875.3,313.5 875.6,308.7 875.9,312.1 876.2,304.5 876.5,307.3 876.8,296.6 877.1,301.2 877.4,298.5 877.7,298.7 878.0,288.4 878.3,292.9 878.6,285.9 878.9,283.3 879.2,295.4 879.5,306.8 879.8,324.7 880.1,328.4 880.4,330.1 880.7,324.8 881.0,326.1 881.3,324.5 881.6,319.7 881.9,326.1 882.2,319.9 882.5,321.8 882.8,318.3 883.1,318.5 883.4,314.9 883.7,320.9 884.0,320.9 884.3,317.7 884.6,312.3 884.9,314.9 885.2,311.8 885.5,314.6 885.8,308.3 886.1,310.2 886.4,304.9 886.7,303.2 887.0,297.4 887.3,301.5 887.6,298.5 887.9,294.8 888.2,289.7 888.5,291.8 888.8,289.7 889.1,284.7 889.4,285.2 889.7,280.5 890.0,279.9 890.3,272.8 890.6,276.2 890.9,270.9 891.2,267.4 891.5,262.8 891.8,259.9 892.1,252.9 892.4,252.8 892.7,253.8 893.0,250.4 893.3,250.2 893.6,250.9 893.9,255.3 894.2,254.2 894.5,251.2 894.8,250.7 895.1,253.7 895.4,252.6 895.7,252.4 896.0,253.7 896.3,251.5 896.6,252.5 896.9,252.8 897.2,253.9 897.5,252.0 897.8,253.3 898.1,253.9 898.4,253.6 898.7,255.2 899.0,254.2 899.3,253.0 899.6,251.7 899.9,255.1 900.2,257.8 900.5,262.6 900.8,264.8 901.1,266.2 901.4,270.1 901.7,273.2 902.0,270.7 902.3,274.7 902.6,274.5 902.9,273.2 903.2,275.0 903.5,279.4 903.8,278.8 904.1,280.8 904.4,281.0 904.7,286.5 905.0,287.1 905.3,290.2 905.6,287.5 905.9,284.1 906.2,293.8 906.5,287.2 906.8,295.5 907.1,291.8 907.4,295.5 907.7,296.1 908.0,297.5 908.3,297.4 908.6,301.7 908.9,300.0 909.2,303.3 909.5,305.2 909.8,304.8 910.1,311.7 910.4,303.9 910.7,312.4 911.0,316.5 911.3,321.0 911.6,312.4 911.9,320.6 912.2,319.4 912.5,317.8 912.8,323.8 913.1,323.3 913.4,327.2 913.7,325.7 914.0,334.5 914.3,321.4 914.6,309.2 914.9,302.6 915.2,301.2 915.5,306.8 915.8,315.5 916.1,323.0 916.4,318.8 916.7,321.7 917.0,322.2 917.3,326.9 917.6,326.3 917.9,321.8 918.2,331.6 918.5,333.5 918.8,332.2 919.1,331.8 919.4,334.9 919.7,329.0 920.0,324.5 920.3,325.2 920.6,330.0 920.9,327.2 921.2,328.1 921.5,317.9 921.8,319.8 922.1,323.7 922.4,313.6 922.7,317.5 923.0,311.8 923.3,314.8 923.6,311.7 923.9,311.6 924.2,316.0 924.5,310.8 924.8,308.1 925.1,304.1 925.4,308.4 925.7,306.4 926.0,301.7 926.3,307.4 926.6,304.3 926.9,305.0 927.2,300.9 927.5,302.5 927.8,306.0 928.1,306.0 928.4,308.0 928.7,311.5 929.0,317.3 929.3,331.1 929.6,328.8 929.9,337.1 930.2,341.0 930.5,345.6 930.8,347.0 931.1,351.8 931.4,343.5 931.7,337.8 932.0,331.4 932.3,322.5 932.6,316.1 932.9,309.6 933.2,303.0 933.5,298.0 933.8,302.6 934.1,305.4 934.4,309.6 934.7,310.8 935.0,314.8 935.3,315.1 935.6,321.8 935.9,320.7 936.2,320.3 936.5,325.4 936.8,333.1 937.1,326.2 937.4,338.8 937.7,329.7 938.0,334.4 938.3,332.3 938.6,338.4 938.9,342.6 939.2,346.9 939.5,338.8 939.8,340.2 940.1,344.9 940.4,345.5 940.7,347.7 941.0,348.4 941.3,354.4 941.6,350.4 941.9,356.0 942.2,350.0 942.5,358.6 942.8,360.1 943.1,356.9 943.4,355.2 943.7,355.8 944.0,358.7 944.3,350.4 944.6,357.2 944.9,356.9 945.2,350.2 945.5,350.5 945.8,353.1 946.1,346.2 946.4,348.8 946.7,345.4 947.0,345.4 947.3,341.5 947.6,344.8 947.9,347.3 948.2,344.9 948.5,336.7 948.8,342.5 949.1,337.7 949.4,340.4 949.7,338.2 950.0,334.1 950.3,344.6 950.6,333.9 950.9,334.4 951.2,332.3 951.5,332.0 951.8,329.7 952.1,328.6 952.4,334.6 952.7,328.1 953.0,326.1 953.3,326.4 953.6,322.6 953.9,325.7 954.2,321.8 954.5,322.1 954.8,325.7 955.1,326.8 955.4,329.9 955.7,317.9 956.0,323.7 956.3,323.9 956.6,320.9 956.9,313.7 957.2,323.2 957.5,321.2 957.8,321.4 958.1,324.5 958.4,315.7 958.7,320.5 959.0,318.6 959.3,318.8 959.6,315.1 959.9,322.1 960.2,318.7 960.5,315.6 960.8,320.7 961.1,317.7 961.4,318.8 961.7,327.9 962.0,324.8 962.3,323.7 962.6,322.6 962.9,329.7 963.2,321.9 963.5,333.2 963.8,323.8 964.1,333.9 964.4,326.4 964.7,338.6 965.0,337.8 965.3,351.0 965.6,342.6 965.9,350.3 966.2,351.2 966.5,354.7 966.8,357.3 967.1,359.6 967.4,363.3 967.7,357.5 968.0,365.6 968.3,348.5 968.6,357.7 968.9,353.8 969.2,355.4 969.5,358.2 969.8,353.9 970.1,350.7 970.4,350.6 970.7,344.6 971.0,355.1 971.3,357.4 971.6,341.3 971.9,344.4 972.2,353.6 972.5,347.5 972.8,350.7 973.1,348.1 973.4,360.5 973.7,350.7 974.0,354.4 974.3,360.4 974.6,370.3 974.9,357.0 975.2,358.0 975.5,353.0 975.8,363.1 976.1,348.2 976.4,355.4 976.7,348.6 977.0,351.5 977.3,362.2 977.6,349.8 977.9,352.1 978.2,347.5 978.5,341.2 978.8,349.4 979.1,342.7 979.4,344.5 979.7,344.5 980.0,349.7 980.3,333.5 980.6,338.6 980.9,339.2 981.2,338.6 981.5,339.0 981.8,348.5 982.1,339.1 982.4,356.8 982.7,346.4 983.0,345.8 983.3,340.5 983.6,341.4 983.9,354.3 984.2,357.1 984.5,358.4 984.8,357.6 985.1,365.3 985.4,369.4 985.7,368.3 986.0,374.0 986.3,373.4 986.6,360.9 986.9,369.6 987.2,360.7 987.5,364.9 987.8,364.5 988.1,363.9 988.4,362.3 988.7,349.3 989.0,353.8 989.3,353.8 989.6,345.3 989.9,352.9 990.2,347.9 990.5,352.1 990.8,342.9 991.1,342.0 991.4,347.6 991.7,352.7 992.0,340.2 992.3,348.7 992.6,344.1 992.9,357.2 993.2,336.8 993.5,349.8 993.8,350.6 994.1,348.5 994.4,357.1 994.7,353.6 995.0,339.3 995.3,340.9 995.6,347.4 995.9,339.9 996.2,344.7 996.5,339.7 996.8,335.4 997.1,332.2 997.4,329.2 997.7,330.6 998.0,332.7 998.3,330.1 998.6,321.8 998.9,325.0 999.2,332.6 999.5,323.2 999.8,322.7 1000.1,318.4 1000.4,321.1 1000.7,326.8 1001.0,328.9 1001.3,316.7 1001.6,318.0 1001.9,317.8 1002.2,312.0 1002.5,309.9 1002.8,316.7 1003.1,308.8 1003.4,310.8 1003.7,304.7 1004.0,304.1"/>
<polyline fill="none" stroke="#000" stroke-width="0.60" stroke-linejoin="bevel" points="215.0,382.6 215.4,375.5 215.7,380.7 216.1,378.0 216.5,388.3 216.9,384.4 217.2,392.6 217.6,382.3 218.0,384.6 218.3,392.5 218.7,388.2 219.1,392.5 219.4,380.0 219.8,385.0 220.2,381.3 220.6,382.3 220.9,381.1 221.3,385.7 221.7,385.1 222.0,389.8 222.4,378.7 222.8,382.2 223.1,384.4 223.5,391.1 223.9,384.7 224.3,382.0 224.6,384.8 225.0,385.9 225.4,392.4 225.7,390.4 226.1,393.0 226.5,385.3 226.8,375.4 227.2,386.9 227.6,388.3 228.0,382.4 228.3,383.0 228.7,384.2 229.1,383.7 229.4,389.8 229.8,376.3 230.2,381.2 230.5,391.0 230.9,385.4 231.3,393.7 231.7,381.9 232.0,386.2 232.4,385.7 232.8,383.4 233.1,390.1 233.5,385.9 233.9,381.0 234.2,389.5 234.6,383.8 235.0,386.5 235.4,390.5 235.7,384.4 236.1,392.1 236.5,387.1 236.8,386.5 237.2,386.8 237.6,389.7 237.9,383.5 238.3,383.4 238.7,390.3 239.1,382.1 239.4,384.6 239.8,384.3 240.2,385.0 240.5,381.5 240.9,389.5 241.3,385.9 241.6,393.3 242.0,383.0 242.4,388.9 242.8,394.7 243.1,385.3 243.5,389.7 243.9,387.7 244.2,382.7 244.6,379.5 245.0,381.9 245.3,393.7 245.7,379.7 246.1,385.0 246.5,386.0 246.8,385.9 247.2,389.1 247.6,392.0 247.9,390.0 248.3,386.3 248.7,382.1 249.0,388.5 249.4,388.4 249.8,387.1 250.2,381.3 250.5,393.1 250.9,387.2 251.3,385.5 251.6,392.1 252.0,386.5 252.4,388.1 252.7,386.8 253.1,391.3 253.5,398.2 253.9,388.2 254.2,391.0 254.6,381.4 255.0,388.9 255.3,389.4 255.7,396.6 256.1,390.4 256.4,384.8 256.8,385.7 257.2,387.4 257.6,386.2 257.9,385.3 258.3,382.0 258.7,382.9 259.0,383.8 259.4,381.0 259.8,382.3 260.1,377.8 260.5,374.3 260.9,371.8 261.3,379.1 261.6,376.6 262.0,368.1 262.4,367.8 262.7,367.5 263.1,366.8 263.5,369.9 263.8,373.7 264.2,374.4 264.6,370.5 265.0,372.4 265.3,373.0 265.7,367.2 266.1,371.3 266.4,371.1 266.8,367.7 267.2,368.0 267.5,369.6 267.9,370.1 268.3,369.3 268.7,370.0 269.0,364.3 269.4,368.8 269.8,381.3 270.1,371.8 270.5,371.4 270.9,375.7 271.2,373.6 271.6,376.9 272.0,372.3 272.4,383.4 272.7,368.9 273.1,376.0 273.5,377.7 273.8,377.2 274.2,377.5 274.6,377.1 274.9,379.7 275.3,381.9 275.7,387.8 276.1,386.6 276.4,382.0 276.8,382.7 277.2,369.0 277.5,374.7 277.9,381.1 278.3,379.2 278.6,379.4 279.0,379.8 279.4,374.7 279.8,373.3 280.1,374.3 280.5,371.3 280.9,369.6 281.2,374.3 281.6,369.4 282.0,372.9 282.3,373.6 282.7,371.3 283.1,373.0 283.5,375.1 283.8,367.0 284.2,375.9 284.6,368.9 284.9,366.3 285.3,368.8 285.7,367.1 286.0,362.9 286.4,362.9 286.8,370.8 287.2,364.7 287.5,376.9 287.9,359.5 288.3,367.1 288.6,361.3 289.0,369.3 289.4,358.7 289.7,361.0 290.1,358.1 290.5,364.3 290.9,361.0 291.2,358.7 291.6,364.6 292.0,359.5 292.3,358.4 292.7,366.1 293.1,357.9 293.4,368.5 293.8,360.1 294.2,358.7 294.6,359.0 294.9,364.9 295.3,360.9 295.7,353.5 296.0,359.4 296.4,358.3 296.8,354.8 297.1,348.8 297.5,354.3 297.9,350.7 298.3,355.9 298.6,355.0 299.0,355.2 299.4,363.4 299.7,354.5 300.1,358.8 300.5,356.8 300.8,356.7 301.2,363.9 301.6,365.1 302.0,360.2 302.3,355.1 302.7,353.3 303.1,358.0 303.4,354.0 303.8,357.8 304.2,359.1 304.5,355.1 304.9,353.0 305.3,359.5 305.7,352.4 306.0,353.0 306.4,348.4 306.8,354.9 307.1,359.3 307.5,350.1 307.9,353.1 308.2,352.4 308.6,350.0 309.0,353.8 309.4,353.7 309.7,353.8 310.1,356.2 310.5,358.6 310.8,354.0 311.2,360.4 311.6,355.0 311.9,355.7 312.3,352.7 312.7,354.5 313.1,352.8 313.4,354.2 313.8,352.7 314.2,357.3 314.5,357.6 314.9,354.8 315.3,356.3 315.6,349.7 316.0,355.2 316.4,355.3 316.8,356.3 317.1,352.9 317.5,355.1 317.9,357.2 318.2,355.9 318.6,352.6 319.0,358.9 319.3,359.5 319.7,360.4 320.1,356.3 320.5,356.9 320.8,360.6 321.2,356.2 321.6,356.4 321.9,351.5 322.3,355.8 322.7,358.0 323.0,362.6 323.4,359.9 323.8,363.7 324.2,362.2 324.5,361.7 324.9,363.8 325.3,365.1 325.6,372.7 326.0,367.8 326.4,370.3 326.7,369.7 327.1,373.7 327.5,375.0 327.9,377.7 328.2,376.7 328.6,370.7 329.0,369.2 329.3,365.1 329.7,364.5 330.1,359.5 330.4,361.3 330.8,362.8 331.2,356.9 331.6,355.7 331.9,357.9 332.3,354.6 332.7,348.6 333.0,346.1 333.4,347.0 333.8,347.2 334.1,351.2 334.5,348.1 334.9,349.8 335.3,353.9 335.6,346.1 336.0,348.7 336.4,356.3 336.7,351.7 337.1,356.0 337.5,349.9 337.8,352.7 338.2,352.5 338.6,353.5 339.0,357.4 339.3,348.4 339.7,351.6 340.1,355.4 340.4,354.8 340.8,352.4 341.2,353.6 341.5,346.7 341.9,350.9 342.3,354.7 342.7,349.1 343.0,350.9 343.4,357.6 343.8,351.7 344.1,349.4 344.5,353.8 344.9,353.3 345.2,357.1 345.6,351.3 346.0,348.7 346.4,355.0 346.7,349.0 347.1,348.3 347.5,352.0 347.8,345.7 348.2,349.2 348.6,347.4 348.9,355.4 349.3,350.4 349.7,353.1 350.1,352.3 350.4,349.7 350.8,346.9 351.2,353.6 351.5,345.1 351.9,352.3 352.3,353.0 352.6,351.9 353.0,353.4 353.4,346.1 353.8,346.4 354.1,346.8 354.5,352.9 354.9,349.7 355.2,347.3 355.6,347.2 356.0,352.6 356.3,345.6 356.7,349.9 357.1,347.1 357.5,351.5 357.8,349.4 358.2,345.1 358.6,344.5 358.9,344.4 359.3,343.6 359.7,349.7 360.0,343.9 360.4,349.2 360.8,345.7 361.2,345.0 361.5,353.3 361.9,350.9 362.3,342.3 362.6,345.4 363.0,342.2 363.4,343.6 363.7,339.2 364.1,342.4 364.5,344.1 364.9,335.4 365.2,338.5 365.6,339.7 366.0,343.2 366.3,345.1 366.7,334.9 367.1,338.3 367.4,336.2 367.8,339.3 368.2,336.1 368.6,337.2 368.9,337.1 369.3,332.4 369.7,337.7 370.0,336.7 370.4,334.0 370.8,342.5 371.1,338.4 371.5,335.2 371.9,340.4 372.3,333.0 372.6,332.8 373.0,334.4 373.4,337.1 373.7,337.1 374.1,342.6 374.5,340.9 374.8,341.7 375.2,337.1 375.6,338.7 376.0,336.7 376.3,343.8 376.7,345.3 377.1,344.7 377.4,340.0 377.8,341.3 378.2,339.7 378.5,336.2 378.9,341.6 379.3,348.0 379.7,345.2 380.0,343.4 380.4,342.4 380.8,348.1 381.1,340.0 381.5,337.0 381.9,340.4 382.2,336.6 382.6,340.5 383.0,334.7 383.4,334.7 383.7,332.2 384.1,331.6 384.5,332.3 384.8,329.0 385.2,331.8 385.6,331.1 385.9,325.3 386.3,327.9 386.7,327.8 387.1,324.7 387.4,326.1 387.8,325.7 388.2,323.9 388.5,321.1 388.9,320.0 389.3,322.1 389.6,315.4 390.0,318.1 390.4,315.9 390.8,313.1 391.1,312.3 391.5,309.7 391.9,308.5 392.2,308.1 392.6,306.8 393.0,304.6 393.3,303.1 393.7,305.8 394.1,307.6 394.5,310.8 394.8,313.1 395.2,316.1 395.6,319.2 395.9,324.5 396.3,323.5 396.7,325.3 397.0,329.5 397.4,334.2 397.8,330.7 398.2,331.1 398.5,332.6 398.9,333.0 399.3,333.7 399.6,331.3 400.0,336.1 400.4,340.5 400.7,335.4 401.1,334.9 401.5,340.3 401.9,339.3 402.2,339.0 402.6,339.9 403.0,340.5 403.3,346.4 403.7,340.4 404.1,344.4 404.4,338.6 404.8,343.1 405.2,340.3 405.6,340.4 405.9,341.9 406.3,341.0 406.7,345.4 407.0,339.7 407.4,343.2 407.8,341.3 408.1,339.6 408.5,337.9 408.9,335.3 409.3,334.6 409.6,334.8 410.0,338.8 410.4,343.0 410.7,333.0 411.1,335.5 411.5,332.7 411.8,333.8 412.2,333.0 412.6,337.6 413.0,336.9 413.3,333.8 413.7,334.5 414.1,336.7 414.4,334.6 414.8,337.8 415.2,338.3 415.5,338.8 415.9,337.1 416.3,332.6 416.7,334.9 417.0,337.9 417.4,340.4 417.8,342.1 418.1,336.9 418.5,337.1 418.9,338.8 419.2,339.5 419.6,336.8 420.0,336.0 420.4,337.5 420.7,337.6 421.1,344.2 421.5,341.5 421.8,339.7 422.2,339.8 422.6,346.9 422.9,343.6 423.3,343.7 423.7,344.1 424.1,353.9 424.4,349.8 424.8,356.5 425.2,354.6 425.5,356.7 425.9,355.2 426.3,357.6 426.6,352.6 427.0,351.9 427.4,363.0 427.8,357.8 428.1,358.5 428.5,353.6 428.9,355.6 429.2,359.3 429.6,361.3 430.0,355.0 430.3,355.1 430.7,356.2 431.1,355.5 431.5,360.1 431.8,358.1 432.2,355.4 432.6,364.9 432.9,358.5 433.3,366.6 433.7,358.9 434.0,360.3 434.4,364.9 434.8,363.6 435.2,360.0 435.5,367.7 435.9,362.6 436.3,365.3 436.6,361.8 437.0,362.0 437.4,364.5 437.7,362.3 438.1,365.4 438.5,366.3 438.9,362.0 439.2,363.9 439.6,365.8 440.0,365.4 440.3,362.3 440.7,363.0 441.1,368.3 441.4,364.3 441.8,363.0 442.2,363.0 442.6,371.0 442.9,364.9 443.3,367.8 443.7,364.2 444.0,370.5 444.4,371.6 444.8,369.7 445.1,370.8 445.5,364.5 445.9,366.1 446.3,365.9 446.6,371.9 447.0,367.6 447.4,369.6 447.7,365.9 448.1,370.8 448.5,362.9 448.8,363.7 449.2,363.2 449.6,366.3 450.0,365.1 450.3,363.1 450.7,363.0 451.1,363.3 451.4,363.7 451.8,366.1 452.2,368.0 452.5,372.8 452.9,372.2 453.3,376.5 453.7,378.9 454.0,381.6 454.4,384.4 454.8,392.1 455.1,396.7 455.5,402.6 455.9,410.5 456.2,414.4 456.6,421.6 457.0,423.8 457.4,427.7 457.7,430.1 458.1,438.8 458.5,441.2 458.8,440.4 459.2,441.6 459.6,447.2 459.9,451.3 460.3,458.0 460.7,460.3 461.1,456.2 461.4,457.5 461.8,453.2 462.2,448.6 462.5,448.3 462.9,444.9 463.3,443.7 463.6,447.2 464.0,446.9 464.4,449.4 464.8,446.7 465.1,439.7 465.5,432.2 465.9,427.1 466.2,419.5 466.6,413.6 467.0,409.0 467.3,403.5 467.7,398.7 468.1,393.2 468.5,389.7 468.8,384.7 469.2,378.8 469.6,375.9 469.9,372.4 470.3,365.7 470.7,360.6 471.0,363.0 471.4,366.6 471.8,368.7 472.2,373.6 472.5,377.5 472.9,380.6 473.3,383.0 473.6,386.9 474.0,385.3 474.4,390.0 474.7,390.4 475.1,392.0 475.5,393.4 475.9,394.9 476.2,397.4 476.6,400.4 477.0,400.7 477.3,401.2 477.7,402.1 478.1,407.5 478.4,405.6 478.8,406.0 479.2,410.2 479.6,408.6 479.9,405.2 480.3,403.1 480.7,401.5 481.0,398.5 481.4,392.9 481.8,385.9 482.1,379.5 482.5,373.3 482.9,366.6 483.3,359.8 483.6,355.6 484.0,351.8 484.4,345.7 484.7,340.8 485.1,332.7 485.5,325.3 485.8,316.7 486.2,308.3 486.6,296.4 487.0,283.9 487.3,271.1 487.7,260.8 488.1,250.0 488.4,261.1 488.8,272.2 489.2,290.6 489.5,308.0 489.9,327.3 490.3,330.6 490.7,326.6 491.0,323.4 491.4,326.2 491.8,321.7 492.1,319.7 492.5,318.8 492.9,322.8 493.2,317.4 493.6,318.4 494.0,314.8 494.4,312.6 494.7,306.1 495.1,302.6 495.5,297.3 495.8,293.6 496.2,289.1 496.6,282.0 496.9,276.7 497.3,274.2 497.7,267.1 498.1,263.1 498.4,255.3 498.8,253.3 499.2,252.4 499.5,257.4 499.9,263.7 500.3,265.3 500.6,271.3 501.0,274.4 501.4,279.5 501.8,280.2 502.1,287.5 502.5,288.6 502.9,292.7 503.2,294.3 503.6,293.1 504.0,296.1 504.3,294.5 504.7,292.8 505.1,289.4 505.5,291.9 505.8,291.8 506.2,287.0 506.6,285.8 506.9,283.8 507.3,278.9 507.7,280.3 508.0,274.9 508.4,269.5 508.8,260.9 509.2,253.6 509.5,247.4 509.9,240.1 510.3,238.0 510.6,233.0 511.0,230.3 511.4,225.8 511.7,222.0 512.1,216.1 512.5,214.4 512.9,210.4 513.2,211.9 513.6,212.3 514.0,216.3 514.3,218.1 514.7,219.2 515.1,220.8 515.4,223.1 515.8,222.9 516.2,229.9 516.6,226.4 516.9,226.4 517.3,228.1 517.7,233.1 518.0,235.0 518.4,243.4 518.8,258.3 519.1,269.2 519.5,281.5 519.9,288.5 520.3,291.3 520.6,294.8 521.0,301.4 521.4,295.7 521.7,292.1 522.1,289.7 522.5,285.6 522.8,281.5 523.2,273.5 523.6,269.7 524.0,259.2 524.3,250.4 524.7,242.7 525.1,233.5 525.4,231.9 525.8,223.0 526.2,219.5 526.5,214.7 526.9,208.3 527.3,208.7 527.7,211.0 528.0,213.9 528.4,213.0 528.8,216.5 529.1,219.0 529.5,217.6 529.9,224.5 530.2,224.2 530.6,230.5 531.0,228.8 531.4,226.5 531.7,231.3 532.1,228.9 532.5,234.9 532.8,234.6 533.2,235.8 533.6,236.7 533.9,239.0 534.3,246.5 534.7,239.8 535.1,249.9 535.4,248.4 535.8,251.5 536.2,253.3 536.5,259.0 536.9,260.6 537.3,261.3 537.6,264.8 538.0,266.9 538.4,266.7 538.8,266.9 539.1,267.6 539.5,262.0 539.9,258.7 540.2,256.6 540.6,255.7 541.0,252.4 541.3,246.5 541.7,241.3 542.1,240.7 542.5,238.5 542.8,234.2 543.2,233.7 543.6,230.9 543.9,223.3 544.3,226.1 544.7,226.4 545.0,228.0 545.4,226.2 545.8,226.7 546.2,228.6 546.5,230.9 546.9,230.6 547.3,227.5 547.6,228.6 548.0,231.7 548.4,233.5 548.7,231.8 549.1,228.6 549.5,230.3 549.9,231.6 550.2,232.4 550.6,236.0 551.0,233.5 551.3,227.9 551.7,232.5 552.1,228.1 552.4,229.6 552.8,230.7 553.2,231.2 553.6,230.7 553.9,227.5 554.3,227.0 554.7,232.1 555.0,232.9 555.4,229.3 555.8,229.2 556.1,230.3 556.5,229.6 556.9,229.6 557.3,227.7 557.6,228.4 558.0,225.2 558.4,233.0 558.7,225.3 559.1,226.4 559.5,230.8 559.8,230.6 560.2,228.7 560.6,229.7 561.0,228.6 561.3,238.6 561.7,234.3 562.1,241.0 562.4,244.5 562.8,249.5 563.2,251.9 563.5,256.5 563.9,261.2 564.3,267.9 564.7,271.8 565.0,275.7 565.4,281.4 565.8,278.2 566.1,278.7 566.5,284.6 566.9,283.8 567.2,284.6 567.6,286.1 568.0,287.7 568.4,286.6 568.7,286.7 569.1,290.0 569.5,285.5 569.8,284.9 570.2,289.0 570.6,286.9 570.9,285.9 571.3,290.4 571.7,296.0 572.1,292.3 572.4,289.7 572.8,286.6 573.2,292.4 573.5,285.3 573.9,290.5 574.3,291.9 574.6,290.4 575.0,289.2 575.4,286.4 575.8,290.2 576.1,291.6 576.5,288.9 576.9,286.4 577.2,287.8 577.6,291.5 578.0,294.7 578.3,291.4 578.7,286.0 579.1,290.5 579.5,290.3 579.8,288.8 580.2,296.0 580.6,300.7 580.9,291.5 581.3,289.2 581.7,284.9 582.0,290.5 582.4,287.9 582.8,291.2 583.2,285.9 583.5,292.4 583.9,288.3 584.3,287.4 584.6,283.8 585.0,288.8 585.4,290.8 585.7,289.8 586.1,292.7 586.5,290.2 586.9,287.5 587.2,289.6 587.6,289.6 588.0,286.5 588.3,288.6 588.7,283.0 589.1,290.6 589.4,285.6 589.8,283.2 590.2,290.7 590.6,293.3 590.9,291.3 591.3,285.8 591.7,286.7 592.0,291.8 592.4,283.9 592.8,284.5 593.1,283.3 593.5,290.7 593.9,287.9 594.3,287.2 594.6,285.4 595.0,284.4 595.4,289.2 595.7,285.3 596.1,286.5 596.5,290.4 596.8,287.1 597.2,284.8 597.6,286.4 598.0,287.9 598.3,288.5 598.7,285.7 599.1,281.9 599.4,281.9 599.8,284.7 600.2,287.6 600.5,281.8 600.9,285.2 601.3,284.4 601.7,282.8 602.0,280.7 602.4,284.9 602.8,278.5 603.1,279.8 603.5,278.7 603.9,283.5 604.2,280.5 604.6,281.4 605.0,281.5 605.4,278.9 605.7,280.2 606.1,283.7 606.5,282.3 606.8,276.5 607.2,284.0 607.6,283.0 607.9,278.9 608.3,287.4 608.7,287.8 609.1,286.0 609.4,289.4 609.8,282.8 610.2,285.0 610.5,282.4 610.9,286.9 611.3,288.1 611.6,292.6 612.0,286.5 612.4,290.9 612.8,293.4 613.1,291.0 613.5,288.3 613.9,293.0 614.2,295.2 614.6,295.4 615.0,296.1 615.3,297.0 615.7,299.5 616.1,295.8 616.5,298.4 616.8,298.4 617.2,297.7 617.6,300.3 617.9,298.6 618.3,300.8 618.7,302.7 619.0,301.8 619.4,308.0 619.8,311.0 620.2,305.9 620.5,305.6 620.9,307.4 621.3,309.5 621.6,311.2 622.0,309.5 622.4,311.6 622.7,310.0 623.1,313.3 623.5,312.7 623.9,310.0 624.2,314.6 624.6,318.5 625.0,312.7 625.3,310.7 625.7,317.6 626.1,320.4 626.4,315.4 626.8,311.6 627.2,311.4 627.6,314.1 627.9,317.1 628.3,315.4 628.7,316.5 629.0,314.1 629.4,321.0 629.8,316.5 630.1,319.3 630.5,314.2 630.9,316.7 631.3,320.4 631.6,320.6 632.0,323.6 632.4,318.8 632.7,326.4 633.1,321.1 633.5,320.1 633.8,319.7 634.2,320.2 634.6,321.8 635.0,319.1 635.3,322.3 635.7,315.5 636.1,321.4 636.4,323.9 636.8,324.4 637.2,323.4 637.5,320.0 637.9,324.1 638.3,324.4 638.7,325.8 639.0,328.5 639.4,325.2 639.8,330.1 640.1,330.2 640.5,332.6 640.9,330.2 641.2,331.7 641.6,329.0 642.0,335.4 642.4,331.7 642.7,333.6 643.1,337.1 643.5,335.1 643.8,339.1 644.2,338.7 644.6,335.0 644.9,334.8 645.3,337.7 645.7,340.3 646.1,339.6 646.4,339.9 646.8,337.2 647.2,339.6 647.5,340.2 647.9,341.3 648.3,345.5 648.6,341.3 649.0,342.3 649.4,346.9 649.8,342.2 650.1,349.7 650.5,342.6 650.9,344.5 651.2,344.2 651.6,344.8 652.0,348.8 652.3,345.0 652.7,344.0 653.1,353.4 653.5,349.1 653.8,345.0 654.2,349.0 654.6,352.1 654.9,347.1 655.3,352.6 655.7,352.0 656.0,346.4 656.4,343.9 656.8,337.5 657.2,340.1 657.5,341.6 657.9,336.8 658.3,330.6 658.6,331.9 659.0,327.2 659.4,324.6 659.7,323.0 660.1,321.3 660.5,322.5 660.9,315.6 661.2,312.5 661.6,311.0 662.0,309.0 662.3,306.5 662.7,301.0 663.1,299.6 663.4,297.5 663.8,298.6 664.2,294.5 664.6,295.4 664.9,291.7 665.3,293.5 665.7,294.3 666.0,295.8 666.4,299.1 666.8,306.0 667.1,302.6 667.5,305.7 667.9,304.7 668.3,312.7 668.6,311.9 669.0,314.1 669.4,313.9 669.7,318.5 670.1,316.7 670.5,319.5 670.8,327.6 671.2,324.5 671.6,322.8 672.0,330.6 672.3,329.3 672.7,329.4 673.1,328.4 673.4,332.8 673.8,328.7 674.2,331.0 674.5,333.2 674.9,339.0 675.3,333.2 675.7,332.4 676.0,328.6 676.4,330.3 676.8,322.5 677.1,325.3 677.5,317.1 677.9,321.4 678.2,316.2 678.6,314.0 679.0,311.9 679.4,313.1 679.7,308.2 680.1,310.0 680.5,309.3 680.8,311.4 681.2,316.0 681.6,318.6 681.9,325.1 682.3,323.4 682.7,327.8 683.1,329.1 683.4,334.5 683.8,337.3 684.2,341.0 684.5,344.4 684.9,352.7 685.3,353.9 685.6,354.4 686.0,361.7 686.4,362.5 686.8,368.1 687.1,367.4 687.5,371.2 687.9,374.2 688.2,374.9 688.6,377.6 689.0,380.2 689.3,383.0 689.7,385.1 690.1,386.6 690.5,389.0 690.8,391.5 691.2,392.1 691.6,397.6 691.9,394.9 692.3,400.4 692.7,393.3 693.0,397.6 693.4,393.3 693.8,391.7 694.2,388.9 694.5,388.1 694.9,386.7 695.3,385.0 695.6,386.8 696.0,380.0 696.4,378.9 696.7,378.1 697.1,373.2 697.5,373.0 697.9,371.2 698.2,370.5 698.6,373.4 699.0,367.7 699.3,368.2 699.7,369.1 700.1,367.9 700.4,369.8 700.8,362.5 701.2,365.3 701.6,362.1 701.9,365.4 702.3,360.1 702.7,361.8 703.0,363.4 703.4,365.0 703.8,359.7 704.1,361.2 704.5,356.7 704.9,358.9 705.3,355.3 705.6,357.7 706.0,356.8 706.4,358.0 706.7,351.4 707.1,351.4 707.5,351.3 707.8,351.6 708.2,348.8 708.6,347.4 709.0,351.6 709.3,346.9 709.7,349.7 710.1,348.1 710.4,343.9 710.8,342.7 711.2,341.7 711.5,341.1 711.9,340.6 712.3,337.4 712.7,337.4 713.0,340.6 713.4,340.5 713.8,334.8 714.1,332.7 714.5,336.3 714.9,335.8 715.2,334.3 715.6,335.2 716.0,331.5 716.4,334.1 716.7,335.1 717.1,341.6 717.5,337.2 717.8,344.4 718.2,341.6 718.6,343.3 718.9,344.7 719.3,349.1 719.7,348.7 720.1,355.5 720.4,351.5 720.8,353.0 721.2,356.1 721.5,353.6 721.9,354.9 722.3,361.3 722.6,354.1 723.0,348.1 723.4,353.5 723.8,348.6 724.1,348.0 724.5,348.5 724.9,345.5 725.2,341.9 725.6,347.5 726.0,343.6 726.3,347.9 726.7,342.4 727.1,336.5 727.5,348.7 727.8,347.0 728.2,346.9 728.6,345.0 728.9,347.5 729.3,355.7 729.7,346.1 730.0,354.1 730.4,354.8 730.8,351.7 731.2,354.7 731.5,362.7 731.9,357.5 732.3,355.3 732.6,364.3 733.0,368.8 733.4,369.1 733.7,372.3 734.1,369.2 734.5,372.0 734.9,364.6 735.2,364.7 735.6,361.7 736.0,358.3 736.3,353.9 736.7,350.2 737.1,348.1 737.4,349.5 737.8,345.6 738.2,347.4 738.6,346.4 738.9,341.1 739.3,343.1 739.7,339.0 740.0,335.6 740.4,338.1 740.8,329.5 741.1,332.3 741.5,330.4 741.9,324.6 742.3,319.6 742.6,320.7 743.0,320.5 743.4,315.5 743.7,312.6 744.1,313.2 744.5,308.8 744.8,305.8 745.2,303.2 745.6,300.1 746.0,298.3 746.3,295.9 746.7,295.3 747.1,293.2 747.4,290.9 747.8,290.9 748.2,284.2 748.5,284.8 748.9,283.7 749.3,278.4 749.7,281.0 750.0,278.8 750.4,271.1 750.8,263.1 751.1,261.3 751.5,255.6 751.9,255.9 752.2,262.2 752.6,264.2 753.0,270.2 753.4,273.4 753.7,277.1 754.1,278.7 754.5,280.8 754.8,283.1 755.2,283.9 755.6,281.8 755.9,284.9 756.3,287.5 756.7,280.6 757.1,285.4 757.4,279.5 757.8,284.3 758.2,281.8 758.5,281.6 758.9,282.8 759.3,282.7 759.6,283.1 760.0,280.7 760.4,283.1 760.8,283.0 761.1,285.2 761.5,285.3 761.9,281.0 762.2,288.1 762.6,282.4 763.0,286.9 763.3,280.2 763.7,280.9 764.1,282.6 764.5,284.2 764.8,282.4 765.2,287.1 765.6,283.0 765.9,284.3 766.3,285.3 766.7,283.8 767.0,288.3 767.4,286.1 767.8,291.2 768.2,290.6 768.5,290.7 768.9,290.1 769.3,290.4 769.6,288.1 770.0,294.3 770.4,292.4 770.7,295.1 771.1,291.9 771.5,289.9 771.9,289.8 772.2,296.4 772.6,293.8 773.0,298.1 773.3,293.5 773.7,297.0 774.1,297.6 774.4,298.8 774.8,299.5 775.2,300.9 775.6,295.5 775.9,298.2 776.3,295.7 776.7,295.0 777.0,296.3 777.4,293.9 777.8,293.4 778.1,292.8 778.5,291.6 778.9,291.3 779.3,294.0 779.6,296.4 780.0,292.0 780.4,295.1 780.7,293.8 781.1,291.3 781.5,296.3 781.8,288.6 782.2,290.2 782.6,287.9 783.0,287.3 783.3,289.9 783.7,284.8 784.1,287.2 784.4,289.3 784.8,286.5 785.2,284.8 785.5,283.7 785.9,285.7 786.3,288.3 786.7,283.6 787.0,289.6 787.4,289.1 787.8,289.0 788.1,289.8 788.5,288.2 788.9,292.0 789.2,292.2 789.6,294.2 790.0,294.1 790.4,292.0 790.7,295.9 791.1,290.4 791.5,293.8 791.8,297.0 792.2,295.0 792.6,296.4 792.9,293.8 793.3,296.2 793.7,296.5 794.1,297.1 794.4,296.3 794.8,296.4 795.2,295.7 795.5,295.8 795.9,297.4 796.3,299.7 796.6,294.7 797.0,299.4 797.4,298.6 797.8,301.3 798.1,298.5 798.5,298.9 798.9,299.5 799.2,295.7 799.6,296.8 800.0,298.5 800.3,293.8 800.7,297.2 801.1,301.8 801.5,298.8 801.8,297.8 802.2,300.3 802.6,295.6 802.9,296.2 803.3,298.2 803.7,301.1 804.0,297.2 804.4,297.0 804.8,296.4 805.2,294.7 805.5,301.1 805.9,301.5 806.3,297.7 806.6,295.8 807.0,298.2 807.4,295.4 807.7,295.4 808.1,300.1 808.5,296.2 808.9,297.2 809.2,298.1 809.6,301.4 810.0,299.8 810.3,301.8 810.7,300.4 811.1,301.4 811.4,300.7 811.8,301.1 812.2,298.5 812.6,297.2 812.9,298.6 813.3,298.9 813.7,296.7 814.0,297.9 814.4,298.2 814.8,297.7 815.1,296.8 815.5,298.2 815.9,299.3 816.3,296.1 816.6,300.4 817.0,299.4 817.4,299.7 817.7,297.2 818.1,295.9 818.5,296.0 818.8,301.7 819.2,295.8 819.6,296.1 820.0,297.1 820.3,296.3 820.7,294.3 821.1,292.6 821.4,297.1 821.8,296.1 822.2,295.2 822.5,294.7 822.9,294.7 823.3,297.7 823.7,293.6 824.0,291.4 824.4,295.3 824.8,297.5 825.1,293.6 825.5,293.8 825.9,299.2 826.2,298.9 826.6,294.7 827.0,292.4 827.4,290.3 827.7,293.0 828.1,292.4 828.5,292.6 828.8,289.0 829.2,292.0 829.6,295.7 829.9,293.8 830.3,294.0 830.7,290.1 831.1,286.8 831.4,295.2 831.8,293.3 832.2,293.8 832.5,290.8 832.9,285.2 833.3,287.5 833.6,287.0 834.0,289.4 834.4,290.2 834.8,284.9 835.1,283.5 835.5,288.2 835.9,286.5 836.2,283.0 836.6,284.0 837.0,282.3 837.3,281.8 837.7,284.4 838.1,285.3 838.5,285.4 838.8,289.9 839.2,293.9 839.6,296.4 839.9,298.2 840.3,303.6 840.7,304.6 841.0,307.3 841.4,310.8 841.8,314.2 842.2,322.4 842.5,320.4 842.9,323.9 843.3,327.0 843.6,330.0 844.0,328.2 844.4,333.9 844.7,336.0 845.1,339.9 845.5,337.7 845.9,338.0 846.2,344.9 846.6,338.3 847.0,335.6 847.3,333.4 847.7,332.4 848.1,328.1 848.4,325.6 848.8,325.6 849.2,322.7 849.6,319.0 849.9,315.2 850.3,316.0 850.7,310.8 851.0,314.3 851.4,309.2 851.8,308.0 852.1,305.7 852.5,306.2 852.9,304.8 853.3,304.1 853.6,298.0 854.0,299.1 854.4,298.9 854.7,303.1 855.1,299.5 855.5,296.9 855.8,299.0 856.2,307.1 856.6,309.4 857.0,307.8 857.3,307.6 857.7,308.5 858.1,313.1 858.4,313.0 858.8,314.0 859.2,314.7 859.5,313.2 859.9,317.0 860.3,318.6 860.7,316.1 861.0,319.7 861.4,313.7 861.8,315.3 862.1,312.9 862.5,320.1 862.9,315.2 863.2,316.5 863.6,312.5 864.0,317.6 864.4,313.9 864.7,312.6 865.1,312.0 865.5,310.2 865.8,309.5 866.2,312.6 866.6,310.8 866.9,310.9 867.3,308.9 867.7,309.7 868.1,306.6 868.4,309.3 868.8,302.2 869.2,305.9 869.5,301.6 869.9,296.2 870.3,297.7 870.6,292.7 871.0,297.5 871.4,301.0 871.8,298.5 872.1,299.4 872.5,304.4 872.9,307.8 873.2,306.8 873.6,308.1 874.0,311.8 874.3,316.6 874.7,314.2 875.1,314.5 875.5,315.9 875.8,312.6 876.2,308.8 876.6,308.0 876.9,304.7 877.3,300.8 877.7,296.6 878.0,293.3 878.4,291.6 878.8,285.4 879.2,292.7 879.5,308.8 879.9,323.5 880.3,328.2 880.6,326.2 881.0,333.4 881.4,327.6 881.7,325.2 882.1,321.2 882.5,320.6 882.9,319.0 883.2,321.1 883.6,317.9 884.0,315.8 884.3,314.3 884.7,311.9 885.1,312.4 885.4,310.2 885.8,307.4 886.2,305.4 886.6,307.2 886.9,304.1 887.3,300.8 887.7,293.8 888.0,293.4 888.4,294.2 888.8,288.5 889.1,286.8 889.5,282.0 889.9,279.5 890.3,274.2 890.6,272.3 891.0,267.0 891.4,260.8 891.7,256.7 892.1,252.5 892.5,254.4 892.8,252.2 893.2,252.4 893.6,252.9 894.0,254.7 894.3,253.2 894.7,252.6 895.1,252.0 895.4,253.9 895.8,252.7 896.2,254.0 896.5,254.4 896.9,251.8 897.3,252.1 897.7,252.0 898.0,252.1 898.4,253.6 898.8,255.6 899.1,256.3 899.5,254.4 899.9,255.6 900.2,257.6 900.6,263.6 901.0,269.3 901.4,270.2 901.7,271.0 902.1,272.4 902.5,272.2 902.8,275.6 903.2,277.4 903.6,279.5 903.9,282.3 904.3,281.8 904.7,283.5 905.1,284.0 905.4,289.1 905.8,287.3 906.2,288.2 906.5,295.2 906.9,293.0 907.3,292.0 907.6,298.6 908.0,299.2 908.4,298.8 908.8,301.9 909.1,299.0 909.5,303.5 909.9,304.4 910.2,305.4 910.6,307.8 911.0,311.2 911.3,320.1 911.7,321.2 912.1,318.2 912.5,321.4 912.8,324.7 913.2,326.1 913.6,330.1 913.9,328.7 914.3,321.9 914.7,309.4 915.0,301.1 915.4,308.3 915.8,312.2 916.2,318.2 916.5,319.4 916.9,318.3 917.3,324.8 917.6,325.7 918.0,330.9 918.4,332.6 918.7,333.1 919.1,330.0 919.5,333.6 919.9,328.2 920.2,326.7 920.6,329.0 921.0,320.9 921.3,323.9 921.7,318.8 922.1,321.8 922.4,318.0 922.8,316.7 923.2,316.1 923.6,317.7 923.9,311.5 924.3,311.6 924.7,307.0 925.0,308.5 925.4,304.9 925.8,309.8 926.1,309.6 926.5,304.1 926.9,301.5 927.3,304.8 927.6,302.7 928.0,300.8 928.4,309.5 928.7,314.1 929.1,320.9 929.5,329.2 929.8,336.1 930.2,338.3 930.6,346.8 931.0,350.4 931.3,340.2 931.7,337.8 932.1,329.0 932.4,320.7 932.8,313.2 933.2,305.5 933.5,300.7 933.9,301.7 934.3,308.4 934.7,313.0 935.0,319.3 935.4,320.4 935.8,319.2 936.1,326.7 936.5,324.7 936.9,328.6 937.2,331.1 937.6,331.5 938.0,337.5 938.4,338.4 938.7,337.3 939.1,340.7 939.5,344.4 939.8,342.5 940.2,343.5 940.6,347.6 940.9,345.9 941.3,349.5 941.7,350.1 942.1,351.4 942.4,357.7 942.8,356.3 943.2,356.1 943.5,355.3 943.9,354.5 944.3,352.6 944.6,350.0 945.0,351.5 945.4,353.8 945.8,352.6 946.1,349.3 946.5,354.1 946.9,345.5 947.2,347.6 947.6,339.8 948.0,342.9 948.3,341.2 948.7,336.8 949.1,340.2 949.5,339.4 949.8,334.7 950.2,338.2 950.6,335.5 950.9,331.6 951.3,331.4 951.7,333.1 952.0,333.8 952.4,329.8 952.8,326.6 953.2,328.8 953.5,323.9 953.9,329.4 954.3,328.9 954.6,322.2 955.0,322.3 955.4,325.1 955.7,323.7 956.1,326.0 956.5,319.3 956.9,324.6 957.2,320.5 957.6,316.3 958.0,317.9 958.3,318.1 958.7,317.6 959.1,318.5 959.4,318.0 959.8,319.9 960.2,319.5 960.6,319.5 960.9,320.6 961.3,320.9 961.7,327.2 962.0,322.5 962.4,322.2 962.8,323.9 963.1,331.7 963.5,324.9 963.9,328.8 964.3,330.3 964.6,343.4 965.0,336.6 965.4,343.3 965.7,344.7 966.1,351.2 966.5,355.2 966.8,358.7 967.2,361.8 967.6,361.1 968.0,357.2 968.3,359.5 968.7,362.6 969.1,352.8 969.4,349.9 969.8,348.4 970.2,351.4 970.5,352.5 970.9,349.8 971.3,351.0 971.7,348.3 972.0,351.1 972.4,349.3 972.8,350.3 973.1,353.6 973.5,359.1 973.9,354.7 974.2,358.5 974.6,358.0 975.0,355.1 975.4,357.3 975.7,358.3 976.1,360.3 976.5,357.2 976.8,353.0 977.2,359.3 977.6,347.7 977.9,350.0 978.3,345.8 978.7,354.6 979.1,349.4 979.4,340.2 979.8,342.7 980.2,345.1 980.5,341.1 980.9,335.1 981.3,345.1 981.6,341.7 982.0,346.0 982.4,346.7 982.8,348.0 983.1,355.2 983.5,353.4 983.9,353.3 984.2,354.0 984.6,365.0 985.0,365.4 985.3,366.0 985.7,364.4 986.1,366.8 986.5,370.3 986.8,362.1 987.2,362.1 987.6,363.7 987.9,366.6 988.3,356.5 988.7,361.2 989.0,353.1 989.4,357.8 989.8,349.3 990.2,342.2 990.5,347.3 990.9,346.0 991.3,343.8 991.6,349.9 992.0,345.3 992.4,349.0 992.7,344.0 993.1,349.5 993.5,345.1 993.9,345.0 994.2,349.0 994.6,349.3 995.0,346.0 995.3,345.9 995.7,343.3 996.1,341.7 996.4,336.1 996.8,334.7 997.2,335.6 997.6,337.0 997.9,329.4 998.3,327.3 998.7,331.1 999.0,326.6 999.4,326.1 999.8,322.3 1000.1,317.4 1000.5,319.7 1000.9,324.4 1001.3,324.9 1001.6,315.6 1002.0,316.1 1002.4,318.0 1002.7,308.3 1003.1,306.3 1003.5,305.4 1003.8,305.7"/>
<polyline fill="none" stroke="#000" stroke-width="0.65" stroke-linejoin="bevel" points="215.0,384.0 215.5,387.4 216.0,388.1 216.5,388.6 217.0,386.6 217.5,382.9 218.0,383.9 218.5,388.3 219.0,383.6 219.5,385.5 220.0,384.8 220.5,385.2 221.0,385.5 221.5,384.6 222.0,384.2 222.5,384.3 223.0,384.2 223.5,387.5 224.0,385.5 224.5,384.0 225.0,381.2 225.5,387.5 226.0,385.8 226.5,382.6 227.0,386.0 227.5,385.0 228.0,388.7 228.5,384.3 229.0,383.4 229.5,384.0 230.0,386.4 230.5,383.5 231.0,389.5 231.5,385.5 232.0,389.3 232.5,387.3 233.0,387.2 233.5,387.0 234.0,385.5 234.5,388.1 235.0,389.8 235.5,384.8 236.0,389.1 236.5,384.8 237.0,387.5 237.5,386.2 238.0,385.1 238.5,388.4 239.0,386.6 239.5,384.1 240.0,382.2 240.5,385.5 241.0,386.3 241.5,387.0 242.0,385.2 242.5,385.6 243.0,388.1 243.5,383.1 244.0,388.0 244.5,388.3 245.0,388.1 245.5,390.8 246.0,386.8 246.5,388.2 247.0,387.8 247.5,384.4 248.0,384.3 248.5,388.0 249.0,385.2 249.5,388.8 250.0,388.5 250.5,388.1 251.0,387.8 251.5,387.8 252.0,390.8 252.5,388.7 253.0,389.2 253.5,386.7 254.0,386.3 254.5,384.6 255.0,387.1 255.5,385.7 256.0,382.1 256.5,388.7 257.0,387.2 257.5,388.2 258.0,390.8 258.5,385.7 259.0,381.5 259.5,384.0 260.0,376.2 260.5,373.9 261.0,372.0 261.5,371.3 262.0,372.3 262.5,369.4 263.0,371.1 263.5,370.8 264.0,369.9 264.5,372.8 265.0,369.1 265.5,368.6 266.0,366.6 266.5,365.9 267.0,371.4 267.5,367.0 268.0,369.6 268.5,367.2 269.0,369.3 269.5,368.7 270.0,377.6 270.5,368.7 271.0,373.1 271.5,370.9 272.0,371.7 272.5,378.3 273.0,371.2 273.5,378.0 274.0,377.0 274.5,381.1 275.0,378.1 275.5,378.1 276.0,382.2 276.5,379.8 277.0,375.0 277.5,379.5 278.0,379.8 278.5,378.2 279.0,377.9 279.5,374.0 280.0,375.5 280.5,372.8 281.0,371.1 281.5,371.8 282.0,370.4 282.5,370.3 283.0,369.8 283.5,369.7 284.0,366.5 284.5,365.9 285.0,367.1 285.5,366.6 286.0,363.2 286.5,368.1 287.0,363.8 287.5,362.5 288.0,364.5 288.5,363.4 289.0,366.1 289.5,362.5 290.0,363.2 290.5,359.7 291.0,360.4 291.5,362.1 292.0,363.3 292.5,361.4 293.0,363.3 293.5,362.7 294.0,359.6 294.5,359.3 295.0,358.3 295.5,359.8 296.0,361.6 296.5,357.6 297.0,356.7 297.5,357.7 298.0,359.6 298.5,354.9 299.0,358.7 299.5,353.3 300.0,355.8 300.5,355.7 301.0,356.1 301.5,354.5 302.0,357.6 302.5,352.1 303.0,355.7 303.5,353.8 304.0,354.2 304.5,354.5 305.0,355.4 305.5,355.7 306.0,355.3 306.5,356.4 307.0,353.2 307.5,358.7 308.0,359.6 308.5,355.4 309.0,354.1 309.5,359.0 310.0,357.5 310.5,357.9 311.0,353.9 311.5,355.7 312.0,354.3 312.5,354.1 313.0,354.1 313.5,354.7 314.0,354.7 314.5,354.6 315.0,356.2 315.5,359.3 316.0,356.8 316.5,357.1 317.0,356.6 317.5,360.3 318.0,355.4 318.5,355.9 319.0,356.9 319.5,354.3 320.0,358.2 320.5,358.6 321.0,356.3 321.5,356.9 322.0,357.6 322.5,361.2 323.0,360.9 323.5,363.4 324.0,363.5 324.5,363.2 325.0,365.1 325.5,368.5 326.0,367.7 326.5,370.0 327.0,369.8 327.5,373.6 328.0,373.3 328.5,370.6 329.0,367.2 329.5,364.8 330.0,362.3 330.5,359.4 331.0,362.1 331.5,354.8 332.0,354.8 332.5,347.0 333.0,347.2 333.5,350.0 334.0,347.0 334.5,355.5 335.0,348.9 335.5,351.7 336.0,348.0 336.5,351.6 337.0,349.5 337.5,349.9 338.0,350.5 338.5,353.5 339.0,353.7 339.5,352.1 340.0,352.1 340.5,353.1 341.0,353.1 341.5,352.7 342.0,350.8 342.5,349.1 343.0,351.2 343.5,350.7 344.0,348.9 344.5,350.2 345.0,352.4 345.5,350.3 346.0,349.2 346.5,349.5 347.0,351.9 347.5,351.6 348.0,352.0 348.5,353.2 349.0,350.0 349.5,352.1 350.0,352.2 350.5,349.7 351.0,351.7 351.5,350.5 352.0,351.9 352.5,351.8 353.0,349.9 353.5,349.8 354.0,350.6 354.5,350.3 355.0,349.1 355.5,349.2 356.0,349.7 356.5,348.5 357.0,348.2 357.5,349.4 358.0,351.7 358.5,345.8 359.0,351.7 359.5,348.9 360.0,352.8 360.5,347.2 361.0,346.5 361.5,347.5 362.0,347.1 362.5,347.7 363.0,343.2 363.5,343.9 364.0,341.3 364.5,342.4 365.0,342.7 365.5,339.8 366.0,339.3 366.5,338.5 367.0,338.7 367.5,340.5 368.0,337.2 368.5,335.5 369.0,334.1 369.5,338.1 370.0,335.6 370.5,335.2 371.0,335.2 371.5,335.1 372.0,338.1 372.5,335.9 373.0,341.0 373.5,335.9 374.0,338.9 374.5,336.7 375.0,339.9 375.5,339.9 376.0,340.7 376.5,338.7 377.0,339.7 377.5,340.5 378.0,344.3 378.5,342.3 379.0,342.5 379.5,344.8 380.0,346.1 380.5,343.7 381.0,343.1 381.5,339.2 382.0,338.4 382.5,337.0 383.0,335.3 383.5,338.2 384.0,337.1 384.5,332.3 385.0,331.0 385.5,331.8 386.0,329.2 386.5,329.2 387.0,328.2 387.5,325.2 388.0,322.2 388.5,324.8 389.0,320.3 389.5,318.9 390.0,316.2 390.5,314.4 391.0,313.6 391.5,310.1 392.0,309.4 392.5,306.6 393.0,304.0 393.5,303.7 394.0,307.6 394.5,310.6 395.0,315.6 395.5,318.7 396.0,322.4 396.5,324.6 397.0,331.4 397.5,330.9 398.0,334.3 398.5,333.6 399.0,333.5 399.5,334.8 400.0,335.1 400.5,336.3 401.0,338.9 401.5,340.6 402.0,336.5 402.5,339.5 403.0,341.4 403.5,339.5 404.0,344.3 404.5,345.0 405.0,342.5 405.5,342.9 406.0,340.7 406.5,338.7 407.0,337.4 407.5,337.3 408.0,341.7 408.5,338.5 409.0,339.1 409.5,339.6 410.0,337.5 410.5,334.5 411.0,336.5 411.5,334.7 412.0,339.9 412.5,336.3 413.0,336.1 413.5,336.8 414.0,337.1 414.5,336.7 415.0,335.0 415.5,335.8 416.0,337.1 416.5,338.5 417.0,336.7 417.5,341.1 418.0,340.0 418.5,338.4 419.0,338.4 419.5,338.1 420.0,337.4 420.5,339.7 421.0,342.6 421.5,339.0 422.0,340.4 422.5,344.5 423.0,347.3 423.5,350.1 424.0,348.3 424.5,346.4 425.0,351.5 425.5,354.8 426.0,354.8 426.5,354.6 427.0,357.5 427.5,356.9 428.0,356.7 428.5,358.1 429.0,355.5 429.5,353.9 430.0,356.5 430.5,356.4 431.0,359.1 431.5,359.0 432.0,358.9 432.5,360.9 433.0,359.3 433.5,360.1 434.0,360.6 434.5,362.6 435.0,361.9 435.5,360.3 436.0,361.4 436.5,361.5 437.0,362.6 437.5,362.7 438.0,361.6 438.5,362.2 439.0,362.3 439.5,364.0 440.0,365.4 440.5,363.2 441.0,364.4 441.5,364.6 442.0,364.2 442.5,368.1 443.0,365.3 443.5,368.2 444.0,367.7 444.5,366.2 445.0,367.8 445.5,366.3 446.0,367.3 446.5,367.5 447.0,367.9 447.5,366.1 448.0,362.9 448.5,366.2 449.0,365.4 449.5,364.7 450.0,363.2 450.5,361.9 451.0,362.5 451.5,364.1 452.0,367.9 452.5,371.6 453.0,375.0 453.5,377.2 454.0,380.2 454.5,389.4 455.0,395.5 455.5,403.4 456.0,411.5 456.5,418.3 457.0,423.9 457.5,428.4 458.0,433.7 458.5,438.7 459.0,442.1 459.5,447.0 460.0,451.9 460.5,457.2 461.0,459.2 461.5,454.6 462.0,451.1 462.5,447.0 463.0,445.6 463.5,447.4 464.0,448.3 464.5,450.6 465.0,442.1 465.5,431.9 466.0,423.6 466.5,416.5 467.0,408.8 467.5,402.3 468.0,394.8 468.5,388.3 469.0,382.3 469.5,375.4 470.0,371.2 470.5,364.1 471.0,362.5 471.5,366.3 472.0,371.3 472.5,376.4 473.0,381.4 473.5,383.6 474.0,386.4 474.5,388.2 475.0,390.4 475.5,393.4 476.0,396.0 476.5,399.6 477.0,400.6 477.5,403.5 478.0,405.3 478.5,405.8 479.0,408.3 479.5,409.0 480.0,406.2 480.5,402.5 481.0,400.1 481.5,391.9 482.0,382.7 482.5,375.0 483.0,364.9 483.5,358.7 484.0,352.6 484.5,345.6 485.0,335.8 485.5,324.8 486.0,313.1 486.5,300.3 487.0,283.3 487.5,266.8 488.0,249.2 488.5,264.9 489.0,279.6 489.5,306.2 490.0,329.5 490.5,328.2 491.0,325.2 491.5,323.6 492.0,321.9 492.5,322.5 493.0,320.1 493.5,317.0 494.0,316.4 494.5,308.9 495.0,302.5 495.5,296.4 496.0,289.6 496.5,283.3 497.0,277.3 497.5,269.9 498.0,264.3 498.5,257.8 499.0,250.4 499.5,258.6 500.0,264.5 500.5,270.4 501.0,276.0 501.5,278.4 502.0,284.7 502.5,289.5 503.0,295.7 503.5,294.8 504.0,293.0 504.5,293.2 505.0,291.3 505.5,289.8 506.0,291.0 506.5,285.9 507.0,282.1 507.5,278.6 508.0,275.2 508.5,266.4 509.0,258.2 509.5,250.6 510.0,239.4 510.5,234.3 511.0,230.4 511.5,222.8 512.0,218.9 512.5,214.2 513.0,210.4 513.5,211.6 514.0,216.2 514.5,221.0 515.0,222.8 515.5,223.6 516.0,227.6 516.5,228.6 517.0,228.6 517.5,229.6 518.0,233.4 518.5,248.6 519.0,263.1 519.5,279.6 520.0,288.0 520.5,294.6 521.0,303.6 521.5,297.9 522.0,290.4 522.5,284.3 523.0,279.2 523.5,268.8 524.0,256.5 524.5,246.6 525.0,236.5 525.5,228.4 526.0,219.8 526.5,214.8 527.0,210.0 527.5,210.6 528.0,211.2 528.5,215.3 529.0,217.4 529.5,222.3 530.0,221.6 530.5,223.7 531.0,225.9 531.5,227.1 532.0,230.0 532.5,231.7 533.0,233.3 533.5,238.8 534.0,237.1 534.5,241.7 535.0,246.5 535.5,249.3 536.0,252.7 536.5,257.9 537.0,262.1 537.5,263.5 538.0,265.2 538.5,266.9 539.0,268.9 539.5,264.1 540.0,259.1 540.5,254.1 541.0,249.3 541.5,246.8 542.0,240.7 542.5,237.8 543.0,235.8 543.5,230.0 544.0,225.0 544.5,227.5 545.0,226.9 545.5,227.3 546.0,232.5 546.5,229.0 547.0,230.1 547.5,231.1 548.0,228.7 548.5,232.1 549.0,228.8 549.5,231.3 550.0,230.7 550.5,233.1 551.0,231.1 551.5,231.4 552.0,231.4 552.5,232.8 553.0,234.2 553.5,230.7 554.0,230.3 554.5,228.8 555.0,229.3 555.5,229.8 556.0,228.6 556.5,228.7 557.0,227.0 557.5,226.6 558.0,225.5 558.5,226.9 559.0,227.0 559.5,226.2 560.0,228.4 560.5,229.3 561.0,231.7 561.5,234.1 562.0,241.0 562.5,243.5 563.0,250.0 563.5,257.8 564.0,267.5 564.5,271.3 565.0,279.5 565.5,280.1 566.0,279.6 566.5,282.7 567.0,283.1 567.5,285.9 568.0,288.8 568.5,289.5 569.0,286.8 569.5,290.7 570.0,290.6 570.5,290.1 571.0,290.0 571.5,289.8 572.0,287.0 572.5,291.1 573.0,288.9 573.5,289.9 574.0,287.5 574.5,288.2 575.0,290.2 575.5,289.7 576.0,293.2 576.5,289.2 577.0,290.8 577.5,289.3 578.0,290.7 578.5,287.7 579.0,290.9 579.5,289.5 580.0,287.4 580.5,290.0 581.0,289.5 581.5,292.2 582.0,287.4 582.5,288.6 583.0,284.6 583.5,290.6 584.0,292.7 584.5,290.2 585.0,292.5 585.5,288.2 586.0,291.8 586.5,290.6 587.0,291.1 587.5,288.6 588.0,287.7 588.5,293.6 589.0,289.7 589.5,289.1 590.0,288.1 590.5,289.8 591.0,287.8 591.5,287.8 592.0,287.3 592.5,288.7 593.0,286.6 593.5,290.5 594.0,288.2 594.5,288.0 595.0,287.5 595.5,286.6 596.0,285.4 596.5,287.1 597.0,289.7 597.5,285.7 598.0,284.9 598.5,290.3 599.0,285.3 599.5,286.4 600.0,283.0 600.5,283.7 601.0,283.2 601.5,287.5 602.0,281.8 602.5,282.1 603.0,286.0 603.5,282.3 604.0,279.8 604.5,282.2 605.0,284.1 605.5,280.9 606.0,278.8 606.5,282.2 607.0,281.4 607.5,281.7 608.0,285.0 608.5,284.3 609.0,282.9 609.5,282.8 610.0,285.5 610.5,288.0 611.0,289.4 611.5,289.4 612.0,288.2 612.5,288.9 613.0,289.6 613.5,290.5 614.0,292.4 614.5,294.5 615.0,294.4 615.5,294.5 616.0,298.3 616.5,300.7 617.0,299.7 617.5,302.5 618.0,303.9 618.5,303.3 619.0,302.9 619.5,305.1 620.0,307.1 620.5,307.1 621.0,309.2 621.5,309.0 622.0,309.5 622.5,311.2 623.0,309.8 623.5,313.4 624.0,315.3 624.5,314.9 625.0,313.5 625.5,313.4 626.0,312.8 626.5,313.4 627.0,314.2 627.5,315.6 628.0,313.9 628.5,316.3 629.0,317.3 629.5,317.4 630.0,318.0 630.5,319.0 631.0,317.6 631.5,318.4 632.0,318.5 632.5,317.0 633.0,318.0 633.5,317.4 634.0,318.7 634.5,322.8 635.0,320.2 635.5,322.4 636.0,320.0 636.5,323.5 637.0,324.7 637.5,324.6 638.0,326.0 638.5,328.1 639.0,328.9 639.5,329.8 640.0,331.6 640.5,333.0 641.0,332.5 641.5,334.7 642.0,336.2 642.5,336.0 643.0,337.9 643.5,336.4 644.0,338.2 644.5,337.4 645.0,337.1 645.5,344.4 646.0,341.9 646.5,342.8 647.0,343.7 647.5,340.9 648.0,339.4 648.5,343.2 649.0,339.7 649.5,342.7 650.0,345.4 650.5,345.9 651.0,344.1 651.5,345.0 652.0,346.8 652.5,349.9 653.0,346.6 653.5,350.2 654.0,349.2 654.5,348.4 655.0,347.6 655.5,348.8 656.0,346.7 656.5,342.3 657.0,337.6 657.5,338.5 658.0,334.4 658.5,336.2 659.0,329.8 659.5,324.7 660.0,322.4 660.5,318.3 661.0,313.4 661.5,311.9 662.0,306.7 662.5,303.8 663.0,300.2 663.5,298.9 664.0,295.2 664.5,294.5 665.0,291.1 665.5,295.7 666.0,297.9 666.5,298.9 667.0,303.9 667.5,306.1 668.0,307.2 668.5,310.3 669.0,311.0 669.5,314.5 670.0,317.0 670.5,320.9 671.0,322.6 671.5,325.7 672.0,325.7 672.5,326.0 673.0,330.8 673.5,332.1 674.0,331.9 674.5,332.0 675.0,335.5 675.5,332.4 676.0,328.9 676.5,328.0 677.0,326.9 677.5,320.2 678.0,316.9 678.5,316.4 679.0,311.9 679.5,309.8 680.0,306.1 680.5,312.1 681.0,315.4 681.5,317.9 682.0,322.3 682.5,327.7 683.0,329.9 683.5,334.0 684.0,340.9 684.5,344.2 685.0,349.4 685.5,354.7 686.0,361.7 686.5,362.9 687.0,365.8 687.5,373.1 688.0,375.6 688.5,377.0 689.0,381.3 689.5,385.2 690.0,386.7 690.5,388.6 691.0,391.8 691.5,392.7 692.0,396.4 692.5,395.5 693.0,394.4 693.5,391.4 694.0,392.3 694.5,389.4 695.0,385.2 695.5,383.3 696.0,379.4 696.5,376.5 697.0,374.7 697.5,373.9 698.0,373.5 698.5,370.2 699.0,371.0 699.5,368.6 700.0,367.1 700.5,368.6 701.0,364.7 701.5,364.1 702.0,365.1 702.5,362.0 703.0,363.6 703.5,361.4 704.0,360.4 704.5,357.8 705.0,361.2 705.5,358.3 706.0,355.9 706.5,354.1 707.0,353.7 707.5,354.0 708.0,349.2 708.5,348.7 709.0,349.0 709.5,348.7 710.0,345.9 710.5,345.8 711.0,341.4 711.5,344.7 712.0,342.3 712.5,340.1 713.0,338.6 713.5,337.3 714.0,336.3 714.5,334.8 715.0,333.0 715.5,334.5 716.0,329.8 716.5,334.7 717.0,336.6 717.5,341.7 718.0,341.7 718.5,346.7 719.0,347.0 719.5,348.9 720.0,352.5 720.5,353.6 721.0,355.1 721.5,355.4 722.0,352.7 722.5,351.1 723.0,350.1 723.5,352.7 724.0,347.5 724.5,345.7 725.0,344.9 725.5,344.2 726.0,343.5 726.5,343.2 727.0,342.6 727.5,343.9 728.0,345.1 728.5,349.3 729.0,351.2 729.5,352.0 730.0,351.2 730.5,354.9 731.0,356.3 731.5,356.3 732.0,360.6 732.5,363.4 733.0,365.9 733.5,369.3 734.0,372.9 734.5,367.4 735.0,367.1 735.5,360.5 736.0,356.5 736.5,353.3 737.0,348.5 737.5,351.4 738.0,346.2 738.5,344.9 739.0,343.4 739.5,342.5 740.0,342.1 740.5,337.4 741.0,331.7 741.5,328.9 742.0,325.8 742.5,324.0 743.0,319.9 743.5,316.3 744.0,312.2 744.5,308.2 745.0,305.5 745.5,304.8 746.0,299.7 746.5,296.4 747.0,293.6 747.5,290.6 748.0,286.4 748.5,285.5 749.0,282.5 749.5,278.5 750.0,274.2 750.5,267.4 751.0,262.4 751.5,254.3 752.0,258.9 752.5,263.7 753.0,270.5 753.5,272.2 754.0,276.4 754.5,279.0 755.0,284.2 755.5,281.4 756.0,281.8 756.5,283.5 757.0,281.8 757.5,283.9 758.0,281.7 758.5,281.4 759.0,284.7 759.5,280.2 760.0,282.1 760.5,284.1 761.0,282.3 761.5,282.0 762.0,282.9 762.5,283.9 763.0,284.4 763.5,284.4 764.0,282.6 764.5,285.1 765.0,284.4 765.5,283.0 766.0,285.5 766.5,285.4 767.0,286.5 767.5,287.1 768.0,289.6 768.5,290.9 769.0,289.9 769.5,290.3 770.0,288.9 770.5,291.5 771.0,292.5 771.5,289.8 772.0,295.1 772.5,293.1 773.0,294.6 773.5,294.0 774.0,296.1 774.5,295.1 775.0,295.4 775.5,296.1 776.0,296.8 776.5,294.7 777.0,296.8 777.5,293.4 778.0,295.6 778.5,293.0 779.0,294.0 779.5,294.1 780.0,292.2 780.5,290.8 781.0,291.0 781.5,291.8 782.0,290.0 782.5,289.8 783.0,289.3 783.5,291.0 784.0,287.5 784.5,287.5 785.0,288.0 785.5,285.6 786.0,289.3 786.5,287.5 787.0,290.2 787.5,289.6 788.0,292.2 788.5,291.1 789.0,292.8 789.5,291.7 790.0,291.5 790.5,293.9 791.0,293.2 791.5,292.1 792.0,293.4 792.5,295.2 793.0,295.9 793.5,294.5 794.0,296.3 794.5,295.1 795.0,299.1 795.5,296.2 796.0,295.7 796.5,299.6 797.0,296.0 797.5,297.6 798.0,297.0 798.5,295.9 799.0,297.4 799.5,296.9 800.0,299.2 800.5,298.1 801.0,297.4 801.5,296.6 802.0,297.6 802.5,299.2 803.0,297.2 803.5,297.5 804.0,299.4 804.5,297.3 805.0,299.3 805.5,297.8 806.0,299.9 806.5,301.8 807.0,298.7 807.5,299.8 808.0,298.7 808.5,298.7 809.0,298.8 809.5,296.7 810.0,296.8 810.5,295.2 811.0,298.3 811.5,300.3 812.0,301.2 812.5,298.9 813.0,300.8 813.5,298.4 814.0,298.4 814.5,300.1 815.0,298.6 815.5,297.7 816.0,298.7 816.5,299.2 817.0,297.0 817.5,297.4 818.0,297.8 818.5,296.4 819.0,295.6 819.5,297.5 820.0,296.5 820.5,296.7 821.0,295.0 821.5,294.4 822.0,295.5 822.5,293.8 823.0,295.4 823.5,296.3 824.0,295.1 824.5,294.9 825.0,294.0 825.5,293.9 826.0,294.1 826.5,295.0 827.0,293.0 827.5,293.2 828.0,295.1 828.5,292.3 829.0,292.1 829.5,293.2 830.0,294.5 830.5,292.5 831.0,293.0 831.5,292.4 832.0,287.8 832.5,288.1 833.0,289.0 833.5,287.5 834.0,287.8 834.5,287.1 835.0,286.1 835.5,286.0 836.0,283.3 836.5,282.7 837.0,282.2 837.5,281.2 838.0,284.7 838.5,287.3 839.0,292.4 839.5,293.7 840.0,297.0 840.5,302.3 841.0,307.1 841.5,312.2 842.0,316.3 842.5,321.5 843.0,324.7 843.5,328.9 844.0,331.8 844.5,333.5 845.0,336.1 845.5,339.2 846.0,340.5 846.5,338.7 847.0,335.4 847.5,332.0 848.0,329.2 848.5,326.4 849.0,323.7 849.5,319.5 850.0,317.0 850.5,314.8 851.0,314.2 851.5,309.1 852.0,307.0 852.5,307.5 853.0,301.8 853.5,298.8 854.0,297.0 854.5,299.4 855.0,299.3 855.5,303.1 856.0,303.8 856.5,304.3 857.0,307.9 857.5,309.9 858.0,308.6 858.5,311.3 859.0,316.6 859.5,314.6 860.0,316.9 860.5,318.4 861.0,314.9 861.5,315.0 862.0,316.6 862.5,315.2 863.0,315.0 863.5,317.0 864.0,314.4 864.5,314.3 865.0,311.9 865.5,312.9 866.0,312.4 866.5,310.2 867.0,307.9 867.5,308.2 868.0,306.1 868.5,303.8 869.0,302.0 869.5,300.5 870.0,298.4 870.5,295.4 871.0,294.9 871.5,297.6 872.0,300.9 872.5,305.4 873.0,306.0 873.5,312.1 874.0,314.9 874.5,314.7 875.0,315.4 875.5,314.4 876.0,308.6 876.5,307.5 877.0,301.2 877.5,298.5 878.0,294.4 878.5,291.6 879.0,286.7 879.5,311.0 880.0,329.7 880.5,326.6 881.0,326.3 881.5,324.8 882.0,322.6 882.5,320.5 883.0,317.3 883.5,317.9 884.0,313.8 884.5,313.3 885.0,312.3 885.5,311.5 886.0,306.1 886.5,305.9 887.0,300.5 887.5,297.5 888.0,297.2 888.5,290.4 889.0,288.7 889.5,283.5 890.0,278.0 890.5,272.7 891.0,267.1 891.5,260.3 892.0,252.9 892.5,252.2 893.0,252.8 893.5,251.5 894.0,252.4 894.5,251.6 895.0,251.6 895.5,250.7 896.0,252.0 896.5,251.8 897.0,254.3 897.5,253.1 898.0,253.3 898.5,255.4 899.0,254.2 899.5,255.8 900.0,255.2 900.5,261.7 901.0,266.8 901.5,272.4 902.0,273.7 902.5,275.0 903.0,276.0 903.5,278.9 904.0,280.5 904.5,282.2 905.0,284.8 905.5,286.9 906.0,289.5 906.5,294.7 907.0,292.8 907.5,295.1 908.0,297.2 908.5,298.3 909.0,300.8 909.5,304.6 910.0,307.3 910.5,309.2 911.0,313.6 911.5,314.0 912.0,319.4 912.5,323.5 913.0,325.8 913.5,327.0 914.0,331.3 914.5,314.7 915.0,299.9 915.5,307.0 916.0,315.8 916.5,321.1 917.0,321.6 917.5,328.1 918.0,329.6 918.5,335.6 919.0,330.6 919.5,331.1 920.0,327.7 920.5,324.0 921.0,324.6 921.5,322.5 922.0,320.0 922.5,316.7 923.0,317.7 923.5,313.9 924.0,312.7 924.5,311.5 925.0,308.6 925.5,308.6 926.0,304.9 926.5,303.3 927.0,302.8 927.5,303.6 928.0,301.6 928.5,310.9 929.0,320.7 929.5,329.8 930.0,336.1 930.5,344.3 931.0,350.4 931.5,339.0 932.0,329.7 932.5,320.8 933.0,308.0 933.5,297.6 934.0,302.9 934.5,309.2 935.0,313.0 935.5,319.0 936.0,323.0 936.5,327.0 937.0,330.7 937.5,331.3 938.0,333.6 938.5,340.1 939.0,340.1 939.5,342.6 940.0,346.0 940.5,346.6 941.0,353.1 941.5,352.9 942.0,354.0 942.5,357.5 943.0,356.8 943.5,356.0 944.0,355.0 944.5,352.5 945.0,353.1 945.5,350.7 946.0,349.1 946.5,348.4 947.0,344.9 947.5,343.5 948.0,344.1 948.5,342.1 949.0,338.7 949.5,338.2 950.0,338.7 950.5,334.3 951.0,334.8 951.5,333.6 952.0,329.7 952.5,327.5 953.0,327.7 953.5,328.3 954.0,324.7 954.5,323.5 955.0,322.8 955.5,323.4 956.0,321.2 956.5,322.6 957.0,317.7 957.5,319.0 958.0,318.1 958.5,317.5 959.0,316.9 959.5,316.9 960.0,317.6 960.5,318.7 961.0,319.8 961.5,320.6 962.0,320.7 962.5,325.7 963.0,324.2 963.5,324.5 964.0,327.3 964.5,331.9 965.0,336.9 965.5,344.5 966.0,348.8 966.5,357.1 967.0,359.5 967.5,356.5 968.0,357.7 968.5,355.9 969.0,354.7 969.5,354.4 970.0,350.4 970.5,349.7 971.0,347.5 971.5,350.5 972.0,347.4 972.5,350.5 973.0,352.8 973.5,355.9 974.0,357.5 974.5,357.4 975.0,363.1 975.5,359.9 976.0,355.1 976.5,356.1 977.0,358.7 977.5,354.6 978.0,346.0 978.5,346.2 979.0,347.8 979.5,342.2 980.0,344.9 980.5,343.4 981.0,337.5 981.5,338.8 982.0,347.7 982.5,344.4 983.0,346.4 983.5,353.0 984.0,352.0 984.5,360.4 985.0,361.2 985.5,366.3 986.0,371.6 986.5,362.6 987.0,363.9 987.5,363.4 988.0,360.2 988.5,355.6 989.0,356.3 989.5,350.7 990.0,346.8 990.5,344.0 991.0,346.2 991.5,340.6 992.0,343.7 992.5,344.3 993.0,346.7 993.5,346.7 994.0,351.2 994.5,352.2 995.0,347.9 995.5,344.0 996.0,342.9 996.5,340.4 997.0,333.9 997.5,332.9 998.0,328.0 998.5,327.1 999.0,324.6 999.5,322.1 1000.0,322.1 1000.5,319.0 1001.0,320.1 1001.5,315.6 1002.0,314.2 1002.5,312.1 1003.0,312.9 1003.5,308.8 1004.0,306.1"/>
<g>
<rect x="175.5" y="471" width="224.5" height="39.5" fill="#990000"/>
<g fill="#fff" stroke="none">
<path d="M192.2 480 A9.8 7.7 0 0 1 211.8 480 L210.5 480 A8.5 6.5 0 0 0 193.5 480 Z"/>
<rect x="190.8" y="479.4" width="22.4" height="2.2"/>
<rect x="193.3" y="481.4" width="2.9" height="20"/>
<rect x="200.5" y="481.4" width="2.9" height="20"/>
<rect x="207.8" y="481.4" width="2.9" height="20"/>
<path d="M192.2 501 L211.8 501 L214 505.2 L190 505.2 Z"/>
</g>
<text x="221.8" y="477.7" font-size="6.7" font-weight="bold" style="font-family:'Liberation Serif',serif;fill:#fff;stroke:#fff;stroke-width:0.15" textLength="82" lengthAdjust="spacingAndGlyphs">THE UNIVERSITY OF</text>
<text x="216.6" y="505.1" font-size="39.5" style="font-family:'Liberation Serif',serif;fill:#fff;stroke:#fff;stroke-width:0.75" textLength="170" lengthAdjust="spacingAndGlyphs">GEORGIA</text>
</g>
<g stroke="#000" stroke-width="1" fill="none" shape-rendering="crispEdges">
<rect x="175.5" y="72.5" width="869" height="438"/>
<line x1="171" y1="72.5" x2="175.5" y2="72.5"/><line x1="171" y1="151.5" x2="175.5" y2="151.5"/><line x1="171" y1="230.5" x2="175.5" y2="230.5"/><line x1="171" y1="309.5" x2="175.5" y2="309.5"/><line x1="171" y1="388.5" x2="175.5" y2="388.5"/><line x1="171" y1="467.5" x2="175.5" y2="467.5"/><line x1="297.5" y1="510.5" x2="297.5" y2="515.5"/><line x1="489.5" y1="510.5" x2="489.5" y2="515.5"/><line x1="680.5" y1="510.5" x2="680.5" y2="515.5"/><line x1="872.5" y1="510.5" x2="872.5" y2="515.5"/><line x1="182.5" y1="510.5" x2="182.5" y2="513.5"/><line x1="192.5" y1="510.5" x2="192.5" y2="513.5"/><line x1="201.5" y1="510.5" x2="201.5" y2="513.5"/><line x1="211.5" y1="510.5" x2="211.5" y2="513.5"/><line x1="220.5" y1="510.5" x2="220.5" y2="513.5"/><line x1="230.5" y1="510.5" x2="230.5" y2="513.5"/><line x1="240.5" y1="510.5" x2="240.5" y2="513.5"/><line x1="249.5" y1="510.5" x2="249.5" y2="513.5"/><line x1="259.5" y1="510.5" x2="259.5" y2="513.5"/><line x1="268.5" y1="510.5" x2="268.5" y2="513.5"/><line x1="278.5" y1="510.5" x2="278.5" y2="513.5"/><line x1="287.5" y1="510.5" x2="287.5" y2="513.5"/><line x1="307.5" y1="510.5" x2="307.5" y2="513.5"/><line x1="316.5" y1="510.5" x2="316.5" y2="513.5"/><line x1="326.5" y1="510.5" x2="326.5" y2="513.5"/><line x1="335.5" y1="510.5" x2="335.5" y2="513.5"/><line x1="345.5" y1="510.5" x2="345.5" y2="513.5"/><line x1="354.5" y1="510.5" x2="354.5" y2="513.5"/><line x1="364.5" y1="510.5" x2="364.5" y2="513.5"/><line x1="374.5" y1="510.5" x2="374.5" y2="513.5"/><line x1="383.5" y1="510.5" x2="383.5" y2="513.5"/><line x1="393.5" y1="510.5" x2="393.5" y2="513.5"/><line x1="402.5" y1="510.5" x2="402.5" y2="513.5"/><line x1="412.5" y1="510.5" x2="412.5" y2="513.5"/><line x1="422.5" y1="510.5" x2="422.5" y2="513.5"/><line x1="431.5" y1="510.5" x2="431.5" y2="513.5"/><line x1="441.5" y1="510.5" x2="441.5" y2="513.5"/><line x1="450.5" y1="510.5" x2="450.5" y2="513.5"/><line x1="460.5" y1="510.5" x2="460.5" y2="513.5"/><line x1="469.5" y1="510.5" x2="469.5" y2="513.5"/><line x1="479.5" y1="510.5" x2="479.5" y2="513.5"/><line x1="498.5" y1="510.5" x2="498.5" y2="513.5"/><line x1="508.5" y1="510.5" x2="508.5" y2="513.5"/><line x1="517.5" y1="510.5" x2="517.5" y2="513.5"/><line x1="527.5" y1="510.5" x2="527.5" y2="513.5"/><line x1="537.5" y1="510.5" x2="537.5" y2="513.5"/><line x1="546.5" y1="510.5" x2="546.5" y2="513.5"/><line x1="556.5" y1="510.5" x2="556.5" y2="513.5"/><line x1="565.5" y1="510.5" x2="565.5" y2="513.5"/><line x1="575.5" y1="510.5" x2="575.5" y2="513.5"/><line x1="584.5" y1="510.5" x2="584.5" y2="513.5"/><line x1="594.5" y1="510.5" x2="594.5" y2="513.5"/><line x1="604.5" y1="510.5" x2="604.5" y2="513.5"/><line x1="613.5" y1="510.5" x2="613.5" y2="513.5"/><line x1="623.5" y1="510.5" x2="623.5" y2="513.5"/><line x1="632.5" y1="510.5" x2="632.5" y2="513.5"/><line x1="642.5" y1="510.5" x2="642.5" y2="513.5"/><line x1="652.5" y1="510.5" x2="652.5" y2="513.5"/><line x1="661.5" y1="510.5" x2="661.5" y2="513.5"/><line x1="671.5" y1="510.5" x2="671.5" y2="513.5"/><line x1="690.5" y1="510.5" x2="690.5" y2="513.5"/><line x1="699.5" y1="510.5" x2="699.5" y2="513.5"/><line x1="709.5" y1="510.5" x2="709.5" y2="513.5"/><line x1="719.5" y1="510.5" x2="719.5" y2="513.5"/><line x1="728.5" y1="510.5" x2="728.5" y2="513.5"/><line x1="738.5" y1="510.5" x2="738.5" y2="513.5"/><line x1="747.5" y1="510.5" x2="747.5" y2="513.5"/><line x1="757.5" y1="510.5" x2="757.5" y2="513.5"/><line x1="767.5" y1="510.5" x2="767.5" y2="513.5"/><line x1="776.5" y1="510.5" x2="776.5" y2="513.5"/><line x1="786.5" y1="510.5" x2="786.5" y2="513.5"/><line x1="795.5" y1="510.5" x2="795.5" y2="513.5"/><line x1="805.5" y1="510.5" x2="805.5" y2="513.5"/><line x1="814.5" y1="510.5" x2="814.5" y2="513.5"/><line x1="824.5" y1="510.5" x2="824.5" y2="513.5"/><line x1="834.5" y1="510.5" x2="834.5" y2="513.5"/><line x1="843.5" y1="510.5" x2="843.5" y2="513.5"/><line x1="853.5" y1="510.5" x2="853.5" y2="513.5"/><line x1="862.5" y1="510.5" x2="862.5" y2="513.5"/><line x1="882.5" y1="510.5" x2="882.5" y2="513.5"/><line x1="891.5" y1="510.5" x2="891.5" y2="513.5"/><line x1="901.5" y1="510.5" x2="901.5" y2="513.5"/><line x1="910.5" y1="510.5" x2="910.5" y2="513.5"/><line x1="920.5" y1="510.5" x2="920.5" y2="513.5"/><line x1="929.5" y1="510.5" x2="929.5" y2="513.5"/><line x1="939.5" y1="510.5" x2="939.5" y2="513.5"/><line x1="949.5" y1="510.5" x2="949.5" y2="513.5"/><line x1="958.5" y1="510.5" x2="958.5" y2="513.5"/><line x1="968.5" y1="510.5" x2="968.5" y2="513.5"/><line x1="977.5" y1="510.5" x2="977.5" y2="513.5"/><line x1="987.5" y1="510.5" x2="987.5" y2="513.5"/><line x1="997.5" y1="510.5" x2="997.5" y2="513.5"/><line x1="1006.5" y1="510.5" x2="1006.5" y2="513.5"/><line x1="1016.5" y1="510.5" x2="1016.5" y2="513.5"/><line x1="1025.5" y1="510.5" x2="1025.5" y2="513.5"/><line x1="1035.5" y1="510.5" x2="1035.5" y2="513.5"/>
</g>
<text x="609.5" y="36.9" font-size="17.10" text-anchor="middle" textLength="291.5" lengthAdjust="spacingAndGlyphs">Ramses 2018-11-19 to 2018-12-10</text>
<text x="535.3" y="61" font-size="17.1" textLength="153.5" lengthAdjust="spacingAndGlyphs">Salinity PPT (10<tspan dy="-6.5" font-size="11.6">−3</tspan><tspan dy="6.5">)</tspan></text>
<text x="164.7" y="77.7" font-size="13.90" text-anchor="end" textLength="8" lengthAdjust="spacingAndGlyphs">0</text>
<text x="164.7" y="156.7" font-size="13.90" text-anchor="end" textLength="17" lengthAdjust="spacingAndGlyphs">10</text>
<text x="164.7" y="235.7" font-size="13.90" text-anchor="end" textLength="17" lengthAdjust="spacingAndGlyphs">20</text>
<text x="164.7" y="314.7" font-size="13.90" text-anchor="end" textLength="17" lengthAdjust="spacingAndGlyphs">30</text>
<text x="164.7" y="393.7" font-size="13.90" text-anchor="end" textLength="17" lengthAdjust="spacingAndGlyphs">40</text>
<text x="164.7" y="472.7" font-size="13.90" text-anchor="end" textLength="17" lengthAdjust="spacingAndGlyphs">50</text>
<text transform="translate(138,291.5) rotate(-90)" font-size="13.9" text-anchor="middle" textLength="71" lengthAdjust="spacingAndGlyphs">Depth (m)</text>
<text x="609.3" y="572.0" font-size="17.00" text-anchor="middle" textLength="138.5" lengthAdjust="spacingAndGlyphs">Date/Time (UTC)</text>
<text transform="translate(299.0,522) rotate(-90)" font-size="11.1" font-style="italic" text-anchor="end" textLength="30.5" lengthAdjust="spacingAndGlyphs">11-22</text>
<text transform="translate(490.7,522) rotate(-90)" font-size="11.1" font-style="italic" text-anchor="end" textLength="30.5" lengthAdjust="spacingAndGlyphs">11-27</text>
<text transform="translate(682.3,522) rotate(-90)" font-size="11.1" font-style="italic" text-anchor="end" textLength="30.5" lengthAdjust="spacingAndGlyphs">12-02</text>
<text transform="translate(874.0,522) rotate(-90)" font-size="11.1" font-style="italic" text-anchor="end" textLength="30.5" lengthAdjust="spacingAndGlyphs">12-07</text>
<rect x="1097.5" y="72.5" width="22" height="438" fill="url(#cb)"/>
<g stroke="#000" stroke-width="1" fill="none" shape-rendering="crispEdges">
<rect x="1097.5" y="72.5" width="22" height="438"/>
<line x1="1119.5" y1="72.5" x2="1124" y2="72.5"/><line x1="1119.5" y1="160.5" x2="1124" y2="160.5"/><line x1="1119.5" y1="247.5" x2="1124" y2="247.5"/><line x1="1119.5" y1="335.5" x2="1124" y2="335.5"/><line x1="1119.5" y1="422.5" x2="1124" y2="422.5"/><line x1="1119.5" y1="510.5" x2="1124" y2="510.5"/>
</g>
<text x="1127.5" y="77.7" font-size="13.90" text-anchor="start" textLength="17.5" lengthAdjust="spacingAndGlyphs">36</text>
<text x="1127.5" y="165.3" font-size="13.90" text-anchor="start" textLength="17.5" lengthAdjust="spacingAndGlyphs">34</text>
<text x="1127.5" y="252.9" font-size="13.90" text-anchor="start" textLength="17.5" lengthAdjust="spacingAndGlyphs">32</text>
<text x="1127.5" y="340.5" font-size="13.90" text-anchor="start" textLength="17.5" lengthAdjust="spacingAndGlyphs">30</text>
<text x="1127.5" y="428.1" font-size="13.90" text-anchor="start" textLength="17.5" lengthAdjust="spacingAndGlyphs">28</text>
<text x="1127.5" y="515.7" font-size="13.90" text-anchor="start" textLength="17.5" lengthAdjust="spacingAndGlyphs">26</text>
<text transform="translate(1166.5,291.5) rotate(-90)" font-size="13.9" text-anchor="middle" textLength="72" lengthAdjust="spacingAndGlyphs">PPT (10<tspan dy="-5.5" font-size="9.7">−3</tspan><tspan dy="5.5">)</tspan></text>
</svg>
</body></html>
